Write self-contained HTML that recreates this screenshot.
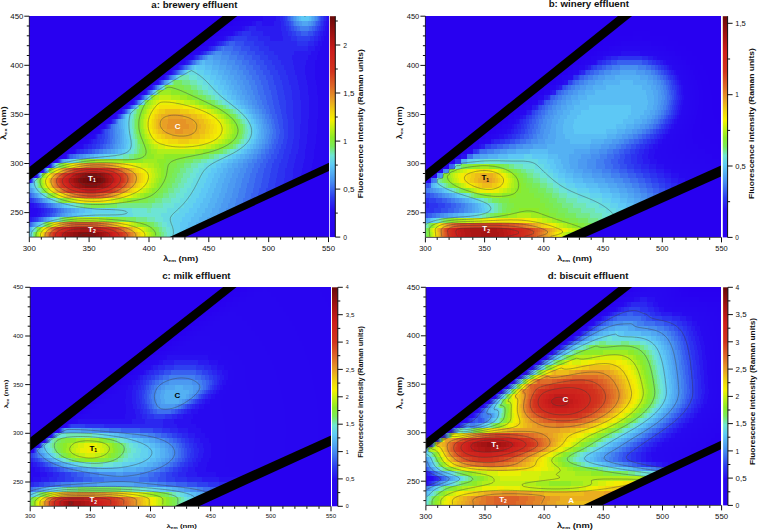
<!DOCTYPE html><html><head><meta charset="utf-8"><style>html,body{margin:0;padding:0;background:#fff;width:758px;height:531px;overflow:hidden}svg{display:block;font-family:"Liberation Sans",sans-serif}</style></head><body><svg width="758" height="531" viewBox="0 0 758 531" font-family="Liberation Sans, sans-serif">
<rect x="29" y="16" width="300" height="221" fill="#2800f0"/>
<path fill="#2801f0" d="M234 16h3v5h-3zM228 21h2v5h-2zM221 26h2v5h-2zM215 31h2v5h-2zM209 36h1v5h-1zM202 41h2v5h-2zM196 46h1v5h-1zM190 51h1v4h-1zM183 55h2v5h-2zM177 60h1v5h-1zM171 65h1v5h-1zM158 75h1v5h-1zM152 80h1v5h-1zM146 85h1v5h-1zM127 100h1v5h-1zM121 105h1v4h-1zM115 109h1v5h-1zM109 114h1v5h-1zM103 119h1v5h-1zM96 124h2v5h-2zM90 129h2v5h-2zM84 134h2v5h-2zM78 139h2v5h-2zM72 144h1v5h-1zM65 149h2v5h-2zM59 154h1v5h-1zM46 163h1v5h-1z"/>
<path fill="#2802f0" d="M237 16h3v5h-3zM230 21h3v5h-3zM223 26h3v5h-3zM217 31h2v5h-2zM210 36h2v5h-2zM204 41h1v5h-1zM197 46h2v5h-2zM191 51h1v4h-1zM185 55h1v5h-1zM178 60h1v5h-1zM172 65h1v5h-1zM165 70h1v5h-1zM159 75h1v5h-1zM153 80h1v5h-1zM140 90h1v5h-1zM134 95h1v5h-1zM128 100h1v5h-1zM122 105h1v4h-1zM116 109h1v5h-1zM110 114h1v5h-1zM104 119h1v5h-1zM98 124h1v5h-1zM92 129h1v5h-1zM86 134h1v5h-1zM80 139h1v5h-1zM73 144h2v5h-2zM67 149h1v5h-1zM60 154h1v5h-1zM53 159h1v4h-1zM40 168h1v5h-1z"/>
<path fill="#2804f0" d="M240 16h3v5h-3zM233 21h2v5h-2zM226 26h2v5h-2zM219 31h2v5h-2zM212 36h2v5h-2zM205 41h2v5h-2zM199 46h1v5h-1zM192 51h1v4h-1zM186 55h1v5h-1zM179 60h1v5h-1zM173 65h1v5h-1zM166 70h1v5h-1zM160 75h1v5h-1zM147 85h1v5h-1zM141 90h1v5h-1zM135 95h1v5h-1zM129 100h1v5h-1zM123 105h1v4h-1zM117 109h1v5h-1zM111 114h1v5h-1zM105 119h1v5h-1zM99 124h1v5h-1zM93 129h1v5h-1zM87 134h2v5h-2zM81 139h2v5h-2zM75 144h1v5h-1zM68 149h1v5h-1zM61 154h1v5h-1zM47 163h1v5h-1zM34 173h1v5h-1z"/>
<path fill="#2805f0" d="M243 16h3v5h-3zM235 21h3v5h-3zM228 26h2v5h-2zM221 31h2v5h-2zM214 36h2v5h-2zM207 41h2v5h-2zM200 46h2v5h-2zM193 51h2v4h-2zM187 55h1v5h-1zM180 60h1v5h-1zM167 70h1v5h-1zM154 80h1v5h-1zM148 85h1v5h-1zM142 90h1v5h-1zM118 109h1v5h-1zM112 114h1v5h-1zM106 119h1v5h-1zM100 124h1v5h-1zM94 129h2v5h-2zM89 134h1v5h-1zM83 139h1v5h-1zM76 144h2v5h-2zM69 149h1v5h-1zM62 154h1v5h-1zM54 159h1v4h-1z"/>
<path fill="#2806f0" d="M246 16h4v5h-4zM238 21h3v5h-3zM230 26h3v5h-3zM223 31h2v5h-2zM216 36h2v5h-2zM209 41h1v5h-1zM202 46h1v5h-1zM195 51h1v4h-1zM188 55h1v5h-1zM181 60h1v5h-1zM174 65h1v5h-1zM168 70h1v5h-1zM161 75h1v5h-1zM155 80h1v5h-1zM136 95h1v5h-1zM130 100h1v5h-1zM124 105h1v4h-1zM113 114h1v5h-1zM107 119h1v5h-1zM101 124h1v5h-1zM96 129h1v5h-1zM90 134h1v5h-1zM84 139h2v5h-2zM78 144h1v5h-1zM70 149h2v5h-2zM55 159h1v4h-1zM48 163h1v5h-1zM41 168h1v5h-1z"/>
<path fill="#2807f0" d="M250 16h4v5h-4zM241 21h4v5h-4zM233 26h3v5h-3zM225 31h2v5h-2zM218 36h2v5h-2zM210 41h2v5h-2zM203 46h1v5h-1zM196 51h1v4h-1zM189 55h1v5h-1zM182 60h1v5h-1zM175 65h1v5h-1zM169 70h1v5h-1zM162 75h1v5h-1zM149 85h1v5h-1zM143 90h1v5h-1zM137 95h1v5h-1zM131 100h1v5h-1zM125 105h1v4h-1zM119 109h1v5h-1zM108 119h1v5h-1zM102 124h1v5h-1zM97 129h1v5h-1zM91 134h2v5h-2zM86 139h1v5h-1zM79 144h1v5h-1zM72 149h1v5h-1zM63 154h1v5h-1zM35 173h1v5h-1zM29 178h1v5h-1zM29 208h3v5h-3zM29 213h2v4h-2z"/>
<path fill="#2808f0" d="M254 16h4v5h-4zM245 21h3v5h-3zM236 26h3v5h-3zM227 31h3v5h-3zM220 36h2v5h-2zM328 36h1v5h-1zM212 41h2v5h-2zM326 41h3v5h-3zM204 46h2v5h-2zM325 46h4v5h-4zM197 51h2v4h-2zM324 51h5v4h-5zM190 55h1v5h-1zM324 55h5v5h-5zM183 60h1v5h-1zM324 60h5v5h-5zM176 65h1v5h-1zM324 65h5v5h-5zM324 70h5v5h-5zM163 75h1v5h-1zM325 75h4v5h-4zM156 80h1v5h-1zM326 80h3v5h-3zM150 85h1v5h-1zM327 85h2v5h-2zM144 90h1v5h-1zM327 90h2v5h-2zM138 95h1v5h-1zM328 95h1v5h-1zM132 100h1v5h-1zM328 100h1v5h-1zM126 105h1v4h-1zM328 105h1v4h-1zM120 109h1v5h-1zM328 109h1v5h-1zM114 114h1v5h-1zM328 114h1v5h-1zM109 119h1v5h-1zM327 119h2v5h-2zM103 124h1v5h-1zM327 124h2v5h-2zM98 129h1v5h-1zM326 129h3v5h-3zM93 134h1v5h-1zM326 134h3v5h-3zM87 139h1v5h-1zM325 139h4v5h-4zM80 144h2v5h-2zM325 144h4v5h-4zM73 149h1v5h-1zM324 149h5v5h-5zM64 154h1v5h-1zM324 154h5v5h-5zM56 159h1v4h-1zM323 159h6v4h-6zM322 163h7v5h-7zM42 168h1v5h-1zM32 208h3v5h-3zM31 213h3v4h-3z"/>
<path fill="#2809f0" d="M258 16h5v5h-5zM248 21h4v5h-4zM328 21h1v5h-1zM239 26h3v5h-3zM327 26h2v5h-2zM230 31h3v5h-3zM326 31h3v5h-3zM222 36h2v5h-2zM324 36h4v5h-4zM214 41h1v5h-1zM322 41h4v5h-4zM206 46h2v5h-2zM320 46h5v5h-5zM199 51h1v4h-1zM318 51h6v4h-6zM191 55h2v5h-2zM317 55h7v5h-7zM184 60h1v5h-1zM315 60h9v5h-9zM177 65h1v5h-1zM315 65h9v5h-9zM170 70h1v5h-1zM315 70h9v5h-9zM315 75h10v5h-10zM157 80h1v5h-1zM316 80h10v5h-10zM317 85h10v5h-10zM317 90h10v5h-10zM318 95h10v5h-10zM318 100h10v5h-10zM318 105h10v4h-10zM121 109h1v5h-1zM318 109h10v5h-10zM115 114h1v5h-1zM318 114h10v5h-10zM110 119h1v5h-1zM317 119h10v5h-10zM104 124h1v5h-1zM317 124h10v5h-10zM99 129h1v5h-1zM317 129h9v5h-9zM94 134h1v5h-1zM316 134h10v5h-10zM88 139h1v5h-1zM316 139h9v5h-9zM82 144h1v5h-1zM315 144h10v5h-10zM74 149h1v5h-1zM314 149h10v5h-10zM65 154h1v5h-1zM314 154h10v5h-10zM313 159h10v4h-10zM49 163h1v5h-1zM312 163h10v5h-10zM311 168h10v5h-10zM29 203h2v5h-2zM35 208h3v5h-3zM34 213h3v4h-3z"/>
<path fill="#2910f0" d="M263 16h13v5h-13zM327 16h2v5h-2zM252 21h4v5h-4zM262 21h12v5h-12zM326 21h2v5h-2zM242 26h3v5h-3zM325 26h2v5h-2zM233 31h2v5h-2zM323 31h3v5h-3zM224 36h2v5h-2zM321 36h3v5h-3zM215 41h2v5h-2zM318 41h4v5h-4zM208 46h1v5h-1zM315 46h5v5h-5zM200 51h1v4h-1zM311 51h7v4h-7zM193 55h1v5h-1zM308 55h9v5h-9zM185 60h1v5h-1zM306 60h9v5h-9zM178 65h1v5h-1zM305 65h10v5h-10zM171 70h1v5h-1zM305 70h10v5h-10zM164 75h1v5h-1zM306 75h9v5h-9zM158 80h1v5h-1zM307 80h9v5h-9zM151 85h1v5h-1zM308 85h9v5h-9zM145 90h1v5h-1zM308 90h9v5h-9zM139 95h1v5h-1zM309 95h9v5h-9zM133 100h1v5h-1zM309 100h9v5h-9zM127 105h1v4h-1zM309 105h9v4h-9zM309 109h9v5h-9zM116 114h1v5h-1zM309 114h9v5h-9zM111 119h1v5h-1zM308 119h9v5h-9zM105 124h1v5h-1zM308 124h9v5h-9zM100 129h1v5h-1zM308 129h9v5h-9zM95 134h1v5h-1zM307 134h9v5h-9zM89 139h2v5h-2zM307 139h9v5h-9zM83 144h1v5h-1zM306 144h9v5h-9zM75 149h1v5h-1zM305 149h9v5h-9zM66 154h1v5h-1zM305 154h9v5h-9zM57 159h1v4h-1zM304 159h9v4h-9zM303 163h9v5h-9zM302 168h9v5h-9zM36 173h1v5h-1zM301 173h9v5h-9zM30 178h1v5h-1zM31 203h3v5h-3zM38 208h3v5h-3zM37 213h3v4h-3zM29 217h1v5h-1z"/>
<path fill="#2a1bf0" d="M276 16h4v5h-4zM326 16h1v5h-1zM256 21h6v5h-6zM274 21h7v5h-7zM324 21h2v5h-2zM245 26h4v5h-4zM256 26h25v5h-25zM323 26h2v5h-2zM235 31h3v5h-3zM263 31h19v5h-19zM320 31h3v5h-3zM226 36h2v5h-2zM270 36h13v5h-13zM318 36h3v5h-3zM217 41h2v5h-2zM314 41h4v5h-4zM209 46h2v5h-2zM308 46h7v5h-7zM201 51h2v4h-2zM294 51h17v4h-17zM194 55h1v5h-1zM292 55h16v5h-16zM186 60h2v5h-2zM293 60h13v5h-13zM179 65h1v5h-1zM294 65h11v5h-11zM172 70h1v5h-1zM295 70h10v5h-10zM165 75h1v5h-1zM297 75h9v5h-9zM298 80h9v5h-9zM152 85h1v5h-1zM299 85h9v5h-9zM146 90h1v5h-1zM300 90h8v5h-8zM140 95h1v5h-1zM300 95h9v5h-9zM134 100h1v5h-1zM301 100h8v5h-8zM128 105h1v4h-1zM301 105h8v4h-8zM122 109h1v5h-1zM301 109h8v5h-8zM117 114h1v5h-1zM301 114h8v5h-8zM301 119h7v5h-7zM106 124h1v5h-1zM300 124h8v5h-8zM101 129h1v5h-1zM300 129h8v5h-8zM96 134h1v5h-1zM300 134h7v5h-7zM91 139h2v5h-2zM299 139h8v5h-8zM84 144h4v5h-4zM299 144h7v5h-7zM76 149h1v5h-1zM298 149h7v5h-7zM296 154h9v5h-9zM295 159h9v4h-9zM50 163h1v5h-1zM294 163h9v5h-9zM43 168h1v5h-1zM293 168h9v5h-9zM293 173h8v5h-8zM292 178h8v5h-8zM34 203h3v5h-3zM41 208h3v5h-3zM40 213h2v4h-2zM30 217h2v5h-2z"/>
<path fill="#2b27f0" d="M280 16h3v5h-3zM324 16h2v5h-2zM281 21h3v5h-3zM323 21h1v5h-1zM249 26h7v5h-7zM281 26h5v5h-5zM321 26h2v5h-2zM238 31h4v5h-4zM251 31h12v5h-12zM282 31h6v5h-6zM318 31h2v5h-2zM228 36h3v5h-3zM258 36h12v5h-12zM283 36h8v5h-8zM314 36h4v5h-4zM219 41h3v5h-3zM264 41h33v5h-33zM308 41h6v5h-6zM211 46h2v5h-2zM269 46h39v5h-39zM203 51h1v4h-1zM274 51h20v4h-20zM195 55h1v5h-1zM278 55h14v5h-14zM188 60h1v5h-1zM281 60h12v5h-12zM180 65h1v5h-1zM284 65h10v5h-10zM173 70h1v5h-1zM286 70h9v5h-9zM166 75h1v5h-1zM288 75h9v5h-9zM159 80h1v5h-1zM289 80h9v5h-9zM291 85h8v5h-8zM292 90h8v5h-8zM292 95h8v5h-8zM293 100h8v5h-8zM129 105h1v4h-1zM293 105h8v4h-8zM123 109h1v5h-1zM293 109h8v5h-8zM293 114h8v5h-8zM112 119h1v5h-1zM294 119h7v5h-7zM107 124h1v5h-1zM294 124h6v5h-6zM102 129h1v5h-1zM294 129h6v5h-6zM97 134h1v5h-1zM294 134h6v5h-6zM93 139h4v5h-4zM293 139h6v5h-6zM88 144h4v5h-4zM292 144h7v5h-7zM77 149h3v5h-3zM291 149h7v5h-7zM67 154h1v5h-1zM289 154h7v5h-7zM58 159h1v4h-1zM288 159h7v4h-7zM287 163h7v5h-7zM285 168h8v5h-8zM285 173h8v5h-8zM284 178h8v5h-8zM283 183h6v5h-6zM29 198h1v5h-1zM37 203h2v5h-2zM44 208h3v5h-3zM42 213h3v4h-3zM32 217h2v5h-2z"/>
<path fill="#2c33f0" d="M283 16h2v5h-2zM323 16h1v5h-1zM284 21h2v5h-2zM321 21h2v5h-2zM286 26h3v5h-3zM319 26h2v5h-2zM242 31h9v5h-9zM288 31h4v5h-4zM315 31h3v5h-3zM231 36h3v5h-3zM247 36h11v5h-11zM291 36h6v5h-6zM310 36h4v5h-4zM222 41h2v5h-2zM254 41h10v5h-10zM297 41h11v5h-11zM213 46h2v5h-2zM259 46h10v5h-10zM204 51h2v4h-2zM264 51h10v4h-10zM196 55h2v5h-2zM268 55h10v5h-10zM189 60h1v5h-1zM272 60h9v5h-9zM181 65h1v5h-1zM275 65h9v5h-9zM174 70h1v5h-1zM278 70h8v5h-8zM167 75h1v5h-1zM280 75h8v5h-8zM160 80h1v5h-1zM282 80h7v5h-7zM153 85h1v5h-1zM283 85h8v5h-8zM147 90h1v5h-1zM284 90h8v5h-8zM141 95h1v5h-1zM285 95h7v5h-7zM135 100h1v5h-1zM286 100h7v5h-7zM286 105h7v4h-7zM124 109h1v5h-1zM286 109h7v5h-7zM118 114h1v5h-1zM287 114h6v5h-6zM113 119h1v5h-1zM288 119h6v5h-6zM108 124h1v5h-1zM288 124h6v5h-6zM103 129h1v5h-1zM288 129h6v5h-6zM98 134h4v5h-4zM288 134h6v5h-6zM97 139h3v5h-3zM287 139h6v5h-6zM92 144h4v5h-4zM286 144h6v5h-6zM80 149h4v5h-4zM284 149h7v5h-7zM68 154h1v5h-1zM283 154h6v5h-6zM281 159h7v4h-7zM279 163h8v5h-8zM278 168h7v5h-7zM37 173h1v5h-1zM277 173h8v5h-8zM31 178h1v5h-1zM276 178h8v5h-8zM275 183h8v5h-8zM274 188h4v5h-4zM30 198h2v5h-2zM39 203h2v5h-2zM47 208h3v5h-3zM45 213h2v4h-2zM34 217h2v5h-2z"/>
<path fill="#2e40f0" d="M285 16h2v5h-2zM321 16h2v5h-2zM286 21h3v5h-3zM320 21h1v5h-1zM289 26h2v5h-2zM317 26h2v5h-2zM292 31h4v5h-4zM313 31h2v5h-2zM234 36h13v5h-13zM297 36h13v5h-13zM224 41h2v5h-2zM244 41h10v5h-10zM215 46h1v5h-1zM250 46h9v5h-9zM206 51h1v4h-1zM255 51h9v4h-9zM198 55h1v5h-1zM260 55h8v5h-8zM190 60h1v5h-1zM264 60h8v5h-8zM182 65h1v5h-1zM267 65h8v5h-8zM175 70h1v5h-1zM270 70h8v5h-8zM168 75h1v5h-1zM273 75h7v5h-7zM274 80h8v5h-8zM154 85h1v5h-1zM276 85h7v5h-7zM277 90h7v5h-7zM278 95h7v5h-7zM136 100h1v5h-1zM279 100h7v5h-7zM130 105h1v4h-1zM280 105h6v4h-6zM281 109h5v5h-5zM119 114h1v5h-1zM282 114h5v5h-5zM114 119h1v5h-1zM283 119h5v5h-5zM109 124h1v5h-1zM283 124h5v5h-5zM104 129h1v5h-1zM284 129h4v5h-4zM102 134h3v5h-3zM284 134h4v5h-4zM100 139h4v5h-4zM283 139h4v5h-4zM96 144h4v5h-4zM281 144h5v5h-5zM84 149h4v5h-4zM279 149h5v5h-5zM277 154h6v5h-6zM59 159h1v4h-1zM274 159h7v4h-7zM51 163h1v5h-1zM272 163h7v5h-7zM271 168h7v5h-7zM270 173h7v5h-7zM269 178h7v5h-7zM268 183h7v5h-7zM266 188h8v5h-8zM265 193h2v5h-2zM32 198h2v5h-2zM41 203h3v5h-3zM50 208h3v5h-3zM47 213h3v4h-3zM36 217h2v5h-2z"/>
<path fill="#3350f0" d="M287 16h1v5h-1zM320 16h1v5h-1zM289 21h2v5h-2zM318 21h2v5h-2zM291 26h3v5h-3zM315 26h2v5h-2zM296 31h5v5h-5zM308 31h5v5h-5zM226 41h3v5h-3zM235 41h9v5h-9zM216 46h2v5h-2zM241 46h9v5h-9zM207 51h2v4h-2zM247 51h8v4h-8zM199 55h1v5h-1zM252 55h8v5h-8zM191 60h1v5h-1zM256 60h8v5h-8zM183 65h1v5h-1zM260 65h7v5h-7zM176 70h1v5h-1zM263 70h7v5h-7zM266 75h7v5h-7zM161 80h1v5h-1zM268 80h6v5h-6zM269 85h7v5h-7zM148 90h1v5h-1zM271 90h6v5h-6zM142 95h1v5h-1zM272 95h6v5h-6zM273 100h6v5h-6zM274 105h6v4h-6zM125 109h1v5h-1zM275 109h6v5h-6zM120 114h1v5h-1zM277 114h5v5h-5zM115 119h1v5h-1zM278 119h5v5h-5zM110 124h1v5h-1zM279 124h4v5h-4zM105 129h3v5h-3zM280 129h4v5h-4zM105 134h3v5h-3zM279 134h5v5h-5zM104 139h3v5h-3zM278 139h5v5h-5zM100 144h3v5h-3zM276 144h5v5h-5zM88 149h4v5h-4zM274 149h5v5h-5zM69 154h1v5h-1zM271 154h6v5h-6zM268 159h6v4h-6zM266 163h6v5h-6zM44 168h1v5h-1zM264 168h7v5h-7zM263 173h7v5h-7zM262 178h7v5h-7zM261 183h7v5h-7zM259 188h7v5h-7zM258 193h7v5h-7zM34 198h2v5h-2zM44 203h2v5h-2zM53 208h3v5h-3zM50 213h2v4h-2zM38 217h1v5h-1z"/>
<path fill="#3860f0" d="M288 16h2v5h-2zM319 16h1v5h-1zM291 21h2v5h-2zM316 21h2v5h-2zM294 26h3v5h-3zM312 26h3v5h-3zM301 31h7v5h-7zM229 41h6v5h-6zM218 46h3v5h-3zM233 46h8v5h-8zM209 51h2v4h-2zM239 51h8v4h-8zM200 55h2v5h-2zM244 55h8v5h-8zM192 60h1v5h-1zM249 60h7v5h-7zM184 65h1v5h-1zM253 65h7v5h-7zM177 70h1v5h-1zM256 70h7v5h-7zM169 75h1v5h-1zM259 75h7v5h-7zM162 80h1v5h-1zM261 80h7v5h-7zM155 85h1v5h-1zM263 85h6v5h-6zM149 90h1v5h-1zM264 90h7v5h-7zM143 95h1v5h-1zM266 95h6v5h-6zM137 100h1v5h-1zM267 100h6v5h-6zM131 105h1v4h-1zM269 105h5v4h-5zM126 109h1v5h-1zM270 109h5v5h-5zM272 114h5v5h-5zM274 119h4v5h-4zM275 124h4v5h-4zM108 129h2v5h-2zM276 129h4v5h-4zM108 134h2v5h-2zM276 134h3v5h-3zM107 139h3v5h-3zM274 139h4v5h-4zM103 144h3v5h-3zM272 144h4v5h-4zM92 149h3v5h-3zM269 149h5v5h-5zM70 154h3v5h-3zM266 154h5v5h-5zM60 159h1v4h-1zM263 159h5v4h-5zM260 163h6v5h-6zM258 168h6v5h-6zM38 173h1v5h-1zM256 173h7v5h-7zM32 178h1v5h-1zM255 178h7v5h-7zM254 183h7v5h-7zM253 188h6v5h-6zM29 193h2v5h-2zM251 193h7v5h-7zM36 198h2v5h-2zM250 198h6v5h-6zM46 203h2v5h-2zM56 208h2v5h-2zM52 213h3v4h-3zM39 217h2v5h-2zM29 222h2v5h-2z"/>
<path fill="#3d70f0" d="M290 16h1v5h-1zM318 16h1v5h-1zM293 21h1v5h-1zM315 21h1v5h-1zM297 26h3v5h-3zM309 26h3v5h-3zM221 46h2v5h-2zM224 46h9v5h-9zM211 51h2v4h-2zM231 51h8v4h-8zM202 55h1v5h-1zM237 55h7v5h-7zM193 60h2v5h-2zM242 60h7v5h-7zM185 65h2v5h-2zM246 65h7v5h-7zM178 70h1v5h-1zM249 70h7v5h-7zM170 75h1v5h-1zM252 75h7v5h-7zM163 80h1v5h-1zM255 80h6v5h-6zM156 85h1v5h-1zM257 85h6v5h-6zM258 90h6v5h-6zM260 95h6v5h-6zM262 100h5v5h-5zM132 105h1v4h-1zM264 105h5v4h-5zM266 109h4v5h-4zM121 114h1v5h-1zM269 114h3v5h-3zM116 119h1v5h-1zM271 119h3v5h-3zM111 124h2v5h-2zM272 124h3v5h-3zM110 129h3v5h-3zM273 129h3v5h-3zM110 134h3v5h-3zM272 134h4v5h-4zM110 139h2v5h-2zM271 139h3v5h-3zM106 144h4v5h-4zM269 144h3v5h-3zM95 149h4v5h-4zM265 149h4v5h-4zM73 154h3v5h-3zM261 154h5v5h-5zM257 159h6v4h-6zM52 163h1v5h-1zM254 163h6v5h-6zM252 168h6v5h-6zM250 173h6v5h-6zM249 178h6v5h-6zM247 183h7v5h-7zM246 188h7v5h-7zM31 193h1v5h-1zM245 193h6v5h-6zM38 198h2v5h-2zM243 198h7v5h-7zM48 203h3v5h-3zM241 203h5v5h-5zM58 208h3v5h-3zM55 213h2v4h-2zM41 217h2v5h-2zM31 222h1v5h-1z"/>
<path fill="#4280f0" d="M291 16h2v5h-2zM317 16h1v5h-1zM294 21h2v5h-2zM313 21h2v5h-2zM300 26h9v5h-9zM223 46h1v5h-1zM213 51h2v4h-2zM222 51h9v4h-9zM203 55h2v5h-2zM229 55h8v5h-8zM195 60h1v5h-1zM235 60h7v5h-7zM187 65h1v5h-1zM239 65h7v5h-7zM179 70h1v5h-1zM243 70h6v5h-6zM171 75h1v5h-1zM246 75h6v5h-6zM249 80h6v5h-6zM251 85h6v5h-6zM150 90h1v5h-1zM253 90h5v5h-5zM144 95h1v5h-1zM255 95h5v5h-5zM138 100h1v5h-1zM257 100h5v5h-5zM259 105h5v4h-5zM127 109h1v5h-1zM262 109h4v5h-4zM122 114h1v5h-1zM265 114h4v5h-4zM117 119h1v5h-1zM267 119h4v5h-4zM113 124h2v5h-2zM269 124h3v5h-3zM113 129h2v5h-2zM270 129h3v5h-3zM113 134h2v5h-2zM269 134h3v5h-3zM112 139h3v5h-3zM268 139h3v5h-3zM110 144h3v5h-3zM265 144h4v5h-4zM99 149h4v5h-4zM261 149h4v5h-4zM76 154h3v5h-3zM257 154h4v5h-4zM61 159h1v4h-1zM252 159h5v4h-5zM248 163h6v5h-6zM45 168h1v5h-1zM246 168h6v5h-6zM244 173h6v5h-6zM242 178h7v5h-7zM241 183h6v5h-6zM239 188h7v5h-7zM32 193h2v5h-2zM238 193h7v5h-7zM40 198h2v5h-2zM236 198h7v5h-7zM51 203h2v5h-2zM235 203h6v5h-6zM61 208h3v5h-3zM233 208h2v5h-2zM57 213h3v4h-3zM43 217h1v5h-1zM32 222h1v5h-1z"/>
<path fill="#478ff0" d="M293 16h1v5h-1zM315 16h2v5h-2zM296 21h3v5h-3zM311 21h2v5h-2zM215 51h7v4h-7zM205 55h2v5h-2zM221 55h8v5h-8zM196 60h1v5h-1zM227 60h8v5h-8zM188 65h1v5h-1zM232 65h7v5h-7zM180 70h1v5h-1zM237 70h6v5h-6zM172 75h1v5h-1zM240 75h6v5h-6zM164 80h1v5h-1zM243 80h6v5h-6zM157 85h1v5h-1zM245 85h6v5h-6zM151 90h1v5h-1zM247 90h6v5h-6zM250 95h5v5h-5zM139 100h1v5h-1zM252 100h5v5h-5zM133 105h1v4h-1zM255 105h4v4h-4zM259 109h3v5h-3zM262 114h3v5h-3zM264 119h3v5h-3zM115 124h2v5h-2zM266 124h3v5h-3zM115 129h2v5h-2zM267 129h3v5h-3zM115 134h3v5h-3zM266 134h3v5h-3zM115 139h2v5h-2zM265 139h3v5h-3zM113 144h2v5h-2zM262 144h3v5h-3zM103 149h4v5h-4zM258 149h3v5h-3zM79 154h4v5h-4zM253 154h4v5h-4zM247 159h5v4h-5zM53 163h1v5h-1zM243 163h5v5h-5zM240 168h6v5h-6zM238 173h6v5h-6zM236 178h6v5h-6zM235 183h6v5h-6zM29 188h1v5h-1zM233 188h6v5h-6zM34 193h1v5h-1zM232 193h6v5h-6zM42 198h1v5h-1zM230 198h6v5h-6zM53 203h2v5h-2zM228 203h7v5h-7zM64 208h3v5h-3zM226 208h7v5h-7zM60 213h2v4h-2zM224 213h1v4h-1zM44 217h2v5h-2zM33 222h1v5h-1z"/>
<path fill="#4c9af1" d="M294 16h2v5h-2zM314 16h1v5h-1zM299 21h3v5h-3zM308 21h3v5h-3zM207 55h1v5h-1zM213 55h8v5h-8zM197 60h2v5h-2zM220 60h7v5h-7zM189 65h1v5h-1zM226 65h6v5h-6zM181 70h1v5h-1zM230 70h7v5h-7zM173 75h1v5h-1zM234 75h6v5h-6zM165 80h1v5h-1zM237 80h6v5h-6zM158 85h1v5h-1zM240 85h5v5h-5zM242 90h5v5h-5zM145 95h1v5h-1zM245 95h5v5h-5zM248 100h4v5h-4zM134 105h1v4h-1zM252 105h3v4h-3zM128 109h1v5h-1zM255 109h4v5h-4zM123 114h1v5h-1zM259 114h3v5h-3zM118 119h1v5h-1zM262 119h2v5h-2zM117 124h2v5h-2zM263 124h3v5h-3zM117 129h3v5h-3zM264 129h3v5h-3zM118 134h2v5h-2zM264 134h2v5h-2zM117 139h3v5h-3zM262 139h3v5h-3zM115 144h3v5h-3zM259 144h3v5h-3zM107 149h4v5h-4zM254 149h4v5h-4zM83 154h3v5h-3zM249 154h4v5h-4zM62 159h1v4h-1zM243 159h4v4h-4zM238 163h5v5h-5zM234 168h6v5h-6zM39 173h1v5h-1zM232 173h6v5h-6zM33 178h1v5h-1zM230 178h6v5h-6zM228 183h7v5h-7zM30 188h2v5h-2zM227 188h6v5h-6zM35 193h2v5h-2zM225 193h7v5h-7zM43 198h2v5h-2zM223 198h7v5h-7zM55 203h2v5h-2zM221 203h7v5h-7zM67 208h4v5h-4zM219 208h7v5h-7zM62 213h3v4h-3zM217 213h7v4h-7zM46 217h1v5h-1zM34 222h1v5h-1z"/>
<path fill="#50a6f2" d="M296 16h1v5h-1zM312 16h2v5h-2zM302 21h6v5h-6zM208 55h5v5h-5zM199 60h1v5h-1zM213 60h7v5h-7zM190 65h1v5h-1zM219 65h7v5h-7zM182 70h1v5h-1zM224 70h6v5h-6zM174 75h1v5h-1zM228 75h6v5h-6zM166 80h1v5h-1zM231 80h6v5h-6zM234 85h6v5h-6zM152 90h1v5h-1zM237 90h5v5h-5zM146 95h1v5h-1zM240 95h5v5h-5zM140 100h1v5h-1zM244 100h4v5h-4zM248 105h4v4h-4zM129 109h1v5h-1zM252 109h3v5h-3zM124 114h1v5h-1zM256 114h3v5h-3zM119 119h2v5h-2zM259 119h3v5h-3zM119 124h2v5h-2zM261 124h2v5h-2zM120 129h2v5h-2zM261 129h3v5h-3zM120 134h2v5h-2zM261 134h3v5h-3zM120 139h2v5h-2zM259 139h3v5h-3zM118 144h3v5h-3zM256 144h3v5h-3zM111 149h4v5h-4zM251 149h3v5h-3zM86 154h4v5h-4zM245 154h4v5h-4zM63 159h1v4h-1zM238 159h5v4h-5zM232 163h6v5h-6zM46 168h1v5h-1zM228 168h6v5h-6zM226 173h6v5h-6zM224 178h6v5h-6zM29 183h1v5h-1zM222 183h6v5h-6zM32 188h1v5h-1zM221 188h6v5h-6zM37 193h1v5h-1zM219 193h6v5h-6zM45 198h2v5h-2zM217 198h6v5h-6zM57 203h3v5h-3zM215 203h6v5h-6zM71 208h4v5h-4zM212 208h7v5h-7zM65 213h3v4h-3zM210 213h7v4h-7zM47 217h2v5h-2zM207 217h8v5h-8zM35 222h1v5h-1zM204 222h1v5h-1zM29 227h1v5h-1z"/>
<path fill="#54b1f3" d="M297 16h2v5h-2zM311 16h1v5h-1zM200 60h2v5h-2zM205 60h8v5h-8zM191 65h1v5h-1zM212 65h7v5h-7zM183 70h1v5h-1zM218 70h6v5h-6zM175 75h1v5h-1zM222 75h6v5h-6zM167 80h1v5h-1zM226 80h5v5h-5zM159 85h1v5h-1zM229 85h5v5h-5zM232 90h5v5h-5zM236 95h4v5h-4zM240 100h4v5h-4zM135 105h1v4h-1zM245 105h3v4h-3zM249 109h3v5h-3zM253 114h3v5h-3zM121 119h2v5h-2zM256 119h3v5h-3zM121 124h2v5h-2zM258 124h3v5h-3zM122 129h2v5h-2zM259 129h2v5h-2zM122 134h2v5h-2zM258 134h3v5h-3zM122 139h2v5h-2zM256 139h3v5h-3zM121 144h3v5h-3zM253 144h3v5h-3zM115 149h3v5h-3zM247 149h4v5h-4zM90 154h4v5h-4zM240 154h5v5h-5zM64 159h2v4h-2zM233 159h5v4h-5zM54 163h1v5h-1zM227 163h5v5h-5zM223 168h5v5h-5zM220 173h6v5h-6zM218 178h6v5h-6zM30 183h1v5h-1zM216 183h6v5h-6zM33 188h1v5h-1zM214 188h7v5h-7zM38 193h1v5h-1zM212 193h7v5h-7zM47 198h1v5h-1zM210 198h7v5h-7zM60 203h2v5h-2zM208 203h7v5h-7zM75 208h4v5h-4zM205 208h7v5h-7zM68 213h4v4h-4zM202 213h8v4h-8zM49 217h1v5h-1zM199 217h8v5h-8zM36 222h1v5h-1zM196 222h8v5h-8zM30 227h1v5h-1z"/>
<path fill="#59bdf4" d="M299 16h2v5h-2zM309 16h2v5h-2zM202 60h3v5h-3zM192 65h2v5h-2zM205 65h7v5h-7zM184 70h1v5h-1zM211 70h7v5h-7zM216 75h6v5h-6zM168 80h1v5h-1zM220 80h6v5h-6zM160 85h1v5h-1zM224 85h5v5h-5zM153 90h1v5h-1zM227 90h5v5h-5zM147 95h1v5h-1zM231 95h5v5h-5zM141 100h1v5h-1zM236 100h4v5h-4zM241 105h4v4h-4zM130 109h1v5h-1zM246 109h3v5h-3zM125 114h1v5h-1zM251 114h2v5h-2zM123 119h2v5h-2zM254 119h2v5h-2zM123 124h2v5h-2zM256 124h2v5h-2zM124 129h1v5h-1zM257 129h2v5h-2zM124 134h2v5h-2zM256 134h2v5h-2zM124 139h3v5h-3zM254 139h2v5h-2zM124 144h2v5h-2zM250 144h3v5h-3zM118 149h4v5h-4zM244 149h3v5h-3zM94 154h4v5h-4zM236 154h4v5h-4zM66 159h2v4h-2zM228 159h5v4h-5zM221 163h6v5h-6zM217 168h6v5h-6zM214 173h6v5h-6zM34 178h1v5h-1zM212 178h6v5h-6zM31 183h1v5h-1zM210 183h6v5h-6zM34 188h1v5h-1zM208 188h6v5h-6zM39 193h2v5h-2zM206 193h6v5h-6zM48 198h2v5h-2zM203 198h7v5h-7zM62 203h2v5h-2zM200 203h8v5h-8zM79 208h6v5h-6zM197 208h8v5h-8zM72 213h5v4h-5zM194 213h8v4h-8zM50 217h2v5h-2zM191 217h8v5h-8zM37 222h1v5h-1zM188 222h8v5h-8zM31 227h1v5h-1zM186 227h8v5h-8z"/>
<path fill="#5dc8f5" d="M301 16h8v5h-8zM194 65h1v5h-1zM196 65h9v5h-9zM185 70h1v5h-1zM204 70h7v5h-7zM176 75h1v5h-1zM210 75h6v5h-6zM214 80h6v5h-6zM161 85h1v5h-1zM218 85h6v5h-6zM154 90h1v5h-1zM222 90h5v5h-5zM227 95h4v5h-4zM233 100h3v5h-3zM136 105h1v4h-1zM238 105h3v4h-3zM244 109h2v5h-2zM126 114h1v5h-1zM248 114h3v5h-3zM125 119h2v5h-2zM251 119h3v5h-3zM125 124h2v5h-2zM254 124h2v5h-2zM125 129h2v5h-2zM254 129h3v5h-3zM126 134h2v5h-2zM254 134h2v5h-2zM127 139h2v5h-2zM251 139h3v5h-3zM126 144h2v5h-2zM247 144h3v5h-3zM122 149h3v5h-3zM241 149h3v5h-3zM98 154h6v5h-6zM232 154h4v5h-4zM68 159h2v4h-2zM223 159h5v4h-5zM216 163h5v5h-5zM211 168h6v5h-6zM40 173h1v5h-1zM208 173h6v5h-6zM206 178h6v5h-6zM32 183h2v5h-2zM204 183h6v5h-6zM35 188h1v5h-1zM201 188h7v5h-7zM41 193h1v5h-1zM199 193h7v5h-7zM50 198h1v5h-1zM196 198h7v5h-7zM64 203h3v5h-3zM193 203h7v5h-7zM85 208h7v5h-7zM189 208h8v5h-8zM77 213h6v4h-6zM185 213h9v4h-9zM52 217h1v5h-1zM182 217h9v5h-9zM38 222h2v5h-2zM180 222h8v5h-8zM180 227h6v5h-6zM29 232h1v5h-1zM179 232h4v5h-4z"/>
<path fill="#62d2ee" d="M195 65h1v5h-1zM186 70h1v5h-1zM197 70h7v5h-7zM177 75h1v5h-1zM203 75h7v5h-7zM169 80h1v5h-1zM209 80h5v5h-5zM213 85h5v5h-5zM218 90h4v5h-4zM148 95h1v5h-1zM223 95h4v5h-4zM142 100h1v5h-1zM229 100h4v5h-4zM235 105h3v4h-3zM131 109h1v5h-1zM241 109h3v5h-3zM127 114h2v5h-2zM246 114h2v5h-2zM127 119h2v5h-2zM249 119h2v5h-2zM127 124h2v5h-2zM251 124h3v5h-3zM127 129h2v5h-2zM252 129h2v5h-2zM128 134h2v5h-2zM251 134h3v5h-3zM129 139h2v5h-2zM249 139h2v5h-2zM128 144h3v5h-3zM244 144h3v5h-3zM125 149h3v5h-3zM237 149h4v5h-4zM104 154h6v5h-6zM228 154h4v5h-4zM70 159h2v4h-2zM218 159h5v4h-5zM55 163h1v5h-1zM210 163h6v5h-6zM47 168h1v5h-1zM205 168h6v5h-6zM202 173h6v5h-6zM200 178h6v5h-6zM34 183h1v5h-1zM197 183h7v5h-7zM36 188h2v5h-2zM194 188h7v5h-7zM42 193h1v5h-1zM191 193h8v5h-8zM51 198h2v5h-2zM188 198h8v5h-8zM67 203h3v5h-3zM184 203h9v5h-9zM92 208h23v5h-23zM179 208h10v5h-10zM83 213h12v4h-12zM174 213h11v4h-11zM53 217h2v5h-2zM172 217h10v5h-10zM40 222h1v5h-1zM173 222h7v5h-7zM32 227h1v5h-1zM174 227h6v5h-6zM30 232h1v5h-1zM174 232h5v5h-5z"/>
<path fill="#67dbe2" d="M187 70h1v5h-1zM189 70h8v5h-8zM178 75h1v5h-1zM197 75h6v5h-6zM170 80h1v5h-1zM203 80h6v5h-6zM162 85h1v5h-1zM208 85h5v5h-5zM155 90h1v5h-1zM213 90h5v5h-5zM219 95h4v5h-4zM143 100h1v5h-1zM225 100h4v5h-4zM137 105h1v4h-1zM232 105h3v4h-3zM132 109h1v5h-1zM238 109h3v5h-3zM129 114h2v5h-2zM243 114h3v5h-3zM129 119h1v5h-1zM247 119h2v5h-2zM129 124h1v5h-1zM249 124h2v5h-2zM129 129h2v5h-2zM250 129h2v5h-2zM130 134h2v5h-2zM249 134h2v5h-2zM131 139h2v5h-2zM246 139h3v5h-3zM131 144h2v5h-2zM241 144h3v5h-3zM128 149h3v5h-3zM234 149h3v5h-3zM110 154h6v5h-6zM224 154h4v5h-4zM72 159h2v4h-2zM213 159h5v4h-5zM204 163h6v5h-6zM199 168h6v5h-6zM196 173h6v5h-6zM193 178h7v5h-7zM35 183h1v5h-1zM191 183h6v5h-6zM38 188h1v5h-1zM187 188h7v5h-7zM43 193h2v5h-2zM184 193h7v5h-7zM53 198h2v5h-2zM180 198h8v5h-8zM70 203h3v5h-3zM174 203h10v5h-10zM115 208h17v5h-17zM167 208h12v5h-12zM95 213h38v4h-38zM161 213h13v4h-13zM55 217h2v5h-2zM163 217h9v5h-9zM41 222h1v5h-1zM167 222h6v5h-6zM33 227h1v5h-1zM170 227h4v5h-4zM31 232h1v5h-1zM170 232h4v5h-4z"/>
<path fill="#6de4d5" d="M188 70h1v5h-1zM179 75h1v5h-1zM189 75h8v5h-8zM171 80h1v5h-1zM197 80h6v5h-6zM163 85h1v5h-1zM202 85h6v5h-6zM208 90h5v5h-5zM149 95h1v5h-1zM215 95h4v5h-4zM222 100h3v5h-3zM229 105h3v4h-3zM133 109h1v5h-1zM236 109h2v5h-2zM131 114h2v5h-2zM241 114h2v5h-2zM130 119h2v5h-2zM245 119h2v5h-2zM130 124h2v5h-2zM247 124h2v5h-2zM131 129h2v5h-2zM248 129h2v5h-2zM132 134h1v5h-1zM247 134h2v5h-2zM133 139h2v5h-2zM244 139h2v5h-2zM133 144h2v5h-2zM238 144h3v5h-3zM131 149h3v5h-3zM230 149h4v5h-4zM116 154h7v5h-7zM219 154h5v5h-5zM74 159h2v4h-2zM207 159h6v4h-6zM198 163h6v5h-6zM193 168h6v5h-6zM190 173h6v5h-6zM35 178h1v5h-1zM187 178h6v5h-6zM36 183h1v5h-1zM184 183h7v5h-7zM39 188h1v5h-1zM180 188h7v5h-7zM45 193h1v5h-1zM176 193h8v5h-8zM55 198h1v5h-1zM171 198h9v5h-9zM73 203h3v5h-3zM163 203h11v5h-11zM132 208h15v5h-15zM151 208h16v5h-16zM133 213h28v4h-28zM57 217h2v5h-2zM155 217h8v5h-8zM42 222h1v5h-1zM162 222h5v5h-5zM34 227h1v5h-1zM166 227h4v5h-4zM32 232h1v5h-1zM167 232h3v5h-3z"/>
<path fill="#71e7b3" d="M180 75h9v5h-9zM172 80h1v5h-1zM190 80h7v5h-7zM164 85h1v5h-1zM197 85h5v5h-5zM156 90h1v5h-1zM203 90h5v5h-5zM150 95h1v5h-1zM211 95h4v5h-4zM144 100h1v5h-1zM218 100h4v5h-4zM138 105h1v4h-1zM226 105h3v4h-3zM134 109h2v5h-2zM233 109h3v5h-3zM133 114h1v5h-1zM238 114h3v5h-3zM132 119h2v5h-2zM242 119h3v5h-3zM132 124h2v5h-2zM245 124h2v5h-2zM133 129h1v5h-1zM245 129h3v5h-3zM133 134h2v5h-2zM244 134h3v5h-3zM135 139h2v5h-2zM241 139h3v5h-3zM135 144h2v5h-2zM236 144h2v5h-2zM134 149h3v5h-3zM227 149h3v5h-3zM123 154h6v5h-6zM214 154h5v5h-5zM76 159h3v4h-3zM201 159h6v4h-6zM56 163h2v5h-2zM191 163h7v5h-7zM48 168h1v5h-1zM186 168h7v5h-7zM41 173h1v5h-1zM183 173h7v5h-7zM36 178h1v5h-1zM181 178h6v5h-6zM37 183h1v5h-1zM178 183h6v5h-6zM40 188h1v5h-1zM174 188h6v5h-6zM46 193h1v5h-1zM169 193h7v5h-7zM56 198h2v5h-2zM162 198h9v5h-9zM76 203h4v5h-4zM152 203h11v5h-11zM147 208h4v5h-4zM59 217h1v5h-1zM147 217h8v5h-8zM43 222h1v5h-1zM158 222h4v5h-4zM35 227h1v5h-1zM162 227h4v5h-4zM164 232h3v5h-3z"/>
<path fill="#74e989" d="M173 80h1v5h-1zM182 80h8v5h-8zM191 85h6v5h-6zM157 90h1v5h-1zM198 90h5v5h-5zM206 95h5v5h-5zM215 100h3v5h-3zM223 105h3v4h-3zM136 109h1v5h-1zM230 109h3v5h-3zM134 114h2v5h-2zM236 114h2v5h-2zM134 119h1v5h-1zM240 119h2v5h-2zM134 124h1v5h-1zM243 124h2v5h-2zM134 129h2v5h-2zM243 129h2v5h-2zM135 134h2v5h-2zM242 134h2v5h-2zM137 139h1v5h-1zM239 139h2v5h-2zM137 144h3v5h-3zM233 144h3v5h-3zM137 149h2v5h-2zM223 149h4v5h-4zM129 154h5v5h-5zM209 154h5v5h-5zM79 159h2v4h-2zM193 159h8v4h-8zM58 163h1v5h-1zM184 163h7v5h-7zM180 168h6v5h-6zM177 173h6v5h-6zM37 178h1v5h-1zM175 178h6v5h-6zM38 183h1v5h-1zM172 183h6v5h-6zM41 188h1v5h-1zM168 188h6v5h-6zM47 193h1v5h-1zM163 193h6v5h-6zM58 198h2v5h-2zM155 198h7v5h-7zM80 203h4v5h-4zM117 203h35v5h-35zM60 217h2v5h-2zM136 217h11v5h-11zM44 222h1v5h-1zM154 222h4v5h-4zM36 227h1v5h-1zM159 227h3v5h-3zM33 232h1v5h-1zM161 232h3v5h-3z"/>
<path fill="#78eb5f" d="M174 80h8v5h-8zM165 85h1v5h-1zM184 85h7v5h-7zM193 90h5v5h-5zM151 95h1v5h-1zM202 95h4v5h-4zM145 100h1v5h-1zM211 100h4v5h-4zM139 105h2v4h-2zM220 105h3v4h-3zM137 109h2v5h-2zM228 109h2v5h-2zM136 114h2v5h-2zM234 114h2v5h-2zM135 119h2v5h-2zM238 119h2v5h-2zM135 124h2v5h-2zM240 124h3v5h-3zM136 129h1v5h-1zM241 129h2v5h-2zM137 134h2v5h-2zM240 134h2v5h-2zM138 139h2v5h-2zM236 139h3v5h-3zM140 144h2v5h-2zM229 144h4v5h-4zM139 149h3v5h-3zM219 149h4v5h-4zM134 154h4v5h-4zM203 154h6v5h-6zM81 159h3v4h-3zM185 159h8v4h-8zM59 163h1v5h-1zM177 163h7v5h-7zM174 168h6v5h-6zM172 173h5v5h-5zM38 178h1v5h-1zM170 178h5v5h-5zM39 183h1v5h-1zM167 183h5v5h-5zM42 188h1v5h-1zM163 188h5v5h-5zM48 193h2v5h-2zM158 193h5v5h-5zM60 198h1v5h-1zM148 198h7v5h-7zM84 203h7v5h-7zM105 203h12v5h-12zM62 217h2v5h-2zM126 217h10v5h-10zM45 222h1v5h-1zM150 222h4v5h-4zM157 227h2v5h-2zM34 232h1v5h-1zM159 232h2v5h-2z"/>
<path fill="#7eeb4a" d="M166 85h1v5h-1zM175 85h9v5h-9zM158 90h1v5h-1zM187 90h6v5h-6zM197 95h5v5h-5zM207 100h4v5h-4zM141 105h2v4h-2zM217 105h3v4h-3zM139 109h2v5h-2zM225 109h3v5h-3zM138 114h1v5h-1zM231 114h3v5h-3zM137 119h1v5h-1zM236 119h2v5h-2zM137 124h1v5h-1zM238 124h2v5h-2zM137 129h2v5h-2zM239 129h2v5h-2zM139 134h1v5h-1zM237 134h3v5h-3zM140 139h2v5h-2zM233 139h3v5h-3zM142 144h2v5h-2zM226 144h3v5h-3zM142 149h3v5h-3zM214 149h5v5h-5zM138 154h5v5h-5zM195 154h8v5h-8zM84 159h3v4h-3zM176 159h9v4h-9zM60 163h2v5h-2zM170 163h7v5h-7zM169 168h5v5h-5zM168 173h4v5h-4zM39 178h1v5h-1zM166 178h4v5h-4zM40 183h1v5h-1zM163 183h4v5h-4zM43 188h1v5h-1zM159 188h4v5h-4zM50 193h1v5h-1zM153 193h5v5h-5zM61 198h2v5h-2zM139 198h9v5h-9zM91 203h14v5h-14zM64 217h3v5h-3zM118 217h8v5h-8zM46 222h1v5h-1zM147 222h3v5h-3zM37 227h1v5h-1zM154 227h3v5h-3zM35 232h1v5h-1zM156 232h3v5h-3z"/>
<path fill="#85eb39" d="M167 85h8v5h-8zM159 90h1v5h-1zM180 90h7v5h-7zM152 95h1v5h-1zM192 95h5v5h-5zM146 100h1v5h-1zM204 100h3v5h-3zM143 105h1v4h-1zM214 105h3v4h-3zM141 109h1v5h-1zM222 109h3v5h-3zM139 114h2v5h-2zM229 114h2v5h-2zM138 119h2v5h-2zM233 119h3v5h-3zM138 124h2v5h-2zM236 124h2v5h-2zM139 129h2v5h-2zM237 129h2v5h-2zM140 134h2v5h-2zM235 134h2v5h-2zM142 139h2v5h-2zM231 139h2v5h-2zM144 144h2v5h-2zM223 144h3v5h-3zM145 149h3v5h-3zM209 149h5v5h-5zM143 154h4v5h-4zM185 154h10v5h-10zM87 159h3v4h-3zM166 159h10v4h-10zM62 163h1v5h-1zM164 163h6v5h-6zM49 168h1v5h-1zM164 168h5v5h-5zM42 173h1v5h-1zM164 173h4v5h-4zM40 178h1v5h-1zM162 178h4v5h-4zM159 183h4v5h-4zM44 188h1v5h-1zM155 188h4v5h-4zM51 193h1v5h-1zM149 193h4v5h-4zM63 198h2v5h-2zM132 198h7v5h-7zM67 217h2v5h-2zM112 217h6v5h-6zM47 222h1v5h-1zM144 222h3v5h-3zM38 227h1v5h-1zM152 227h2v5h-2zM155 232h1v5h-1z"/>
<path fill="#8deb28" d="M171 90h9v5h-9zM187 95h5v5h-5zM147 100h2v5h-2zM199 100h5v5h-5zM144 105h2v4h-2zM211 105h3v4h-3zM142 109h2v5h-2zM220 109h2v5h-2zM141 114h1v5h-1zM226 114h3v5h-3zM140 119h1v5h-1zM231 119h2v5h-2zM140 124h1v5h-1zM234 124h2v5h-2zM141 129h1v5h-1zM234 129h3v5h-3zM142 134h2v5h-2zM232 134h3v5h-3zM144 139h2v5h-2zM228 139h3v5h-3zM146 144h3v5h-3zM219 144h4v5h-4zM148 149h3v5h-3zM203 149h6v5h-6zM147 154h7v5h-7zM164 154h21v5h-21zM90 159h5v4h-5zM123 159h20v4h-20zM157 159h9v4h-9zM63 163h1v5h-1zM159 163h5v5h-5zM50 168h1v5h-1zM161 168h3v5h-3zM43 173h1v5h-1zM161 173h3v5h-3zM41 178h1v5h-1zM159 178h3v5h-3zM41 183h1v5h-1zM157 183h2v5h-2zM45 188h1v5h-1zM152 188h3v5h-3zM52 193h1v5h-1zM144 193h5v5h-5zM65 198h2v5h-2zM127 198h5v5h-5zM69 217h4v5h-4zM106 217h6v5h-6zM48 222h1v5h-1zM140 222h4v5h-4zM39 227h1v5h-1zM150 227h2v5h-2zM36 232h1v5h-1zM153 232h2v5h-2z"/>
<path fill="#9eed21" d="M160 90h11v5h-11zM153 95h2v5h-2zM180 95h7v5h-7zM149 100h2v5h-2zM195 100h4v5h-4zM146 105h2v4h-2zM207 105h4v4h-4zM144 109h2v5h-2zM217 109h3v5h-3zM142 114h2v5h-2zM224 114h2v5h-2zM141 119h2v5h-2zM229 119h2v5h-2zM141 124h2v5h-2zM231 124h3v5h-3zM142 129h2v5h-2zM232 129h2v5h-2zM144 134h1v5h-1zM230 134h2v5h-2zM146 139h2v5h-2zM225 139h3v5h-3zM149 144h2v5h-2zM215 144h4v5h-4zM151 149h6v5h-6zM195 149h8v5h-8zM154 154h10v5h-10zM95 159h28v4h-28zM143 159h14v4h-14zM64 163h2v5h-2zM154 163h5v5h-5zM51 168h1v5h-1zM157 168h4v5h-4zM44 173h1v5h-1zM158 173h3v5h-3zM156 178h3v5h-3zM42 183h1v5h-1zM154 183h3v5h-3zM46 188h1v5h-1zM149 188h3v5h-3zM53 193h2v5h-2zM140 193h4v5h-4zM67 198h2v5h-2zM123 198h4v5h-4zM73 217h4v5h-4zM99 217h7v5h-7zM49 222h1v5h-1zM137 222h3v5h-3zM40 227h1v5h-1zM148 227h2v5h-2zM37 232h1v5h-1zM151 232h2v5h-2z"/>
<path fill="#b0ef1a" d="M155 95h4v5h-4zM171 95h9v5h-9zM151 100h2v5h-2zM190 100h5v5h-5zM148 105h2v4h-2zM203 105h4v4h-4zM146 109h1v5h-1zM214 109h3v5h-3zM144 114h1v5h-1zM221 114h3v5h-3zM143 119h1v5h-1zM226 119h3v5h-3zM143 124h1v5h-1zM229 124h2v5h-2zM144 129h1v5h-1zM229 129h3v5h-3zM145 134h2v5h-2zM227 134h3v5h-3zM148 139h2v5h-2zM222 139h3v5h-3zM151 144h3v5h-3zM211 144h4v5h-4zM157 149h38v5h-38zM66 163h1v5h-1zM148 163h6v5h-6zM52 168h1v5h-1zM154 168h3v5h-3zM45 173h1v5h-1zM155 173h3v5h-3zM42 178h1v5h-1zM154 178h2v5h-2zM43 183h1v5h-1zM151 183h3v5h-3zM47 188h1v5h-1zM146 188h3v5h-3zM55 193h1v5h-1zM137 193h3v5h-3zM69 198h2v5h-2zM119 198h4v5h-4zM77 217h22v5h-22zM50 222h1v5h-1zM134 222h3v5h-3zM146 227h2v5h-2zM38 232h1v5h-1zM149 232h2v5h-2z"/>
<path fill="#c2f013" d="M159 95h12v5h-12zM153 100h3v5h-3zM184 100h6v5h-6zM150 105h2v4h-2zM199 105h4v4h-4zM147 109h2v5h-2zM211 109h3v5h-3zM145 114h2v5h-2zM218 114h3v5h-3zM144 119h2v5h-2zM224 119h2v5h-2zM144 124h2v5h-2zM226 124h3v5h-3zM145 129h2v5h-2zM226 129h3v5h-3zM147 134h2v5h-2zM224 134h3v5h-3zM150 139h2v5h-2zM218 139h4v5h-4zM154 144h4v5h-4zM206 144h5v5h-5zM67 163h2v5h-2zM141 163h7v5h-7zM53 168h1v5h-1zM151 168h3v5h-3zM46 173h1v5h-1zM152 173h3v5h-3zM43 178h1v5h-1zM151 178h3v5h-3zM44 183h1v5h-1zM149 183h2v5h-2zM48 188h1v5h-1zM143 188h3v5h-3zM56 193h1v5h-1zM133 193h4v5h-4zM71 198h3v5h-3zM115 198h4v5h-4zM51 222h1v5h-1zM131 222h3v5h-3zM41 227h1v5h-1zM144 227h2v5h-2zM147 232h2v5h-2z"/>
<path fill="#d5f00b" d="M156 100h3v5h-3zM176 100h8v5h-8zM152 105h2v4h-2zM195 105h4v4h-4zM149 109h2v5h-2zM207 109h4v5h-4zM147 114h2v5h-2zM216 114h2v5h-2zM146 119h1v5h-1zM221 119h3v5h-3zM146 124h1v5h-1zM223 124h3v5h-3zM147 129h1v5h-1zM224 129h2v5h-2zM149 134h2v5h-2zM221 134h3v5h-3zM152 139h2v5h-2zM214 139h4v5h-4zM158 144h7v5h-7zM199 144h7v5h-7zM69 163h1v5h-1zM136 163h5v5h-5zM54 168h1v5h-1zM147 168h4v5h-4zM47 173h1v5h-1zM150 173h2v5h-2zM44 178h1v5h-1zM149 178h2v5h-2zM45 183h1v5h-1zM146 183h3v5h-3zM49 188h1v5h-1zM140 188h3v5h-3zM57 193h1v5h-1zM131 193h2v5h-2zM74 198h3v5h-3zM111 198h4v5h-4zM52 222h1v5h-1zM129 222h2v5h-2zM42 227h1v5h-1zM142 227h2v5h-2zM39 232h1v5h-1zM146 232h1v5h-1z"/>
<path fill="#e9f004" d="M159 100h17v5h-17zM154 105h2v4h-2zM190 105h5v4h-5zM151 109h2v5h-2zM204 109h3v5h-3zM149 114h1v5h-1zM212 114h4v5h-4zM147 119h2v5h-2zM218 119h3v5h-3zM147 124h2v5h-2zM220 124h3v5h-3zM148 129h2v5h-2zM220 129h4v5h-4zM151 134h1v5h-1zM218 134h3v5h-3zM154 139h3v5h-3zM210 139h4v5h-4zM165 144h15v5h-15zM185 144h14v5h-14zM70 163h2v5h-2zM132 163h4v5h-4zM55 168h2v5h-2zM144 168h3v5h-3zM48 173h1v5h-1zM147 173h3v5h-3zM45 178h1v5h-1zM147 178h2v5h-2zM46 183h1v5h-1zM144 183h2v5h-2zM50 188h1v5h-1zM138 188h2v5h-2zM58 193h2v5h-2zM128 193h3v5h-3zM77 198h3v5h-3zM108 198h3v5h-3zM53 222h1v5h-1zM126 222h3v5h-3zM43 227h1v5h-1zM140 227h2v5h-2zM40 232h1v5h-1zM144 232h2v5h-2z"/>
<path fill="#f4ec02" d="M156 105h3v4h-3zM183 105h7v4h-7zM153 109h1v5h-1zM200 109h4v5h-4zM150 114h2v5h-2zM209 114h3v5h-3zM149 119h2v5h-2zM215 119h3v5h-3zM149 124h1v5h-1zM217 124h3v5h-3zM150 129h2v5h-2zM217 129h3v5h-3zM152 134h3v5h-3zM214 134h4v5h-4zM157 139h5v5h-5zM205 139h5v5h-5zM180 144h5v5h-5zM72 163h2v5h-2zM128 163h4v5h-4zM57 168h1v5h-1zM141 168h3v5h-3zM49 173h1v5h-1zM145 173h2v5h-2zM46 178h1v5h-1zM145 178h2v5h-2zM47 183h1v5h-1zM142 183h2v5h-2zM51 188h1v5h-1zM136 188h2v5h-2zM60 193h1v5h-1zM126 193h2v5h-2zM80 198h4v5h-4zM103 198h5v5h-5zM54 222h1v5h-1zM124 222h2v5h-2zM44 227h1v5h-1zM138 227h2v5h-2zM41 232h1v5h-1zM143 232h1v5h-1z"/>
<path fill="#f3e207" d="M159 105h24v4h-24zM154 109h3v5h-3zM195 109h5v5h-5zM152 114h2v5h-2zM206 114h3v5h-3zM151 119h1v5h-1zM211 119h4v5h-4zM150 124h2v5h-2zM214 124h3v5h-3zM152 129h1v5h-1zM213 129h4v5h-4zM155 134h2v5h-2zM210 134h4v5h-4zM162 139h6v5h-6zM199 139h6v5h-6zM74 163h1v5h-1zM125 163h3v5h-3zM58 168h1v5h-1zM139 168h2v5h-2zM50 173h1v5h-1zM143 173h2v5h-2zM47 178h1v5h-1zM143 178h2v5h-2zM48 183h1v5h-1zM140 183h2v5h-2zM52 188h1v5h-1zM134 188h2v5h-2zM61 193h2v5h-2zM123 193h3v5h-3zM84 198h9v5h-9zM94 198h9v5h-9zM55 222h2v5h-2zM121 222h3v5h-3zM45 227h1v5h-1zM137 227h1v5h-1zM141 232h2v5h-2z"/>
<path fill="#f1d70d" d="M157 109h2v5h-2zM189 109h6v5h-6zM154 114h1v5h-1zM202 114h4v5h-4zM152 119h2v5h-2zM208 119h3v5h-3zM152 124h2v5h-2zM210 124h4v5h-4zM153 129h3v5h-3zM209 129h4v5h-4zM157 134h4v5h-4zM205 134h5v5h-5zM168 139h10v5h-10zM189 139h10v5h-10zM75 163h2v5h-2zM122 163h3v5h-3zM59 168h1v5h-1zM136 168h3v5h-3zM141 173h2v5h-2zM48 178h1v5h-1zM141 178h2v5h-2zM49 183h1v5h-1zM138 183h2v5h-2zM53 188h1v5h-1zM132 188h2v5h-2zM63 193h1v5h-1zM121 193h2v5h-2zM93 198h1v5h-1zM57 222h1v5h-1zM119 222h2v5h-2zM135 227h2v5h-2zM42 232h1v5h-1zM140 232h1v5h-1z"/>
<path fill="#efcb12" d="M159 109h6v5h-6zM180 109h9v5h-9zM155 114h3v5h-3zM197 114h5v5h-5zM154 119h2v5h-2zM204 119h4v5h-4zM154 124h2v5h-2zM206 124h4v5h-4zM156 129h2v5h-2zM205 129h4v5h-4zM161 134h4v5h-4zM200 134h5v5h-5zM178 139h11v5h-11zM77 163h2v5h-2zM119 163h3v5h-3zM60 168h1v5h-1zM134 168h2v5h-2zM51 173h1v5h-1zM139 173h2v5h-2zM139 178h2v5h-2zM50 183h1v5h-1zM136 183h2v5h-2zM54 188h1v5h-1zM130 188h2v5h-2zM64 193h2v5h-2zM119 193h2v5h-2zM58 222h1v5h-1zM117 222h2v5h-2zM46 227h1v5h-1zM133 227h2v5h-2zM43 232h1v5h-1zM138 232h2v5h-2z"/>
<path fill="#edbc19" d="M165 109h15v5h-15zM158 114h3v5h-3zM191 114h6v5h-6zM156 119h2v5h-2zM199 119h5v5h-5zM156 124h2v5h-2zM201 124h5v5h-5zM158 129h4v5h-4zM199 129h6v5h-6zM165 134h7v5h-7zM192 134h8v5h-8zM79 163h2v5h-2zM116 163h3v5h-3zM61 168h1v5h-1zM132 168h2v5h-2zM52 173h1v5h-1zM137 173h2v5h-2zM49 178h1v5h-1zM137 178h2v5h-2zM51 183h1v5h-1zM134 183h2v5h-2zM55 188h1v5h-1zM128 188h2v5h-2zM66 193h1v5h-1zM117 193h2v5h-2zM59 222h1v5h-1zM114 222h3v5h-3zM47 227h1v5h-1zM132 227h1v5h-1zM137 232h1v5h-1z"/>
<path fill="#eaae1f" d="M161 114h7v5h-7zM183 114h8v5h-8zM158 119h4v5h-4zM193 119h6v5h-6zM158 124h4v5h-4zM195 124h6v5h-6zM162 129h4v5h-4zM193 129h6v5h-6zM172 134h20v5h-20zM81 163h3v5h-3zM113 163h3v5h-3zM62 168h1v5h-1zM130 168h2v5h-2zM53 173h1v5h-1zM136 173h1v5h-1zM50 178h1v5h-1zM136 178h1v5h-1zM133 183h1v5h-1zM56 188h1v5h-1zM127 188h1v5h-1zM67 193h2v5h-2zM115 193h2v5h-2zM60 222h2v5h-2zM112 222h2v5h-2zM48 227h1v5h-1zM130 227h2v5h-2zM44 232h1v5h-1zM135 232h2v5h-2z"/>
<path fill="#e8a026" d="M168 114h15v5h-15zM162 119h6v5h-6zM186 119h7v5h-7zM162 124h5v5h-5zM189 124h6v5h-6zM166 129h9v5h-9zM183 129h10v5h-10zM84 163h2v5h-2zM110 163h3v5h-3zM63 168h1v5h-1zM129 168h1v5h-1zM54 173h1v5h-1zM134 173h2v5h-2zM51 178h1v5h-1zM134 178h2v5h-2zM52 183h1v5h-1zM131 183h2v5h-2zM57 188h2v5h-2zM125 188h2v5h-2zM69 193h1v5h-1zM113 193h2v5h-2zM62 222h1v5h-1zM109 222h3v5h-3zM49 227h1v5h-1zM128 227h2v5h-2zM45 232h1v5h-1zM134 232h1v5h-1z"/>
<path fill="#e69326" d="M168 119h18v5h-18zM167 124h22v5h-22zM175 129h8v5h-8zM86 163h4v5h-4zM105 163h5v5h-5zM64 168h1v5h-1zM127 168h2v5h-2zM55 173h1v5h-1zM133 173h1v5h-1zM52 178h1v5h-1zM133 178h1v5h-1zM53 183h1v5h-1zM130 183h1v5h-1zM59 188h1v5h-1zM124 188h1v5h-1zM70 193h2v5h-2zM111 193h2v5h-2zM63 222h2v5h-2zM107 222h2v5h-2zM50 227h1v5h-1zM127 227h1v5h-1zM46 232h1v5h-1zM133 232h1v5h-1z"/>
<path fill="#e38627" d="M90 163h15v5h-15zM65 168h1v5h-1zM125 168h2v5h-2zM56 173h1v5h-1zM131 173h2v5h-2zM53 178h1v5h-1zM131 178h2v5h-2zM54 183h1v5h-1zM129 183h1v5h-1zM60 188h1v5h-1zM122 188h2v5h-2zM72 193h2v5h-2zM109 193h2v5h-2zM65 222h2v5h-2zM104 222h3v5h-3zM125 227h2v5h-2zM47 232h1v5h-1zM131 232h2v5h-2z"/>
<path fill="#e17a27" d="M66 168h2v5h-2zM123 168h2v5h-2zM57 173h1v5h-1zM130 173h1v5h-1zM54 178h1v5h-1zM130 178h1v5h-1zM55 183h1v5h-1zM127 183h2v5h-2zM61 188h1v5h-1zM121 188h1v5h-1zM74 193h3v5h-3zM106 193h3v5h-3zM67 222h2v5h-2zM101 222h3v5h-3zM51 227h1v5h-1zM124 227h1v5h-1zM130 232h1v5h-1z"/>
<path fill="#df6d28" d="M68 168h1v5h-1zM122 168h1v5h-1zM58 173h1v5h-1zM128 173h2v5h-2zM55 178h1v5h-1zM129 178h1v5h-1zM56 183h1v5h-1zM126 183h1v5h-1zM62 188h1v5h-1zM119 188h2v5h-2zM77 193h2v5h-2zM104 193h2v5h-2zM69 222h2v5h-2zM98 222h3v5h-3zM52 227h1v5h-1zM122 227h2v5h-2zM48 232h1v5h-1zM129 232h1v5h-1z"/>
<path fill="#dc6127" d="M69 168h1v5h-1zM120 168h2v5h-2zM59 173h1v5h-1zM127 173h1v5h-1zM128 178h1v5h-1zM57 183h1v5h-1zM125 183h1v5h-1zM63 188h1v5h-1zM118 188h1v5h-1zM79 193h3v5h-3zM100 193h4v5h-4zM71 222h4v5h-4zM93 222h5v5h-5zM53 227h1v5h-1zM121 227h1v5h-1zM49 232h1v5h-1zM127 232h2v5h-2z"/>
<path fill="#da5725" d="M70 168h2v5h-2zM119 168h1v5h-1zM60 173h1v5h-1zM126 173h1v5h-1zM56 178h1v5h-1zM126 178h2v5h-2zM58 183h1v5h-1zM123 183h2v5h-2zM64 188h2v5h-2zM116 188h2v5h-2zM82 193h5v5h-5zM96 193h4v5h-4zM75 222h18v5h-18zM54 227h1v5h-1zM119 227h2v5h-2zM50 232h1v5h-1zM126 232h1v5h-1z"/>
<path fill="#d74c23" d="M72 168h1v5h-1zM117 168h2v5h-2zM61 173h1v5h-1zM124 173h2v5h-2zM57 178h1v5h-1zM125 178h1v5h-1zM59 183h1v5h-1zM122 183h1v5h-1zM66 188h1v5h-1zM115 188h1v5h-1zM87 193h9v5h-9zM55 227h1v5h-1zM117 227h2v5h-2zM51 232h1v5h-1zM125 232h1v5h-1z"/>
<path fill="#d54121" d="M73 168h1v5h-1zM115 168h2v5h-2zM62 173h1v5h-1zM123 173h1v5h-1zM58 178h1v5h-1zM124 178h1v5h-1zM60 183h1v5h-1zM121 183h1v5h-1zM67 188h1v5h-1zM113 188h2v5h-2zM56 227h1v5h-1zM116 227h1v5h-1zM52 232h1v5h-1zM123 232h2v5h-2z"/>
<path fill="#d3371f" d="M74 168h2v5h-2zM114 168h1v5h-1zM63 173h1v5h-1zM122 173h1v5h-1zM59 178h1v5h-1zM123 178h1v5h-1zM61 183h1v5h-1zM120 183h1v5h-1zM68 188h2v5h-2zM112 188h1v5h-1zM57 227h1v5h-1zM114 227h2v5h-2zM122 232h1v5h-1z"/>
<path fill="#d1311e" d="M76 168h2v5h-2zM112 168h2v5h-2zM64 173h1v5h-1zM121 173h1v5h-1zM60 178h1v5h-1zM122 178h1v5h-1zM62 183h1v5h-1zM118 183h2v5h-2zM70 188h1v5h-1zM110 188h2v5h-2zM58 227h2v5h-2zM113 227h1v5h-1zM53 232h1v5h-1zM120 232h2v5h-2z"/>
<path fill="#d12e1d" d="M78 168h1v5h-1zM110 168h2v5h-2zM65 173h1v5h-1zM119 173h2v5h-2zM61 178h1v5h-1zM120 178h2v5h-2zM63 183h1v5h-1zM117 183h1v5h-1zM71 188h2v5h-2zM108 188h2v5h-2zM60 227h1v5h-1zM111 227h2v5h-2zM54 232h1v5h-1zM119 232h1v5h-1z"/>
<path fill="#d02b1d" d="M79 168h2v5h-2zM108 168h2v5h-2zM66 173h1v5h-1zM118 173h1v5h-1zM62 178h1v5h-1zM119 178h1v5h-1zM64 183h2v5h-2zM116 183h1v5h-1zM73 188h2v5h-2zM107 188h1v5h-1zM61 227h1v5h-1zM109 227h2v5h-2zM55 232h1v5h-1zM118 232h1v5h-1z"/>
<path fill="#cf271d" d="M81 168h3v5h-3zM105 168h3v5h-3zM67 173h1v5h-1zM117 173h1v5h-1zM63 178h1v5h-1zM118 178h1v5h-1zM66 183h1v5h-1zM115 183h1v5h-1zM75 188h2v5h-2zM105 188h2v5h-2zM62 227h2v5h-2zM107 227h2v5h-2zM56 232h1v5h-1zM116 232h2v5h-2z"/>
<path fill="#ce241d" d="M84 168h2v5h-2zM102 168h3v5h-3zM68 173h1v5h-1zM116 173h1v5h-1zM64 178h1v5h-1zM117 178h1v5h-1zM67 183h1v5h-1zM113 183h2v5h-2zM77 188h2v5h-2zM103 188h2v5h-2zM64 227h1v5h-1zM105 227h2v5h-2zM57 232h2v5h-2zM115 232h1v5h-1z"/>
<path fill="#ce201c" d="M86 168h4v5h-4zM98 168h4v5h-4zM69 173h2v5h-2zM114 173h2v5h-2zM65 178h1v5h-1zM116 178h1v5h-1zM68 183h1v5h-1zM112 183h1v5h-1zM79 188h3v5h-3zM100 188h3v5h-3zM65 227h2v5h-2zM103 227h2v5h-2zM59 232h1v5h-1zM113 232h2v5h-2z"/>
<path fill="#ca1d1b" d="M90 168h8v5h-8zM71 173h1v5h-1zM113 173h1v5h-1zM66 178h2v5h-2zM115 178h1v5h-1zM69 183h2v5h-2zM111 183h1v5h-1zM82 188h3v5h-3zM96 188h4v5h-4zM67 227h2v5h-2zM101 227h2v5h-2zM60 232h1v5h-1zM112 232h1v5h-1z"/>
<path fill="#c21b1a" d="M72 173h1v5h-1zM112 173h1v5h-1zM68 178h1v5h-1zM113 178h2v5h-2zM71 183h1v5h-1zM109 183h2v5h-2zM85 188h11v5h-11zM69 227h2v5h-2zM98 227h3v5h-3zM61 232h1v5h-1zM110 232h2v5h-2z"/>
<path fill="#ba1918" d="M73 173h2v5h-2zM110 173h2v5h-2zM69 178h1v5h-1zM112 178h1v5h-1zM72 183h2v5h-2zM108 183h1v5h-1zM71 227h3v5h-3zM94 227h4v5h-4zM62 232h2v5h-2zM108 232h2v5h-2z"/>
<path fill="#b21716" d="M75 173h1v5h-1zM109 173h1v5h-1zM70 178h1v5h-1zM111 178h1v5h-1zM74 183h1v5h-1zM106 183h2v5h-2zM74 227h6v5h-6zM88 227h6v5h-6zM64 232h1v5h-1zM106 232h2v5h-2z"/>
<path fill="#aa1514" d="M76 173h2v5h-2zM107 173h2v5h-2zM71 178h2v5h-2zM109 178h2v5h-2zM75 183h2v5h-2zM105 183h1v5h-1zM80 227h8v5h-8zM65 232h2v5h-2zM104 232h2v5h-2z"/>
<path fill="#a31313" d="M78 173h2v5h-2zM105 173h2v5h-2zM73 178h1v5h-1zM108 178h1v5h-1zM77 183h2v5h-2zM103 183h2v5h-2zM67 232h3v5h-3zM102 232h2v5h-2z"/>
<path fill="#991111" d="M80 173h2v5h-2zM103 173h2v5h-2zM74 178h2v5h-2zM106 178h2v5h-2zM79 183h3v5h-3zM100 183h3v5h-3zM70 232h3v5h-3zM99 232h3v5h-3z"/>
<path fill="#901010" d="M82 173h3v5h-3zM101 173h2v5h-2zM76 178h2v5h-2zM105 178h1v5h-1zM82 183h3v5h-3zM97 183h3v5h-3zM73 232h5v5h-5zM96 232h3v5h-3z"/>
<path fill="#860e0e" d="M85 173h3v5h-3zM97 173h4v5h-4zM78 178h2v5h-2zM103 178h2v5h-2zM85 183h12v5h-12zM78 232h18v5h-18z"/>
<path fill="#7c0d0d" d="M88 173h9v5h-9zM80 178h3v5h-3zM101 178h2v5h-2z"/>
<path fill="#730b0b" d="M83 178h4v5h-4zM98 178h3v5h-3z"/>
<path fill="#690a0a" d="M87 178h11v5h-11z"/>
<path fill="none" stroke="#3a3a3a" stroke-opacity="0.7" stroke-width="0.6" d="M305.5 16.5 305.5 16.5 304.5 16.5 304.4 16.5M31.1 236.5 31.1 234.5 31.5 232.7 32.1 231.5 32.8 230.5 33.7 229.5 34.8 228.5 36.1 227.5 37.5 226.6 38.5 226.0 39.5 225.5 41.5 224.5 42.5 224.0 43.8 223.5 45.5 222.9 46.5 222.5 48.5 221.8 49.6 221.5 51.5 220.9 53.1 220.5 54.5 220.1 56.5 219.7 57.5 219.4 59.5 219.0 61.5 218.6 62.5 218.4 64.5 218.0 66.5 217.7 67.9 217.5 69.5 217.3 71.5 217.0 73.5 216.7 75.5 216.5 76.5 216.4 78.5 216.2 80.5 216.0 82.5 215.9 84.5 215.7 86.5 215.6 88.2 215.5 89.5 215.4 91.5 215.3 93.5 215.2 95.5 215.1 97.5 215.1 99.5 215.0 101.5 215.0 103.5 215.0 105.5 215.0 107.5 215.0 109.5 215.0 111.5 214.9 113.5 214.9 115.5 214.9 117.5 214.8 119.5 214.7 121.5 214.6 122.5 214.4 124.5 214.0 126.4 213.5 127.2 212.5 126.2 211.5 124.5 210.9 122.9 210.5 121.5 210.3 119.5 210.1 117.5 209.9 115.5 209.8 113.5 209.7 111.5 209.6 109.5 209.5 108.1 209.5 106.5 209.5 104.5 209.4 102.5 209.4 100.5 209.3 98.5 209.2 96.5 209.1 94.5 208.9 92.5 208.7 90.6 208.5 89.5 208.4 87.5 208.2 85.5 207.9 83.5 207.6 82.5 207.4 80.5 207.2 78.5 206.8 76.8 206.5 75.5 206.3 73.5 205.9 71.6 205.5 70.5 205.3 68.5 204.8 67.1 204.5 65.5 204.1 63.5 203.6 62.5 203.3 60.5 202.7 59.5 202.4 57.5 201.8 56.5 201.4 54.5 200.7 53.5 200.3 51.5 199.5 50.5 199.1 49.2 198.5 47.5 197.7 46.5 197.1 45.4 196.5 43.8 195.5 42.5 194.6 41.5 193.9 40.5 193.1 39.5 192.2 38.5 191.2 37.5 190.1 36.5 188.8 35.7 187.5 35.2 186.5 34.5 184.6 34.3 183.5 34.4 181.5 35.3 180.5 36.4 179.5 37.5 178.6 38.5 177.7 39.5 176.9 40.5 176.1 41.5 175.3 42.6 174.5 43.9 173.5 45.3 172.5 46.5 171.7 47.5 171.0 48.5 170.3 49.8 169.5 51.3 168.5 52.5 167.8 53.5 167.2 54.7 166.5 56.4 165.5 57.5 165.0 58.5 164.4 60.5 163.8 61.5 163.5 63.5 163.0 65.4 162.5 66.5 162.2 68.5 161.8 69.8 161.5 71.5 161.1 73.5 160.7 74.8 160.5 76.5 160.2 78.5 159.8 80.5 159.5 81.5 159.4 83.5 159.1 85.5 158.8 87.5 158.5 88.5 158.4 90.5 158.1 92.5 157.9 94.5 157.7 96.3 157.5 97.5 157.4 99.5 157.2 101.5 157.0 103.5 156.8 105.5 156.6 107.0 156.5 108.5 156.4 110.5 156.1 112.5 155.9 114.5 155.7 115.9 155.5 117.5 155.2 119.5 154.9 121.2 154.5 122.5 154.1 124.4 153.5 125.5 153.0 126.6 152.5 128.1 151.5 129.2 150.5 130.0 149.5 130.5 148.5 131.1 146.5 131.3 144.5 131.2 142.5 131.0 140.5 130.6 138.5 130.4 137.5 130.1 135.5 129.7 133.5 129.5 132.0 129.3 130.5 129.1 128.5 129.0 126.5 128.9 124.5 128.9 122.5 129.1 120.5 129.3 118.5 129.5 117.2 129.8 115.5 130.4 113.5 131.5 112.5 132.5 111.5 133.5 110.6 134.5 109.7 135.5 108.8 136.5 107.9 137.5 107.0 138.5 106.1 139.5 105.2 140.5 104.3 141.5 103.5 142.6 102.5 143.8 101.5 145.0 100.5 146.2 99.5 147.4 98.5 148.5 97.6 149.5 96.8 150.5 96.0 151.5 95.2 152.5 94.4 153.7 93.5 155.1 92.5 156.4 91.5 157.5 90.7 158.5 90.0 159.5 89.3 160.8 88.5 162.3 87.5 163.5 86.7 164.5 86.1 165.5 85.5 167.1 84.5 168.5 83.6 169.5 83.0 170.5 82.4 172.0 81.5 173.5 80.6 174.5 80.0 175.5 79.4 177.0 78.5 178.5 77.6 179.5 77.0 180.5 76.5 182.2 75.5 183.5 74.8 184.5 74.2 185.8 73.5 187.5 72.6 188.5 72.0 189.5 71.5 191.5 70.6 193.3 71.5 194.5 72.2 195.5 72.8 196.6 73.5 198.2 74.5 199.5 75.4 200.5 76.2 201.5 77.0 202.5 77.8 203.5 78.7 204.5 79.6 205.5 80.5 206.5 81.5 207.5 82.5 208.5 83.5 209.5 84.6 210.5 85.7 211.5 86.8 212.5 87.9 213.5 89.0 214.5 90.0 215.5 91.1 216.5 92.1 217.5 93.1 218.5 94.0 219.5 94.9 220.5 95.8 221.5 96.7 222.5 97.5 223.7 98.5 225.0 99.5 226.2 100.5 227.5 101.5 228.5 102.3 229.5 103.0 230.5 103.8 231.5 104.6 232.6 105.5 233.9 106.5 235.1 107.5 236.3 108.5 237.5 109.5 238.5 110.3 239.5 111.2 240.5 112.1 241.5 113.1 242.5 114.1 243.5 115.1 244.5 116.2 245.5 117.3 246.5 118.5 247.2 119.5 247.9 120.5 248.5 121.5 249.5 123.2 250.1 124.5 250.5 125.5 251.2 127.5 251.5 129.3 251.6 130.5 251.6 132.5 251.5 133.6 251.1 135.5 250.5 137.3 249.9 138.5 249.4 139.5 248.5 140.9 247.5 142.3 246.5 143.4 245.5 144.5 244.5 145.4 243.5 146.3 242.5 147.1 241.5 147.9 240.5 148.6 239.3 149.5 237.7 150.5 236.5 151.3 235.5 151.8 234.4 152.5 232.5 153.5 231.5 154.0 230.5 154.6 228.6 155.5 227.5 156.0 226.5 156.5 224.5 157.5 223.5 158.0 222.3 158.5 220.5 159.4 219.5 159.9 218.2 160.5 216.5 161.3 215.5 161.9 214.3 162.5 212.5 163.5 211.5 164.2 210.5 164.8 209.5 165.5 208.2 166.5 207.0 167.5 205.9 168.5 205.0 169.5 204.1 170.5 203.4 171.5 202.5 172.8 201.5 174.5 200.9 175.5 200.4 176.5 199.5 178.3 198.9 179.5 198.4 180.5 197.5 182.3 196.9 183.5 196.4 184.5 195.5 186.2 194.8 187.5 194.3 188.5 193.5 189.8 192.5 191.5 191.9 192.5 191.3 193.5 190.5 194.7 189.5 196.1 188.5 197.5 187.8 198.5 187.0 199.5 186.3 200.5 185.4 201.5 184.5 202.6 183.5 203.8 182.5 204.9 181.5 205.9 180.5 206.9 179.5 207.9 178.5 208.9 177.5 209.8 176.5 210.7 175.5 211.6 174.5 212.5 173.4 213.5 172.5 214.5 171.5 215.7 170.5 217.5 170.3 218.5 170.3 220.5 170.6 221.5 171.2 223.5 171.6 224.5 172.4 226.5 172.7 227.5 173.2 229.5 173.4 231.5 173.4 233.5 172.9 235.5M99.5 204.5 97.5 204.5 95.5 204.5 93.6 204.5 92.5 204.5 90.5 204.4 88.5 204.3 86.5 204.1 84.5 203.9 82.5 203.7 80.6 203.5 79.5 203.4 77.5 203.1 75.5 202.8 73.9 202.5 72.5 202.3 70.5 201.9 68.9 201.5 67.5 201.2 65.5 200.7 64.5 200.4 62.5 199.9 61.3 199.5 59.5 198.9 58.4 198.5 56.5 197.8 55.5 197.4 53.5 196.5 52.5 196.0 51.5 195.5 49.7 194.5 48.5 193.7 47.5 193.0 46.5 192.3 45.5 191.5 44.4 190.5 43.5 189.5 42.5 188.3 41.5 186.8 40.9 185.5 40.5 184.5 40.1 182.5 40.1 180.5 40.5 179.1 41.3 177.5 42.1 176.5 43.2 175.5 44.3 174.5 45.5 173.5 46.5 173.1 47.5 172.3 48.5 171.5 50.3 170.5 51.5 169.9 52.5 169.4 54.5 168.6 55.5 168.2 57.3 167.5 58.5 167.1 60.3 166.5 61.5 166.1 63.5 165.5 64.5 165.3 66.5 164.7 67.5 164.5 69.5 164.0 71.5 163.6 72.5 163.4 74.5 163.0 76.5 162.7 77.5 162.5 79.5 162.2 81.5 161.9 83.5 161.6 84.5 161.4 86.5 161.2 88.5 161.0 90.5 160.7 92.5 160.6 93.5 160.5 95.5 160.3 97.5 160.2 99.5 160.1 101.5 160.0 103.5 160.0 105.5 159.9 107.5 159.9 109.5 159.8 111.5 159.8 113.5 159.8 115.5 159.8 117.5 159.8 119.5 159.8 121.5 159.8 123.5 159.8 125.5 159.8 127.5 159.8 129.5 159.7 131.5 159.6 133.2 159.5 134.5 159.4 136.5 159.1 138.5 158.7 139.5 158.5 141.5 157.8 142.5 157.3 143.9 156.5 144.9 155.5 145.6 154.5 146.1 152.5 146.0 150.5 145.6 148.5 145.2 147.5 144.5 145.5 144.1 144.5 143.5 143.0 142.9 141.5 142.5 140.5 141.7 138.5 141.3 137.5 140.6 135.5 140.3 134.5 139.8 132.5 139.5 131.4 139.1 129.5 138.9 127.5 138.8 125.5 138.8 123.5 138.9 121.5 139.1 119.5 139.5 117.6 139.8 116.5 140.3 114.5 140.7 113.5 141.4 111.5 141.8 110.5 142.5 108.9 143.1 107.5 143.6 106.5 144.5 104.7 145.2 103.5 146.1 102.5 147.1 101.5 148.3 100.5 149.5 99.6 150.5 98.8 151.5 97.9 152.5 97.2 153.5 96.4 154.7 95.5 156.1 94.5 157.5 93.5 158.5 92.8 159.5 92.1 160.5 91.5 162.1 90.5 163.5 89.7 164.5 89.0 165.5 88.4 167.3 87.5 168.5 87.2 170.5 87.3 171.5 87.5 173.5 88.1 175.0 88.5 176.5 89.0 177.9 89.5 179.5 90.1 180.5 90.5 182.5 91.3 183.5 91.8 185.1 92.5 186.5 93.1 187.5 93.6 189.5 94.5 190.5 94.9 191.7 95.5 193.5 96.3 194.5 96.8 196.1 97.5 197.5 98.1 198.5 98.6 200.4 99.5 201.5 100.0 202.6 100.5 204.5 101.4 205.5 101.8 206.9 102.5 208.5 103.3 209.5 103.8 211.0 104.5 212.5 105.3 213.5 105.8 214.9 106.5 216.5 107.4 217.5 107.9 218.5 108.5 220.2 109.5 221.5 110.3 222.5 110.9 223.5 111.6 224.9 112.5 226.3 113.5 227.5 114.4 228.5 115.2 229.5 116.1 230.5 116.9 231.5 117.9 232.5 118.9 233.5 120.0 234.5 121.3 235.3 122.5 236.0 123.5 236.5 124.5 237.3 126.5 237.6 127.5 238.0 129.5 238.0 131.5 237.6 133.5 237.3 134.5 236.5 136.3 235.8 137.5 235.1 138.5 234.3 139.5 233.3 140.5 232.3 141.5 231.1 142.5 229.7 143.5 228.5 144.3 227.5 144.9 226.5 145.5 224.6 146.5 223.5 147.1 222.5 147.5 220.5 148.4 219.5 148.8 217.7 149.5 216.5 149.9 214.8 150.5 213.5 150.9 211.6 151.5 210.5 151.8 208.5 152.4 207.5 152.6 205.5 153.1 203.9 153.5 202.5 153.8 200.5 154.3 199.5 154.5 197.5 154.9 195.5 155.3 194.5 155.5 192.5 155.9 190.5 156.3 189.5 156.5 187.5 156.9 185.5 157.3 184.5 157.5 182.5 158.0 180.5 158.4 179.5 158.7 177.5 159.2 176.5 159.5 174.5 160.2 173.5 160.6 171.7 161.5 170.5 162.4 169.5 163.3 168.7 164.5 168.2 165.5 167.7 167.5 167.5 168.6 167.2 170.5 166.9 172.5 166.5 174.5 166.3 175.5 165.6 177.5 165.3 178.5 164.5 180.3 164.0 181.5 163.4 182.5 162.5 184.1 161.6 185.5 160.9 186.5 160.2 187.5 159.4 188.5 158.5 189.5 157.5 190.6 156.5 191.6 155.5 192.5 154.3 193.5 153.0 194.5 151.5 195.4 150.5 196.0 149.4 196.5 147.5 197.3 146.5 197.7 144.5 198.4 143.5 198.6 141.5 199.2 140.0 199.5 138.5 199.8 136.5 200.2 135.1 200.5 133.5 200.8 131.5 201.1 129.5 201.5 128.5 201.6 126.5 202.0 124.5 202.3 122.7 202.5 121.5 202.7 119.5 202.9 117.5 203.2 115.5 203.4 114.5 203.5 112.5 203.7 110.5 203.9 108.5 204.1 106.5 204.2 104.5 204.3 102.5 204.4 100.5 204.5 99.5 204.5M35.9 236.5 35.9 234.5 36.4 232.5 37.0 231.5 37.8 230.5 38.8 229.5 40.1 228.5 41.5 227.6 42.5 227.0 43.5 226.4 45.5 225.5 46.5 225.1 47.9 224.5 49.5 223.9 50.8 223.5 52.5 223.0 54.3 222.5 55.5 222.2 57.5 221.7 58.5 221.5 60.5 221.1 62.5 220.7 63.7 220.5 65.5 220.2 67.5 219.9 69.5 219.7 71.2 219.5 72.5 219.4 74.5 219.2 76.5 219.0 78.5 218.9 80.5 218.8 82.5 218.8 84.5 218.7 86.5 218.7 88.5 218.7 90.5 218.6 92.5 218.7 94.5 218.7 96.5 218.7 98.5 218.8 100.5 218.9 102.5 219.0 104.5 219.1 106.5 219.2 108.5 219.3 110.5 219.5 111.5 219.5 113.5 219.7 115.5 219.9 117.5 220.0 119.5 220.2 121.5 220.4 122.5 220.5 124.5 220.7 126.5 221.0 128.5 221.2 130.5 221.5 131.5 221.6 133.5 221.9 135.5 222.2 137.0 222.5 138.5 222.8 140.5 223.2 141.5 223.5 143.5 224.1 144.9 224.5 146.5 225.1 147.5 225.6 149.3 226.5 150.5 227.2 151.5 227.9 152.5 228.8 153.5 229.8 154.5 231.1 155.3 232.5 155.6 233.5 155.7 235.5M191.5 146.6 189.5 146.7 187.5 146.9 185.5 147.0 183.5 147.0 181.5 147.0 179.5 147.0 177.5 146.9 175.5 146.8 173.5 146.6 172.5 146.5 170.5 146.2 168.5 145.9 166.5 145.5 165.5 145.3 163.5 144.7 162.5 144.4 160.5 143.8 159.5 143.4 157.6 142.5 156.5 141.8 155.5 141.1 154.5 140.2 153.5 139.1 152.5 137.9 151.6 136.5 151.0 135.5 150.4 134.5 149.6 132.5 149.2 131.5 148.6 129.5 148.4 128.5 148.1 126.5 148.1 124.5 148.1 122.5 148.4 120.5 148.6 119.5 149.2 117.5 149.5 116.5 150.4 114.5 150.9 113.5 151.5 112.3 152.5 110.7 153.3 109.5 154.0 108.5 154.8 107.5 155.6 106.5 156.5 105.5 157.5 104.5 158.6 103.5 160.3 102.5 161.5 102.2 163.5 102.0 165.5 102.0 167.5 102.1 169.5 102.2 171.5 102.5 172.5 102.6 174.5 102.9 176.5 103.3 177.8 103.5 179.5 103.8 181.5 104.3 182.6 104.5 184.5 105.0 186.5 105.5 187.5 105.7 189.5 106.3 190.5 106.6 192.5 107.2 193.6 107.5 195.5 108.1 196.7 108.5 198.5 109.2 199.5 109.5 201.5 110.3 202.5 110.7 204.3 111.5 205.5 112.0 206.5 112.5 208.5 113.5 209.5 114.1 210.5 114.6 211.9 115.5 213.4 116.5 214.5 117.3 215.5 118.1 216.5 118.9 217.5 119.8 218.5 120.9 219.5 122.1 220.5 123.5 221.0 124.5 221.5 125.6 222.0 127.5 222.2 129.5 221.9 131.5 221.5 132.8 220.7 134.5 220.0 135.5 219.2 136.5 218.2 137.5 217.0 138.5 215.6 139.5 214.5 140.2 213.5 140.7 212.0 141.5 210.5 142.2 209.5 142.6 207.5 143.3 206.5 143.6 204.5 144.2 203.5 144.5 201.5 145.0 199.5 145.4 198.5 145.6 196.5 145.9 194.5 146.2 192.5 146.5 191.5 146.6M107.5 200.5 105.5 200.8 103.5 201.0 101.5 201.1 99.5 201.3 97.5 201.3 95.5 201.4 93.5 201.4 91.5 201.4 89.5 201.3 87.5 201.2 85.5 201.1 83.5 200.9 81.5 200.7 79.9 200.5 78.5 200.3 76.5 200.0 74.5 199.7 73.5 199.5 71.5 199.1 69.5 198.7 68.5 198.4 66.5 197.9 65.2 197.5 63.5 197.0 62.1 196.5 60.5 195.9 59.5 195.5 57.5 194.6 56.5 194.1 55.3 193.5 53.6 192.5 52.5 191.8 51.5 191.1 50.5 190.3 49.5 189.4 48.5 188.3 47.5 187.0 46.6 185.5 46.1 184.5 45.6 182.5 45.6 180.5 46.3 178.5 46.9 177.5 47.7 176.5 48.6 175.5 49.8 174.5 51.2 173.5 52.5 172.7 53.5 172.1 54.6 171.5 56.5 170.6 57.5 170.2 59.2 169.5 60.5 169.0 62.0 168.5 63.5 168.0 65.1 167.5 66.5 167.1 68.5 166.6 69.5 166.3 71.5 165.9 73.3 165.5 74.5 165.2 76.5 164.9 78.5 164.5 79.5 164.4 81.5 164.1 83.5 163.8 85.5 163.5 86.5 163.4 88.5 163.2 90.5 163.0 92.5 162.9 94.5 162.8 96.5 162.7 98.5 162.6 100.5 162.6 102.5 162.6 104.5 162.6 106.5 162.6 108.5 162.7 110.5 162.8 112.5 162.9 114.5 163.1 116.5 163.2 118.5 163.4 119.5 163.5 121.5 163.8 123.5 164.0 125.5 164.3 126.5 164.5 128.5 164.8 130.5 165.2 131.8 165.5 133.5 165.9 135.5 166.4 136.5 166.7 138.5 167.3 139.5 167.6 141.5 168.4 142.5 168.9 143.7 169.5 145.2 170.5 146.3 171.5 147.2 172.5 147.8 173.5 148.5 175.5 148.6 176.5 148.5 177.6 148.1 179.5 147.5 181.3 146.9 182.5 146.3 183.5 145.5 184.7 144.5 185.9 143.5 187.0 142.5 187.9 141.5 188.8 140.5 189.5 139.1 190.5 137.5 191.5 136.5 192.1 135.5 192.6 133.7 193.5 132.5 194.0 131.4 194.5 129.5 195.3 128.5 195.6 126.5 196.3 125.5 196.6 123.5 197.3 122.5 197.5 120.5 198.1 118.8 198.5 117.5 198.8 115.5 199.2 114.1 199.5 112.5 199.8 110.5 200.1 108.5 200.4 107.5 200.5M40.4 236.5 40.5 234.5 40.7 233.5 41.5 231.9 42.5 230.7 43.5 229.8 44.5 229.0 45.5 228.4 47.0 227.5 48.5 226.8 49.5 226.4 51.5 225.6 52.5 225.2 54.5 224.6 55.5 224.3 57.5 223.8 58.6 223.5 60.5 223.1 62.5 222.7 63.5 222.5 65.5 222.2 67.5 221.9 69.5 221.6 70.9 221.5 72.5 221.3 74.5 221.2 76.5 221.1 78.5 221.0 80.5 220.9 82.5 220.9 84.5 220.8 86.5 220.8 88.5 220.8 90.5 220.9 92.5 220.9 94.5 221.0 96.5 221.1 98.5 221.2 100.5 221.3 102.5 221.4 103.5 221.5 105.5 221.7 107.5 221.9 109.5 222.1 111.5 222.3 113.3 222.5 114.5 222.7 116.5 222.9 118.5 223.2 120.3 223.5 121.5 223.7 123.5 224.1 125.5 224.4 126.5 224.6 128.5 225.1 130.2 225.5 131.5 225.9 133.5 226.4 134.5 226.8 136.5 227.5 137.5 227.9 138.8 228.5 140.5 229.4 141.5 230.1 142.5 230.8 143.5 231.8 144.5 233.3 144.9 234.5 144.9 236.5M187.5 135.6 185.5 135.9 183.5 136.1 181.5 136.1 179.5 136.1 177.5 135.9 175.5 135.6 174.5 135.4 172.5 135.0 170.9 134.5 169.5 134.0 168.3 133.5 166.5 132.6 165.5 132.0 164.5 131.3 163.5 130.5 162.5 129.5 161.5 128.2 160.6 126.5 160.3 125.5 160.2 123.5 160.5 121.7 161.0 120.5 161.7 119.5 162.6 118.5 163.9 117.5 165.5 116.7 166.5 116.3 168.5 115.8 169.9 115.5 171.5 115.3 173.5 115.2 175.5 115.2 177.5 115.3 179.3 115.5 180.5 115.7 182.5 116.0 184.5 116.5 185.5 116.7 187.5 117.4 188.5 117.7 190.3 118.5 191.5 119.1 192.5 119.7 193.7 120.5 194.8 121.5 195.6 122.5 196.5 124.2 196.8 125.5 196.7 127.5 196.5 128.7 195.8 130.5 195.2 131.5 194.3 132.5 193.0 133.5 191.5 134.3 190.5 134.7 188.5 135.3 187.5 135.6M96.5 198.5 94.5 198.6 92.5 198.6 90.5 198.6 88.5 198.6 87.4 198.5 85.5 198.4 83.5 198.2 81.5 198.0 79.5 197.7 77.9 197.5 76.5 197.3 74.5 196.9 72.6 196.5 71.5 196.2 69.5 195.7 68.5 195.5 66.5 194.8 65.5 194.5 63.5 193.7 62.5 193.3 60.7 192.5 59.5 191.9 58.5 191.3 57.2 190.5 55.9 189.5 54.7 188.5 53.7 187.5 52.9 186.5 52.2 185.5 51.5 184.1 51.0 182.5 50.9 180.5 51.5 178.8 52.3 177.5 53.1 176.5 54.2 175.5 55.5 174.5 56.5 173.9 57.5 173.3 58.9 172.5 60.5 171.8 61.5 171.3 63.5 170.5 64.5 170.2 66.5 169.5 67.5 169.2 69.5 168.6 70.5 168.3 72.5 167.9 74.0 167.5 75.5 167.2 77.5 166.8 79.3 166.5 80.5 166.3 82.5 166.0 84.5 165.7 86.4 165.5 87.5 165.4 89.5 165.2 91.5 165.1 93.5 164.9 95.5 164.9 97.5 164.8 99.5 164.8 101.5 164.9 103.5 164.9 105.5 165.0 107.5 165.2 109.5 165.4 110.8 165.5 112.5 165.7 114.5 166.0 116.5 166.3 117.5 166.5 119.5 166.9 121.5 167.4 122.5 167.6 124.5 168.2 125.5 168.5 127.5 169.3 128.5 169.7 130.2 170.5 131.5 171.2 132.5 171.8 133.5 172.6 134.5 173.5 135.5 174.8 136.3 176.5 136.5 177.5 136.5 178.7 136.2 180.5 135.5 182.3 134.9 183.5 134.2 184.5 133.4 185.5 132.4 186.5 131.4 187.5 130.1 188.5 128.8 189.5 127.5 190.3 126.5 190.9 125.4 191.5 123.5 192.4 122.5 192.9 121.1 193.5 119.5 194.1 118.4 194.5 116.5 195.1 115.3 195.5 113.5 196.0 111.5 196.5 110.5 196.7 108.5 197.1 106.5 197.5 105.5 197.6 103.5 197.9 101.5 198.2 99.5 198.4 97.5 198.5 96.5 198.5M45.0 236.5 45.1 234.5 45.5 233.1 46.5 231.6 47.5 230.6 48.5 229.8 49.5 229.2 50.7 228.5 52.5 227.6 53.5 227.2 55.4 226.5 56.5 226.2 58.5 225.6 59.5 225.3 61.5 224.8 63.0 224.5 64.5 224.2 66.5 223.9 68.5 223.6 69.5 223.5 71.5 223.3 73.5 223.1 75.5 222.9 77.5 222.8 79.5 222.8 81.5 222.7 83.5 222.7 85.5 222.7 87.5 222.7 89.5 222.8 91.5 222.8 93.5 222.9 95.5 223.0 97.5 223.1 99.5 223.3 101.5 223.5 102.5 223.6 104.5 223.8 106.5 224.0 108.5 224.2 110.3 224.5 111.5 224.7 113.5 225.0 115.5 225.4 116.5 225.5 118.5 226.0 120.5 226.4 121.5 226.7 123.5 227.2 124.6 227.5 126.5 228.1 127.5 228.5 129.5 229.3 130.5 229.8 131.9 230.5 133.3 231.5 134.5 232.5 135.2 233.5 135.7 234.5 135.8 236.5M99.5 195.5 97.5 195.7 95.5 195.9 93.5 196.0 91.5 196.0 89.5 196.0 87.5 195.9 85.5 195.7 83.5 195.5 82.5 195.4 80.5 195.2 78.5 194.9 76.5 194.5 75.5 194.3 73.5 193.8 72.3 193.5 70.5 193.0 69.0 192.5 67.5 191.9 66.5 191.5 64.5 190.6 63.5 190.0 62.5 189.5 61.1 188.5 59.9 187.5 58.8 186.5 58.0 185.5 57.4 184.5 56.6 182.5 56.4 181.5 56.5 180.1 57.1 178.5 57.8 177.5 58.8 176.5 60.0 175.5 61.5 174.5 62.5 173.9 63.5 173.4 65.5 172.5 66.5 172.1 68.1 171.5 69.5 171.0 71.2 170.5 72.5 170.1 74.5 169.6 75.5 169.4 77.5 169.0 79.5 168.6 80.5 168.4 82.5 168.1 84.5 167.8 86.5 167.5 87.5 167.4 89.5 167.3 91.5 167.1 93.5 167.0 95.5 167.0 97.5 167.0 99.5 167.0 101.5 167.1 103.5 167.3 105.5 167.4 106.5 167.6 108.5 167.8 110.5 168.1 112.5 168.5 113.5 168.7 115.5 169.2 116.5 169.5 118.5 170.1 119.5 170.5 121.5 171.3 122.5 171.8 123.7 172.5 125.1 173.5 126.2 174.5 127.0 175.5 127.6 176.5 128.0 178.5 127.8 180.5 127.5 181.5 126.5 183.4 125.7 184.5 124.9 185.5 123.8 186.5 122.6 187.5 121.5 188.3 120.5 189.0 119.5 189.6 117.8 190.5 116.5 191.1 115.5 191.5 113.5 192.3 112.5 192.7 110.5 193.3 109.5 193.6 107.5 194.1 105.9 194.5 104.5 194.8 102.5 195.1 100.5 195.4 99.5 195.5M49.9 236.5 49.9 234.5 50.5 233.0 51.5 231.7 52.5 230.9 53.5 230.2 54.6 229.5 56.5 228.6 57.5 228.2 59.5 227.5 60.5 227.2 62.5 226.7 63.5 226.4 65.5 226.0 67.5 225.6 68.5 225.5 70.5 225.2 72.5 225.0 74.5 224.8 76.5 224.7 78.5 224.6 80.5 224.6 82.5 224.5 84.5 224.5 86.5 224.5 88.5 224.6 90.5 224.7 92.5 224.8 94.5 224.9 96.5 225.0 98.5 225.2 100.5 225.4 101.5 225.5 103.5 225.8 105.5 226.0 107.5 226.4 108.5 226.5 110.5 226.9 112.5 227.3 113.5 227.5 115.5 228.0 117.2 228.5 118.5 228.9 120.2 229.5 121.5 230.0 122.5 230.5 124.4 231.5 125.5 232.3 126.5 233.3 127.3 234.5 127.4 236.5M99.5 192.6 97.5 192.9 95.5 193.1 93.5 193.2 91.5 193.2 89.5 193.2 87.5 193.1 85.5 193.0 83.5 192.7 81.7 192.5 80.5 192.3 78.5 191.9 76.6 191.5 75.5 191.2 73.5 190.6 72.5 190.3 70.6 189.5 69.5 189.0 68.5 188.5 66.9 187.5 65.5 186.5 64.5 185.6 63.6 184.5 63.0 183.5 62.5 182.2 62.3 180.5 62.5 179.5 63.5 177.9 64.5 176.9 65.5 176.1 66.5 175.4 68.1 174.5 69.5 173.9 70.5 173.4 72.5 172.7 73.5 172.4 75.5 171.8 76.6 171.5 78.5 171.1 80.5 170.6 81.5 170.4 83.5 170.1 85.5 169.8 87.5 169.6 88.5 169.5 90.5 169.3 92.5 169.2 94.5 169.2 96.5 169.2 98.5 169.3 100.5 169.4 101.7 169.5 103.5 169.7 105.5 170.0 107.5 170.3 108.5 170.6 110.5 171.1 112.0 171.5 113.5 172.0 114.6 172.5 116.5 173.4 117.5 174.1 118.5 174.8 119.5 175.9 120.4 177.5 120.6 178.5 120.5 180.2 120.1 181.5 119.5 182.8 118.5 184.1 117.5 185.2 116.5 186.1 115.5 186.8 114.5 187.5 112.8 188.5 111.5 189.1 110.5 189.6 108.5 190.4 107.5 190.7 105.5 191.3 104.5 191.6 102.5 192.1 100.5 192.4 99.5 192.6M55.4 236.5 55.4 234.5 55.8 233.5 56.6 232.5 57.7 231.5 59.3 230.5 60.5 230.0 61.5 229.5 63.5 228.8 64.6 228.5 66.5 228.0 68.5 227.6 69.5 227.4 71.5 227.1 73.5 226.9 75.5 226.7 77.5 226.6 79.5 226.5 80.5 226.5 82.5 226.5 84.5 226.5 86.5 226.5 87.5 226.5 89.5 226.6 91.5 226.7 93.5 226.8 95.5 227.0 97.5 227.2 99.5 227.5 100.5 227.6 102.5 227.9 104.5 228.3 105.8 228.5 107.5 228.9 109.5 229.4 110.5 229.7 112.5 230.3 113.5 230.7 115.4 231.5 116.5 232.2 117.5 232.9 118.5 233.8 119.2 235.5M97.5 189.6 95.5 189.9 93.5 190.0 91.5 190.1 89.5 190.1 87.5 190.0 85.5 189.8 83.5 189.5 82.5 189.3 80.5 188.9 79.0 188.5 77.5 188.0 76.1 187.5 74.5 186.8 73.5 186.2 72.3 185.5 71.1 184.5 70.3 183.5 69.5 182.1 69.2 180.5 69.5 179.3 70.5 177.9 71.5 177.0 72.5 176.4 74.1 175.5 75.5 174.9 76.5 174.5 78.5 173.9 79.7 173.5 81.5 173.1 83.5 172.7 84.5 172.5 86.5 172.2 88.5 171.9 90.5 171.8 92.5 171.7 94.5 171.7 96.5 171.7 98.5 171.9 100.5 172.1 102.5 172.4 103.5 172.6 105.5 173.1 106.9 173.5 108.5 174.1 109.5 174.6 111.1 175.5 112.2 176.5 112.9 177.5 113.3 179.5 112.8 181.5 112.2 182.5 111.4 183.5 110.4 184.5 109.1 185.5 107.5 186.4 106.5 186.9 105.3 187.5 103.5 188.2 102.5 188.5 100.5 189.0 98.5 189.5 97.5 189.6M62.7 236.5 62.7 234.5 63.5 233.2 64.5 232.4 66.0 231.5 67.5 230.9 68.7 230.5 70.5 230.0 72.5 229.6 73.5 229.4 75.5 229.2 77.5 229.0 79.5 228.9 81.5 228.8 83.5 228.8 85.5 228.8 87.5 228.9 89.5 229.0 91.5 229.1 93.5 229.3 95.3 229.5 96.5 229.7 98.5 230.0 100.5 230.4 101.5 230.6 103.5 231.2 104.6 231.5 106.5 232.3 107.5 232.8 108.7 233.5 109.6 234.5 109.8 236.5M95.5 185.5 93.5 185.8 91.5 185.9 89.5 185.8 87.5 185.6 86.5 185.4 84.5 184.9 83.2 184.5 81.5 183.6 80.5 182.9 79.5 181.8 78.9 180.5 79.5 178.9 80.5 178.0 81.5 177.4 83.4 176.5 84.5 176.2 86.5 175.6 87.5 175.4 89.5 175.2 91.5 175.0 93.5 175.0 95.5 175.1 97.5 175.3 98.5 175.5 100.5 176.1 101.7 176.5 103.3 177.5 104.1 178.5 104.1 180.5 103.5 181.6 102.5 182.6 101.3 183.5 99.5 184.4 98.5 184.8 96.5 185.3 95.5 185.5M80.9 236.5 80.8 234.5 82.5 233.8 83.6 233.5 85.5 233.4 87.5 233.3 89.5 233.5 90.5 233.7 92.5 234.2 93.5 234.8 93.7 236.5"/>
<defs><clipPath id="ca"><rect x="29" y="16" width="300" height="221"/></clipPath></defs><g clip-path="url(#ca)">
<polygon fill="#2800f0" points="28.3,167.6 222.9,15.2 28.3,15.2"/>
<polygon fill="#2800f0" points="185.0,240.1 331.5,169.4 331.5,240.1"/>
<polygon fill="#000" points="25.3,170.2 226.4,13.1 241.1,13.0 25.3,183.3"/>
<polygon fill="#000" points="165.4,239.0 332.5,161.0 332.5,169.5 181.5,238.9"/>
</g>
<path stroke="#222" stroke-width="0.8" fill="none" d="M29.3 16.2V237.1H328.5"/>
<path stroke="#111" stroke-width="1" d="M26.8 232.2h2.5M26.8 222.4h2.5M24.3 212.6h5.0M26.8 202.7h2.5M26.8 192.9h2.5M26.8 183.1h2.5M26.8 173.3h2.5M24.3 163.5h5.0M26.8 153.6h2.5M26.8 143.8h2.5M26.8 134.0h2.5M26.8 124.2h2.5M24.3 114.4h5.0M26.8 104.6h2.5M26.8 94.7h2.5M26.8 84.9h2.5M26.8 75.1h2.5M24.3 65.3h5.0M26.8 55.5h2.5M26.8 45.7h2.5M26.8 35.8h2.5M26.8 26.0h2.5M24.3 16.2h5.0M29.3 237.1v5.0M41.3 237.1v2.5M53.2 237.1v2.5M65.2 237.1v2.5M77.2 237.1v2.5M89.1 237.1v5.0M101.1 237.1v2.5M113.1 237.1v2.5M125.0 237.1v2.5M137.0 237.1v2.5M149.0 237.1v5.0M160.9 237.1v2.5M172.9 237.1v2.5M184.9 237.1v2.5M196.9 237.1v2.5M208.8 237.1v5.0M220.8 237.1v2.5M232.8 237.1v2.5M244.7 237.1v2.5M256.7 237.1v2.5M268.7 237.1v5.0M280.6 237.1v2.5M292.6 237.1v2.5M304.6 237.1v2.5M316.5 237.1v2.5M328.5 237.1v5.0"/>
<defs><linearGradient id="ga" x1="0" y1="0" x2="0" y2="1"><stop offset="0.000" stop-color="#690a0a"/><stop offset="0.080" stop-color="#a01212"/><stop offset="0.160" stop-color="#cd1e1c"/><stop offset="0.250" stop-color="#d2341e"/><stop offset="0.320" stop-color="#de6928"/><stop offset="0.380" stop-color="#e8a026"/><stop offset="0.430" stop-color="#f0d20f"/><stop offset="0.470" stop-color="#f5f000"/><stop offset="0.510" stop-color="#bef014"/><stop offset="0.550" stop-color="#8ceb28"/><stop offset="0.590" stop-color="#78eb5a"/><stop offset="0.630" stop-color="#6ee6d2"/><stop offset="0.670" stop-color="#5fcdf5"/><stop offset="0.750" stop-color="#468cf0"/><stop offset="0.820" stop-color="#2d3cf0"/><stop offset="0.880" stop-color="#280af0"/><stop offset="1.000" stop-color="#2800f0"/></linearGradient></defs>
<rect x="329.8" y="16.2" width="5.5" height="220.9" fill="url(#ga)"/>
<path stroke="#111" stroke-width="1" fill="none" d="M335.3 16.2V237.1M335.3 237.1h5.0M335.3 213.1h2.5M335.3 189.1h5.0M335.3 165.1h2.5M335.3 141.1h5.0M335.3 117.0h2.5M335.3 93.0h5.0M335.3 69.0h2.5M335.3 45.0h5.0M335.3 21.0h2.5"/>
<g font-size="7.45" fill="#111"><text x="23.4" y="215.2" text-anchor="end" textLength="13.12" lengthAdjust="spacingAndGlyphs">250</text><text x="23.4" y="166.1" text-anchor="end" textLength="13.12" lengthAdjust="spacingAndGlyphs">300</text><text x="23.4" y="117.0" text-anchor="end" textLength="13.12" lengthAdjust="spacingAndGlyphs">350</text><text x="23.4" y="68.0" text-anchor="end" textLength="13.12" lengthAdjust="spacingAndGlyphs">400</text><text x="23.4" y="18.9" text-anchor="end" textLength="13.12" lengthAdjust="spacingAndGlyphs">450</text><text x="29.3" y="251.1" text-anchor="middle" textLength="13.12" lengthAdjust="spacingAndGlyphs">300</text><text x="89.1" y="251.1" text-anchor="middle" textLength="13.12" lengthAdjust="spacingAndGlyphs">350</text><text x="149.0" y="251.1" text-anchor="middle" textLength="13.12" lengthAdjust="spacingAndGlyphs">400</text><text x="208.8" y="251.1" text-anchor="middle" textLength="13.12" lengthAdjust="spacingAndGlyphs">450</text><text x="268.7" y="251.1" text-anchor="middle" textLength="13.12" lengthAdjust="spacingAndGlyphs">500</text><text x="328.5" y="251.1" text-anchor="middle" textLength="13.12" lengthAdjust="spacingAndGlyphs">550</text><text x="343.3" y="239.8" textLength="3.79" lengthAdjust="spacingAndGlyphs">0</text><text x="343.3" y="191.7" textLength="11.13" lengthAdjust="spacingAndGlyphs">0,5</text><text x="343.3" y="143.7" textLength="3.79" lengthAdjust="spacingAndGlyphs">1</text><text x="343.3" y="95.7" textLength="11.13" lengthAdjust="spacingAndGlyphs">1,5</text><text x="343.3" y="47.7" textLength="3.79" lengthAdjust="spacingAndGlyphs">2</text></g>
<text x="194.4" y="7.6" text-anchor="middle" font-weight="bold" font-size="9.7" fill="#111">a: brewery effluent</text>
<text x="180.70" y="260.77" text-anchor="middle" font-weight="bold" font-size="6.80" fill="#111" textLength="35.0" lengthAdjust="spacingAndGlyphs">&#955;<tspan font-size="4.08" dy="1.0">em</tspan><tspan dy="-1.0"> (nm)</tspan></text>
<text transform="translate(5.81 123.00) rotate(-90)" text-anchor="middle" font-weight="bold" font-size="6.40" fill="#111" textLength="33.5" lengthAdjust="spacingAndGlyphs">&#955;<tspan font-size="3.84" dy="1.0">ex</tspan><tspan dy="-1.0"> (nm)</tspan></text>
<text transform="translate(362.82 123.70) rotate(-90)" text-anchor="middle" font-weight="bold" font-size="7.00" fill="#111" textLength="149.0" lengthAdjust="spacingAndGlyphs">Fluorescence intensity (Raman units)</text>
<text x="91.9" y="180.7" font-weight="bold" font-size="8" fill="#fff" text-anchor="middle">T<tspan font-size="5" dy="1.5">1</tspan></text>
<text x="91.9" y="231.8" font-weight="bold" font-size="8" fill="#fff" text-anchor="middle">T<tspan font-size="5" dy="1.5">2</tspan></text>
<text x="177.6" y="129.4" font-weight="bold" font-size="8" fill="#fff" text-anchor="middle">C</text>
<rect x="425" y="16" width="296" height="221" fill="#2800f0"/>
<path fill="#2801f0" d="M633 31h17v5h-17zM615 36h18v5h-18zM642 36h26v5h-26zM603 41h12v5h-12zM663 41h15v5h-15zM597 46h6v5h-6zM674 46h12v5h-12zM590 51h4v5h-4zM681 51h11v5h-11zM579 56h6v4h-6zM687 56h10v4h-10zM573 60h6v5h-6zM691 60h9v5h-9zM568 65h5v5h-5zM695 65h8v5h-8zM562 70h5v5h-5zM698 70h8v5h-8zM556 75h1v5h-1zM700 75h8v5h-8zM701 80h8v5h-8zM702 85h8v5h-8zM703 90h8v5h-8zM703 95h9v5h-9zM703 100h9v5h-9zM703 105h9v5h-9zM702 110h11v5h-11zM702 115h12v4h-12zM701 119h16v5h-16zM700 124h21v5h-21zM701 129h20v5h-20zM704 134h17v5h-17zM473 139h6v5h-6zM710 139h11v5h-11zM467 144h6v5h-6zM718 144h3v5h-3z"/>
<path fill="#2802f0" d="M633 36h9v5h-9zM615 41h6v5h-6zM651 41h12v5h-12zM603 46h6v5h-6zM666 46h8v5h-8zM594 51h3v5h-3zM675 51h6v5h-6zM585 56h6v4h-6zM681 56h6v4h-6zM579 60h2v5h-2zM686 60h5v5h-5zM690 65h5v5h-5zM567 70h1v5h-1zM693 70h5v5h-5zM557 75h5v5h-5zM695 75h5v5h-5zM550 80h6v5h-6zM697 80h4v5h-4zM544 85h6v5h-6zM698 85h4v5h-4zM538 90h6v5h-6zM699 90h4v5h-4zM532 95h5v5h-5zM699 95h4v5h-4zM526 100h4v5h-4zM699 100h4v5h-4zM520 105h4v5h-4zM698 105h5v5h-5zM514 110h5v5h-5zM697 110h5v5h-5zM508 115h6v4h-6zM696 115h6v4h-6zM502 119h6v5h-6zM695 119h6v5h-6zM496 124h6v5h-6zM693 124h7v5h-7zM491 129h5v5h-5zM692 129h9v5h-9zM485 134h1v5h-1zM692 134h12v5h-12zM693 139h17v5h-17zM698 144h20v5h-20zM461 149h6v5h-6zM705 149h16v5h-16zM455 154h6v5h-6zM712 154h9v5h-9zM719 159h2v5h-2z"/>
<path fill="#2804f0" d="M621 41h30v5h-30zM609 46h3v5h-3zM658 46h8v5h-8zM597 51h6v5h-6zM669 51h6v5h-6zM677 56h4v4h-4zM581 60h4v5h-4zM682 60h4v5h-4zM573 65h6v5h-6zM686 65h4v5h-4zM689 70h4v5h-4zM691 75h4v5h-4zM693 80h4v5h-4zM694 85h4v5h-4zM695 90h4v5h-4zM537 95h1v5h-1zM695 95h4v5h-4zM530 100h2v5h-2zM695 100h4v5h-4zM524 105h2v5h-2zM695 105h3v5h-3zM519 110h1v5h-1zM694 110h3v5h-3zM692 115h4v4h-4zM691 119h4v5h-4zM689 124h4v5h-4zM687 129h5v5h-5zM486 134h5v5h-5zM685 134h7v5h-7zM685 139h8v5h-8zM686 144h12v5h-12zM690 149h15v5h-15zM697 154h15v5h-15zM449 159h6v5h-6zM705 159h14v5h-14zM711 164h10v5h-10zM717 169h4v4h-4z"/>
<path fill="#2805f0" d="M612 46h3v5h-3zM651 46h7v5h-7zM664 51h5v5h-5zM591 56h6v4h-6zM672 56h5v4h-5zM678 60h4v5h-4zM683 65h3v5h-3zM568 70h5v5h-5zM686 70h3v5h-3zM562 75h4v5h-4zM688 75h3v5h-3zM690 80h3v5h-3zM692 85h2v5h-2zM692 90h3v5h-3zM693 95h2v5h-2zM692 100h3v5h-3zM692 105h3v5h-3zM691 110h3v5h-3zM689 115h3v4h-3zM508 119h1v5h-1zM687 119h4v5h-4zM502 124h2v5h-2zM685 124h4v5h-4zM496 129h3v5h-3zM683 129h4v5h-4zM680 134h5v5h-5zM479 139h6v5h-6zM679 139h6v5h-6zM678 144h8v5h-8zM680 149h10v5h-10zM685 154h12v5h-12zM693 159h12v5h-12zM443 164h6v5h-6zM700 164h11v5h-11zM706 169h11v4h-11z"/>
<path fill="#2806f0" d="M615 46h7v5h-7zM640 46h11v5h-11zM603 51h6v5h-6zM659 51h5v5h-5zM669 56h3v4h-3zM585 60h6v5h-6zM675 60h3v5h-3zM680 65h3v5h-3zM683 70h3v5h-3zM566 75h2v5h-2zM686 75h2v5h-2zM556 80h6v5h-6zM688 80h2v5h-2zM550 85h4v5h-4zM689 85h3v5h-3zM544 90h2v5h-2zM690 90h2v5h-2zM538 95h1v5h-1zM690 95h3v5h-3zM532 100h1v5h-1zM690 100h2v5h-2zM526 105h1v5h-1zM689 105h3v5h-3zM520 110h2v5h-2zM688 110h3v5h-3zM514 115h4v4h-4zM686 115h3v4h-3zM509 119h5v5h-5zM684 119h3v5h-3zM504 124h4v5h-4zM682 124h3v5h-3zM499 129h3v5h-3zM679 129h4v5h-4zM491 134h3v5h-3zM676 134h4v5h-4zM674 139h5v5h-5zM473 144h6v5h-6zM672 144h6v5h-6zM672 149h8v5h-8zM676 154h9v5h-9zM682 159h11v5h-11zM690 164h10v5h-10zM437 169h6v4h-6zM697 169h9v4h-9zM431 173h3v5h-3zM702 173h9v5h-9zM425 178h5v5h-5z"/>
<path fill="#2807f0" d="M622 46h18v5h-18zM654 51h5v5h-5zM597 56h3v4h-3zM665 56h4v4h-4zM672 60h3v5h-3zM579 65h6v5h-6zM677 65h3v5h-3zM573 70h1v5h-1zM681 70h2v5h-2zM683 75h3v5h-3zM685 80h3v5h-3zM554 85h2v5h-2zM687 85h2v5h-2zM546 90h4v5h-4zM688 90h2v5h-2zM539 95h5v5h-5zM688 95h2v5h-2zM533 100h5v5h-5zM688 100h2v5h-2zM527 105h5v5h-5zM687 105h2v5h-2zM522 110h4v5h-4zM686 110h2v5h-2zM518 115h2v4h-2zM684 115h2v4h-2zM682 119h2v5h-2zM679 124h3v5h-3zM676 129h3v5h-3zM494 134h2v5h-2zM673 134h3v5h-3zM670 139h4v5h-4zM667 144h5v5h-5zM666 149h6v5h-6zM668 154h8v5h-8zM673 159h9v5h-9zM680 164h10v5h-10zM688 169h9v4h-9zM434 173h3v5h-3zM694 173h8v5h-8zM430 178h1v5h-1z"/>
<path fill="#2808f0" d="M609 51h4v5h-4zM648 51h6v5h-6zM600 56h3v4h-3zM661 56h4v4h-4zM591 60h1v5h-1zM669 60h3v5h-3zM674 65h3v5h-3zM574 70h5v5h-5zM678 70h3v5h-3zM568 75h1v5h-1zM681 75h2v5h-2zM683 80h2v5h-2zM685 85h2v5h-2zM685 90h3v5h-3zM686 95h2v5h-2zM685 100h3v5h-3zM685 105h2v5h-2zM683 110h3v5h-3zM681 115h3v4h-3zM679 119h3v5h-3zM676 124h3v5h-3zM502 129h1v5h-1zM673 129h3v5h-3zM669 134h4v5h-4zM485 139h6v5h-6zM666 139h4v5h-4zM662 144h5v5h-5zM467 149h6v5h-6zM660 149h6v5h-6zM661 154h7v5h-7zM665 159h8v5h-8zM672 164h8v5h-8zM679 169h9v4h-9zM686 173h8v5h-8zM692 178h8v5h-8z"/>
<path fill="#2809f0" d="M613 51h8v5h-8zM640 51h8v5h-8zM657 56h4v4h-4zM592 60h4v5h-4zM666 60h3v5h-3zM672 65h2v5h-2zM676 70h2v5h-2zM569 75h4v5h-4zM679 75h2v5h-2zM562 80h2v5h-2zM681 80h2v5h-2zM683 85h2v5h-2zM683 90h2v5h-2zM684 95h2v5h-2zM683 100h2v5h-2zM682 105h3v5h-3zM681 110h2v5h-2zM679 115h2v4h-2zM514 119h2v5h-2zM677 119h2v5h-2zM508 124h4v5h-4zM674 124h2v5h-2zM503 129h4v5h-4zM670 129h3v5h-3zM496 134h3v5h-3zM666 134h3v5h-3zM662 139h4v5h-4zM658 144h4v5h-4zM655 149h5v5h-5zM654 154h7v5h-7zM657 159h8v5h-8zM664 164h8v5h-8zM671 169h8v4h-8zM679 173h7v5h-7zM685 178h7v5h-7z"/>
<path fill="#2910f0" d="M621 51h19v5h-19zM603 56h3v4h-3zM653 56h4v4h-4zM596 60h1v5h-1zM663 60h3v5h-3zM585 65h3v5h-3zM669 65h3v5h-3zM674 70h2v5h-2zM677 75h2v5h-2zM564 80h4v5h-4zM679 80h2v5h-2zM556 85h3v5h-3zM681 85h2v5h-2zM550 90h2v5h-2zM681 90h2v5h-2zM682 95h2v5h-2zM681 100h2v5h-2zM680 105h2v5h-2zM526 110h1v5h-1zM679 110h2v5h-2zM520 115h3v4h-3zM677 115h2v4h-2zM516 119h3v5h-3zM674 119h3v5h-3zM512 124h2v5h-2zM671 124h3v5h-3zM507 129h4v5h-4zM668 129h2v5h-2zM499 134h5v5h-5zM663 134h3v5h-3zM658 139h4v5h-4zM479 144h2v5h-2zM653 144h5v5h-5zM649 149h6v5h-6zM461 154h6v5h-6zM648 154h6v5h-6zM650 159h7v5h-7zM656 164h8v5h-8zM664 169h7v4h-7zM671 173h8v5h-8zM678 178h7v5h-7zM684 183h5v5h-5z"/>
<path fill="#2a1bf0" d="M606 56h5v4h-5zM648 56h5v4h-5zM597 60h1v5h-1zM660 60h3v5h-3zM588 65h3v5h-3zM667 65h2v5h-2zM579 70h2v5h-2zM671 70h3v5h-3zM675 75h2v5h-2zM677 80h2v5h-2zM559 85h3v5h-3zM679 85h2v5h-2zM552 90h4v5h-4zM679 90h2v5h-2zM544 95h4v5h-4zM680 95h2v5h-2zM538 100h4v5h-4zM679 100h2v5h-2zM532 105h4v5h-4zM678 105h2v5h-2zM527 110h4v5h-4zM677 110h2v5h-2zM523 115h3v4h-3zM675 115h2v4h-2zM519 119h1v5h-1zM672 119h2v5h-2zM514 124h3v5h-3zM669 124h2v5h-2zM511 129h3v5h-3zM665 129h3v5h-3zM504 134h4v5h-4zM660 134h3v5h-3zM491 139h3v5h-3zM655 139h3v5h-3zM481 144h4v5h-4zM649 144h4v5h-4zM644 149h5v5h-5zM642 154h6v5h-6zM643 159h7v5h-7zM649 164h7v5h-7zM656 169h8v4h-8zM664 173h7v5h-7zM671 178h7v5h-7zM677 183h7v5h-7z"/>
<path fill="#2b27f0" d="M611 56h7v4h-7zM642 56h6v4h-6zM598 60h4v5h-4zM656 60h4v5h-4zM664 65h3v5h-3zM581 70h4v5h-4zM669 70h2v5h-2zM573 75h1v5h-1zM673 75h2v5h-2zM675 80h2v5h-2zM677 85h2v5h-2zM677 90h2v5h-2zM548 95h2v5h-2zM678 95h2v5h-2zM542 100h2v5h-2zM677 100h2v5h-2zM536 105h2v5h-2zM676 105h2v5h-2zM531 110h1v5h-1zM675 110h2v5h-2zM673 115h2v4h-2zM520 119h3v5h-3zM670 119h2v5h-2zM517 124h4v5h-4zM666 124h3v5h-3zM514 129h4v5h-4zM662 129h3v5h-3zM508 134h4v5h-4zM657 134h3v5h-3zM494 139h6v5h-6zM651 139h4v5h-4zM645 144h4v5h-4zM639 149h5v5h-5zM637 154h5v5h-5zM637 159h6v5h-6zM641 164h8v5h-8zM649 169h7v4h-7zM657 173h7v5h-7zM665 178h6v5h-6zM671 183h6v5h-6zM676 188h2v5h-2zM425 203h4v5h-4zM425 208h1v5h-1z"/>
<path fill="#2c33f0" d="M618 56h24v4h-24zM602 60h4v5h-4zM652 60h4v5h-4zM591 65h2v5h-2zM661 65h3v5h-3zM667 70h2v5h-2zM574 75h4v5h-4zM670 75h3v5h-3zM673 80h2v5h-2zM675 85h2v5h-2zM676 90h1v5h-1zM676 95h2v5h-2zM675 100h2v5h-2zM674 105h2v5h-2zM673 110h2v5h-2zM526 115h3v4h-3zM671 115h2v4h-2zM523 119h3v5h-3zM668 119h2v5h-2zM521 124h3v5h-3zM664 124h2v5h-2zM518 129h3v5h-3zM659 129h3v5h-3zM512 134h4v5h-4zM654 134h3v5h-3zM500 139h5v5h-5zM647 139h4v5h-4zM640 144h5v5h-5zM473 149h4v5h-4zM635 149h4v5h-4zM631 154h6v5h-6zM455 159h6v5h-6zM631 159h6v5h-6zM634 164h7v5h-7zM641 169h8v4h-8zM650 173h7v5h-7zM658 178h7v5h-7zM665 183h6v5h-6zM670 188h6v5h-6zM425 198h4v5h-4zM429 203h9v5h-9zM426 208h8v5h-8z"/>
<path fill="#2e40f0" d="M606 60h5v5h-5zM648 60h4v5h-4zM593 65h4v5h-4zM658 65h3v5h-3zM585 70h1v5h-1zM664 70h3v5h-3zM578 75h1v5h-1zM668 75h2v5h-2zM568 80h4v5h-4zM671 80h2v5h-2zM562 85h1v5h-1zM672 85h3v5h-3zM674 90h2v5h-2zM674 95h2v5h-2zM673 100h2v5h-2zM538 105h1v5h-1zM672 105h2v5h-2zM532 110h3v5h-3zM671 110h2v5h-2zM529 115h3v4h-3zM668 115h3v4h-3zM526 119h3v5h-3zM665 119h3v5h-3zM524 124h3v5h-3zM661 124h3v5h-3zM521 129h4v5h-4zM656 129h3v5h-3zM516 134h4v5h-4zM650 134h4v5h-4zM505 139h5v5h-5zM643 139h4v5h-4zM485 144h6v5h-6zM636 144h4v5h-4zM477 149h2v5h-2zM630 149h5v5h-5zM625 154h6v5h-6zM624 159h7v5h-7zM627 164h7v5h-7zM634 169h7v4h-7zM643 173h7v5h-7zM651 178h7v5h-7zM659 183h6v5h-6zM665 188h5v5h-5zM429 198h7v5h-7zM438 203h7v5h-7zM434 208h7v5h-7z"/>
<path fill="#3350f0" d="M611 60h6v5h-6zM642 60h6v5h-6zM597 65h5v5h-5zM655 65h3v5h-3zM586 70h4v5h-4zM661 70h3v5h-3zM579 75h1v5h-1zM666 75h2v5h-2zM572 80h1v5h-1zM669 80h2v5h-2zM563 85h3v5h-3zM670 85h2v5h-2zM556 90h2v5h-2zM671 90h3v5h-3zM550 95h1v5h-1zM672 95h2v5h-2zM544 100h2v5h-2zM671 100h2v5h-2zM539 105h3v5h-3zM670 105h2v5h-2zM535 110h3v5h-3zM669 110h2v5h-2zM532 115h3v4h-3zM666 115h2v4h-2zM529 119h3v5h-3zM663 119h2v5h-2zM527 124h3v5h-3zM659 124h2v5h-2zM525 129h3v5h-3zM653 129h3v5h-3zM520 134h4v5h-4zM646 134h4v5h-4zM510 139h5v5h-5zM639 139h4v5h-4zM491 144h6v5h-6zM631 144h5v5h-5zM624 149h6v5h-6zM620 154h5v5h-5zM618 159h6v5h-6zM620 164h7v5h-7zM627 169h7v4h-7zM636 173h7v5h-7zM645 178h6v5h-6zM425 183h4v5h-4zM652 183h7v5h-7zM659 188h6v5h-6zM425 193h5v5h-5zM664 193h2v5h-2zM436 198h6v5h-6zM445 203h6v5h-6zM441 208h7v5h-7zM425 213h3v5h-3z"/>
<path fill="#3860f0" d="M617 60h25v5h-25zM602 65h4v5h-4zM651 65h4v5h-4zM590 70h4v5h-4zM658 70h3v5h-3zM580 75h4v5h-4zM663 75h3v5h-3zM573 80h2v5h-2zM666 80h3v5h-3zM566 85h2v5h-2zM668 85h2v5h-2zM558 90h3v5h-3zM669 90h2v5h-2zM551 95h4v5h-4zM670 95h2v5h-2zM546 100h4v5h-4zM669 100h2v5h-2zM542 105h3v5h-3zM668 105h2v5h-2zM538 110h3v5h-3zM666 110h3v5h-3zM535 115h3v4h-3zM664 115h2v4h-2zM532 119h4v5h-4zM660 119h3v5h-3zM530 124h4v5h-4zM656 124h3v5h-3zM528 129h4v5h-4zM650 129h3v5h-3zM524 134h5v5h-5zM642 134h4v5h-4zM515 139h5v5h-5zM634 139h5v5h-5zM497 144h6v5h-6zM626 144h5v5h-5zM479 149h1v5h-1zM619 149h5v5h-5zM614 154h6v5h-6zM611 159h7v5h-7zM449 164h4v5h-4zM613 164h7v5h-7zM619 169h8v4h-8zM628 173h8v5h-8zM638 178h7v5h-7zM429 183h2v5h-2zM646 183h6v5h-6zM653 188h6v5h-6zM430 193h4v5h-4zM658 193h6v5h-6zM442 198h5v5h-5zM451 203h5v5h-5zM448 208h6v5h-6zM428 213h4v5h-4z"/>
<path fill="#3d70f0" d="M606 65h6v5h-6zM646 65h5v5h-5zM594 70h5v5h-5zM655 70h3v5h-3zM584 75h4v5h-4zM660 75h3v5h-3zM575 80h4v5h-4zM664 80h2v5h-2zM568 85h3v5h-3zM666 85h2v5h-2zM561 90h3v5h-3zM667 90h2v5h-2zM555 95h3v5h-3zM667 95h3v5h-3zM550 100h3v5h-3zM667 100h2v5h-2zM545 105h3v5h-3zM666 105h2v5h-2zM541 110h4v5h-4zM664 110h2v5h-2zM538 115h4v4h-4zM661 115h3v4h-3zM536 119h3v5h-3zM658 119h2v5h-2zM534 124h4v5h-4zM653 124h3v5h-3zM532 129h4v5h-4zM646 129h4v5h-4zM529 134h4v5h-4zM638 134h4v5h-4zM520 139h6v5h-6zM629 139h5v5h-5zM503 144h6v5h-6zM621 144h5v5h-5zM480 149h7v5h-7zM613 149h6v5h-6zM467 154h6v5h-6zM607 154h7v5h-7zM604 159h7v5h-7zM453 164h2v5h-2zM605 164h8v5h-8zM611 169h8v4h-8zM620 173h8v5h-8zM431 178h2v5h-2zM630 178h8v5h-8zM639 183h7v5h-7zM425 188h2v5h-2zM647 188h6v5h-6zM434 193h4v5h-4zM653 193h5v5h-5zM447 198h4v5h-4zM456 203h5v5h-5zM454 208h5v5h-5zM432 213h4v5h-4z"/>
<path fill="#4280f0" d="M612 65h8v5h-8zM638 65h8v5h-8zM599 70h5v5h-5zM651 70h4v5h-4zM588 75h5v5h-5zM657 75h3v5h-3zM579 80h5v5h-5zM661 80h3v5h-3zM571 85h4v5h-4zM663 85h3v5h-3zM564 90h4v5h-4zM664 90h3v5h-3zM558 95h4v5h-4zM665 95h2v5h-2zM553 100h4v5h-4zM664 100h3v5h-3zM548 105h4v5h-4zM663 105h3v5h-3zM545 110h3v5h-3zM661 110h3v5h-3zM542 115h3v4h-3zM658 115h3v4h-3zM539 119h4v5h-4zM654 119h4v5h-4zM538 124h3v5h-3zM649 124h4v5h-4zM536 129h4v5h-4zM642 129h4v5h-4zM533 134h4v5h-4zM633 134h5v5h-5zM526 139h5v5h-5zM624 139h5v5h-5zM509 144h7v5h-7zM616 144h5v5h-5zM487 149h7v5h-7zM607 149h6v5h-6zM600 154h7v5h-7zM596 159h8v5h-8zM596 164h9v5h-9zM443 169h2v4h-2zM602 169h9v4h-9zM611 173h9v5h-9zM433 178h3v5h-3zM623 178h7v5h-7zM632 183h7v5h-7zM427 188h3v5h-3zM640 188h7v5h-7zM438 193h4v5h-4zM647 193h6v5h-6zM451 198h4v5h-4zM652 198h3v5h-3zM461 203h4v5h-4zM459 208h5v5h-5zM436 213h4v5h-4z"/>
<path fill="#478ff0" d="M620 65h18v5h-18zM604 70h7v5h-7zM645 70h6v5h-6zM593 75h5v5h-5zM653 75h4v5h-4zM584 80h4v5h-4zM657 80h4v5h-4zM575 85h5v5h-5zM660 85h3v5h-3zM568 90h5v5h-5zM661 90h3v5h-3zM562 95h4v5h-4zM662 95h3v5h-3zM557 100h4v5h-4zM661 100h3v5h-3zM552 105h4v5h-4zM660 105h3v5h-3zM548 110h5v5h-5zM658 110h3v5h-3zM545 115h5v4h-5zM655 115h3v4h-3zM543 119h4v5h-4zM651 119h3v5h-3zM541 124h5v5h-5zM645 124h4v5h-4zM540 129h4v5h-4zM637 129h5v5h-5zM537 134h6v5h-6zM628 134h5v5h-5zM531 139h7v5h-7zM619 139h5v5h-5zM516 144h7v5h-7zM609 144h7v5h-7zM494 149h6v5h-6zM599 149h8v5h-8zM591 154h9v5h-9zM587 159h9v5h-9zM587 164h9v5h-9zM445 169h4v4h-4zM592 169h10v4h-10zM437 173h3v5h-3zM602 173h9v5h-9zM436 178h1v5h-1zM614 178h9v5h-9zM625 183h7v5h-7zM430 188h3v5h-3zM634 188h6v5h-6zM442 193h3v5h-3zM641 193h6v5h-6zM455 198h4v5h-4zM646 198h6v5h-6zM465 203h3v5h-3zM464 208h4v5h-4zM440 213h4v5h-4z"/>
<path fill="#4c9af1" d="M611 70h9v5h-9zM636 70h9v5h-9zM598 75h7v5h-7zM648 75h5v5h-5zM588 80h7v5h-7zM653 80h4v5h-4zM580 85h6v5h-6zM656 85h4v5h-4zM573 90h5v5h-5zM658 90h3v5h-3zM566 95h5v5h-5zM658 95h4v5h-4zM561 100h5v5h-5zM658 100h3v5h-3zM556 105h5v5h-5zM657 105h3v5h-3zM553 110h4v5h-4zM655 110h3v5h-3zM550 115h4v4h-4zM652 115h3v4h-3zM547 119h5v5h-5zM647 119h4v5h-4zM546 124h5v5h-5zM640 124h5v5h-5zM544 129h6v5h-6zM632 129h5v5h-5zM543 134h5v5h-5zM622 134h6v5h-6zM538 139h7v5h-7zM612 139h7v5h-7zM523 144h10v5h-10zM601 144h8v5h-8zM500 149h7v5h-7zM590 149h9v5h-9zM473 154h7v5h-7zM581 154h10v5h-10zM578 159h9v5h-9zM578 164h9v5h-9zM583 169h9v4h-9zM440 173h3v5h-3zM592 173h10v5h-10zM605 178h9v5h-9zM617 183h8v5h-8zM433 188h3v5h-3zM627 188h7v5h-7zM445 193h4v5h-4zM634 193h7v5h-7zM459 198h3v5h-3zM640 198h6v5h-6zM468 203h4v5h-4zM468 208h4v5h-4zM444 213h4v5h-4zM425 218h1v5h-1z"/>
<path fill="#50a6f2" d="M620 70h16v5h-16zM605 75h10v5h-10zM640 75h8v5h-8zM595 80h8v5h-8zM647 80h6v5h-6zM586 85h7v5h-7zM651 85h5v5h-5zM578 90h7v5h-7zM653 90h5v5h-5zM571 95h7v5h-7zM654 95h4v5h-4zM566 100h6v5h-6zM654 100h4v5h-4zM561 105h6v5h-6zM653 105h4v5h-4zM557 110h6v5h-6zM650 110h5v5h-5zM554 115h6v4h-6zM647 115h5v4h-5zM552 119h6v5h-6zM642 119h5v5h-5zM551 124h5v5h-5zM634 124h6v5h-6zM550 129h6v5h-6zM625 129h7v5h-7zM548 134h8v5h-8zM616 134h6v5h-6zM545 139h10v5h-10zM604 139h8v5h-8zM533 144h14v5h-14zM590 144h11v5h-11zM507 149h9v5h-9zM574 149h16v5h-16zM480 154h8v5h-8zM569 154h12v5h-12zM461 159h1v5h-1zM569 159h9v5h-9zM570 164h8v5h-8zM574 169h9v4h-9zM582 173h10v5h-10zM594 178h11v5h-11zM608 183h9v5h-9zM436 188h3v5h-3zM619 188h8v5h-8zM449 193h3v5h-3zM628 193h6v5h-6zM462 198h3v5h-3zM634 198h6v5h-6zM472 203h3v5h-3zM639 203h5v5h-5zM472 208h3v5h-3zM448 213h5v5h-5zM426 218h2v5h-2z"/>
<path fill="#54b1f3" d="M615 75h25v5h-25zM603 80h17v5h-17zM633 80h14v5h-14zM593 85h13v5h-13zM642 85h9v5h-9zM585 90h10v5h-10zM646 90h7v5h-7zM578 95h9v5h-9zM647 95h7v5h-7zM572 100h8v5h-8zM648 100h6v5h-6zM567 105h7v5h-7zM647 105h6v5h-6zM563 110h7v5h-7zM644 110h6v5h-6zM560 115h7v4h-7zM640 115h7v4h-7zM558 119h6v5h-6zM634 119h8v5h-8zM556 124h7v5h-7zM626 124h8v5h-8zM556 129h7v5h-7zM617 129h8v5h-8zM556 134h9v5h-9zM607 134h9v5h-9zM555 139h15v5h-15zM591 139h13v5h-13zM547 144h43v5h-43zM516 149h14v5h-14zM548 149h26v5h-26zM488 154h10v5h-10zM558 154h11v5h-11zM462 159h5v5h-5zM561 159h8v5h-8zM563 164h7v5h-7zM566 169h8v4h-8zM573 173h9v5h-9zM583 178h11v5h-11zM431 183h2v5h-2zM598 183h10v5h-10zM439 188h3v5h-3zM610 188h9v5h-9zM452 193h3v5h-3zM620 193h8v5h-8zM465 198h4v5h-4zM627 198h7v5h-7zM475 203h3v5h-3zM633 203h6v5h-6zM475 208h4v5h-4zM453 213h5v5h-5zM428 218h2v5h-2z"/>
<path fill="#59bdf4" d="M620 80h13v5h-13zM606 85h36v5h-36zM595 90h51v5h-51zM587 95h60v5h-60zM580 100h68v5h-68zM574 105h15v5h-15zM631 105h16v5h-16zM570 110h11v5h-11zM631 110h13v5h-13zM567 115h10v4h-10zM628 115h12v4h-12zM564 119h10v5h-10zM623 119h11v5h-11zM563 124h10v5h-10zM616 124h10v5h-10zM563 129h11v5h-11zM606 129h11v5h-11zM565 134h42v5h-42zM570 139h21v5h-21zM530 149h18v5h-18zM498 154h10v5h-10zM548 154h10v5h-10zM554 159h7v5h-7zM556 164h7v5h-7zM559 169h7v4h-7zM565 173h8v5h-8zM573 178h10v5h-10zM433 183h2v5h-2zM586 183h12v5h-12zM442 188h2v5h-2zM600 188h10v5h-10zM455 193h2v5h-2zM612 193h8v5h-8zM469 198h3v5h-3zM620 198h7v5h-7zM478 203h3v5h-3zM626 203h7v5h-7zM479 208h3v5h-3zM630 208h3v5h-3zM458 213h6v5h-6zM430 218h1v5h-1z"/>
<path fill="#5dc8f5" d="M589 105h42v5h-42zM581 110h50v5h-50zM577 115h51v4h-51zM574 119h49v5h-49zM573 124h43v5h-43zM574 129h32v5h-32zM508 154h16v5h-16zM532 154h16v5h-16zM467 159h1v5h-1zM547 159h7v5h-7zM550 164h6v5h-6zM553 169h6v4h-6zM558 173h7v5h-7zM565 178h8v5h-8zM435 183h2v5h-2zM575 183h11v5h-11zM444 188h3v5h-3zM589 188h11v5h-11zM457 193h3v5h-3zM602 193h10v5h-10zM472 198h3v5h-3zM611 198h9v5h-9zM481 203h3v5h-3zM618 203h8v5h-8zM482 208h3v5h-3zM624 208h6v5h-6zM464 213h6v5h-6zM431 218h2v5h-2z"/>
<path fill="#62d2ee" d="M524 154h8v5h-8zM468 159h7v5h-7zM538 159h9v5h-9zM544 164h6v5h-6zM548 169h5v4h-5zM553 173h5v5h-5zM558 178h7v5h-7zM437 183h2v5h-2zM566 183h9v5h-9zM447 188h2v5h-2zM577 188h12v5h-12zM460 193h3v5h-3zM590 193h12v5h-12zM475 198h3v5h-3zM602 198h9v5h-9zM484 203h3v5h-3zM610 203h8v5h-8zM485 208h3v5h-3zM616 208h8v5h-8zM470 213h4v5h-4zM620 213h2v5h-2zM433 218h2v5h-2z"/>
<path fill="#67dbe2" d="M475 159h9v5h-9zM500 159h38v5h-38zM535 164h9v5h-9zM541 169h7v4h-7zM547 173h6v5h-6zM553 178h5v5h-5zM439 183h3v5h-3zM559 183h7v5h-7zM449 188h3v5h-3zM567 188h10v5h-10zM463 193h3v5h-3zM578 193h12v5h-12zM478 198h3v5h-3zM590 198h12v5h-12zM487 203h3v5h-3zM599 203h11v5h-11zM488 208h3v5h-3zM606 208h10v5h-10zM474 213h5v5h-5zM612 213h8v5h-8zM435 218h2v5h-2z"/>
<path fill="#6de4d5" d="M484 159h16v5h-16zM455 164h2v5h-2zM523 164h12v5h-12zM534 169h7v4h-7zM540 173h7v5h-7zM437 178h1v5h-1zM547 178h6v5h-6zM442 183h2v5h-2zM553 183h6v5h-6zM452 188h2v5h-2zM559 188h8v5h-8zM466 193h3v5h-3zM567 193h11v5h-11zM481 198h3v5h-3zM577 198h13v5h-13zM490 203h4v5h-4zM586 203h13v5h-13zM491 208h3v5h-3zM595 208h11v5h-11zM479 213h3v5h-3zM602 213h10v5h-10zM437 218h2v5h-2zM608 218h3v5h-3zM425 223h1v5h-1z"/>
<path fill="#71e7b3" d="M457 164h4v5h-4zM514 164h9v5h-9zM526 169h8v4h-8zM533 173h7v5h-7zM438 178h2v5h-2zM540 178h7v5h-7zM444 183h2v5h-2zM547 183h6v5h-6zM454 188h2v5h-2zM553 188h6v5h-6zM469 193h2v5h-2zM559 193h8v5h-8zM484 198h4v5h-4zM566 198h11v5h-11zM494 203h4v5h-4zM573 203h13v5h-13zM494 208h4v5h-4zM581 208h14v5h-14zM482 213h4v5h-4zM590 213h12v5h-12zM439 218h2v5h-2zM598 218h10v5h-10zM426 223h2v5h-2z"/>
<path fill="#74e989" d="M509 164h5v5h-5zM521 169h5v4h-5zM527 173h6v5h-6zM440 178h2v5h-2zM533 178h7v5h-7zM446 183h2v5h-2zM540 183h7v5h-7zM456 188h3v5h-3zM546 188h7v5h-7zM471 193h3v5h-3zM552 193h7v5h-7zM488 198h4v5h-4zM557 198h9v5h-9zM498 203h4v5h-4zM562 203h11v5h-11zM498 208h4v5h-4zM568 208h13v5h-13zM486 213h4v5h-4zM576 213h14v5h-14zM441 218h2v5h-2zM588 218h10v5h-10zM428 223h1v5h-1zM598 223h1v5h-1zM425 228h1v4h-1zM425 232h1v5h-1z"/>
<path fill="#78eb5f" d="M461 164h2v5h-2zM504 164h5v5h-5zM517 169h4v4h-4zM523 173h4v5h-4zM442 178h2v5h-2zM527 178h6v5h-6zM448 183h2v5h-2zM532 183h8v5h-8zM459 188h2v5h-2zM538 188h8v5h-8zM474 193h3v5h-3zM544 193h8v5h-8zM492 198h7v5h-7zM549 198h8v5h-8zM502 203h5v5h-5zM553 203h9v5h-9zM502 208h4v5h-4zM558 208h10v5h-10zM490 213h4v5h-4zM565 213h11v5h-11zM443 218h3v5h-3zM578 218h10v5h-10zM429 223h1v5h-1zM591 223h7v5h-7zM426 228h1v4h-1zM426 232h1v5h-1zM577 232h2v5h-2z"/>
<path fill="#7eeb4a" d="M463 164h5v5h-5zM500 164h4v5h-4zM513 169h4v4h-4zM443 173h1v5h-1zM519 173h4v5h-4zM444 178h2v5h-2zM523 178h4v5h-4zM450 183h2v5h-2zM526 183h6v5h-6zM461 188h3v5h-3zM529 188h9v5h-9zM477 193h3v5h-3zM534 193h10v5h-10zM499 198h10v5h-10zM540 198h9v5h-9zM507 203h7v5h-7zM545 203h8v5h-8zM506 208h5v5h-5zM549 208h9v5h-9zM494 213h4v5h-4zM556 213h9v5h-9zM446 218h2v5h-2zM569 218h9v5h-9zM430 223h1v5h-1zM584 223h7v5h-7zM427 228h1v4h-1zM427 232h1v5h-1zM575 232h2v5h-2z"/>
<path fill="#85eb39" d="M468 164h5v5h-5zM495 164h5v5h-5zM449 169h3v4h-3zM510 169h3v4h-3zM444 173h2v5h-2zM517 173h2v5h-2zM446 178h2v5h-2zM520 178h3v5h-3zM452 183h2v5h-2zM521 183h5v5h-5zM464 188h2v5h-2zM521 188h8v5h-8zM480 193h4v5h-4zM516 193h18v5h-18zM509 198h31v5h-31zM514 203h31v5h-31zM511 208h8v5h-8zM539 208h10v5h-10zM498 213h4v5h-4zM549 213h7v5h-7zM448 218h3v5h-3zM562 218h7v5h-7zM431 223h1v5h-1zM578 223h6v5h-6zM428 228h1v4h-1zM587 228h2v4h-2zM428 232h1v5h-1zM572 232h3v5h-3z"/>
<path fill="#8deb28" d="M473 164h7v5h-7zM489 164h6v5h-6zM452 169h2v4h-2zM508 169h2v4h-2zM446 173h2v5h-2zM514 173h3v5h-3zM448 178h2v5h-2zM517 178h3v5h-3zM454 183h2v5h-2zM517 183h4v5h-4zM466 188h3v5h-3zM515 188h6v5h-6zM484 193h7v5h-7zM502 193h14v5h-14zM519 208h20v5h-20zM502 213h6v5h-6zM542 213h7v5h-7zM451 218h3v5h-3zM557 218h5v5h-5zM432 223h1v5h-1zM572 223h6v5h-6zM429 228h1v4h-1zM583 228h4v4h-4zM429 232h1v5h-1zM570 232h2v5h-2z"/>
<path fill="#9eed21" d="M480 164h9v5h-9zM454 169h3v4h-3zM506 169h2v4h-2zM448 173h3v5h-3zM512 173h2v5h-2zM450 178h2v5h-2zM514 178h3v5h-3zM456 183h3v5h-3zM514 183h3v5h-3zM469 188h2v5h-2zM511 188h4v5h-4zM491 193h11v5h-11zM508 213h9v5h-9zM531 213h11v5h-11zM454 218h4v5h-4zM552 218h5v5h-5zM433 223h1v5h-1zM567 223h5v5h-5zM579 228h4v4h-4zM430 232h1v5h-1zM568 232h2v5h-2z"/>
<path fill="#b0ef1a" d="M457 169h3v4h-3zM503 169h3v4h-3zM451 173h2v5h-2zM510 173h2v5h-2zM452 178h2v5h-2zM512 178h2v5h-2zM459 183h2v5h-2zM511 183h3v5h-3zM471 188h3v5h-3zM507 188h4v5h-4zM517 213h14v5h-14zM458 218h8v5h-8zM547 218h5v5h-5zM434 223h1v5h-1zM563 223h4v5h-4zM430 228h1v4h-1zM575 228h4v4h-4zM431 232h1v5h-1zM566 232h2v5h-2z"/>
<path fill="#c2f013" d="M460 169h3v4h-3zM501 169h2v4h-2zM453 173h2v5h-2zM508 173h2v5h-2zM454 178h3v5h-3zM510 178h2v5h-2zM461 183h3v5h-3zM509 183h2v5h-2zM474 188h3v5h-3zM503 188h4v5h-4zM466 218h8v5h-8zM542 218h5v5h-5zM435 223h2v5h-2zM559 223h4v5h-4zM431 228h1v4h-1zM572 228h3v4h-3zM432 232h1v5h-1zM563 232h3v5h-3z"/>
<path fill="#d5f00b" d="M463 169h4v4h-4zM498 169h3v4h-3zM455 173h3v5h-3zM506 173h2v5h-2zM457 178h2v5h-2zM508 178h2v5h-2zM464 183h2v5h-2zM507 183h2v5h-2zM477 188h3v5h-3zM499 188h4v5h-4zM474 218h8v5h-8zM537 218h5v5h-5zM437 223h1v5h-1zM556 223h3v5h-3zM432 228h1v4h-1zM568 228h4v4h-4zM433 232h1v5h-1zM561 232h2v5h-2z"/>
<path fill="#e9f004" d="M467 169h4v4h-4zM496 169h2v4h-2zM458 173h3v5h-3zM504 173h2v5h-2zM459 178h2v5h-2zM506 178h2v5h-2zM466 183h3v5h-3zM504 183h3v5h-3zM480 188h6v5h-6zM493 188h6v5h-6zM482 218h6v5h-6zM532 218h5v5h-5zM438 223h1v5h-1zM553 223h3v5h-3zM433 228h1v4h-1zM565 228h3v4h-3zM559 232h2v5h-2z"/>
<path fill="#f4ec02" d="M471 169h5v4h-5zM492 169h4v4h-4zM461 173h3v5h-3zM502 173h2v5h-2zM461 178h3v5h-3zM504 178h2v5h-2zM469 183h3v5h-3zM502 183h2v5h-2zM486 188h7v5h-7zM488 218h8v5h-8zM525 218h7v5h-7zM439 223h1v5h-1zM550 223h3v5h-3zM434 228h1v4h-1zM562 228h3v4h-3zM434 232h1v5h-1zM557 232h2v5h-2z"/>
<path fill="#f3e207" d="M476 169h7v4h-7zM485 169h7v4h-7zM464 173h3v5h-3zM500 173h2v5h-2zM464 178h3v5h-3zM502 178h2v5h-2zM472 183h3v5h-3zM499 183h3v5h-3zM496 218h29v5h-29zM440 223h1v5h-1zM547 223h3v5h-3zM435 228h1v4h-1zM560 228h2v4h-2zM435 232h1v5h-1zM555 232h2v5h-2z"/>
<path fill="#f1d70d" d="M483 169h2v4h-2zM467 173h4v5h-4zM498 173h2v5h-2zM467 178h3v5h-3zM500 178h2v5h-2zM475 183h3v5h-3zM497 183h2v5h-2zM441 223h1v5h-1zM544 223h3v5h-3zM436 228h1v4h-1zM557 228h3v4h-3zM436 232h1v5h-1zM554 232h1v5h-1z"/>
<path fill="#efcb12" d="M471 173h4v5h-4zM496 173h2v5h-2zM470 178h4v5h-4zM498 178h2v5h-2zM478 183h4v5h-4zM492 183h5v5h-5zM442 223h1v5h-1zM541 223h3v5h-3zM555 228h2v4h-2zM437 232h1v5h-1zM552 232h2v5h-2z"/>
<path fill="#edbc19" d="M475 173h5v5h-5zM493 173h3v5h-3zM474 178h4v5h-4zM495 178h3v5h-3zM482 183h10v5h-10zM443 223h2v5h-2zM538 223h3v5h-3zM437 228h1v4h-1zM552 228h3v4h-3zM438 232h1v5h-1zM550 232h2v5h-2z"/>
<path fill="#eaae1f" d="M480 173h13v5h-13zM478 178h5v5h-5zM492 178h3v5h-3zM445 223h1v5h-1zM535 223h3v5h-3zM438 228h1v4h-1zM550 228h2v4h-2zM439 232h1v5h-1zM548 232h2v5h-2z"/>
<path fill="#e8a026" d="M483 178h9v5h-9zM446 223h1v5h-1zM532 223h3v5h-3zM439 228h1v4h-1zM548 228h2v4h-2zM546 232h2v5h-2z"/>
<path fill="#e69326" d="M447 223h2v5h-2zM529 223h3v5h-3zM440 228h1v4h-1zM546 228h2v4h-2zM440 232h1v5h-1zM544 232h2v5h-2z"/>
<path fill="#e38627" d="M449 223h2v5h-2zM526 223h3v5h-3zM441 228h1v4h-1zM544 228h2v4h-2zM441 232h1v5h-1zM542 232h2v5h-2z"/>
<path fill="#e17a27" d="M451 223h1v5h-1zM523 223h3v5h-3zM442 228h1v4h-1zM542 228h2v4h-2zM442 232h1v5h-1zM540 232h2v5h-2z"/>
<path fill="#df6d28" d="M452 223h2v5h-2zM519 223h4v5h-4zM443 228h1v4h-1zM540 228h2v4h-2zM443 232h1v5h-1zM538 232h2v5h-2z"/>
<path fill="#dc6127" d="M454 223h3v5h-3zM515 223h4v5h-4zM538 228h2v4h-2zM444 232h1v5h-1zM536 232h2v5h-2z"/>
<path fill="#da5725" d="M457 223h3v5h-3zM509 223h6v5h-6zM444 228h1v4h-1zM535 228h3v4h-3zM445 232h1v5h-1zM534 232h2v5h-2z"/>
<path fill="#d74c23" d="M460 223h10v5h-10zM502 223h7v5h-7zM445 228h1v4h-1zM533 228h2v4h-2zM446 232h1v5h-1zM532 232h2v5h-2z"/>
<path fill="#d54121" d="M470 223h32v5h-32zM446 228h1v4h-1zM531 228h2v4h-2zM447 232h1v5h-1zM530 232h2v5h-2z"/>
<path fill="#d3371f" d="M447 228h1v4h-1zM529 228h2v4h-2zM448 232h1v5h-1zM528 232h2v5h-2z"/>
<path fill="#d1311e" d="M448 228h1v4h-1zM527 228h2v4h-2zM449 232h1v5h-1zM526 232h2v5h-2z"/>
<path fill="#d12e1d" d="M449 228h2v4h-2zM524 228h3v4h-3zM450 232h1v5h-1zM524 232h2v5h-2z"/>
<path fill="#d02b1d" d="M451 228h1v4h-1zM522 228h2v4h-2zM451 232h1v5h-1zM521 232h3v5h-3z"/>
<path fill="#cf271d" d="M452 228h1v4h-1zM520 228h2v4h-2zM452 232h2v5h-2zM519 232h2v5h-2z"/>
<path fill="#ce241d" d="M453 228h1v4h-1zM517 228h3v4h-3zM454 232h1v5h-1zM517 232h2v5h-2z"/>
<path fill="#ce201c" d="M454 228h2v4h-2zM514 228h3v4h-3zM455 232h2v5h-2zM514 232h3v5h-3z"/>
<path fill="#ca1d1b" d="M456 228h2v4h-2zM511 228h3v4h-3zM457 232h1v5h-1zM511 232h3v5h-3z"/>
<path fill="#c21b1a" d="M458 228h2v4h-2zM507 228h4v4h-4zM458 232h3v5h-3zM508 232h3v5h-3z"/>
<path fill="#ba1918" d="M460 228h4v4h-4zM503 228h4v4h-4zM461 232h4v5h-4zM504 232h4v5h-4z"/>
<path fill="#b21716" d="M464 228h6v4h-6zM497 228h6v4h-6zM465 232h6v5h-6zM499 232h5v5h-5z"/>
<path fill="#aa1514" d="M470 228h27v4h-27zM471 232h10v5h-10zM490 232h9v5h-9z"/>
<path fill="#a31313" d="M481 232h9v5h-9z"/>
<path fill="none" stroke="#3a3a3a" stroke-opacity="0.7" stroke-width="0.6" d="M425.5 224.6 426.5 224.0 427.5 223.4 429.4 222.5 430.5 222.1 432.1 221.5 433.5 221.0 435.5 220.5 436.5 220.2 438.5 219.8 439.8 219.5 441.5 219.2 443.5 218.8 445.5 218.5 446.5 218.4 448.5 218.1 450.5 217.9 452.5 217.7 454.3 217.5 455.5 217.4 457.5 217.2 459.5 217.0 461.5 216.9 463.5 216.8 465.5 216.6 467.1 216.5 468.5 216.4 470.5 216.2 472.5 215.9 474.5 215.7 475.9 215.5 477.5 215.2 479.5 214.9 481.2 214.5 482.5 214.2 484.5 213.6 485.5 213.2 487.2 212.5 488.5 211.8 489.5 211.0 490.5 209.8 490.9 208.5 490.5 207.0 489.5 205.6 488.5 204.7 487.5 204.0 486.5 203.4 484.7 202.5 483.5 202.0 482.3 201.5 480.5 200.8 479.5 200.4 477.5 199.7 476.5 199.4 474.5 198.7 473.5 198.3 471.5 197.7 470.5 197.4 468.5 196.7 467.5 196.4 465.5 195.8 464.5 195.5 462.5 194.8 461.5 194.5 459.5 193.9 458.4 193.5 456.5 192.8 455.5 192.5 453.5 191.7 452.5 191.4 450.5 190.6 449.5 190.2 448.0 189.5 446.5 188.8 445.5 188.3 443.9 187.5 442.5 186.7 441.5 186.1 440.5 185.5 439.1 184.5 437.8 183.5 437.4 182.5 437.4 180.5 437.5 179.1 439.5 178.7 440.5 178.5 442.5 178.2 443.0 176.5 443.3 174.5 444.5 173.6 445.5 173.5 447.5 173.2 448.7 172.5 449.2 170.5 449.5 169.4 451.5 169.2 453.5 169.1 454.7 168.5 455.3 166.5 456.5 165.7 458.5 165.6 460.3 165.5 461.2 164.5 461.5 163.3 463.5 163.0 465.5 162.8 467.5 162.5 468.5 162.4 470.5 162.2 472.5 162.0 474.5 161.8 476.5 161.6 477.5 161.5 479.5 161.3 481.5 161.1 483.5 161.0 485.5 160.9 487.5 160.9 489.5 160.8 491.5 160.8 493.5 160.8 495.5 160.8 497.5 160.8 499.5 160.8 501.5 160.9 503.5 160.9 505.5 161.0 507.5 161.0 509.5 161.0 511.5 161.1 513.5 161.1 515.5 161.1 517.5 161.1 519.5 161.1 521.5 161.1 523.5 161.1 525.5 161.3 527.5 161.5 528.5 161.6 530.5 162.0 532.3 162.5 533.5 163.0 534.6 163.5 536.2 164.5 537.4 165.5 538.5 166.5 539.5 167.4 540.5 168.4 541.5 169.4 542.5 170.3 543.5 171.3 544.5 172.2 545.5 173.2 546.5 174.1 547.5 175.0 548.5 175.9 549.5 176.8 550.5 177.7 551.5 178.6 552.6 179.5 553.8 180.5 555.1 181.5 556.4 182.5 557.5 183.3 558.5 184.0 559.5 184.7 560.7 185.5 562.3 186.5 563.5 187.2 564.5 187.8 565.8 188.5 567.5 189.4 568.5 189.9 569.7 190.5 571.5 191.4 572.5 191.8 574.0 192.5 575.5 193.2 576.5 193.6 578.5 194.4 579.5 194.8 581.2 195.5 582.5 196.0 583.8 196.5 585.5 197.2 586.5 197.6 588.5 198.4 589.5 198.8 591.1 199.5 592.5 200.1 593.5 200.6 595.5 201.5 596.5 202.0 597.5 202.5 599.4 203.5 600.5 204.1 601.5 204.7 602.8 205.5 604.4 206.5 605.5 207.3 606.5 208.0 607.5 208.8 608.5 209.6 609.6 210.5 610.7 211.5 611.8 212.5 612.8 213.5 613.7 214.5 614.6 215.5 615.5 216.6 615.5 217.5 614.5 218.5 612.5 219.5 611.5 219.5 610.5 220.5 608.5 220.5 607.5 221.6 605.6 222.5 604.5 222.6 603.5 223.6 601.6 224.5 600.5 224.6 598.6 225.5 597.5 225.6 596.5 226.6 594.7 227.5 593.5 227.7 592.5 228.7 590.5 228.7 589.5 229.7 587.7 230.5 586.5 230.7 585.5 231.7 583.7 232.5 582.5 232.7 581.5 233.7 579.5 233.7 578.5 234.7 576.6 235.5 575.5 235.6M507.5 195.7 505.5 196.0 503.5 196.2 501.5 196.3 499.5 196.4 497.5 196.4 495.5 196.4 493.5 196.3 491.5 196.1 489.5 195.9 487.5 195.7 486.3 195.5 484.5 195.2 482.5 194.8 480.9 194.5 479.5 194.2 477.5 193.7 476.5 193.4 474.5 192.8 473.4 192.5 471.5 191.9 470.0 191.5 468.5 191.0 466.9 190.5 465.5 190.0 464.0 189.5 462.5 188.9 461.4 188.5 459.5 187.7 458.5 187.3 456.9 186.5 455.5 185.8 454.5 185.2 453.3 184.5 451.8 183.5 450.6 182.5 449.6 181.5 448.7 180.5 448.1 179.5 447.5 177.7 447.4 176.5 447.7 175.5 449.3 174.5 449.5 173.2 450.5 172.5 452.2 171.5 453.5 171.3 455.3 170.5 456.5 169.8 457.5 169.4 459.5 168.9 461.0 168.5 462.5 168.2 464.5 167.8 466.0 167.5 467.5 167.3 469.5 167.0 471.5 166.7 473.2 166.5 474.5 166.4 476.5 166.2 478.5 166.0 480.5 165.8 482.5 165.7 484.5 165.7 486.5 165.7 488.5 165.8 490.5 166.0 492.5 166.2 494.5 166.4 495.5 166.6 497.5 167.0 499.5 167.4 500.5 167.7 502.5 168.3 503.5 168.6 505.5 169.4 506.5 169.8 508.0 170.5 509.5 171.3 510.5 171.9 511.5 172.6 512.7 173.5 513.9 174.5 514.8 175.5 515.7 176.5 516.5 177.7 517.5 179.5 517.9 180.5 518.4 182.5 518.6 183.5 518.7 185.5 518.5 187.2 518.2 188.5 517.5 190.1 516.6 191.5 515.6 192.5 514.5 193.3 513.5 193.9 512.0 194.5 510.5 195.0 508.5 195.5 507.5 195.7M429.8 236.5 429.6 234.5 429.5 233.4 429.3 231.5 429.1 229.5 429.5 228.2 430.5 226.8 431.5 225.9 432.5 225.2 433.9 224.5 435.5 223.8 436.5 223.4 438.5 222.8 439.5 222.5 441.5 222.0 443.5 221.5 444.5 221.3 446.5 221.0 448.5 220.7 450.0 220.5 451.5 220.3 453.5 220.1 455.5 219.9 457.5 219.8 459.5 219.7 461.5 219.6 463.0 219.5 464.5 219.4 466.5 219.4 468.5 219.3 470.5 219.2 472.5 219.1 474.5 218.9 476.5 218.8 478.5 218.7 480.5 218.5 481.5 218.5 483.5 218.3 485.5 218.1 487.5 217.9 489.5 217.6 490.7 217.5 492.5 217.3 494.5 217.0 496.5 216.7 498.1 216.5 499.5 216.3 501.5 215.9 503.5 215.6 504.5 215.4 506.5 215.0 508.5 214.7 509.5 214.5 511.5 214.0 513.5 213.6 514.5 213.3 516.5 212.9 518.1 212.5 519.5 212.1 521.5 211.7 522.7 211.5 524.5 211.2 526.5 210.9 528.5 210.9 530.5 211.0 532.5 211.3 533.5 211.5 535.5 212.0 537.0 212.5 538.5 212.9 540.0 213.5 541.5 214.0 542.8 214.5 544.5 215.1 545.6 215.5 547.5 216.2 548.5 216.6 550.5 217.3 551.5 217.6 553.5 218.3 554.5 218.7 556.5 219.4 557.5 219.7 559.5 220.3 560.5 220.7 562.5 221.3 563.5 221.6 565.5 222.2 566.5 222.5 568.5 223.2 569.6 223.5 571.5 224.1 572.7 224.5 574.5 225.1 575.6 225.5 577.5 226.2 578.5 226.5 580.5 227.3 581.5 227.8 583.2 228.5 584.5 229.3 584.8 230.5 583.5 231.4 582.5 231.8 580.9 232.5 579.5 232.9 577.5 233.5 576.5 233.7 574.5 234.2 573.1 234.5 571.5 234.8 569.5 235.2 568.2 235.5 566.5 235.8 564.5 236.2 562.9 236.5M495.5 188.5 493.5 189.0 491.5 189.3 489.5 189.4 487.5 189.4 485.5 189.3 483.5 189.0 481.5 188.7 480.5 188.5 478.5 187.9 477.3 187.5 475.5 186.8 474.5 186.5 472.5 185.6 471.5 185.1 470.3 184.5 468.6 183.5 467.5 182.7 466.5 181.9 465.5 180.8 464.7 179.5 464.4 178.5 464.5 177.1 465.5 175.5 466.5 174.7 467.5 174.1 468.7 173.5 470.5 172.8 471.5 172.5 473.5 172.0 475.5 171.5 476.5 171.3 478.5 171.0 480.5 170.7 482.5 170.6 484.5 170.5 486.5 170.6 488.5 170.8 490.5 171.1 492.5 171.5 493.5 171.8 495.5 172.4 496.5 172.8 498.1 173.5 499.5 174.3 500.5 175.1 501.5 176.0 502.5 177.2 503.2 178.5 503.5 179.6 503.5 181.5 503.2 182.5 502.5 184.0 501.5 185.2 500.5 186.1 499.5 186.8 498.2 187.5 496.5 188.2 495.5 188.5M435.8 236.5 435.6 234.5 435.5 233.4 435.3 231.5 435.2 229.5 435.6 228.5 436.5 227.4 437.6 226.5 439.5 225.5 440.5 225.1 442.1 224.5 443.5 224.1 445.5 223.6 446.5 223.4 448.5 223.0 450.5 222.7 451.6 222.5 453.5 222.3 455.5 222.1 457.5 221.9 459.5 221.8 461.5 221.7 463.5 221.6 465.5 221.6 467.5 221.5 468.5 221.5 470.5 221.4 472.5 221.4 474.5 221.3 476.5 221.2 478.5 221.2 480.5 221.1 482.5 221.0 484.5 220.9 486.5 220.8 488.5 220.7 490.5 220.6 492.5 220.5 493.5 220.5 495.5 220.4 497.5 220.3 499.5 220.2 501.5 220.1 503.5 220.1 505.5 220.0 507.5 220.0 509.5 219.9 511.5 219.9 513.5 220.0 515.5 220.0 517.5 220.0 519.5 220.1 521.5 220.2 523.5 220.4 524.6 220.5 526.5 220.7 528.5 220.9 530.5 221.2 532.5 221.5 533.5 221.7 535.5 222.0 537.5 222.4 538.5 222.6 540.5 223.0 542.4 223.5 543.5 223.8 545.5 224.3 546.5 224.6 548.5 225.2 549.6 225.5 551.5 226.1 552.7 226.5 554.5 227.2 555.5 227.5 557.5 228.3 558.5 228.7 560.2 229.5 561.5 230.2 562.5 231.0 562.5 232.5 561.5 233.1 560.5 233.6 558.5 234.3 557.5 234.7 555.5 235.2 554.3 235.5 552.5 235.9 550.5 236.4M441.8 236.5 441.5 234.5 441.4 233.5 441.2 231.5 441.2 229.5 441.8 228.5 443.0 227.5 444.5 226.7 445.5 226.3 447.5 225.6 448.5 225.3 450.5 224.9 452.5 224.5 453.5 224.4 455.5 224.1 457.5 223.9 459.5 223.8 461.5 223.7 463.5 223.6 465.5 223.6 467.5 223.5 468.5 223.5 470.5 223.5 472.5 223.4 474.5 223.4 476.5 223.3 478.5 223.3 480.5 223.2 482.5 223.2 484.5 223.2 486.5 223.1 488.5 223.1 490.5 223.0 492.5 223.0 494.5 223.0 496.5 223.0 498.5 223.0 500.5 223.0 502.5 223.0 504.5 223.0 506.5 223.1 508.5 223.1 510.5 223.2 512.5 223.3 514.5 223.5 515.5 223.5 517.5 223.7 519.5 223.9 521.5 224.1 523.5 224.4 524.5 224.5 526.5 224.8 528.5 225.2 530.3 225.5 531.5 225.7 533.5 226.2 534.8 226.5 536.5 226.9 538.5 227.5 539.5 227.8 541.5 228.5 542.5 228.9 544.1 229.5 545.5 230.2 546.5 230.7 547.5 231.5 547.5 232.9 546.5 233.7 544.7 234.5 543.5 234.9 541.5 235.4 540.5 235.7 538.5 236.2 537.1 236.5M448.3 236.5 448.0 234.5 447.7 232.5 447.5 230.7 447.5 230.4 448.5 228.8 449.5 228.2 450.9 227.5 452.5 227.0 454.5 226.5 455.5 226.4 457.5 226.1 459.5 225.9 461.5 225.7 463.5 225.6 465.5 225.6 467.5 225.5 468.6 225.5 470.5 225.5 472.5 225.4 474.5 225.4 476.5 225.4 478.5 225.3 480.5 225.3 482.5 225.3 484.5 225.3 486.5 225.3 488.5 225.3 490.5 225.3 492.5 225.3 494.5 225.3 496.5 225.3 498.5 225.4 500.5 225.5 501.5 225.5 503.5 225.6 505.5 225.7 507.5 225.8 509.5 226.0 511.5 226.2 513.5 226.4 514.5 226.5 516.5 226.8 518.5 227.1 520.5 227.4 521.5 227.6 523.5 228.0 525.5 228.4 526.5 228.7 528.5 229.3 529.5 229.6 531.5 230.3 532.5 230.8 533.8 231.5 533.5 233.5 532.5 233.9 531.2 234.5 529.5 235.0 527.7 235.5 526.5 235.8 524.5 236.3M457.5 236.5 456.5 234.6 456.2 233.5 455.7 231.5 456.5 229.7 457.5 229.2 459.5 228.6 460.5 228.4 462.5 228.2 464.5 228.1 466.5 228.0 468.5 227.9 470.5 227.8 472.5 227.8 474.5 227.7 476.5 227.7 478.5 227.7 480.5 227.6 482.5 227.6 484.5 227.6 486.5 227.6 488.5 227.7 490.5 227.7 492.5 227.8 494.5 227.8 496.5 227.9 498.5 228.0 500.5 228.2 502.5 228.3 504.3 228.5 505.5 228.6 507.5 228.9 509.5 229.2 511.3 229.5 512.5 229.8 514.5 230.2 515.6 230.5 517.5 231.2 518.5 231.7 518.5 233.4 517.5 233.8 515.5 234.5 514.5 234.7 512.5 235.2 511.4 235.5 509.5 235.9 507.5 236.3 506.3 236.5"/>
<defs><clipPath id="cb"><rect x="425" y="16" width="296" height="221"/></clipPath></defs><g clip-path="url(#cb)">
<polygon fill="#2800f0" points="424.4,171.0 618.2,15.2 424.4,15.2"/>
<polygon fill="#2800f0" points="584.2,240.4 724.5,174.4 724.5,240.4"/>
<polygon fill="#000" points="421.4,173.7 621.7,13.0 635.8,13.0 421.4,185.0"/>
<polygon fill="#000" points="557.0,239.2 725.5,163.5 725.5,174.5 580.7,239.2"/>
</g>
<path stroke="#222" stroke-width="0.8" fill="none" d="M425.4 16.2V237.4H721.5"/>
<path stroke="#111" stroke-width="1" d="M422.9 232.5h2.5M422.9 222.7h2.5M420.4 212.8h5.0M422.9 203.0h2.5M422.9 193.2h2.5M422.9 183.3h2.5M422.9 173.5h2.5M420.4 163.7h5.0M422.9 153.8h2.5M422.9 144.0h2.5M422.9 134.2h2.5M422.9 124.3h2.5M420.4 114.5h5.0M422.9 104.7h2.5M422.9 94.8h2.5M422.9 85.0h2.5M422.9 75.2h2.5M420.4 65.4h5.0M422.9 55.5h2.5M422.9 45.7h2.5M422.9 35.9h2.5M422.9 26.0h2.5M420.4 16.2h5.0M425.4 237.4v5.0M437.2 237.4v2.5M449.1 237.4v2.5M460.9 237.4v2.5M472.8 237.4v2.5M484.6 237.4v5.0M496.5 237.4v2.5M508.3 237.4v2.5M520.2 237.4v2.5M532.0 237.4v2.5M543.8 237.4v5.0M555.7 237.4v2.5M567.5 237.4v2.5M579.4 237.4v2.5M591.2 237.4v2.5M603.1 237.4v5.0M614.9 237.4v2.5M626.7 237.4v2.5M638.6 237.4v2.5M650.4 237.4v2.5M662.3 237.4v5.0M674.1 237.4v2.5M686.0 237.4v2.5M697.8 237.4v2.5M709.7 237.4v2.5M721.5 237.4v5.0"/>
<defs><linearGradient id="gb" x1="0" y1="0" x2="0" y2="1"><stop offset="0.000" stop-color="#690a0a"/><stop offset="0.080" stop-color="#a01212"/><stop offset="0.160" stop-color="#cd1e1c"/><stop offset="0.250" stop-color="#d2341e"/><stop offset="0.320" stop-color="#de6928"/><stop offset="0.380" stop-color="#e8a026"/><stop offset="0.430" stop-color="#f0d20f"/><stop offset="0.470" stop-color="#f5f000"/><stop offset="0.510" stop-color="#bef014"/><stop offset="0.550" stop-color="#8ceb28"/><stop offset="0.590" stop-color="#78eb5a"/><stop offset="0.630" stop-color="#6ee6d2"/><stop offset="0.670" stop-color="#5fcdf5"/><stop offset="0.750" stop-color="#468cf0"/><stop offset="0.820" stop-color="#2d3cf0"/><stop offset="0.880" stop-color="#280af0"/><stop offset="1.000" stop-color="#2800f0"/></linearGradient></defs>
<rect x="722.8" y="16.2" width="4.8" height="221.2" fill="url(#gb)"/>
<path stroke="#111" stroke-width="1" fill="none" d="M727.6 16.2V237.4M727.6 237.4h5.0M727.6 201.7h2.5M727.6 166.0h5.0M727.6 130.4h2.5M727.6 94.7h5.0M727.6 59.0h2.5M727.6 23.3h5.0"/>
<g font-size="7.07" fill="#111"><text x="419.3" y="215.4" text-anchor="end" textLength="12.46" lengthAdjust="spacingAndGlyphs">250</text><text x="419.3" y="166.2" text-anchor="end" textLength="12.46" lengthAdjust="spacingAndGlyphs">300</text><text x="419.3" y="117.0" text-anchor="end" textLength="12.46" lengthAdjust="spacingAndGlyphs">350</text><text x="419.3" y="67.9" text-anchor="end" textLength="12.46" lengthAdjust="spacingAndGlyphs">400</text><text x="419.3" y="18.7" text-anchor="end" textLength="12.46" lengthAdjust="spacingAndGlyphs">450</text><text x="425.4" y="250.9" text-anchor="middle" textLength="12.46" lengthAdjust="spacingAndGlyphs">300</text><text x="484.6" y="250.9" text-anchor="middle" textLength="12.46" lengthAdjust="spacingAndGlyphs">350</text><text x="543.8" y="250.9" text-anchor="middle" textLength="12.46" lengthAdjust="spacingAndGlyphs">400</text><text x="603.1" y="250.9" text-anchor="middle" textLength="12.46" lengthAdjust="spacingAndGlyphs">450</text><text x="662.3" y="250.9" text-anchor="middle" textLength="12.46" lengthAdjust="spacingAndGlyphs">500</text><text x="721.5" y="250.9" text-anchor="middle" textLength="12.46" lengthAdjust="spacingAndGlyphs">550</text><text x="735.2" y="239.9" textLength="3.60" lengthAdjust="spacingAndGlyphs">0</text><text x="735.2" y="168.6" textLength="10.57" lengthAdjust="spacingAndGlyphs">0,5</text><text x="735.2" y="97.2" textLength="3.60" lengthAdjust="spacingAndGlyphs">1</text><text x="735.2" y="25.9" textLength="10.57" lengthAdjust="spacingAndGlyphs">1,5</text></g>
<text x="588.8" y="7.1" text-anchor="middle" font-weight="bold" font-size="9.7" fill="#111">b: winery effluent</text>
<text x="574.70" y="261.07" text-anchor="middle" font-weight="bold" font-size="6.80" fill="#111" textLength="34.8" lengthAdjust="spacingAndGlyphs">&#955;<tspan font-size="4.08" dy="1.0">em</tspan><tspan dy="-1.0"> (nm)</tspan></text>
<text transform="translate(402.46 122.70) rotate(-90)" text-anchor="middle" font-weight="bold" font-size="6.40" fill="#111" textLength="32.6" lengthAdjust="spacingAndGlyphs">&#955;<tspan font-size="3.84" dy="1.0">ex</tspan><tspan dy="-1.0"> (nm)</tspan></text>
<text transform="translate(754.37 123.60) rotate(-90)" text-anchor="middle" font-weight="bold" font-size="7.40" fill="#111" textLength="150.8" lengthAdjust="spacingAndGlyphs">Fluorescence intensity (Raman units)</text>
<text x="485.3" y="180.0" font-weight="bold" font-size="8" fill="#000" text-anchor="middle">T<tspan font-size="5" dy="1.5">1</tspan></text>
<text x="486.2" y="231.0" font-weight="bold" font-size="8" fill="#fff" text-anchor="middle">T<tspan font-size="5" dy="1.5">2</tspan></text>
<rect x="30" y="287" width="301" height="219" fill="#2800f0"/>
<path fill="#2801f0" d="M235 287h6v5h-6zM229 292h5v5h-5zM222 297h5v5h-5zM216 302h5v5h-5zM210 307h4v5h-4zM203 312h5v4h-5zM197 316h4v5h-4zM191 321h4v5h-4zM185 326h3v5h-3zM178 331h4v5h-4zM172 336h4v5h-4zM166 341h3v5h-3zM160 346h3v5h-3zM154 351h2v4h-2zM147 355h3v5h-3zM141 360h3v5h-3zM135 365h2v5h-2zM129 370h2v5h-2zM123 375h2v5h-2zM116 380h3v5h-3zM110 385h2v5h-2zM104 390h2v4h-2zM98 394h2v5h-2zM92 399h2v5h-2zM86 404h1v5h-1zM79 409h2v5h-2zM73 414h2v5h-2zM67 419h1v5h-1zM54 428h1v5h-1z"/>
<path fill="#2802f0" d="M241 287h6v5h-6zM234 292h6v5h-6zM227 297h6v5h-6zM221 302h5v5h-5zM214 307h5v5h-5zM208 312h4v4h-4zM201 316h5v5h-5zM195 321h4v5h-4zM188 326h4v5h-4zM182 331h4v5h-4zM176 336h3v5h-3zM169 341h3v5h-3zM163 346h3v5h-3zM156 351h3v4h-3zM150 355h2v5h-2zM144 360h2v5h-2zM137 365h2v5h-2zM131 370h2v5h-2zM125 375h2v5h-2zM119 380h2v5h-2zM112 385h2v5h-2zM106 390h2v4h-2zM100 394h2v5h-2zM94 399h2v5h-2zM87 404h2v5h-2zM81 409h2v5h-2zM75 414h1v5h-1zM68 419h1v5h-1zM61 424h1v4h-1zM48 433h1v5h-1zM42 438h1v5h-1zM36 443h1v5h-1zM30 448h1v5h-1z"/>
<path fill="#2804f0" d="M247 287h7v5h-7zM320 287h11v5h-11zM240 292h7v5h-7zM322 292h9v5h-9zM233 297h6v5h-6zM325 297h6v5h-6zM226 302h6v5h-6zM328 302h3v5h-3zM219 307h6v5h-6zM330 307h1v5h-1zM212 312h5v4h-5zM206 316h4v5h-4zM199 321h4v5h-4zM192 326h4v5h-4zM186 331h3v5h-3zM179 336h4v5h-4zM172 341h4v5h-4zM166 346h3v5h-3zM159 351h3v4h-3zM152 355h3v5h-3zM146 360h2v5h-2zM139 365h3v5h-3zM133 370h2v5h-2zM127 375h2v5h-2zM121 380h2v5h-2zM114 385h3v5h-3zM108 390h2v4h-2zM102 394h2v5h-2zM96 399h1v5h-1zM89 404h2v5h-2zM83 409h2v5h-2zM76 414h2v5h-2zM69 419h2v5h-2zM62 424h1v4h-1zM55 428h1v5h-1z"/>
<path fill="#2805f0" d="M254 287h9v5h-9zM267 287h53v5h-53zM247 292h7v5h-7zM271 292h51v5h-51zM239 297h7v5h-7zM276 297h49v5h-49zM232 302h6v5h-6zM279 302h49v5h-49zM225 307h5v5h-5zM283 307h47v5h-47zM217 312h6v4h-6zM286 312h45v4h-45zM210 316h5v5h-5zM289 316h42v5h-42zM203 321h5v5h-5zM292 321h39v5h-39zM196 326h5v5h-5zM295 326h36v5h-36zM189 331h4v5h-4zM297 331h34v5h-34zM183 336h3v5h-3zM299 336h32v5h-32zM176 341h3v5h-3zM302 341h29v5h-29zM169 346h3v5h-3zM304 346h27v5h-27zM162 351h3v4h-3zM305 351h26v4h-26zM155 355h2v5h-2zM307 355h24v5h-24zM148 360h2v5h-2zM309 360h22v5h-22zM142 365h2v5h-2zM310 365h21v5h-21zM135 370h2v5h-2zM311 370h20v5h-20zM129 375h2v5h-2zM312 375h19v5h-19zM123 380h2v5h-2zM313 380h18v5h-18zM117 385h2v5h-2zM314 385h17v5h-17zM110 390h2v4h-2zM315 390h16v4h-16zM104 394h2v5h-2zM316 394h15v5h-15zM97 399h2v5h-2zM317 399h14v5h-14zM91 404h2v5h-2zM317 404h14v5h-14zM85 409h1v5h-1zM318 409h13v5h-13zM78 414h2v5h-2zM318 414h13v5h-13zM71 419h1v5h-1zM318 419h13v5h-13zM63 424h1v4h-1zM318 424h13v4h-13zM318 428h13v5h-13zM49 433h1v5h-1zM318 433h13v5h-13zM318 438h13v5h-13zM318 443h2v5h-2zM31 448h1v5h-1z"/>
<path fill="#2806f0" d="M263 287h4v5h-4zM254 292h17v5h-17zM246 297h30v5h-30zM238 302h41v5h-41zM230 307h53v5h-53zM223 312h5v4h-5zM236 312h50v4h-50zM215 316h5v5h-5zM242 316h47v5h-47zM208 321h5v5h-5zM247 321h45v5h-45zM201 326h4v5h-4zM251 326h44v5h-44zM193 331h4v5h-4zM255 331h42v5h-42zM186 336h4v5h-4zM259 336h40v5h-40zM179 341h4v5h-4zM262 341h40v5h-40zM172 346h3v5h-3zM265 346h39v5h-39zM165 351h2v4h-2zM267 351h38v4h-38zM157 355h3v5h-3zM270 355h37v5h-37zM150 360h3v5h-3zM272 360h37v5h-37zM144 365h2v5h-2zM274 365h36v5h-36zM137 370h2v5h-2zM276 370h35v5h-35zM131 375h2v5h-2zM277 375h35v5h-35zM125 380h2v5h-2zM279 380h34v5h-34zM119 385h2v5h-2zM280 385h34v5h-34zM112 390h3v4h-3zM281 390h34v4h-34zM106 394h2v5h-2zM282 394h34v5h-34zM99 399h2v5h-2zM283 399h34v5h-34zM93 404h2v5h-2zM284 404h33v5h-33zM86 409h2v5h-2zM285 409h33v5h-33zM80 414h1v5h-1zM285 414h33v5h-33zM72 419h1v5h-1zM285 419h33v5h-33zM64 424h1v4h-1zM286 424h32v4h-32zM56 428h1v5h-1zM286 428h32v5h-32zM286 433h32v5h-32zM43 438h1v5h-1zM285 438h33v5h-33zM37 443h1v5h-1zM285 443h33v5h-33zM285 448h24v5h-24zM284 453h14v5h-14zM284 458h4v4h-4z"/>
<path fill="#2807f0" d="M228 312h8v4h-8zM220 316h22v5h-22zM213 321h34v5h-34zM205 326h46v5h-46zM197 331h58v5h-58zM190 336h4v5h-4zM210 336h49v5h-49zM183 341h3v5h-3zM220 341h42v5h-42zM175 346h3v5h-3zM228 346h37v5h-37zM167 351h3v4h-3zM234 351h33v4h-33zM160 355h2v5h-2zM239 355h31v5h-31zM153 360h2v5h-2zM242 360h30v5h-30zM146 365h2v5h-2zM245 365h29v5h-29zM139 370h2v5h-2zM245 370h31v5h-31zM133 375h2v5h-2zM245 375h32v5h-32zM127 380h2v5h-2zM246 380h33v5h-33zM121 385h2v5h-2zM247 385h33v5h-33zM115 390h2v4h-2zM249 390h32v4h-32zM108 394h2v5h-2zM250 394h32v5h-32zM101 399h3v5h-3zM252 399h31v5h-31zM95 404h2v5h-2zM253 404h31v5h-31zM88 409h2v5h-2zM254 409h31v5h-31zM81 414h2v5h-2zM254 414h31v5h-31zM73 419h2v5h-2zM255 419h30v5h-30zM65 424h1v4h-1zM255 424h31v4h-31zM57 428h1v5h-1zM255 428h31v5h-31zM50 433h1v5h-1zM255 433h31v5h-31zM255 438h30v5h-30zM255 443h30v5h-30zM32 448h1v5h-1zM254 448h31v5h-31zM254 453h30v5h-30zM253 458h31v4h-31zM254 462h24v5h-24zM257 467h10v5h-10z"/>
<path fill="#2808f0" d="M194 336h16v5h-16zM186 341h34v5h-34zM178 346h50v5h-50zM170 351h3v4h-3zM211 351h23v4h-23zM162 355h3v5h-3zM221 355h18v5h-18zM155 360h2v5h-2zM228 360h14v5h-14zM148 365h2v5h-2zM232 365h13v5h-13zM141 370h2v5h-2zM234 370h11v5h-11zM135 375h2v5h-2zM234 375h11v5h-11zM129 380h2v5h-2zM232 380h14v5h-14zM123 385h2v5h-2zM229 385h18v5h-18zM117 390h2v4h-2zM226 390h23v4h-23zM110 394h2v5h-2zM223 394h27v5h-27zM104 399h2v5h-2zM221 399h31v5h-31zM97 404h2v5h-2zM221 404h32v5h-32zM90 409h2v5h-2zM222 409h32v5h-32zM83 414h2v5h-2zM223 414h31v5h-31zM75 419h1v5h-1zM224 419h31v5h-31zM225 424h30v4h-30zM225 428h30v5h-30zM226 433h29v5h-29zM44 438h1v5h-1zM226 438h29v5h-29zM38 443h1v5h-1zM226 443h29v5h-29zM226 448h28v5h-28zM226 453h28v5h-28zM225 458h28v4h-28zM225 462h29v5h-29zM229 467h28v5h-28zM30 472h1v5h-1zM240 472h16v5h-16z"/>
<path fill="#2809f0" d="M173 351h38v4h-38zM165 355h2v5h-2zM208 355h13v5h-13zM157 360h2v5h-2zM218 360h10v5h-10zM150 365h1v5h-1zM224 365h8v5h-8zM143 370h1v5h-1zM228 370h6v5h-6zM137 375h1v5h-1zM228 375h6v5h-6zM131 380h1v5h-1zM226 380h6v5h-6zM125 385h3v5h-3zM223 385h6v5h-6zM119 390h7v4h-7zM219 390h7v4h-7zM112 394h14v5h-14zM215 394h8v5h-8zM106 399h19v5h-19zM210 399h11v5h-11zM99 404h27v5h-27zM204 404h17v5h-17zM92 409h34v5h-34zM198 409h24v5h-24zM85 414h40v5h-40zM193 414h30v5h-30zM76 419h2v5h-2zM191 419h33v5h-33zM66 424h1v4h-1zM196 424h29v4h-29zM58 428h1v5h-1zM201 428h24v5h-24zM205 433h21v5h-21zM209 438h17v5h-17zM211 443h15v5h-15zM33 448h1v5h-1zM211 448h15v5h-15zM211 453h15v5h-15zM209 458h16v4h-16zM207 462h18v5h-18zM30 467h5v5h-5zM206 467h23v5h-23zM31 472h9v5h-9zM216 472h24v5h-24zM30 477h3v5h-3zM237 477h9v5h-9z"/>
<path fill="#2910f0" d="M167 355h41v5h-41zM159 360h4v5h-4zM209 360h9v5h-9zM151 365h2v5h-2zM217 365h7v5h-7zM144 370h2v5h-2zM222 370h6v5h-6zM138 375h2v5h-2zM224 375h4v5h-4zM132 380h4v5h-4zM222 380h4v5h-4zM128 385h5v5h-5zM220 385h3v5h-3zM126 390h6v4h-6zM216 390h3v4h-3zM126 394h6v5h-6zM211 394h4v5h-4zM125 399h7v5h-7zM205 399h5v5h-5zM126 404h7v5h-7zM199 404h5v5h-5zM126 409h9v5h-9zM191 409h7v5h-7zM125 414h11v5h-11zM183 414h10v5h-10zM78 419h54v5h-54zM174 419h17v5h-17zM67 424h1v4h-1zM177 424h19v4h-19zM188 428h13v5h-13zM51 433h1v5h-1zM195 433h10v5h-10zM200 438h9v5h-9zM203 443h8v5h-8zM204 448h7v5h-7zM203 453h8v5h-8zM201 458h8v4h-8zM30 462h3v5h-3zM198 462h9v5h-9zM35 467h5v5h-5zM195 467h11v5h-11zM40 472h7v5h-7zM197 472h19v5h-19zM33 477h8v5h-8zM219 477h18v5h-18z"/>
<path fill="#2a1bf0" d="M163 360h11v5h-11zM198 360h11v5h-11zM153 365h5v5h-5zM211 365h6v5h-6zM146 370h3v5h-3zM217 370h5v5h-5zM140 375h3v5h-3zM220 375h4v5h-4zM136 380h4v5h-4zM219 380h3v5h-3zM133 385h5v5h-5zM217 385h3v5h-3zM132 390h4v4h-4zM213 390h3v4h-3zM132 394h4v5h-4zM208 394h3v5h-3zM132 399h4v5h-4zM202 399h3v5h-3zM133 404h4v5h-4zM195 404h4v5h-4zM135 409h5v5h-5zM187 409h4v5h-4zM136 414h6v5h-6zM177 414h6v5h-6zM132 419h13v5h-13zM163 419h11v5h-11zM68 424h1v4h-1zM163 424h14v4h-14zM59 428h1v5h-1zM178 428h10v5h-10zM188 433h7v5h-7zM45 438h1v5h-1zM194 438h6v5h-6zM39 443h1v5h-1zM197 443h6v5h-6zM199 448h5v5h-5zM198 453h5v5h-5zM196 458h5v4h-5zM33 462h4v5h-4zM193 462h5v5h-5zM40 467h5v5h-5zM188 467h7v5h-7zM47 472h6v5h-6zM186 472h11v5h-11zM41 477h8v5h-8zM202 477h17v5h-17zM230 482h5v5h-5z"/>
<path fill="#2b27f0" d="M174 360h24v5h-24zM158 365h7v5h-7zM204 365h7v5h-7zM149 370h5v5h-5zM212 370h5v5h-5zM143 375h4v5h-4zM217 375h3v5h-3zM140 380h3v5h-3zM217 380h2v5h-2zM138 385h3v5h-3zM214 385h3v5h-3zM136 390h3v4h-3zM210 390h3v4h-3zM136 394h3v5h-3zM205 394h3v5h-3zM136 399h4v5h-4zM199 399h3v5h-3zM137 404h4v5h-4zM192 404h3v5h-3zM140 409h3v5h-3zM184 409h3v5h-3zM142 414h5v5h-5zM172 414h5v5h-5zM145 419h18v5h-18zM69 424h1v4h-1zM104 424h59v4h-59zM170 428h8v5h-8zM52 433h1v5h-1zM182 433h6v5h-6zM189 438h5v5h-5zM193 443h4v5h-4zM34 448h1v5h-1zM194 448h5v5h-5zM194 453h4v5h-4zM30 458h3v4h-3zM192 458h4v4h-4zM37 462h3v5h-3zM188 462h5v5h-5zM45 467h4v5h-4zM182 467h6v5h-6zM53 472h6v5h-6zM178 472h8v5h-8zM49 477h8v5h-8zM187 477h15v5h-15zM30 482h4v5h-4zM219 482h11v5h-11z"/>
<path fill="#2c33f0" d="M165 365h9v5h-9zM196 365h8v5h-8zM154 370h5v5h-5zM208 370h4v5h-4zM147 375h4v5h-4zM213 375h4v5h-4zM143 380h3v5h-3zM214 380h3v5h-3zM141 385h3v5h-3zM212 385h2v5h-2zM139 390h3v4h-3zM208 390h2v4h-2zM139 394h3v5h-3zM203 394h2v5h-2zM140 399h2v5h-2zM197 399h2v5h-2zM141 404h3v5h-3zM190 404h2v5h-2zM143 409h4v5h-4zM181 409h3v5h-3zM147 414h7v5h-7zM165 414h7v5h-7zM70 424h1v4h-1zM85 424h19v4h-19zM60 428h1v5h-1zM162 428h8v5h-8zM177 433h5v5h-5zM185 438h4v5h-4zM40 443h1v5h-1zM189 443h4v5h-4zM191 448h3v5h-3zM30 453h1v5h-1zM190 453h4v5h-4zM33 458h2v4h-2zM188 458h4v4h-4zM40 462h3v5h-3zM184 462h4v5h-4zM49 467h4v5h-4zM178 467h4v5h-4zM59 472h6v5h-6zM172 472h6v5h-6zM57 477h8v5h-8zM175 477h12v5h-12zM34 482h5v5h-5zM208 482h11v5h-11z"/>
<path fill="#2e40f0" d="M174 365h22v5h-22zM159 370h5v5h-5zM202 370h6v5h-6zM151 375h4v5h-4zM209 375h4v5h-4zM146 380h3v5h-3zM212 380h2v5h-2zM144 385h2v5h-2zM210 385h2v5h-2zM142 390h3v4h-3zM206 390h2v4h-2zM142 394h2v5h-2zM201 394h2v5h-2zM142 399h3v5h-3zM195 399h2v5h-2zM144 404h3v5h-3zM187 404h3v5h-3zM147 409h3v5h-3zM178 409h3v5h-3zM154 414h11v5h-11zM71 424h14v4h-14zM153 428h9v5h-9zM172 433h5v5h-5zM46 438h1v5h-1zM181 438h4v5h-4zM185 443h4v5h-4zM35 448h1v5h-1zM187 448h4v5h-4zM31 453h2v5h-2zM187 453h3v5h-3zM35 458h3v4h-3zM185 458h3v4h-3zM43 462h2v5h-2zM180 462h4v5h-4zM53 467h4v5h-4zM173 467h5v5h-5zM65 472h6v5h-6zM166 472h6v5h-6zM65 477h9v5h-9zM166 477h9v5h-9zM39 482h5v5h-5zM197 482h11v5h-11zM223 487h1v5h-1z"/>
<path fill="#3350f0" d="M164 370h7v5h-7zM196 370h6v5h-6zM155 375h4v5h-4zM205 375h4v5h-4zM149 380h3v5h-3zM209 380h3v5h-3zM146 385h3v5h-3zM208 385h2v5h-2zM145 390h2v4h-2zM204 390h2v4h-2zM144 394h3v5h-3zM199 394h2v5h-2zM145 399h2v5h-2zM193 399h2v5h-2zM147 404h2v5h-2zM185 404h2v5h-2zM150 409h3v5h-3zM175 409h3v5h-3zM61 428h1v5h-1zM140 428h13v5h-13zM53 433h1v5h-1zM167 433h5v5h-5zM177 438h4v5h-4zM182 443h3v5h-3zM184 448h3v5h-3zM33 453h2v5h-2zM184 453h3v5h-3zM38 458h2v4h-2zM182 458h3v4h-3zM45 462h3v5h-3zM177 462h3v5h-3zM57 467h3v5h-3zM169 467h4v5h-4zM71 472h6v5h-6zM160 472h6v5h-6zM74 477h9v5h-9zM158 477h8v5h-8zM44 482h6v5h-6zM187 482h10v5h-10zM216 487h7v5h-7z"/>
<path fill="#3860f0" d="M171 370h25v5h-25zM159 375h4v5h-4zM201 375h4v5h-4zM152 380h3v5h-3zM206 380h3v5h-3zM149 385h2v5h-2zM206 385h2v5h-2zM147 390h3v4h-3zM202 390h2v4h-2zM147 394h2v5h-2zM198 394h1v5h-1zM147 399h3v5h-3zM191 399h2v5h-2zM149 404h3v5h-3zM183 404h2v5h-2zM153 409h4v5h-4zM171 409h4v5h-4zM121 428h19v5h-19zM161 433h6v5h-6zM47 438h1v5h-1zM173 438h4v5h-4zM41 443h1v5h-1zM179 443h3v5h-3zM36 448h1v5h-1zM181 448h3v5h-3zM35 453h2v5h-2zM181 453h3v5h-3zM40 458h2v4h-2zM178 458h4v4h-4zM48 462h3v5h-3zM173 462h4v5h-4zM60 467h4v5h-4zM165 467h4v5h-4zM77 472h7v5h-7zM154 472h6v5h-6zM83 477h9v5h-9zM149 477h9v5h-9zM50 482h5v5h-5zM176 482h11v5h-11zM30 487h1v5h-1zM210 487h6v5h-6z"/>
<path fill="#3d70f0" d="M163 375h6v5h-6zM195 375h6v5h-6zM155 380h4v5h-4zM202 380h4v5h-4zM151 385h3v5h-3zM203 385h3v5h-3zM150 390h2v4h-2zM200 390h2v4h-2zM149 394h2v5h-2zM196 394h2v5h-2zM150 399h2v5h-2zM189 399h2v5h-2zM152 404h2v5h-2zM181 404h2v5h-2zM157 409h14v5h-14zM62 428h1v5h-1zM109 428h12v5h-12zM54 433h1v5h-1zM155 433h6v5h-6zM169 438h4v5h-4zM176 443h3v5h-3zM178 448h3v5h-3zM37 453h1v5h-1zM178 453h3v5h-3zM42 458h2v4h-2zM175 458h3v4h-3zM51 462h2v5h-2zM170 462h3v5h-3zM64 467h4v5h-4zM160 467h5v5h-5zM84 472h6v5h-6zM148 472h6v5h-6zM92 477h12v5h-12zM139 477h10v5h-10zM55 482h6v5h-6zM166 482h10v5h-10zM31 487h2v5h-2zM203 487h7v5h-7z"/>
<path fill="#4280f0" d="M169 375h26v5h-26zM159 380h4v5h-4zM198 380h4v5h-4zM154 385h3v5h-3zM201 385h2v5h-2zM152 390h3v4h-3zM198 390h2v4h-2zM151 394h3v5h-3zM194 394h2v5h-2zM152 399h3v5h-3zM187 399h2v5h-2zM154 404h3v5h-3zM178 404h3v5h-3zM63 428h1v5h-1zM100 428h9v5h-9zM148 433h7v5h-7zM165 438h4v5h-4zM172 443h4v5h-4zM175 448h3v5h-3zM38 453h2v5h-2zM175 453h3v5h-3zM44 458h2v4h-2zM172 458h3v4h-3zM53 462h3v5h-3zM166 462h4v5h-4zM68 467h5v5h-5zM156 467h4v5h-4zM90 472h9v5h-9zM140 472h8v5h-8zM104 477h35v5h-35zM61 482h10v5h-10zM157 482h9v5h-9zM33 487h3v5h-3zM197 487h6v5h-6z"/>
<path fill="#478ff0" d="M163 380h6v5h-6zM192 380h6v5h-6zM157 385h4v5h-4zM198 385h3v5h-3zM155 390h2v4h-2zM196 390h2v4h-2zM154 394h2v5h-2zM192 394h2v5h-2zM155 399h2v5h-2zM185 399h2v5h-2zM157 404h3v5h-3zM175 404h3v5h-3zM92 428h8v5h-8zM140 433h8v5h-8zM48 438h1v5h-1zM160 438h5v5h-5zM42 443h1v5h-1zM169 443h3v5h-3zM37 448h1v5h-1zM172 448h3v5h-3zM40 453h2v5h-2zM172 453h3v5h-3zM46 458h2v4h-2zM169 458h3v4h-3zM56 462h3v5h-3zM162 462h4v5h-4zM73 467h4v5h-4zM151 467h5v5h-5zM99 472h17v5h-17zM123 472h17v5h-17zM71 482h12v5h-12zM147 482h10v5h-10zM36 487h3v5h-3zM190 487h7v5h-7zM209 492h4v5h-4z"/>
<path fill="#4c9af1" d="M169 380h23v5h-23zM161 385h4v5h-4zM193 385h5v5h-5zM157 390h4v4h-4zM193 390h3v4h-3zM156 394h4v5h-4zM189 394h3v5h-3zM157 399h4v5h-4zM182 399h3v5h-3zM160 404h15v5h-15zM64 428h1v5h-1zM81 428h11v5h-11zM55 433h1v5h-1zM132 433h8v5h-8zM155 438h5v5h-5zM165 443h4v5h-4zM38 448h2v5h-2zM168 448h4v5h-4zM42 453h2v5h-2zM169 453h3v5h-3zM48 458h2v4h-2zM165 458h4v4h-4zM59 462h2v5h-2zM158 462h4v5h-4zM77 467h5v5h-5zM144 467h7v5h-7zM116 472h7v5h-7zM83 482h14v5h-14zM134 482h13v5h-13zM39 487h2v5h-2zM184 487h6v5h-6zM204 492h5v5h-5z"/>
<path fill="#50a6f2" d="M165 385h10v5h-10zM183 385h10v5h-10zM161 390h4v4h-4zM189 390h4v4h-4zM160 394h4v5h-4zM186 394h3v5h-3zM161 399h4v5h-4zM179 399h3v5h-3zM65 428h16v5h-16zM125 433h7v5h-7zM149 438h6v5h-6zM160 443h5v5h-5zM40 448h1v5h-1zM165 448h3v5h-3zM44 453h1v5h-1zM165 453h4v5h-4zM50 458h2v4h-2zM161 458h4v4h-4zM61 462h3v5h-3zM153 462h5v5h-5zM82 467h6v5h-6zM136 467h8v5h-8zM97 482h37v5h-37zM41 487h3v5h-3zM178 487h6v5h-6zM200 492h4v5h-4z"/>
<path fill="#54b1f3" d="M175 385h8v5h-8zM165 390h24v4h-24zM164 394h22v5h-22zM165 399h14v5h-14zM56 433h1v5h-1zM119 433h6v5h-6zM49 438h1v5h-1zM143 438h6v5h-6zM43 443h1v5h-1zM155 443h5v5h-5zM41 448h2v5h-2zM160 448h5v5h-5zM45 453h2v5h-2zM160 453h5v5h-5zM52 458h2v4h-2zM156 458h5v4h-5zM64 462h3v5h-3zM147 462h6v5h-6zM88 467h9v5h-9zM123 467h13v5h-13zM44 487h2v5h-2zM172 487h6v5h-6zM196 492h4v5h-4zM201 497h2v4h-2z"/>
<path fill="#59bdf4" d="M114 433h5v5h-5zM137 438h6v5h-6zM150 443h5v5h-5zM43 448h2v5h-2zM155 448h5v5h-5zM47 453h2v5h-2zM155 453h5v5h-5zM54 458h2v4h-2zM150 458h6v4h-6zM67 462h4v5h-4zM139 462h8v5h-8zM97 467h26v5h-26zM46 487h3v5h-3zM166 487h6v5h-6zM30 492h1v5h-1zM191 492h5v5h-5zM197 497h4v4h-4z"/>
<path fill="#5dc8f5" d="M109 433h5v5h-5zM132 438h5v5h-5zM44 443h1v5h-1zM144 443h6v5h-6zM45 448h1v5h-1zM148 448h7v5h-7zM49 453h2v5h-2zM148 453h7v5h-7zM56 458h3v4h-3zM143 458h7v4h-7zM71 462h3v5h-3zM130 462h9v5h-9zM49 487h3v5h-3zM160 487h6v5h-6zM31 492h2v5h-2zM187 492h4v5h-4zM194 497h3v4h-3z"/>
<path fill="#62d2ee" d="M57 433h1v5h-1zM104 433h5v5h-5zM50 438h1v5h-1zM128 438h4v5h-4zM45 443h1v5h-1zM138 443h6v5h-6zM46 448h2v5h-2zM141 448h7v5h-7zM51 453h2v5h-2zM140 453h8v5h-8zM59 458h2v4h-2zM135 458h8v4h-8zM74 462h4v5h-4zM122 462h8v5h-8zM52 487h3v5h-3zM153 487h7v5h-7zM33 492h1v5h-1zM184 492h3v5h-3zM190 497h4v4h-4zM190 501h3v5h-3z"/>
<path fill="#67dbe2" d="M58 433h2v5h-2zM99 433h5v5h-5zM124 438h4v5h-4zM46 443h2v5h-2zM133 443h5v5h-5zM48 448h2v5h-2zM136 448h5v5h-5zM53 453h2v5h-2zM133 453h7v5h-7zM61 458h2v4h-2zM128 458h7v4h-7zM78 462h5v5h-5zM113 462h9v5h-9zM55 487h3v5h-3zM147 487h6v5h-6zM34 492h2v5h-2zM180 492h4v5h-4zM187 497h3v4h-3zM187 501h3v5h-3z"/>
<path fill="#6de4d5" d="M60 433h6v5h-6zM92 433h7v5h-7zM51 438h1v5h-1zM120 438h4v5h-4zM48 443h2v5h-2zM129 443h4v5h-4zM50 448h2v5h-2zM131 448h5v5h-5zM55 453h1v5h-1zM128 453h5v5h-5zM63 458h3v4h-3zM123 458h5v4h-5zM83 462h8v5h-8zM103 462h10v5h-10zM58 487h4v5h-4zM140 487h7v5h-7zM36 492h1v5h-1zM176 492h4v5h-4zM184 497h3v4h-3zM184 501h3v5h-3z"/>
<path fill="#71e7b3" d="M66 433h26v5h-26zM52 438h2v5h-2zM117 438h3v5h-3zM50 443h2v5h-2zM126 443h3v5h-3zM52 448h2v5h-2zM127 448h4v5h-4zM56 453h3v5h-3zM124 453h4v5h-4zM66 458h3v4h-3zM118 458h5v4h-5zM91 462h12v5h-12zM62 487h5v5h-5zM132 487h8v5h-8zM37 492h2v5h-2zM172 492h4v5h-4zM181 497h3v4h-3zM180 501h4v5h-4z"/>
<path fill="#74e989" d="M54 438h3v5h-3zM114 438h3v5h-3zM52 443h3v5h-3zM123 443h3v5h-3zM54 448h2v5h-2zM124 448h3v5h-3zM59 453h2v5h-2zM121 453h3v5h-3zM69 458h3v4h-3zM114 458h4v4h-4zM67 487h11v5h-11zM121 487h11v5h-11zM39 492h1v5h-1zM169 492h3v5h-3zM30 497h1v4h-1zM178 497h3v4h-3zM177 501h3v5h-3z"/>
<path fill="#78eb5f" d="M57 438h4v5h-4zM110 438h4v5h-4zM55 443h2v5h-2zM120 443h3v5h-3zM56 448h2v5h-2zM121 448h3v5h-3zM61 453h2v5h-2zM118 453h3v5h-3zM72 458h3v4h-3zM109 458h5v4h-5zM78 487h43v5h-43zM40 492h2v5h-2zM165 492h4v5h-4zM31 497h1v4h-1zM175 497h3v4h-3zM30 501h1v5h-1zM175 501h2v5h-2z"/>
<path fill="#7eeb4a" d="M61 438h4v5h-4zM107 438h3v5h-3zM57 443h3v5h-3zM117 443h3v5h-3zM58 448h3v5h-3zM118 448h3v5h-3zM63 453h3v5h-3zM115 453h3v5h-3zM75 458h4v4h-4zM104 458h5v4h-5zM42 492h1v5h-1zM161 492h4v5h-4zM32 497h1v4h-1zM172 497h3v4h-3zM31 501h1v5h-1zM172 501h3v5h-3z"/>
<path fill="#85eb39" d="M65 438h5v5h-5zM103 438h4v5h-4zM60 443h3v5h-3zM114 443h3v5h-3zM61 448h2v5h-2zM115 448h3v5h-3zM66 453h2v5h-2zM111 453h4v5h-4zM79 458h6v4h-6zM98 458h6v4h-6zM43 492h2v5h-2zM158 492h3v5h-3zM33 497h2v4h-2zM169 497h3v4h-3zM32 501h1v5h-1zM169 501h3v5h-3z"/>
<path fill="#8deb28" d="M70 438h6v5h-6zM99 438h4v5h-4zM63 443h4v5h-4zM112 443h2v5h-2zM63 448h3v5h-3zM113 448h2v5h-2zM68 453h3v5h-3zM108 453h3v5h-3zM85 458h13v4h-13zM45 492h1v5h-1zM154 492h4v5h-4zM35 497h1v4h-1zM166 497h3v4h-3zM33 501h1v5h-1zM166 501h3v5h-3z"/>
<path fill="#9eed21" d="M76 438h9v5h-9zM90 438h9v5h-9zM67 443h4v5h-4zM109 443h3v5h-3zM66 448h3v5h-3zM110 448h3v5h-3zM71 453h4v5h-4zM105 453h3v5h-3zM46 492h1v5h-1zM150 492h4v5h-4zM36 497h1v4h-1zM163 497h3v4h-3zM34 501h1v5h-1zM163 501h3v5h-3z"/>
<path fill="#b0ef1a" d="M85 438h5v5h-5zM71 443h3v5h-3zM106 443h3v5h-3zM69 448h3v5h-3zM107 448h3v5h-3zM75 453h4v5h-4zM101 453h4v5h-4zM47 492h2v5h-2zM147 492h3v5h-3zM37 497h1v4h-1zM161 497h2v4h-2zM35 501h1v5h-1zM161 501h2v5h-2z"/>
<path fill="#c2f013" d="M74 443h4v5h-4zM102 443h4v5h-4zM72 448h4v5h-4zM104 448h3v5h-3zM79 453h6v5h-6zM95 453h6v5h-6zM49 492h1v5h-1zM143 492h4v5h-4zM38 497h1v4h-1zM158 497h3v4h-3zM36 501h1v5h-1zM158 501h3v5h-3z"/>
<path fill="#d5f00b" d="M78 443h6v5h-6zM97 443h5v5h-5zM76 448h4v5h-4zM100 448h4v5h-4zM85 453h10v5h-10zM50 492h2v5h-2zM139 492h4v5h-4zM39 497h1v4h-1zM156 497h2v4h-2zM37 501h1v5h-1zM156 501h2v5h-2z"/>
<path fill="#e9f004" d="M84 443h13v5h-13zM80 448h7v5h-7zM93 448h7v5h-7zM52 492h2v5h-2zM135 492h4v5h-4zM40 497h1v4h-1zM153 497h3v4h-3zM38 501h1v5h-1zM153 501h3v5h-3z"/>
<path fill="#f4ec02" d="M87 448h6v5h-6zM54 492h1v5h-1zM131 492h4v5h-4zM41 497h1v4h-1zM150 497h3v4h-3zM151 501h2v5h-2z"/>
<path fill="#f3e207" d="M55 492h2v5h-2zM127 492h4v5h-4zM42 497h1v4h-1zM148 497h2v4h-2zM39 501h1v5h-1zM148 501h3v5h-3z"/>
<path fill="#f1d70d" d="M57 492h2v5h-2zM123 492h4v5h-4zM43 497h1v4h-1zM145 497h3v4h-3zM40 501h1v5h-1zM146 501h2v5h-2z"/>
<path fill="#efcb12" d="M59 492h2v5h-2zM118 492h5v5h-5zM44 497h1v4h-1zM143 497h2v4h-2zM41 501h1v5h-1zM143 501h3v5h-3z"/>
<path fill="#edbc19" d="M61 492h3v5h-3zM112 492h6v5h-6zM45 497h1v4h-1zM140 497h3v4h-3zM42 501h1v5h-1zM141 501h2v5h-2z"/>
<path fill="#eaae1f" d="M64 492h3v5h-3zM106 492h6v5h-6zM138 497h2v4h-2zM43 501h1v5h-1zM138 501h3v5h-3z"/>
<path fill="#e8a026" d="M67 492h10v5h-10zM95 492h11v5h-11zM46 497h1v4h-1zM135 497h3v4h-3zM44 501h1v5h-1zM136 501h2v5h-2z"/>
<path fill="#e69326" d="M77 492h18v5h-18zM47 497h1v4h-1zM133 497h2v4h-2zM45 501h1v5h-1zM134 501h2v5h-2z"/>
<path fill="#e38627" d="M48 497h1v4h-1zM130 497h3v4h-3zM46 501h1v5h-1zM131 501h3v5h-3z"/>
<path fill="#e17a27" d="M49 497h1v4h-1zM128 497h2v4h-2zM47 501h1v5h-1zM129 501h2v5h-2z"/>
<path fill="#df6d28" d="M50 497h1v4h-1zM125 497h3v4h-3zM127 501h2v5h-2z"/>
<path fill="#dc6127" d="M51 497h1v4h-1zM123 497h2v4h-2zM48 501h1v5h-1zM124 501h3v5h-3z"/>
<path fill="#da5725" d="M52 497h1v4h-1zM120 497h3v4h-3zM49 501h1v5h-1zM122 501h2v5h-2z"/>
<path fill="#d74c23" d="M53 497h1v4h-1zM118 497h2v4h-2zM50 501h1v5h-1zM119 501h3v5h-3z"/>
<path fill="#d54121" d="M54 497h1v4h-1zM115 497h3v4h-3zM51 501h1v5h-1zM117 501h2v5h-2z"/>
<path fill="#d3371f" d="M55 497h2v4h-2zM112 497h3v4h-3zM52 501h1v5h-1zM115 501h2v5h-2z"/>
<path fill="#d1311e" d="M57 497h1v4h-1zM109 497h3v4h-3zM53 501h1v5h-1zM112 501h3v5h-3z"/>
<path fill="#d12e1d" d="M58 497h1v4h-1zM106 497h3v4h-3zM54 501h1v5h-1zM110 501h2v5h-2z"/>
<path fill="#d02b1d" d="M59 497h1v4h-1zM103 497h3v4h-3zM55 501h1v5h-1zM107 501h3v5h-3z"/>
<path fill="#cf271d" d="M60 497h2v4h-2zM99 497h4v4h-4zM56 501h1v5h-1zM104 501h3v5h-3z"/>
<path fill="#ce241d" d="M62 497h1v4h-1zM95 497h4v4h-4zM57 501h1v5h-1zM102 501h2v5h-2z"/>
<path fill="#ce201c" d="M63 497h2v4h-2zM91 497h4v4h-4zM58 501h1v5h-1zM99 501h3v5h-3z"/>
<path fill="#ca1d1b" d="M65 497h3v4h-3zM84 497h7v4h-7zM59 501h1v5h-1zM96 501h3v5h-3z"/>
<path fill="#c21b1a" d="M68 497h16v4h-16zM60 501h1v5h-1zM93 501h3v5h-3z"/>
<path fill="#ba1918" d="M61 501h2v5h-2zM89 501h4v5h-4z"/>
<path fill="#b21716" d="M63 501h1v5h-1zM85 501h4v5h-4z"/>
<path fill="#aa1514" d="M64 501h2v5h-2zM81 501h4v5h-4z"/>
<path fill="#a31313" d="M66 501h2v5h-2zM74 501h7v5h-7z"/>
<path fill="#991111" d="M68 501h6v5h-6z"/>
<path fill="none" stroke="#3a3a3a" stroke-opacity="0.7" stroke-width="0.6" d="M171.5 408.5 169.5 408.9 167.5 409.1 165.5 409.2 163.5 409.1 161.5 408.8 160.5 408.4 158.8 407.5 157.8 406.5 157.1 405.5 156.5 404.4 155.6 402.5 155.2 401.5 154.7 399.5 154.5 398.0 154.4 396.5 154.5 395.3 154.8 393.5 155.4 391.5 155.8 390.5 156.5 389.1 157.5 387.6 158.4 386.5 159.4 385.5 160.5 384.5 161.5 383.8 162.5 383.1 163.6 382.5 165.5 381.6 166.5 381.1 168.1 380.5 169.5 380.0 171.2 379.5 172.5 379.1 174.5 378.7 175.5 378.5 177.5 378.2 179.5 378.0 181.5 377.9 183.5 378.0 185.5 378.2 187.5 378.4 188.5 378.6 190.5 379.2 191.5 379.5 193.5 380.3 194.5 380.9 195.6 381.5 197.0 382.5 198.2 383.5 199.1 384.5 199.7 385.5 199.9 387.5 199.5 389.0 198.8 390.5 198.1 391.5 197.4 392.5 196.5 393.6 195.5 394.6 194.5 395.6 193.5 396.5 192.3 397.5 191.1 398.5 189.8 399.5 188.5 400.4 187.5 401.1 186.5 401.7 185.3 402.5 183.7 403.5 182.5 404.2 181.5 404.7 180.0 405.5 178.5 406.2 177.5 406.6 175.5 407.4 174.5 407.7 172.5 408.3 171.5 408.5M131.5 475.6 129.5 475.8 127.5 476.1 125.5 476.2 123.5 476.3 121.5 476.4 119.5 476.3 117.5 476.3 115.5 476.2 113.5 476.1 111.5 475.9 109.5 475.7 108.0 475.5 106.5 475.3 104.5 475.1 102.5 474.8 100.5 474.5 99.5 474.4 97.5 474.1 95.5 473.8 93.6 473.5 92.5 473.3 90.5 473.0 88.5 472.7 87.5 472.5 85.5 472.1 83.5 471.8 82.0 471.5 80.5 471.2 78.5 470.8 77.0 470.5 75.5 470.2 73.5 469.8 72.3 469.5 70.5 469.1 68.5 468.6 67.5 468.4 65.5 467.8 64.3 467.5 62.5 467.0 60.9 466.5 59.5 466.0 58.0 465.5 56.5 464.9 55.4 464.5 53.5 463.7 52.5 463.2 51.0 462.5 49.5 461.7 48.5 461.2 47.4 460.5 45.8 459.5 44.5 458.6 43.5 457.8 42.5 456.9 41.5 456.0 40.5 455.0 39.5 453.9 38.5 452.6 37.7 451.5 37.4 450.5 38.2 449.5 39.2 448.5 40.3 447.5 41.3 446.5 42.4 445.5 43.5 444.6 44.5 443.7 45.5 442.9 46.5 442.0 47.5 441.2 48.5 440.5 49.8 439.5 51.1 438.5 52.5 437.5 53.5 436.8 54.5 436.2 55.5 435.5 57.1 434.5 58.5 433.7 59.5 433.1 60.6 432.5 62.5 431.5 63.5 431.0 64.6 430.5 66.5 429.7 67.5 429.5 69.5 429.4 71.5 429.5 73.5 429.5 74.5 429.5 76.5 429.6 78.5 429.6 80.5 429.7 82.5 429.8 84.5 429.9 86.5 430.0 88.5 430.2 90.5 430.3 92.5 430.4 93.5 430.5 95.5 430.7 97.5 430.8 99.5 431.0 101.5 431.1 103.5 431.3 105.5 431.5 106.5 431.6 108.5 431.7 110.5 431.9 112.5 432.1 114.5 432.3 116.5 432.4 117.5 432.5 119.5 432.7 121.5 432.9 123.5 433.1 125.5 433.3 127.5 433.5 128.5 433.6 130.5 433.8 132.5 434.0 134.5 434.2 136.5 434.4 137.5 434.5 139.5 434.8 141.5 435.0 143.5 435.3 144.6 435.5 146.5 435.8 148.5 436.2 150.2 436.5 151.5 436.8 153.5 437.2 154.5 437.5 156.5 438.0 158.1 438.5 159.5 439.0 161.0 439.5 162.5 440.1 163.5 440.5 165.5 441.4 166.5 442.0 167.5 442.6 168.9 443.5 170.2 444.5 171.3 445.5 172.3 446.5 173.0 447.5 173.6 448.5 174.4 450.5 174.6 451.5 174.7 453.5 174.5 454.5 173.8 456.5 173.3 457.5 172.5 458.6 171.5 459.8 170.5 460.9 169.5 461.8 168.5 462.6 167.3 463.5 165.7 464.5 164.5 465.2 163.5 465.8 162.2 466.5 160.5 467.3 159.5 467.8 157.9 468.5 156.5 469.1 155.4 469.5 153.5 470.2 152.5 470.5 150.5 471.2 149.5 471.5 147.5 472.1 146.2 472.5 144.5 473.0 142.5 473.5 141.5 473.7 139.5 474.2 137.8 474.5 136.5 474.8 134.5 475.1 132.5 475.4 131.5 475.6M30.5 491.1 32.3 490.5 33.5 490.1 35.5 489.6 36.5 489.3 38.5 488.8 39.8 488.5 41.5 488.1 43.5 487.7 44.7 487.5 46.5 487.2 48.5 486.8 50.5 486.5 51.5 486.4 53.5 486.1 55.5 485.8 57.5 485.6 58.5 485.5 60.5 485.3 62.5 485.1 64.5 484.9 66.5 484.8 68.5 484.7 70.5 484.6 71.7 484.5 73.5 484.4 75.5 484.3 77.5 484.1 79.5 484.0 81.5 483.9 83.5 483.8 85.5 483.7 87.5 483.5 88.5 483.5 90.5 483.3 92.5 483.2 94.5 483.0 96.5 482.9 98.5 482.8 100.5 482.6 102.3 482.5 103.5 482.4 105.5 482.2 107.5 482.1 109.5 481.9 111.5 481.8 113.5 481.7 115.5 481.6 117.5 481.6 119.5 481.6 121.5 481.6 123.5 481.6 125.5 481.7 127.5 481.8 129.5 481.9 131.5 482.0 133.5 482.2 135.5 482.4 136.5 482.5 138.5 482.7 140.5 482.9 142.5 483.1 144.5 483.4 145.6 483.5 147.5 483.7 149.5 483.9 151.5 484.1 153.5 484.3 155.2 484.5 156.5 484.6 158.5 484.8 160.5 485.0 162.5 485.2 164.5 485.4 165.5 485.5 167.5 485.7 169.5 485.9 171.5 486.1 173.5 486.3 175.0 486.5 176.5 486.7 178.5 486.9 180.5 487.1 182.5 487.4 183.5 487.5 185.5 487.8 187.5 488.0 189.5 488.3 190.6 488.5 192.5 488.8 194.5 489.2 196.4 489.5 197.5 489.7 199.5 490.1 201.2 490.5 202.5 490.8 204.5 491.3 205.5 491.6 207.5 492.2 208.5 492.6 210.5 493.3 211.5 493.8 212.5 494.5 211.5 494.5 209.6 495.5 208.5 495.6 207.5 496.6 205.6 497.5 204.5 497.6 203.5 498.6 201.7 499.5 200.5 499.7 199.5 500.7 197.5 500.7 196.5 501.7 194.7 502.5 193.5 502.7 192.5 503.8 190.8 504.5 189.5 504.8M120.5 467.6 118.5 467.8 116.5 468.0 114.5 468.1 112.5 468.3 110.5 468.4 108.5 468.4 106.5 468.5 104.5 468.5 102.5 468.5 100.5 468.4 98.5 468.4 96.5 468.3 94.5 468.1 92.5 468.0 90.5 467.8 88.5 467.6 87.5 467.5 85.5 467.2 83.5 467.0 81.5 466.7 80.5 466.5 78.5 466.2 76.5 465.8 75.2 465.5 73.5 465.1 71.5 464.7 70.5 464.4 68.5 463.9 66.9 463.5 65.5 463.1 63.7 462.5 62.5 462.1 61.0 461.5 59.5 460.9 58.5 460.5 56.5 459.5 55.5 458.9 54.5 458.4 53.1 457.5 51.6 456.5 50.5 455.6 49.5 454.8 48.5 453.8 47.5 452.8 46.5 451.5 45.8 450.5 45.3 449.5 44.5 447.7 44.2 446.5 44.5 445.4 45.5 444.4 46.6 443.5 47.7 442.5 49.0 441.5 50.3 440.5 51.5 439.6 52.5 438.9 53.5 438.2 54.5 437.5 56.1 436.5 57.5 435.7 58.5 435.1 59.5 434.5 61.5 433.6 62.5 433.4 64.5 433.2 66.5 433.1 68.5 433.0 70.5 432.9 72.5 432.9 74.5 432.9 76.5 432.9 78.5 433.0 80.5 433.0 82.5 433.1 84.5 433.2 86.5 433.3 88.5 433.4 89.8 433.5 91.5 433.6 93.5 433.8 95.5 433.9 97.5 434.1 99.5 434.3 101.3 434.5 102.5 434.6 104.5 434.9 106.5 435.1 108.5 435.4 109.6 435.5 111.5 435.8 113.5 436.1 115.5 436.4 116.5 436.6 118.5 436.9 120.5 437.3 121.6 437.5 123.5 437.9 125.5 438.3 126.5 438.5 128.5 439.0 130.4 439.5 131.5 439.8 133.5 440.4 134.5 440.7 136.5 441.3 137.5 441.6 139.5 442.4 140.5 442.7 142.3 443.5 143.5 444.1 144.5 444.5 146.2 445.5 147.5 446.3 148.5 447.1 149.5 448.0 150.5 449.1 151.4 450.5 151.8 451.5 151.9 453.5 151.5 454.8 150.5 456.5 149.7 457.5 148.6 458.5 147.5 459.3 146.5 459.9 145.5 460.6 143.7 461.5 142.5 462.0 141.5 462.5 139.5 463.3 138.5 463.6 136.5 464.3 135.5 464.6 133.5 465.1 132.0 465.5 130.5 465.8 128.5 466.3 127.4 466.5 125.5 466.8 123.5 467.1 121.5 467.4 120.5 467.6M30.5 495.0 31.5 494.5 33.5 493.6 34.5 493.3 36.5 492.6 37.5 492.2 39.5 491.7 40.5 491.4 42.5 490.9 44.1 490.5 45.5 490.2 47.5 489.8 49.1 489.5 50.5 489.3 52.5 488.9 54.5 488.7 55.8 488.5 57.5 488.3 59.5 488.1 61.5 487.9 63.5 487.7 65.5 487.6 67.3 487.5 68.5 487.4 70.5 487.4 72.5 487.3 74.5 487.2 76.5 487.1 78.5 487.1 80.5 487.0 82.5 486.9 84.5 486.9 86.5 486.8 88.5 486.8 90.5 486.7 92.5 486.7 94.5 486.6 96.5 486.6 98.5 486.5 100.5 486.5 101.5 486.5 103.5 486.5 105.5 486.4 107.5 486.4 109.5 486.4 111.5 486.4 113.5 486.4 115.5 486.4 117.5 486.5 119.1 486.5 120.5 486.5 122.5 486.6 124.5 486.6 126.5 486.7 128.5 486.8 130.5 486.8 132.5 486.9 134.5 487.0 136.5 487.1 138.5 487.3 140.5 487.4 141.9 487.5 143.5 487.6 145.5 487.7 147.5 487.9 149.5 488.1 151.5 488.2 153.5 488.4 154.5 488.5 156.5 488.7 158.5 488.9 160.5 489.1 162.5 489.3 164.4 489.5 165.5 489.6 167.5 489.9 169.5 490.1 171.5 490.4 172.5 490.5 174.5 490.8 176.5 491.2 178.5 491.5 179.5 491.7 181.5 492.1 183.4 492.5 184.5 492.8 186.5 493.3 187.5 493.6 189.5 494.3 190.5 494.6 192.3 495.5 193.5 496.3 194.5 497.2 195.0 498.5 194.9 500.5 194.5 502.5 193.5 502.5 192.5 503.5 190.6 504.5 189.5 504.6M104.5 462.7 102.5 462.9 100.5 463.1 98.5 463.3 96.5 463.3 94.5 463.4 92.5 463.3 90.5 463.3 88.5 463.1 86.5 463.0 84.5 462.7 82.7 462.5 81.5 462.3 79.5 462.0 77.5 461.6 76.5 461.4 74.5 460.9 73.0 460.5 71.5 460.1 69.7 459.5 68.5 459.1 66.9 458.5 65.5 457.9 64.5 457.5 62.7 456.5 61.5 455.8 60.5 455.1 59.5 454.4 58.4 453.5 57.4 452.5 56.5 451.5 55.5 450.0 54.8 448.5 54.5 447.5 54.3 445.5 54.5 444.0 55.1 442.5 56.0 441.5 57.2 440.5 58.5 439.8 59.5 439.3 61.5 438.5 62.5 438.2 64.5 437.8 65.8 437.5 67.5 437.2 69.5 437.0 71.5 436.8 73.5 436.7 75.5 436.6 77.5 436.5 78.5 436.5 80.5 436.5 82.5 436.5 83.5 436.5 85.5 436.6 87.5 436.6 89.5 436.7 91.5 436.9 93.5 437.0 95.5 437.2 97.5 437.4 98.5 437.5 100.5 437.8 102.5 438.1 104.5 438.4 105.5 438.6 107.5 439.0 109.5 439.4 110.5 439.6 112.5 440.2 113.7 440.5 115.5 441.1 116.6 441.5 118.5 442.3 119.5 442.8 120.7 443.5 122.1 444.5 123.1 445.5 123.8 446.5 124.3 448.5 124.1 450.5 123.5 451.9 122.6 453.5 121.8 454.5 120.9 455.5 119.9 456.5 118.6 457.5 117.5 458.3 116.5 458.9 115.4 459.5 113.5 460.3 112.5 460.7 110.5 461.4 109.5 461.6 107.5 462.1 105.5 462.5 104.5 462.7M30.5 499.7 31.5 498.7 32.5 497.9 33.5 497.2 34.7 496.5 36.5 495.6 37.5 495.2 39.2 494.5 40.5 494.0 42.2 493.5 43.5 493.1 45.5 492.6 46.5 492.3 48.5 491.9 50.4 491.5 51.5 491.3 53.5 491.0 55.5 490.7 56.7 490.5 58.5 490.3 60.5 490.1 62.5 489.9 64.5 489.7 66.5 489.6 68.5 489.5 69.5 489.5 71.5 489.4 73.5 489.3 75.5 489.3 77.5 489.2 79.5 489.2 81.5 489.1 83.5 489.1 85.5 489.0 87.5 489.0 89.5 489.0 91.5 488.9 93.5 488.9 95.5 488.9 97.5 488.9 99.5 488.9 101.5 488.9 103.5 488.9 105.5 488.9 107.5 488.9 109.5 488.9 111.5 489.0 113.5 489.0 115.5 489.0 117.5 489.1 119.5 489.2 121.5 489.2 123.5 489.3 125.5 489.4 127.5 489.5 128.5 489.5 130.5 489.6 132.5 489.7 134.5 489.9 136.5 490.0 138.5 490.1 140.5 490.3 142.5 490.5 143.5 490.5 145.5 490.7 147.5 490.9 149.5 491.1 151.5 491.3 152.9 491.5 154.5 491.7 156.5 491.9 158.5 492.2 160.4 492.5 161.5 492.7 163.5 493.0 165.5 493.4 166.5 493.6 168.5 494.1 170.3 494.5 171.5 494.8 173.5 495.5 174.5 495.9 175.8 496.5 177.2 497.5 177.8 498.5 177.9 500.5 177.8 502.5 177.7 504.5M96.5 457.6 94.5 457.8 92.5 458.0 90.5 458.0 88.5 458.0 86.5 457.8 84.5 457.6 83.5 457.4 81.5 457.0 79.5 456.6 78.5 456.3 76.5 455.6 75.5 455.1 74.2 454.5 72.5 453.5 71.5 452.6 70.5 451.6 69.9 450.5 69.7 448.5 70.5 446.6 71.4 445.5 72.4 444.5 73.5 443.7 74.5 443.1 75.9 442.5 77.5 442.0 79.5 441.5 80.5 441.3 82.5 441.1 84.5 440.9 86.5 440.8 88.5 440.8 90.5 440.9 92.5 441.0 94.5 441.2 96.5 441.4 97.5 441.6 99.5 441.9 101.5 442.4 102.5 442.7 104.5 443.4 105.5 443.9 106.7 444.5 108.0 445.5 108.8 446.5 109.5 448.5 109.1 450.5 108.5 451.6 107.5 452.8 106.5 453.7 105.3 454.5 103.5 455.5 102.5 455.9 101.0 456.5 99.5 456.9 97.5 457.4 96.5 457.6M35.0 505.5 34.9 503.5 35.0 501.5 35.5 500.5 36.5 499.4 37.5 498.5 39.0 497.5 40.5 496.7 41.5 496.3 43.4 495.5 44.5 495.1 46.5 494.5 47.5 494.2 49.5 493.7 50.5 493.5 52.5 493.1 54.5 492.7 55.6 492.5 57.5 492.2 59.5 492.0 61.5 491.7 63.5 491.6 64.5 491.5 66.5 491.4 68.5 491.3 70.5 491.2 72.5 491.1 74.5 491.1 76.5 491.0 78.5 491.0 80.5 490.9 82.5 490.9 84.5 490.9 86.5 490.9 88.5 490.8 90.5 490.8 92.5 490.8 94.5 490.8 96.5 490.8 98.5 490.8 100.5 490.8 102.5 490.9 104.5 490.9 106.5 490.9 108.5 491.0 110.5 491.0 112.5 491.1 114.5 491.1 116.5 491.2 118.5 491.3 120.5 491.4 122.5 491.5 123.5 491.5 125.5 491.6 127.5 491.8 129.5 491.9 131.5 492.1 133.5 492.2 135.5 492.4 136.7 492.5 138.5 492.7 140.5 492.9 142.5 493.1 144.5 493.4 145.5 493.5 147.5 493.8 149.5 494.1 151.5 494.5 152.5 494.7 154.5 495.1 156.1 495.5 157.5 495.9 159.3 496.5 160.5 497.0 161.5 497.6 162.6 498.5 162.9 500.5 162.8 502.5 162.7 504.5M40.0 505.5 39.9 503.5 40.1 501.5 40.6 500.5 41.6 499.5 42.9 498.5 44.5 497.6 45.5 497.2 47.1 496.5 48.5 496.0 50.1 495.5 51.5 495.1 53.5 494.7 54.5 494.4 56.5 494.1 58.5 493.7 60.3 493.5 61.5 493.4 63.5 493.2 65.5 493.0 67.5 492.9 69.5 492.8 71.5 492.7 73.5 492.7 75.5 492.6 77.5 492.6 79.5 492.6 81.5 492.5 83.5 492.5 84.5 492.5 86.5 492.5 88.5 492.5 90.5 492.5 92.5 492.5 94.5 492.5 95.7 492.5 97.5 492.5 99.5 492.5 101.5 492.6 103.5 492.6 105.5 492.7 107.5 492.7 109.5 492.8 111.5 492.9 113.5 493.0 115.5 493.1 117.5 493.2 119.5 493.3 121.5 493.5 122.5 493.5 124.5 493.7 126.5 493.9 128.5 494.1 130.5 494.3 132.4 494.5 133.5 494.6 135.5 494.9 137.5 495.2 139.1 495.5 140.5 495.8 142.5 496.2 143.7 496.5 145.5 497.1 146.7 497.5 148.5 498.5 149.2 499.5 149.2 501.5 149.2 503.5 149.1 505.5M44.9 505.5 44.8 503.5 44.9 501.5 45.5 500.5 46.6 499.5 48.2 498.5 49.5 497.9 50.5 497.5 52.5 496.8 53.5 496.5 55.5 496.0 57.5 495.5 58.5 495.4 60.5 495.0 62.5 494.8 64.5 494.6 65.5 494.5 67.5 494.4 69.5 494.3 71.5 494.2 73.5 494.2 75.5 494.1 77.5 494.1 79.5 494.1 81.5 494.0 83.5 494.0 85.5 494.0 87.5 494.0 89.5 494.0 91.5 494.0 93.5 494.1 95.5 494.1 97.5 494.1 99.5 494.2 101.5 494.3 103.5 494.3 105.5 494.4 107.3 494.5 108.5 494.6 110.5 494.7 112.5 494.8 114.5 495.0 116.5 495.1 118.5 495.3 120.4 495.5 121.5 495.6 123.5 495.9 125.5 496.2 127.5 496.5 128.5 496.7 130.5 497.1 132.2 497.5 133.5 498.0 134.9 498.5 136.2 499.5 136.4 501.5 136.3 503.5 136.3 505.5M49.6 505.5 49.5 503.5 49.5 502.5 49.6 501.5 50.5 500.4 51.6 499.5 53.5 498.6 54.5 498.2 56.5 497.5 57.5 497.3 59.5 496.8 61.2 496.5 62.5 496.3 64.5 496.1 66.5 495.9 68.5 495.8 70.5 495.7 72.5 495.6 74.5 495.6 76.5 495.6 78.5 495.5 80.5 495.5 82.5 495.5 84.5 495.5 86.5 495.5 88.5 495.5 90.5 495.6 92.5 495.6 94.5 495.7 96.5 495.8 98.5 495.8 100.5 495.9 102.5 496.0 104.5 496.2 106.5 496.3 108.5 496.5 109.5 496.6 111.5 496.8 113.5 497.1 115.5 497.3 116.6 497.5 118.5 497.9 120.5 498.4 121.5 498.7 123.2 499.5 123.8 500.5 123.8 502.5 123.7 504.5M54.6 505.5 54.5 504.2 54.4 502.5 54.6 501.5 55.5 500.4 57.1 499.5 58.5 499.0 60.0 498.5 61.5 498.1 63.5 497.8 65.4 497.5 66.5 497.4 68.5 497.3 70.5 497.2 72.5 497.1 74.5 497.1 76.5 497.1 78.5 497.1 80.5 497.1 82.5 497.1 84.5 497.1 86.5 497.1 88.5 497.2 90.5 497.3 92.5 497.3 94.5 497.4 95.5 497.5 97.5 497.7 99.5 497.8 101.5 498.1 103.5 498.3 105.0 498.5 106.5 498.8 108.5 499.3 109.5 499.7 110.7 500.5 110.8 502.5 110.7 504.5M60.1 505.5 60.0 503.5 60.1 501.5 61.3 500.5 62.5 500.1 64.3 499.5 65.5 499.3 67.5 499.0 69.5 498.9 71.5 498.8 73.5 498.8 75.5 498.8 77.5 498.8 79.5 498.8 81.5 498.9 83.5 498.9 85.5 499.0 87.5 499.2 89.5 499.3 91.1 499.5 92.5 499.8 94.5 500.2 95.6 500.5 96.2 502.5 96.1 504.5M70.5 505.2 69.4 504.5 69.0 502.5 70.5 501.8 72.3 502.5 71.5 504.5 70.5 505.2"/>
<defs><clipPath id="cc"><rect x="30" y="287" width="301" height="219"/></clipPath></defs><g clip-path="url(#cc)">
<polygon fill="#2800f0" points="29.2,438.2 223.3,286.3 29.2,286.3"/>
<polygon fill="#2800f0" points="198.5,509.3 334.0,443.7 334.0,509.3"/>
<polygon fill="#000" points="26.2,440.8 226.8,284.2 240.3,284.1 26.2,453.9"/>
<polygon fill="#000" points="170.4,508.1 335.0,433.6 335.0,443.8 195.0,508.1"/>
</g>
<path stroke="#222" stroke-width="0.8" fill="none" d="M30.2 287.3V506.3H331.0"/>
<path stroke="#111" stroke-width="1" d="M27.7 501.4h2.5M27.7 491.7h2.5M25.2 482.0h5.0M27.7 472.2h2.5M27.7 462.5h2.5M27.7 452.8h2.5M27.7 443.0h2.5M25.2 433.3h5.0M27.7 423.6h2.5M27.7 413.8h2.5M27.7 404.1h2.5M27.7 394.4h2.5M25.2 384.6h5.0M27.7 374.9h2.5M27.7 365.2h2.5M27.7 355.4h2.5M27.7 345.7h2.5M25.2 336.0h5.0M27.7 326.2h2.5M27.7 316.5h2.5M27.7 306.8h2.5M27.7 297.0h2.5M25.2 287.3h5.0M30.2 506.3v5.0M42.2 506.3v2.5M54.3 506.3v2.5M66.3 506.3v2.5M78.3 506.3v2.5M90.4 506.3v5.0M102.4 506.3v2.5M114.4 506.3v2.5M126.5 506.3v2.5M138.5 506.3v2.5M150.5 506.3v5.0M162.6 506.3v2.5M174.6 506.3v2.5M186.6 506.3v2.5M198.6 506.3v2.5M210.7 506.3v5.0M222.7 506.3v2.5M234.7 506.3v2.5M246.8 506.3v2.5M258.8 506.3v2.5M270.8 506.3v5.0M282.9 506.3v2.5M294.9 506.3v2.5M306.9 506.3v2.5M319.0 506.3v2.5M331.0 506.3v5.0"/>
<defs><linearGradient id="gc" x1="0" y1="0" x2="0" y2="1"><stop offset="0.000" stop-color="#690a0a"/><stop offset="0.080" stop-color="#a01212"/><stop offset="0.160" stop-color="#cd1e1c"/><stop offset="0.250" stop-color="#d2341e"/><stop offset="0.320" stop-color="#de6928"/><stop offset="0.380" stop-color="#e8a026"/><stop offset="0.430" stop-color="#f0d20f"/><stop offset="0.470" stop-color="#f5f000"/><stop offset="0.510" stop-color="#bef014"/><stop offset="0.550" stop-color="#8ceb28"/><stop offset="0.590" stop-color="#78eb5a"/><stop offset="0.630" stop-color="#6ee6d2"/><stop offset="0.670" stop-color="#5fcdf5"/><stop offset="0.750" stop-color="#468cf0"/><stop offset="0.820" stop-color="#2d3cf0"/><stop offset="0.880" stop-color="#280af0"/><stop offset="1.000" stop-color="#2800f0"/></linearGradient></defs>
<rect x="332.0" y="287.3" width="5.8" height="219.0" fill="url(#gc)"/>
<path stroke="#111" stroke-width="1" fill="none" d="M337.8 287.3V506.3M337.8 506.3h5.0M337.8 492.6h2.5M337.8 478.9h5.0M337.8 465.2h2.5M337.8 451.6h5.0M337.8 437.9h2.5M337.8 424.2h5.0M337.8 410.5h2.5M337.8 396.8h5.0M337.8 383.1h2.5M337.8 369.4h5.0M337.8 355.7h2.5M337.8 342.1h5.0M337.8 328.4h2.5M337.8 314.7h5.0M337.8 301.0h2.5M337.8 287.3h5.0"/>
<g font-size="5.80" fill="#111"><text x="23.2" y="484.0" text-anchor="end" textLength="10.21" lengthAdjust="spacingAndGlyphs">250</text><text x="23.2" y="435.4" text-anchor="end" textLength="10.21" lengthAdjust="spacingAndGlyphs">300</text><text x="23.2" y="386.7" text-anchor="end" textLength="10.21" lengthAdjust="spacingAndGlyphs">350</text><text x="23.2" y="338.0" text-anchor="end" textLength="10.21" lengthAdjust="spacingAndGlyphs">400</text><text x="23.2" y="289.4" text-anchor="end" textLength="10.21" lengthAdjust="spacingAndGlyphs">450</text><text x="30.2" y="518.4" text-anchor="middle" textLength="10.21" lengthAdjust="spacingAndGlyphs">300</text><text x="90.4" y="518.4" text-anchor="middle" textLength="10.21" lengthAdjust="spacingAndGlyphs">350</text><text x="150.5" y="518.4" text-anchor="middle" textLength="10.21" lengthAdjust="spacingAndGlyphs">400</text><text x="210.7" y="518.4" text-anchor="middle" textLength="10.21" lengthAdjust="spacingAndGlyphs">450</text><text x="270.8" y="518.4" text-anchor="middle" textLength="10.21" lengthAdjust="spacingAndGlyphs">500</text><text x="331.0" y="518.4" text-anchor="middle" textLength="10.21" lengthAdjust="spacingAndGlyphs">550</text><text x="345.8" y="508.4" textLength="2.95" lengthAdjust="spacingAndGlyphs">0</text><text x="345.8" y="481.0" textLength="8.66" lengthAdjust="spacingAndGlyphs">0,5</text><text x="345.8" y="453.6" textLength="2.95" lengthAdjust="spacingAndGlyphs">1</text><text x="345.8" y="426.2" textLength="8.66" lengthAdjust="spacingAndGlyphs">1,5</text><text x="345.8" y="398.9" textLength="2.95" lengthAdjust="spacingAndGlyphs">2</text><text x="345.8" y="371.5" textLength="8.66" lengthAdjust="spacingAndGlyphs">2,5</text><text x="345.8" y="344.1" textLength="2.95" lengthAdjust="spacingAndGlyphs">3</text><text x="345.8" y="316.7" textLength="8.66" lengthAdjust="spacingAndGlyphs">3,5</text><text x="345.8" y="289.4" textLength="2.95" lengthAdjust="spacingAndGlyphs">4</text></g>
<text x="196.4" y="278.9" text-anchor="middle" font-weight="bold" font-size="9.7" fill="#111">c: milk effluent</text>
<text x="181.70" y="527.71" text-anchor="middle" font-weight="bold" font-size="6.20" fill="#111" textLength="30.5" lengthAdjust="spacingAndGlyphs">&#955;<tspan font-size="3.72" dy="1.0">em</tspan><tspan dy="-1.0"> (nm)</tspan></text>
<text transform="translate(7.91 394.00) rotate(-90)" text-anchor="middle" font-weight="bold" font-size="5.80" fill="#111" textLength="28.7" lengthAdjust="spacingAndGlyphs">&#955;<tspan font-size="3.48" dy="1.0">ex</tspan><tspan dy="-1.0"> (nm)</tspan></text>
<text transform="translate(362.72 391.90) rotate(-90)" text-anchor="middle" font-weight="bold" font-size="6.60" fill="#111" textLength="131.8" lengthAdjust="spacingAndGlyphs">Fluorescence intensity (Raman units)</text>
<text x="93.3" y="450.7" font-weight="bold" font-size="8" fill="#000" text-anchor="middle">T<tspan font-size="5" dy="1.5">1</tspan></text>
<text x="93.3" y="502.3" font-weight="bold" font-size="8" fill="#fff" text-anchor="middle">T<tspan font-size="5" dy="1.5">2</tspan></text>
<text x="177.4" y="397.9" font-weight="bold" font-size="8" fill="#000" text-anchor="middle">C</text>
<rect x="426" y="287" width="295" height="218" fill="#2800f0"/>
<path fill="#2801f0" d="M628 287h2v5h-2zM683 287h6v5h-6zM622 292h2v5h-2zM688 292h33v5h-33zM616 297h1v5h-1zM610 302h1v5h-1zM603 307h2v5h-2zM597 312h1v4h-1zM591 316h1v5h-1zM585 321h1v5h-1zM572 331h1v5h-1zM566 336h1v5h-1zM560 341h1v4h-1zM541 355h1v5h-1zM535 360h1v5h-1zM510 379h1v5h-1zM504 384h1v5h-1zM473 408h1v5h-1zM467 413h1v5h-1zM461 418h1v5h-1zM442 433h1v5h-1z"/>
<path fill="#2802f0" d="M630 287h3v5h-3zM679 287h4v5h-4zM624 292h2v5h-2zM681 292h7v5h-7zM617 297h2v5h-2zM699 297h22v5h-22zM611 302h2v5h-2zM605 307h1v5h-1zM598 312h2v4h-2zM592 316h1v5h-1zM586 321h1v5h-1zM579 326h1v5h-1zM573 331h1v5h-1zM567 336h1v5h-1zM554 345h1v5h-1zM548 350h1v5h-1zM529 365h1v5h-1zM523 370h1v5h-1zM498 389h1v5h-1zM492 394h1v5h-1zM486 399h1v5h-1zM480 404h1v4h-1zM474 408h1v5h-1zM468 413h1v5h-1zM455 423h1v5h-1zM720 428h1v5h-1zM715 433h6v5h-6zM436 438h1v4h-1zM711 438h10v4h-10zM706 442h15v5h-15zM703 447h8v5h-8zM700 452h1v5h-1z"/>
<path fill="#2804f0" d="M633 287h2v5h-2zM675 287h4v5h-4zM626 292h2v5h-2zM675 292h6v5h-6zM619 297h2v5h-2zM680 297h19v5h-19zM613 302h1v5h-1zM707 302h14v5h-14zM606 307h1v5h-1zM717 307h4v5h-4zM600 312h1v4h-1zM593 316h1v5h-1zM587 321h1v5h-1zM580 326h1v5h-1zM574 331h1v5h-1zM568 336h1v5h-1zM561 341h1v4h-1zM555 345h1v5h-1zM542 355h1v5h-1zM536 360h1v5h-1zM517 375h1v4h-1zM511 379h1v5h-1zM462 418h1v5h-1zM720 418h1v5h-1zM716 423h5v5h-5zM449 428h1v5h-1zM711 428h9v5h-9zM706 433h9v5h-9zM700 438h11v4h-11zM696 442h10v5h-10zM691 447h12v5h-12zM688 452h12v5h-12z"/>
<path fill="#2805f0" d="M635 287h3v5h-3zM671 287h4v5h-4zM628 292h2v5h-2zM671 292h4v5h-4zM621 297h2v5h-2zM674 297h6v5h-6zM614 302h2v5h-2zM689 302h18v5h-18zM607 307h2v5h-2zM707 307h10v5h-10zM601 312h1v4h-1zM714 312h7v4h-7zM594 316h1v5h-1zM717 316h4v5h-4zM588 321h1v5h-1zM719 321h2v5h-2zM581 326h1v5h-1zM720 326h1v5h-1zM575 331h1v5h-1zM562 341h1v4h-1zM549 350h1v5h-1zM543 355h1v5h-1zM530 365h1v5h-1zM505 384h1v5h-1zM499 389h1v5h-1zM493 394h1v5h-1zM487 399h1v5h-1zM481 404h1v4h-1zM475 408h1v5h-1zM469 413h1v5h-1zM717 413h4v5h-4zM463 418h1v5h-1zM713 418h7v5h-7zM456 423h1v5h-1zM708 423h8v5h-8zM703 428h8v5h-8zM698 433h8v5h-8zM692 438h8v4h-8zM430 442h1v5h-1zM687 442h9v5h-9zM682 447h9v5h-9zM679 452h9v5h-9zM680 457h10v5h-10zM426 476h1v5h-1z"/>
<path fill="#2806f0" d="M638 287h4v5h-4zM666 287h5v5h-5zM630 292h3v5h-3zM667 292h4v5h-4zM623 297h2v5h-2zM669 297h5v5h-5zM616 302h2v5h-2zM675 302h14v5h-14zM609 307h1v5h-1zM697 307h10v5h-10zM602 312h2v4h-2zM706 312h8v4h-8zM595 316h2v5h-2zM710 316h7v5h-7zM589 321h1v5h-1zM713 321h6v5h-6zM582 326h1v5h-1zM714 326h6v5h-6zM576 331h1v5h-1zM716 331h5v5h-5zM569 336h1v5h-1zM717 336h4v5h-4zM563 341h1v4h-1zM718 341h3v4h-3zM556 345h1v5h-1zM718 345h3v5h-3zM550 350h1v5h-1zM719 350h2v5h-2zM719 355h2v5h-2zM537 360h1v5h-1zM720 360h1v5h-1zM720 365h1v5h-1zM524 370h1v5h-1zM518 375h1v4h-1zM720 399h1v5h-1zM718 404h3v4h-3zM715 408h6v5h-6zM470 413h1v5h-1zM711 413h6v5h-6zM707 418h6v5h-6zM702 423h6v5h-6zM697 428h6v5h-6zM691 433h7v5h-7zM685 438h7v4h-7zM680 442h7v5h-7zM675 447h7v5h-7zM671 452h8v5h-8zM672 457h8v5h-8zM427 476h1v5h-1z"/>
<path fill="#2807f0" d="M642 287h5v5h-5zM660 287h6v5h-6zM633 292h3v5h-3zM662 292h5v5h-5zM625 297h2v5h-2zM664 297h5v5h-5zM618 302h1v5h-1zM668 302h7v5h-7zM610 307h2v5h-2zM685 307h12v5h-12zM604 312h1v4h-1zM699 312h7v4h-7zM597 316h1v5h-1zM704 316h6v5h-6zM590 321h1v5h-1zM707 321h6v5h-6zM583 326h1v5h-1zM709 326h5v5h-5zM577 331h1v5h-1zM710 331h6v5h-6zM570 336h1v5h-1zM712 336h5v5h-5zM564 341h1v4h-1zM713 341h5v4h-5zM557 345h1v5h-1zM713 345h5v5h-5zM714 350h5v5h-5zM544 355h1v5h-1zM715 355h4v5h-4zM715 360h5v5h-5zM531 365h1v5h-1zM715 365h5v5h-5zM716 370h5v5h-5zM716 375h5v4h-5zM512 379h1v5h-1zM716 379h5v5h-5zM506 384h1v5h-1zM717 384h4v5h-4zM500 389h1v5h-1zM717 389h4v5h-4zM494 394h1v5h-1zM716 394h5v5h-5zM488 399h1v5h-1zM715 399h5v5h-5zM482 404h1v4h-1zM713 404h5v4h-5zM476 408h1v5h-1zM710 408h5v5h-5zM706 413h5v5h-5zM464 418h1v5h-1zM702 418h5v5h-5zM457 423h1v5h-1zM697 423h5v5h-5zM450 428h1v5h-1zM691 428h6v5h-6zM443 433h1v5h-1zM685 433h6v5h-6zM679 438h6v4h-6zM673 442h7v5h-7zM668 447h7v5h-7zM664 452h7v5h-7zM665 457h7v5h-7zM428 476h2v5h-2z"/>
<path fill="#2808f0" d="M647 287h13v5h-13zM636 292h4v5h-4zM657 292h5v5h-5zM627 297h3v5h-3zM660 297h4v5h-4zM619 302h3v5h-3zM664 302h4v5h-4zM612 307h2v5h-2zM672 307h13v5h-13zM605 312h1v4h-1zM691 312h8v4h-8zM598 316h1v5h-1zM698 316h6v5h-6zM591 321h1v5h-1zM702 321h5v5h-5zM584 326h2v5h-2zM704 326h5v5h-5zM578 331h1v5h-1zM706 331h4v5h-4zM571 336h1v5h-1zM707 336h5v5h-5zM708 341h5v4h-5zM558 345h1v5h-1zM709 345h4v5h-4zM551 350h1v5h-1zM709 350h5v5h-5zM710 355h5v5h-5zM538 360h1v5h-1zM711 360h4v5h-4zM711 365h4v5h-4zM525 370h1v5h-1zM711 370h5v5h-5zM712 375h4v4h-4zM712 379h4v5h-4zM712 384h5v5h-5zM713 389h4v5h-4zM712 394h4v5h-4zM711 399h4v5h-4zM709 404h4v4h-4zM477 408h1v5h-1zM705 408h5v5h-5zM471 413h1v5h-1zM702 413h4v5h-4zM465 418h1v5h-1zM697 418h5v5h-5zM458 423h1v5h-1zM692 423h5v5h-5zM686 428h5v5h-5zM680 433h5v5h-5zM674 438h5v4h-5zM668 442h5v5h-5zM662 447h6v5h-6zM657 452h7v5h-7zM658 457h7v5h-7zM674 462h5v5h-5zM430 476h1v5h-1z"/>
<path fill="#2809f0" d="M640 292h17v5h-17zM630 297h4v5h-4zM655 297h5v5h-5zM622 302h2v5h-2zM658 302h6v5h-6zM614 307h2v5h-2zM664 307h8v5h-8zM606 312h2v4h-2zM682 312h9v4h-9zM599 316h2v5h-2zM692 316h6v5h-6zM592 321h2v5h-2zM697 321h5v5h-5zM586 326h1v5h-1zM700 326h4v5h-4zM579 331h1v5h-1zM701 331h5v5h-5zM572 336h1v5h-1zM703 336h4v5h-4zM565 341h1v4h-1zM704 341h4v4h-4zM559 345h1v5h-1zM705 345h4v5h-4zM552 350h1v5h-1zM705 350h4v5h-4zM545 355h1v5h-1zM706 355h4v5h-4zM707 360h4v5h-4zM532 365h1v5h-1zM707 365h4v5h-4zM707 370h4v5h-4zM519 375h1v4h-1zM708 375h4v4h-4zM513 379h1v5h-1zM708 379h4v5h-4zM507 384h1v5h-1zM708 384h4v5h-4zM501 389h1v5h-1zM709 389h4v5h-4zM495 394h1v5h-1zM708 394h4v5h-4zM489 399h1v5h-1zM707 399h4v5h-4zM483 404h1v4h-1zM704 404h5v4h-5zM701 408h4v5h-4zM472 413h1v5h-1zM697 413h5v5h-5zM466 418h1v5h-1zM693 418h4v5h-4zM687 423h5v5h-5zM681 428h5v5h-5zM675 433h5v5h-5zM437 438h1v4h-1zM669 438h5v4h-5zM662 442h6v5h-6zM656 447h6v5h-6zM651 452h6v5h-6zM652 457h6v5h-6zM668 462h6v5h-6zM431 476h2v5h-2zM426 481h1v5h-1z"/>
<path fill="#2910f0" d="M634 297h6v5h-6zM647 297h8v5h-8zM624 302h3v5h-3zM653 302h5v5h-5zM616 307h2v5h-2zM659 307h5v5h-5zM608 312h2v4h-2zM672 312h10v4h-10zM601 316h1v5h-1zM686 316h6v5h-6zM594 321h1v5h-1zM692 321h5v5h-5zM587 326h1v5h-1zM695 326h5v5h-5zM580 331h1v5h-1zM697 331h4v5h-4zM573 336h1v5h-1zM699 336h4v5h-4zM566 341h1v4h-1zM700 341h4v4h-4zM701 345h4v5h-4zM702 350h3v5h-3zM546 355h1v5h-1zM702 355h4v5h-4zM539 360h1v5h-1zM703 360h4v5h-4zM703 365h4v5h-4zM526 370h1v5h-1zM704 370h3v5h-3zM704 375h4v4h-4zM704 379h4v5h-4zM705 384h3v5h-3zM705 389h4v5h-4zM704 394h4v5h-4zM703 399h4v5h-4zM701 404h3v4h-3zM478 408h1v5h-1zM698 408h3v5h-3zM473 413h1v5h-1zM694 413h3v5h-3zM467 418h1v5h-1zM689 418h4v5h-4zM459 423h1v5h-1zM683 423h4v5h-4zM451 428h1v5h-1zM677 428h4v5h-4zM671 433h4v5h-4zM664 438h5v4h-5zM657 442h5v5h-5zM651 447h5v5h-5zM646 452h5v5h-5zM646 457h6v5h-6zM662 462h6v5h-6zM426 471h1v5h-1zM433 476h1v5h-1zM427 481h1v5h-1z"/>
<path fill="#2a1bf0" d="M640 297h7v5h-7zM627 302h4v5h-4zM647 302h6v5h-6zM618 307h3v5h-3zM654 307h5v5h-5zM610 312h2v4h-2zM661 312h11v4h-11zM602 316h2v5h-2zM680 316h6v5h-6zM595 321h1v5h-1zM687 321h5v5h-5zM588 326h1v5h-1zM691 326h4v5h-4zM581 331h1v5h-1zM693 331h4v5h-4zM574 336h1v5h-1zM695 336h4v5h-4zM567 341h1v4h-1zM696 341h4v4h-4zM560 345h1v5h-1zM697 345h4v5h-4zM553 350h1v5h-1zM698 350h4v5h-4zM699 355h3v5h-3zM540 360h1v5h-1zM699 360h4v5h-4zM533 365h1v5h-1zM700 365h3v5h-3zM700 370h4v5h-4zM520 375h1v4h-1zM701 375h3v4h-3zM514 379h1v5h-1zM701 379h3v5h-3zM701 384h4v5h-4zM702 389h3v5h-3zM701 394h3v5h-3zM490 399h1v5h-1zM700 399h3v5h-3zM484 404h1v4h-1zM697 404h4v4h-4zM479 408h1v5h-1zM694 408h4v5h-4zM474 413h1v5h-1zM690 413h4v5h-4zM468 418h1v5h-1zM685 418h4v5h-4zM679 423h4v5h-4zM673 428h4v5h-4zM444 433h1v5h-1zM666 433h5v5h-5zM660 438h4v4h-4zM431 442h1v5h-1zM653 442h4v5h-4zM646 447h5v5h-5zM641 452h5v5h-5zM641 457h5v5h-5zM656 462h6v5h-6zM427 471h1v5h-1zM434 476h2v5h-2zM428 481h1v5h-1z"/>
<path fill="#2b27f0" d="M631 302h16v5h-16zM621 307h3v5h-3zM648 307h6v5h-6zM612 312h2v4h-2zM655 312h6v4h-6zM604 316h2v5h-2zM672 316h8v5h-8zM596 321h2v5h-2zM682 321h5v5h-5zM589 326h2v5h-2zM687 326h4v5h-4zM582 331h1v5h-1zM689 331h4v5h-4zM575 336h1v5h-1zM691 336h4v5h-4zM568 341h1v4h-1zM693 341h3v4h-3zM561 345h1v5h-1zM694 345h3v5h-3zM554 350h1v5h-1zM695 350h3v5h-3zM547 355h1v5h-1zM695 355h4v5h-4zM696 360h3v5h-3zM697 365h3v5h-3zM527 370h1v5h-1zM697 370h3v5h-3zM697 375h4v4h-4zM698 379h3v5h-3zM508 384h1v5h-1zM698 384h3v5h-3zM502 389h1v5h-1zM698 389h4v5h-4zM496 394h1v5h-1zM698 394h3v5h-3zM696 399h4v5h-4zM485 404h1v4h-1zM694 404h3v4h-3zM480 408h1v5h-1zM691 408h3v5h-3zM475 413h1v5h-1zM686 413h4v5h-4zM469 418h1v5h-1zM681 418h4v5h-4zM460 423h1v5h-1zM676 423h3v5h-3zM669 428h4v5h-4zM662 433h4v5h-4zM655 438h5v4h-5zM649 442h4v5h-4zM642 447h4v5h-4zM636 452h5v5h-5zM636 457h5v5h-5zM651 462h5v5h-5zM428 471h2v5h-2zM436 476h2v5h-2zM429 481h2v5h-2z"/>
<path fill="#2c33f0" d="M624 307h5v5h-5zM640 307h8v5h-8zM614 312h3v4h-3zM650 312h5v4h-5zM606 316h2v5h-2zM662 316h10v5h-10zM598 321h2v5h-2zM677 321h5v5h-5zM591 326h1v5h-1zM683 326h4v5h-4zM583 331h1v5h-1zM686 331h3v5h-3zM576 336h1v5h-1zM688 336h3v5h-3zM569 341h1v4h-1zM689 341h4v4h-4zM562 345h1v5h-1zM690 345h4v5h-4zM555 350h1v5h-1zM691 350h4v5h-4zM548 355h1v5h-1zM692 355h3v5h-3zM541 360h1v5h-1zM693 360h3v5h-3zM534 365h1v5h-1zM693 365h4v5h-4zM694 370h3v5h-3zM521 375h1v4h-1zM694 375h3v4h-3zM695 379h3v5h-3zM695 384h3v5h-3zM695 389h3v5h-3zM695 394h3v5h-3zM491 399h1v5h-1zM693 399h3v5h-3zM691 404h3v4h-3zM687 408h4v5h-4zM476 413h1v5h-1zM683 413h3v5h-3zM470 418h2v5h-2zM678 418h3v5h-3zM461 423h1v5h-1zM672 423h4v5h-4zM452 428h1v5h-1zM666 428h3v5h-3zM659 433h3v5h-3zM651 438h4v4h-4zM644 442h5v5h-5zM638 447h4v5h-4zM631 452h5v5h-5zM631 457h5v5h-5zM646 462h5v5h-5zM430 471h1v5h-1zM438 476h1v5h-1zM431 481h1v5h-1z"/>
<path fill="#2e40f0" d="M629 307h11v5h-11zM617 312h3v4h-3zM644 312h6v4h-6zM608 316h2v5h-2zM652 316h10v5h-10zM600 321h1v5h-1zM671 321h6v5h-6zM592 326h1v5h-1zM678 326h5v5h-5zM584 331h2v5h-2zM682 331h4v5h-4zM577 336h1v5h-1zM684 336h4v5h-4zM570 341h1v4h-1zM686 341h3v4h-3zM563 345h1v5h-1zM687 345h3v5h-3zM556 350h1v5h-1zM688 350h3v5h-3zM689 355h3v5h-3zM690 360h3v5h-3zM690 365h3v5h-3zM528 370h1v5h-1zM691 370h3v5h-3zM691 375h3v4h-3zM515 379h1v5h-1zM692 379h3v5h-3zM509 384h1v5h-1zM692 384h3v5h-3zM503 389h1v5h-1zM692 389h3v5h-3zM497 394h1v5h-1zM692 394h3v5h-3zM690 399h3v5h-3zM486 404h1v4h-1zM688 404h3v4h-3zM481 408h1v5h-1zM684 408h3v5h-3zM477 413h1v5h-1zM680 413h3v5h-3zM472 418h1v5h-1zM675 418h3v5h-3zM462 423h1v5h-1zM669 423h3v5h-3zM662 428h4v5h-4zM655 433h4v5h-4zM648 438h3v4h-3zM641 442h3v5h-3zM634 447h4v5h-4zM627 452h4v5h-4zM627 457h4v5h-4zM641 462h5v5h-5zM431 471h1v5h-1zM439 476h2v5h-2zM432 481h2v5h-2z"/>
<path fill="#3350f0" d="M620 312h7v4h-7zM633 312h11v4h-11zM610 316h3v5h-3zM646 316h6v5h-6zM601 321h2v5h-2zM664 321h7v5h-7zM593 326h2v5h-2zM674 326h4v5h-4zM586 331h1v5h-1zM678 331h4v5h-4zM578 336h2v5h-2zM681 336h3v5h-3zM571 341h1v4h-1zM683 341h3v4h-3zM564 345h1v5h-1zM684 345h3v5h-3zM685 350h3v5h-3zM549 355h1v5h-1zM686 355h3v5h-3zM542 360h1v5h-1zM687 360h3v5h-3zM535 365h1v5h-1zM688 365h2v5h-2zM688 370h3v5h-3zM522 375h1v4h-1zM689 375h2v4h-2zM689 379h3v5h-3zM689 384h3v5h-3zM690 389h2v5h-2zM689 394h3v5h-3zM492 399h1v5h-1zM687 399h3v5h-3zM487 404h1v4h-1zM685 404h3v4h-3zM482 408h1v5h-1zM681 408h3v5h-3zM478 413h2v5h-2zM677 413h3v5h-3zM473 418h2v5h-2zM478 418h4v5h-4zM672 418h3v5h-3zM463 423h1v5h-1zM666 423h3v5h-3zM453 428h1v5h-1zM659 428h3v5h-3zM445 433h1v5h-1zM652 433h3v5h-3zM438 438h1v4h-1zM644 438h4v4h-4zM637 442h4v5h-4zM630 447h4v5h-4zM623 452h4v5h-4zM622 457h5v5h-5zM637 462h4v5h-4zM426 467h1v4h-1zM666 467h4v4h-4zM432 471h2v5h-2zM441 476h1v5h-1zM434 481h1v5h-1z"/>
<path fill="#3860f0" d="M627 312h6v4h-6zM613 316h4v5h-4zM641 316h5v5h-5zM603 321h3v5h-3zM655 321h9v5h-9zM595 326h2v5h-2zM669 326h5v5h-5zM587 331h2v5h-2zM675 331h3v5h-3zM580 336h1v5h-1zM678 336h3v5h-3zM572 341h1v4h-1zM680 341h3v4h-3zM565 345h1v5h-1zM681 345h3v5h-3zM557 350h1v5h-1zM682 350h3v5h-3zM550 355h1v5h-1zM683 355h3v5h-3zM543 360h1v5h-1zM684 360h3v5h-3zM536 365h1v5h-1zM685 365h3v5h-3zM529 370h1v5h-1zM685 370h3v5h-3zM686 375h3v4h-3zM516 379h1v5h-1zM686 379h3v5h-3zM510 384h1v5h-1zM687 384h2v5h-2zM504 389h1v5h-1zM687 389h3v5h-3zM498 394h1v5h-1zM686 394h3v5h-3zM685 399h2v5h-2zM682 404h3v4h-3zM483 408h1v5h-1zM679 408h2v5h-2zM480 413h1v5h-1zM674 413h3v5h-3zM475 418h3v5h-3zM482 418h2v5h-2zM669 418h3v5h-3zM464 423h1v5h-1zM663 423h3v5h-3zM656 428h3v5h-3zM648 433h4v5h-4zM641 438h3v4h-3zM633 442h4v5h-4zM626 447h4v5h-4zM619 452h4v5h-4zM618 457h4v5h-4zM632 462h5v5h-5zM427 467h1v4h-1zM661 467h5v4h-5zM434 471h1v5h-1zM442 476h2v5h-2zM435 481h1v5h-1z"/>
<path fill="#3d70f0" d="M617 316h24v5h-24zM606 321h3v5h-3zM644 321h11v5h-11zM597 326h2v5h-2zM664 326h5v5h-5zM589 331h1v5h-1zM671 331h4v5h-4zM581 336h1v5h-1zM674 336h4v5h-4zM573 341h1v4h-1zM677 341h3v4h-3zM566 345h1v5h-1zM678 345h3v5h-3zM558 350h1v5h-1zM680 350h2v5h-2zM551 355h1v5h-1zM681 355h2v5h-2zM681 360h3v5h-3zM682 365h3v5h-3zM683 370h2v5h-2zM523 375h1v4h-1zM683 375h3v4h-3zM684 379h2v5h-2zM684 384h3v5h-3zM684 389h3v5h-3zM499 394h1v5h-1zM684 394h2v5h-2zM493 399h1v5h-1zM682 399h3v5h-3zM488 404h1v4h-1zM680 404h2v4h-2zM484 408h1v5h-1zM676 408h3v5h-3zM481 413h2v5h-2zM671 413h3v5h-3zM484 418h1v5h-1zM666 418h3v5h-3zM465 423h1v5h-1zM660 423h3v5h-3zM652 428h4v5h-4zM645 433h3v5h-3zM637 438h4v4h-4zM432 442h1v5h-1zM630 442h3v5h-3zM622 447h4v5h-4zM615 452h4v5h-4zM613 457h5v5h-5zM628 462h4v5h-4zM428 467h1v4h-1zM656 467h5v4h-5zM435 471h2v5h-2zM444 476h2v5h-2zM436 481h2v5h-2z"/>
<path fill="#4280f0" d="M609 321h4v5h-4zM637 321h7v5h-7zM599 326h2v5h-2zM657 326h7v5h-7zM590 331h2v5h-2zM667 331h4v5h-4zM582 336h2v5h-2zM671 336h3v5h-3zM574 341h2v4h-2zM674 341h3v4h-3zM567 345h1v5h-1zM675 345h3v5h-3zM559 350h1v5h-1zM677 350h3v5h-3zM552 355h1v5h-1zM678 355h3v5h-3zM544 360h1v5h-1zM679 360h2v5h-2zM537 365h1v5h-1zM679 365h3v5h-3zM530 370h1v5h-1zM680 370h3v5h-3zM681 375h2v4h-2zM517 379h1v5h-1zM681 379h3v5h-3zM511 384h1v5h-1zM681 384h3v5h-3zM505 389h1v5h-1zM682 389h2v5h-2zM681 394h3v5h-3zM494 399h1v5h-1zM680 399h2v5h-2zM489 404h1v4h-1zM677 404h3v4h-3zM485 408h1v5h-1zM673 408h3v5h-3zM483 413h6v5h-6zM669 413h2v5h-2zM485 418h2v5h-2zM663 418h3v5h-3zM466 423h1v5h-1zM470 423h5v5h-5zM657 423h3v5h-3zM454 428h1v5h-1zM649 428h3v5h-3zM642 433h3v5h-3zM634 438h3v4h-3zM626 442h4v5h-4zM426 447h1v5h-1zM619 447h3v5h-3zM611 452h4v5h-4zM609 457h4v5h-4zM426 462h1v5h-1zM623 462h5v5h-5zM429 467h1v4h-1zM651 467h5v4h-5zM437 471h1v5h-1zM446 476h1v5h-1zM438 481h2v5h-2zM426 486h1v5h-1z"/>
<path fill="#478ff0" d="M613 321h10v5h-10zM633 321h4v5h-4zM601 326h3v5h-3zM648 326h9v5h-9zM592 331h2v5h-2zM662 331h5v5h-5zM584 336h1v5h-1zM668 336h3v5h-3zM576 341h1v4h-1zM671 341h3v4h-3zM568 345h1v5h-1zM673 345h2v5h-2zM560 350h1v5h-1zM674 350h3v5h-3zM553 355h1v5h-1zM675 355h3v5h-3zM545 360h1v5h-1zM676 360h3v5h-3zM538 365h1v5h-1zM677 365h2v5h-2zM677 370h3v5h-3zM524 375h1v4h-1zM678 375h3v4h-3zM678 379h3v5h-3zM679 384h2v5h-2zM679 389h3v5h-3zM500 394h1v5h-1zM679 394h2v5h-2zM677 399h3v5h-3zM490 404h1v4h-1zM674 404h3v4h-3zM486 408h1v5h-1zM671 408h2v5h-2zM489 413h2v5h-2zM666 413h3v5h-3zM487 418h1v5h-1zM660 418h3v5h-3zM467 423h3v5h-3zM475 423h2v5h-2zM654 423h3v5h-3zM646 428h3v5h-3zM446 433h1v5h-1zM639 433h3v5h-3zM631 438h3v4h-3zM623 442h3v5h-3zM615 447h4v5h-4zM607 452h4v5h-4zM605 457h4v5h-4zM427 462h1v5h-1zM619 462h4v5h-4zM430 467h1v4h-1zM646 467h5v4h-5zM438 471h2v5h-2zM447 476h2v5h-2zM440 481h1v5h-1zM427 486h2v5h-2z"/>
<path fill="#4c9af1" d="M623 321h10v5h-10zM604 326h4v5h-4zM635 326h13v5h-13zM594 331h3v5h-3zM657 331h5v5h-5zM585 336h2v5h-2zM664 336h4v5h-4zM577 341h2v4h-2zM667 341h4v4h-4zM569 345h1v5h-1zM670 345h3v5h-3zM561 350h1v5h-1zM671 350h3v5h-3zM672 355h3v5h-3zM546 360h1v5h-1zM673 360h3v5h-3zM674 365h3v5h-3zM531 370h1v5h-1zM675 370h2v5h-2zM675 375h3v4h-3zM518 379h1v5h-1zM676 379h2v5h-2zM512 384h1v5h-1zM676 384h3v5h-3zM506 389h1v5h-1zM677 389h2v5h-2zM676 394h3v5h-3zM495 399h1v5h-1zM675 399h2v5h-2zM672 404h2v4h-2zM487 408h1v5h-1zM668 408h3v5h-3zM491 413h2v5h-2zM663 413h3v5h-3zM488 418h1v5h-1zM658 418h2v5h-2zM477 423h2v5h-2zM651 423h3v5h-3zM455 428h1v5h-1zM644 428h2v5h-2zM636 433h3v5h-3zM439 438h1v4h-1zM627 438h4v4h-4zM620 442h3v5h-3zM612 447h3v5h-3zM604 452h3v5h-3zM426 457h1v5h-1zM601 457h4v5h-4zM428 462h1v5h-1zM615 462h4v5h-4zM431 467h2v4h-2zM642 467h4v4h-4zM440 471h2v5h-2zM449 476h2v5h-2zM441 481h2v5h-2zM429 486h1v5h-1z"/>
<path fill="#50a6f2" d="M608 326h7v5h-7zM628 326h7v5h-7zM597 331h2v5h-2zM651 331h6v5h-6zM587 336h2v5h-2zM660 336h4v5h-4zM579 341h1v4h-1zM664 341h3v4h-3zM570 345h2v5h-2zM667 345h3v5h-3zM562 350h1v5h-1zM669 350h2v5h-2zM554 355h1v5h-1zM670 355h2v5h-2zM547 360h1v5h-1zM671 360h2v5h-2zM539 365h1v5h-1zM672 365h2v5h-2zM532 370h1v5h-1zM672 370h3v5h-3zM525 375h1v4h-1zM673 375h2v4h-2zM674 379h2v5h-2zM674 384h2v5h-2zM674 389h3v5h-3zM501 394h1v5h-1zM674 394h2v5h-2zM496 399h1v5h-1zM672 399h3v5h-3zM491 404h1v4h-1zM670 404h2v4h-2zM488 408h1v5h-1zM666 408h2v5h-2zM493 413h1v5h-1zM661 413h2v5h-2zM489 418h2v5h-2zM655 418h3v5h-3zM479 423h2v5h-2zM648 423h3v5h-3zM641 428h3v5h-3zM633 433h3v5h-3zM624 438h3v4h-3zM617 442h3v5h-3zM608 447h4v5h-4zM600 452h4v5h-4zM427 457h1v5h-1zM597 457h4v5h-4zM429 462h1v5h-1zM610 462h5v5h-5zM433 467h1v4h-1zM637 467h5v4h-5zM442 471h1v5h-1zM451 476h2v5h-2zM443 481h1v5h-1zM430 486h1v5h-1z"/>
<path fill="#54b1f3" d="M615 326h13v5h-13zM599 331h4v5h-4zM641 331h10v5h-10zM589 336h3v5h-3zM656 336h4v5h-4zM580 341h2v4h-2zM661 341h3v4h-3zM572 345h1v5h-1zM664 345h3v5h-3zM563 350h2v5h-2zM666 350h3v5h-3zM555 355h1v5h-1zM667 355h3v5h-3zM668 360h3v5h-3zM540 365h1v5h-1zM669 365h3v5h-3zM670 370h2v5h-2zM671 375h2v4h-2zM519 379h1v5h-1zM671 379h3v5h-3zM513 384h1v5h-1zM672 384h2v5h-2zM507 389h1v5h-1zM672 389h2v5h-2zM671 394h3v5h-3zM670 399h2v5h-2zM492 404h1v4h-1zM667 404h3v4h-3zM489 408h2v5h-2zM663 408h3v5h-3zM494 413h1v5h-1zM658 413h3v5h-3zM491 418h1v5h-1zM653 418h2v5h-2zM481 423h1v5h-1zM646 423h2v5h-2zM456 428h1v5h-1zM638 428h3v5h-3zM630 433h3v5h-3zM621 438h3v4h-3zM613 442h4v5h-4zM605 447h3v5h-3zM596 452h4v5h-4zM428 457h1v5h-1zM594 457h3v5h-3zM430 462h1v5h-1zM606 462h4v5h-4zM434 467h1v4h-1zM633 467h4v4h-4zM443 471h2v5h-2zM453 476h2v5h-2zM444 481h2v5h-2zM431 486h2v5h-2zM426 491h1v5h-1z"/>
<path fill="#59bdf4" d="M603 331h6v5h-6zM624 331h17v5h-17zM592 336h2v5h-2zM651 336h5v5h-5zM582 341h2v4h-2zM658 341h3v4h-3zM573 345h2v5h-2zM661 345h3v5h-3zM565 350h1v5h-1zM663 350h3v5h-3zM556 355h1v5h-1zM665 355h2v5h-2zM548 360h1v5h-1zM666 360h2v5h-2zM667 365h2v5h-2zM533 370h1v5h-1zM668 370h2v5h-2zM526 375h1v4h-1zM668 375h3v4h-3zM669 379h2v5h-2zM669 384h3v5h-3zM670 389h2v5h-2zM502 394h1v5h-1zM669 394h2v5h-2zM497 399h1v5h-1zM668 399h2v5h-2zM493 404h1v4h-1zM665 404h2v4h-2zM491 408h4v5h-4zM661 408h2v5h-2zM495 413h2v5h-2zM656 413h2v5h-2zM492 418h1v5h-1zM650 418h3v5h-3zM482 423h2v5h-2zM643 423h3v5h-3zM457 428h1v5h-1zM635 428h3v5h-3zM447 433h1v5h-1zM627 433h3v5h-3zM618 438h3v4h-3zM433 442h1v5h-1zM610 442h3v5h-3zM602 447h3v5h-3zM593 452h3v5h-3zM429 457h1v5h-1zM590 457h4v5h-4zM431 462h1v5h-1zM602 462h4v5h-4zM435 467h1v4h-1zM628 467h5v4h-5zM445 471h2v5h-2zM455 476h2v5h-2zM446 481h2v5h-2zM433 486h1v5h-1zM427 491h1v5h-1z"/>
<path fill="#5dc8f5" d="M609 331h6v5h-6zM618 331h6v5h-6zM594 336h4v5h-4zM646 336h5v5h-5zM584 341h2v4h-2zM654 341h4v4h-4zM575 345h1v5h-1zM658 345h3v5h-3zM566 350h1v5h-1zM660 350h3v5h-3zM557 355h2v5h-2zM662 355h3v5h-3zM549 360h1v5h-1zM663 360h3v5h-3zM541 365h1v5h-1zM664 365h3v5h-3zM665 370h3v5h-3zM666 375h2v4h-2zM520 379h1v5h-1zM667 379h2v5h-2zM514 384h1v5h-1zM667 384h2v5h-2zM508 389h1v5h-1zM667 389h3v5h-3zM503 394h1v5h-1zM667 394h2v5h-2zM498 399h1v5h-1zM665 399h3v5h-3zM494 404h1v4h-1zM663 404h2v4h-2zM495 408h3v5h-3zM659 408h2v5h-2zM497 413h1v5h-1zM654 413h2v5h-2zM493 418h2v5h-2zM648 418h2v5h-2zM484 423h1v5h-1zM640 423h3v5h-3zM632 428h3v5h-3zM624 433h3v5h-3zM615 438h3v4h-3zM607 442h3v5h-3zM427 447h1v5h-1zM599 447h3v5h-3zM590 452h3v5h-3zM430 457h1v5h-1zM586 457h4v5h-4zM432 462h1v5h-1zM598 462h4v5h-4zM436 467h2v4h-2zM623 467h5v4h-5zM447 471h2v5h-2zM659 471h1v5h-1zM457 476h2v5h-2zM448 481h2v5h-2zM434 486h2v5h-2zM428 491h2v5h-2z"/>
<path fill="#62d2ee" d="M615 331h3v5h-3zM598 336h4v5h-4zM635 336h11v5h-11zM586 341h3v4h-3zM650 341h4v4h-4zM576 345h2v5h-2zM655 345h3v5h-3zM567 350h2v5h-2zM658 350h2v5h-2zM559 355h1v5h-1zM659 355h3v5h-3zM550 360h1v5h-1zM661 360h2v5h-2zM542 365h1v5h-1zM662 365h2v5h-2zM534 370h1v5h-1zM663 370h2v5h-2zM527 375h1v4h-1zM664 375h2v4h-2zM664 379h3v5h-3zM665 384h2v5h-2zM509 389h1v5h-1zM665 389h2v5h-2zM665 394h2v5h-2zM663 399h2v5h-2zM495 404h1v4h-1zM660 404h3v4h-3zM498 408h1v5h-1zM656 408h3v5h-3zM498 413h1v5h-1zM651 413h3v5h-3zM495 418h1v5h-1zM645 418h3v5h-3zM485 423h2v5h-2zM638 423h2v5h-2zM458 428h1v5h-1zM630 428h2v5h-2zM621 433h3v5h-3zM440 438h1v4h-1zM612 438h3v4h-3zM604 442h3v5h-3zM596 447h3v5h-3zM426 452h2v5h-2zM586 452h4v5h-4zM431 457h1v5h-1zM583 457h3v5h-3zM433 462h1v5h-1zM593 462h5v5h-5zM438 467h1v4h-1zM618 467h5v4h-5zM449 471h2v5h-2zM653 471h6v5h-6zM459 476h2v5h-2zM450 481h2v5h-2zM436 486h2v5h-2zM430 491h1v5h-1zM426 496h1v5h-1z"/>
<path fill="#67dbe2" d="M602 336h5v5h-5zM612 336h23v5h-23zM589 341h3v4h-3zM646 341h4v4h-4zM578 345h2v5h-2zM652 345h3v5h-3zM569 350h1v5h-1zM655 350h3v5h-3zM560 355h1v5h-1zM657 355h2v5h-2zM551 360h1v5h-1zM658 360h3v5h-3zM543 365h1v5h-1zM660 365h2v5h-2zM535 370h1v5h-1zM660 370h3v5h-3zM661 375h3v4h-3zM521 379h1v5h-1zM662 379h2v5h-2zM515 384h1v5h-1zM663 384h2v5h-2zM663 389h2v5h-2zM504 394h1v5h-1zM663 394h2v5h-2zM499 399h1v5h-1zM661 399h2v5h-2zM496 404h1v4h-1zM658 404h2v4h-2zM499 408h2v5h-2zM654 408h2v5h-2zM499 413h1v5h-1zM649 413h2v5h-2zM496 418h1v5h-1zM643 418h2v5h-2zM487 423h1v5h-1zM635 423h3v5h-3zM627 428h3v5h-3zM448 433h1v5h-1zM618 433h3v5h-3zM609 438h3v4h-3zM601 442h3v5h-3zM593 447h3v5h-3zM428 452h1v5h-1zM583 452h3v5h-3zM432 457h1v5h-1zM579 457h4v5h-4zM434 462h1v5h-1zM589 462h4v5h-4zM439 467h1v4h-1zM613 467h5v4h-5zM451 471h2v5h-2zM647 471h6v5h-6zM461 476h2v5h-2zM452 481h2v5h-2zM438 486h1v5h-1zM431 491h2v5h-2zM427 496h1v5h-1z"/>
<path fill="#6de4d5" d="M607 336h5v5h-5zM592 341h3v4h-3zM640 341h6v4h-6zM580 345h3v5h-3zM648 345h4v5h-4zM570 350h2v5h-2zM652 350h3v5h-3zM561 355h1v5h-1zM654 355h3v5h-3zM552 360h1v5h-1zM656 360h2v5h-2zM544 365h1v5h-1zM657 365h3v5h-3zM658 370h2v5h-2zM528 375h1v4h-1zM659 375h2v4h-2zM660 379h2v5h-2zM660 384h3v5h-3zM510 389h1v5h-1zM661 389h2v5h-2zM660 394h3v5h-3zM500 399h1v5h-1zM659 399h2v5h-2zM497 404h1v4h-1zM656 404h2v4h-2zM501 408h1v5h-1zM652 408h2v5h-2zM500 413h1v5h-1zM647 413h2v5h-2zM497 418h2v5h-2zM640 418h3v5h-3zM488 423h2v5h-2zM633 423h2v5h-2zM459 428h1v5h-1zM463 428h5v5h-5zM624 428h3v5h-3zM615 433h3v5h-3zM606 438h3v4h-3zM598 442h3v5h-3zM590 447h3v5h-3zM429 452h2v5h-2zM580 452h3v5h-3zM433 457h1v5h-1zM576 457h3v5h-3zM435 462h1v5h-1zM585 462h4v5h-4zM440 467h2v4h-2zM608 467h5v4h-5zM453 471h2v5h-2zM641 471h6v5h-6zM463 476h2v5h-2zM454 481h2v5h-2zM439 486h2v5h-2zM433 491h1v5h-1zM428 496h1v5h-1zM426 501h2v4h-2z"/>
<path fill="#71e7b3" d="M595 341h4v4h-4zM606 341h15v4h-15zM629 341h11v4h-11zM583 345h3v5h-3zM644 345h4v5h-4zM572 350h2v5h-2zM649 350h3v5h-3zM562 355h2v5h-2zM652 355h2v5h-2zM553 360h1v5h-1zM653 360h3v5h-3zM655 365h2v5h-2zM536 370h1v5h-1zM656 370h2v5h-2zM529 375h1v4h-1zM657 375h2v4h-2zM522 379h1v5h-1zM657 379h3v5h-3zM516 384h1v5h-1zM658 384h2v5h-2zM659 389h2v5h-2zM505 394h1v5h-1zM658 394h2v5h-2zM501 399h1v5h-1zM656 399h3v5h-3zM498 404h1v4h-1zM654 404h2v4h-2zM502 408h1v5h-1zM650 408h2v5h-2zM501 413h1v5h-1zM644 413h3v5h-3zM499 418h1v5h-1zM638 418h2v5h-2zM490 423h1v5h-1zM630 423h3v5h-3zM460 428h3v5h-3zM468 428h3v5h-3zM622 428h2v5h-2zM612 433h3v5h-3zM603 438h3v4h-3zM596 442h2v5h-2zM587 447h3v5h-3zM431 452h1v5h-1zM577 452h3v5h-3zM434 457h1v5h-1zM573 457h3v5h-3zM436 462h2v5h-2zM581 462h4v5h-4zM442 467h1v4h-1zM603 467h5v4h-5zM455 471h2v5h-2zM635 471h6v5h-6zM465 476h3v5h-3zM456 481h3v5h-3zM441 486h2v5h-2zM434 491h2v5h-2zM429 496h2v5h-2zM428 501h1v4h-1z"/>
<path fill="#74e989" d="M599 341h7v4h-7zM621 341h8v4h-8zM586 345h3v5h-3zM640 345h4v5h-4zM574 350h2v5h-2zM646 350h3v5h-3zM564 355h2v5h-2zM649 355h3v5h-3zM554 360h2v5h-2zM651 360h2v5h-2zM545 365h1v5h-1zM652 365h3v5h-3zM537 370h1v5h-1zM653 370h3v5h-3zM654 375h3v4h-3zM655 379h2v5h-2zM656 384h2v5h-2zM511 389h1v5h-1zM656 389h3v5h-3zM506 394h1v5h-1zM656 394h2v5h-2zM654 399h2v5h-2zM499 404h1v4h-1zM651 404h3v4h-3zM503 408h1v5h-1zM647 408h3v5h-3zM502 413h2v5h-2zM642 413h2v5h-2zM500 418h1v5h-1zM636 418h2v5h-2zM491 423h2v5h-2zM628 423h2v5h-2zM471 428h2v5h-2zM619 428h3v5h-3zM449 433h1v5h-1zM609 433h3v5h-3zM601 438h2v4h-2zM434 442h1v5h-1zM593 442h3v5h-3zM428 447h1v5h-1zM584 447h3v5h-3zM432 452h1v5h-1zM574 452h3v5h-3zM435 457h1v5h-1zM570 457h3v5h-3zM438 462h1v5h-1zM577 462h4v5h-4zM443 467h2v4h-2zM598 467h5v4h-5zM457 471h3v5h-3zM628 471h7v5h-7zM468 476h3v5h-3zM459 481h2v5h-2zM443 486h2v5h-2zM436 491h2v5h-2zM431 496h1v5h-1zM429 501h2v4h-2z"/>
<path fill="#78eb5f" d="M589 345h2v5h-2zM634 345h6v5h-6zM576 350h3v5h-3zM642 350h4v5h-4zM566 355h1v5h-1zM646 355h3v5h-3zM556 360h1v5h-1zM648 360h3v5h-3zM546 365h1v5h-1zM650 365h2v5h-2zM538 370h1v5h-1zM651 370h2v5h-2zM530 375h1v4h-1zM652 375h2v4h-2zM523 379h1v5h-1zM653 379h2v5h-2zM517 384h1v5h-1zM654 384h2v5h-2zM654 389h2v5h-2zM654 394h2v5h-2zM502 399h1v5h-1zM652 399h2v5h-2zM500 404h4v4h-4zM649 404h2v4h-2zM504 408h1v5h-1zM645 408h2v5h-2zM504 413h1v5h-1zM640 413h2v5h-2zM501 418h2v5h-2zM633 418h3v5h-3zM493 423h2v5h-2zM625 423h3v5h-3zM473 428h1v5h-1zM616 428h3v5h-3zM606 433h3v5h-3zM441 438h1v4h-1zM598 438h3v4h-3zM590 442h3v5h-3zM581 447h3v5h-3zM433 452h1v5h-1zM571 452h3v5h-3zM436 457h1v5h-1zM566 457h4v5h-4zM439 462h1v5h-1zM573 462h4v5h-4zM445 467h2v4h-2zM592 467h6v4h-6zM460 471h2v5h-2zM621 471h7v5h-7zM471 476h2v5h-2zM461 481h3v5h-3zM445 486h3v5h-3zM438 491h1v5h-1zM432 496h2v5h-2zM431 501h1v4h-1z"/>
<path fill="#7eeb4a" d="M591 345h43v5h-43zM579 350h2v5h-2zM638 350h4v5h-4zM567 355h2v5h-2zM643 355h3v5h-3zM557 360h1v5h-1zM646 360h2v5h-2zM547 365h2v5h-2zM647 365h3v5h-3zM539 370h1v5h-1zM649 370h2v5h-2zM531 375h1v4h-1zM650 375h2v4h-2zM524 379h1v5h-1zM651 379h2v5h-2zM518 384h1v5h-1zM652 384h2v5h-2zM512 389h1v5h-1zM652 389h2v5h-2zM507 394h1v5h-1zM652 394h2v5h-2zM503 399h1v5h-1zM650 399h2v5h-2zM504 404h2v4h-2zM647 404h2v4h-2zM505 408h2v5h-2zM643 408h2v5h-2zM505 413h1v5h-1zM637 413h3v5h-3zM503 418h1v5h-1zM631 418h2v5h-2zM495 423h1v5h-1zM623 423h2v5h-2zM474 428h2v5h-2zM613 428h3v5h-3zM604 433h2v5h-2zM595 438h3v4h-3zM587 442h3v5h-3zM578 447h3v5h-3zM434 452h1v5h-1zM569 452h2v5h-2zM437 457h1v5h-1zM563 457h3v5h-3zM440 462h1v5h-1zM569 462h4v5h-4zM447 467h1v4h-1zM586 467h6v4h-6zM462 471h3v5h-3zM612 471h9v5h-9zM473 476h4v5h-4zM464 481h4v5h-4zM448 486h2v5h-2zM439 491h2v5h-2zM434 496h1v5h-1zM432 501h2v4h-2z"/>
<path fill="#85eb39" d="M581 350h3v5h-3zM634 350h4v5h-4zM569 355h2v5h-2zM640 355h3v5h-3zM558 360h2v5h-2zM643 360h3v5h-3zM549 365h1v5h-1zM645 365h2v5h-2zM646 370h3v5h-3zM648 375h2v4h-2zM648 379h3v5h-3zM649 384h3v5h-3zM513 389h1v5h-1zM650 389h2v5h-2zM508 394h1v5h-1zM650 394h2v5h-2zM504 399h1v5h-1zM648 399h2v5h-2zM506 404h1v4h-1zM645 404h2v4h-2zM507 408h1v5h-1zM641 408h2v5h-2zM506 413h1v5h-1zM635 413h2v5h-2zM504 418h2v5h-2zM628 418h3v5h-3zM496 423h2v5h-2zM620 423h3v5h-3zM476 428h2v5h-2zM611 428h2v5h-2zM450 433h1v5h-1zM601 433h3v5h-3zM592 438h3v4h-3zM584 442h3v5h-3zM576 447h2v5h-2zM435 452h1v5h-1zM566 452h3v5h-3zM438 457h1v5h-1zM561 457h2v5h-2zM441 462h1v5h-1zM565 462h4v5h-4zM448 467h2v4h-2zM580 467h6v4h-6zM465 471h3v5h-3zM603 471h9v5h-9zM477 476h3v5h-3zM468 481h4v5h-4zM450 486h3v5h-3zM441 491h2v5h-2zM435 496h2v5h-2zM434 501h1v4h-1z"/>
<path fill="#8deb28" d="M584 350h19v5h-19zM628 350h6v5h-6zM571 355h3v5h-3zM636 355h4v5h-4zM560 360h2v5h-2zM640 360h3v5h-3zM550 365h1v5h-1zM642 365h3v5h-3zM540 370h1v5h-1zM644 370h2v5h-2zM532 375h1v4h-1zM645 375h3v4h-3zM525 379h1v5h-1zM646 379h2v5h-2zM519 384h1v5h-1zM647 384h2v5h-2zM648 389h2v5h-2zM647 394h3v5h-3zM505 399h1v5h-1zM646 399h2v5h-2zM507 404h2v4h-2zM643 404h2v4h-2zM508 408h1v5h-1zM639 408h2v5h-2zM507 413h1v5h-1zM633 413h2v5h-2zM506 418h1v5h-1zM626 418h2v5h-2zM498 423h2v5h-2zM618 423h2v5h-2zM478 428h2v5h-2zM608 428h3v5h-3zM597 433h4v5h-4zM589 438h3v4h-3zM581 442h3v5h-3zM573 447h3v5h-3zM436 452h1v5h-1zM563 452h3v5h-3zM439 457h1v5h-1zM558 457h3v5h-3zM442 462h1v5h-1zM562 462h3v5h-3zM450 467h2v4h-2zM573 467h7v4h-7zM468 471h4v5h-4zM591 471h12v5h-12zM480 476h4v5h-4zM472 481h5v5h-5zM549 481h22v5h-22zM453 486h4v5h-4zM443 491h2v5h-2zM437 496h2v5h-2zM435 501h2v4h-2z"/>
<path fill="#9eed21" d="M603 350h25v5h-25zM574 355h2v5h-2zM633 355h3v5h-3zM562 360h2v5h-2zM637 360h3v5h-3zM551 365h1v5h-1zM640 365h2v5h-2zM541 370h1v5h-1zM641 370h3v5h-3zM533 375h1v4h-1zM643 375h2v4h-2zM644 379h2v5h-2zM645 384h2v5h-2zM514 389h1v5h-1zM646 389h2v5h-2zM509 394h1v5h-1zM645 394h2v5h-2zM644 399h2v5h-2zM509 404h1v4h-1zM641 404h2v4h-2zM509 408h1v5h-1zM636 408h3v5h-3zM508 413h2v5h-2zM631 413h2v5h-2zM507 418h2v5h-2zM624 418h2v5h-2zM500 423h2v5h-2zM615 423h3v5h-3zM480 428h2v5h-2zM605 428h3v5h-3zM594 433h3v5h-3zM442 438h1v4h-1zM586 438h3v4h-3zM435 442h1v5h-1zM579 442h2v5h-2zM429 447h2v5h-2zM570 447h3v5h-3zM437 452h1v5h-1zM561 452h2v5h-2zM440 457h1v5h-1zM555 457h3v5h-3zM443 462h2v5h-2zM558 462h4v5h-4zM452 467h2v4h-2zM567 467h6v4h-6zM472 471h4v5h-4zM575 471h16v5h-16zM484 476h4v5h-4zM641 476h9v5h-9zM477 481h5v5h-5zM536 481h13v5h-13zM571 481h12v5h-12zM457 486h5v5h-5zM445 491h2v5h-2zM439 496h1v5h-1zM437 501h2v4h-2z"/>
<path fill="#b0ef1a" d="M576 355h16v5h-16zM628 355h5v5h-5zM564 360h1v5h-1zM634 360h3v5h-3zM552 365h2v5h-2zM637 365h3v5h-3zM542 370h1v5h-1zM639 370h2v5h-2zM640 375h3v4h-3zM526 379h1v5h-1zM642 379h2v5h-2zM520 384h1v5h-1zM643 384h2v5h-2zM515 389h1v5h-1zM643 389h3v5h-3zM510 394h1v5h-1zM643 394h2v5h-2zM506 399h1v5h-1zM641 399h3v5h-3zM510 404h1v4h-1zM638 404h3v4h-3zM510 408h1v5h-1zM634 408h2v5h-2zM510 413h1v5h-1zM629 413h2v5h-2zM509 418h1v5h-1zM621 418h3v5h-3zM502 423h2v5h-2zM613 423h2v5h-2zM482 428h1v5h-1zM602 428h3v5h-3zM451 433h1v5h-1zM591 433h3v5h-3zM583 438h3v4h-3zM576 442h3v5h-3zM431 447h3v5h-3zM568 447h2v5h-2zM438 452h1v5h-1zM558 452h3v5h-3zM441 457h1v5h-1zM552 457h3v5h-3zM445 462h1v5h-1zM554 462h4v5h-4zM454 467h2v4h-2zM561 467h6v4h-6zM476 471h5v5h-5zM558 471h17v5h-17zM488 476h5v5h-5zM560 476h81v5h-81zM482 481h8v5h-8zM525 481h11v5h-11zM583 481h8v5h-8zM462 486h6v5h-6zM541 486h29v5h-29zM447 491h3v5h-3zM440 496h2v5h-2zM439 501h2v4h-2z"/>
<path fill="#c2f013" d="M592 355h8v5h-8zM622 355h6v5h-6zM565 360h2v5h-2zM630 360h4v5h-4zM554 365h1v5h-1zM634 365h3v5h-3zM543 370h2v5h-2zM636 370h3v5h-3zM534 375h1v4h-1zM638 375h2v4h-2zM527 379h1v5h-1zM639 379h3v5h-3zM521 384h1v5h-1zM640 384h3v5h-3zM641 389h2v5h-2zM511 394h1v5h-1zM641 394h2v5h-2zM507 399h4v5h-4zM639 399h2v5h-2zM511 404h1v4h-1zM636 404h2v4h-2zM511 408h1v5h-1zM632 408h2v5h-2zM511 413h1v5h-1zM626 413h3v5h-3zM510 418h2v5h-2zM619 418h2v5h-2zM504 423h2v5h-2zM610 423h3v5h-3zM483 428h2v5h-2zM599 428h3v5h-3zM588 433h3v5h-3zM579 438h4v4h-4zM573 442h3v5h-3zM434 447h2v5h-2zM565 447h3v5h-3zM439 452h1v5h-1zM556 452h2v5h-2zM442 457h1v5h-1zM549 457h3v5h-3zM446 462h1v5h-1zM551 462h3v5h-3zM456 467h3v4h-3zM554 467h7v4h-7zM481 471h6v5h-6zM541 471h17v5h-17zM493 476h7v5h-7zM539 476h21v5h-21zM490 481h35v5h-35zM591 481h7v5h-7zM468 486h7v5h-7zM530 486h11v5h-11zM570 486h9v5h-9zM450 491h3v5h-3zM442 496h2v5h-2zM441 501h1v4h-1z"/>
<path fill="#d5f00b" d="M600 355h22v5h-22zM567 360h2v5h-2zM572 360h9v5h-9zM627 360h3v5h-3zM555 365h2v5h-2zM631 365h3v5h-3zM545 370h1v5h-1zM634 370h2v5h-2zM535 375h1v4h-1zM636 375h2v4h-2zM637 379h2v5h-2zM638 384h2v5h-2zM516 389h1v5h-1zM639 389h2v5h-2zM639 394h2v5h-2zM511 399h2v5h-2zM637 399h2v5h-2zM512 404h1v4h-1zM634 404h2v4h-2zM512 408h1v5h-1zM630 408h2v5h-2zM512 413h2v5h-2zM624 413h2v5h-2zM512 418h1v5h-1zM617 418h2v5h-2zM506 423h2v5h-2zM607 423h3v5h-3zM485 428h3v5h-3zM596 428h3v5h-3zM584 433h4v5h-4zM576 438h3v4h-3zM571 442h2v5h-2zM436 447h2v5h-2zM563 447h2v5h-2zM440 452h1v5h-1zM553 452h3v5h-3zM443 457h1v5h-1zM547 457h2v5h-2zM447 462h2v5h-2zM547 462h4v5h-4zM459 467h2v4h-2zM548 467h6v4h-6zM487 471h11v5h-11zM521 471h20v5h-20zM500 476h39v5h-39zM598 481h8v5h-8zM475 486h7v5h-7zM520 486h10v5h-10zM579 486h7v5h-7zM453 491h3v5h-3zM444 496h2v5h-2zM442 501h2v4h-2z"/>
<path fill="#e9f004" d="M569 360h3v5h-3zM581 360h7v5h-7zM622 360h5v5h-5zM557 365h1v5h-1zM628 365h3v5h-3zM546 370h1v5h-1zM631 370h3v5h-3zM536 375h1v4h-1zM633 375h3v4h-3zM528 379h1v5h-1zM635 379h2v5h-2zM522 384h1v5h-1zM636 384h2v5h-2zM517 389h1v5h-1zM637 389h2v5h-2zM512 394h1v5h-1zM637 394h2v5h-2zM513 399h2v5h-2zM635 399h2v5h-2zM513 404h2v4h-2zM632 404h2v4h-2zM513 408h1v5h-1zM628 408h2v5h-2zM514 413h1v5h-1zM622 413h2v5h-2zM513 418h2v5h-2zM614 418h3v5h-3zM508 423h3v5h-3zM605 423h2v5h-2zM488 428h2v5h-2zM593 428h3v5h-3zM452 433h1v5h-1zM455 433h5v5h-5zM581 433h3v5h-3zM443 438h1v4h-1zM573 438h3v4h-3zM568 442h3v5h-3zM438 447h1v5h-1zM560 447h3v5h-3zM441 452h1v5h-1zM551 452h2v5h-2zM444 457h1v5h-1zM544 457h3v5h-3zM449 462h1v5h-1zM544 462h3v5h-3zM461 467h4v4h-4zM541 467h7v4h-7zM498 471h23v5h-23zM606 481h8v5h-8zM482 486h15v5h-15zM504 486h16v5h-16zM586 486h6v5h-6zM456 491h3v5h-3zM446 496h2v5h-2zM444 501h3v4h-3z"/>
<path fill="#f4ec02" d="M588 360h7v5h-7zM616 360h6v5h-6zM558 365h2v5h-2zM624 365h4v5h-4zM547 370h1v5h-1zM628 370h3v5h-3zM537 375h1v4h-1zM630 375h3v4h-3zM529 379h1v5h-1zM632 379h3v5h-3zM523 384h1v5h-1zM634 384h2v5h-2zM635 389h2v5h-2zM513 394h1v5h-1zM634 394h3v5h-3zM515 399h1v5h-1zM633 399h2v5h-2zM515 404h1v4h-1zM630 404h2v4h-2zM514 408h2v5h-2zM625 408h3v5h-3zM515 413h1v5h-1zM619 413h3v5h-3zM515 418h2v5h-2zM612 418h2v5h-2zM511 423h3v5h-3zM602 423h3v5h-3zM490 428h2v5h-2zM589 428h4v5h-4zM453 433h2v5h-2zM460 433h2v5h-2zM577 433h4v5h-4zM570 438h3v4h-3zM436 442h1v5h-1zM565 442h3v5h-3zM439 447h1v5h-1zM558 447h2v5h-2zM442 452h1v5h-1zM548 452h3v5h-3zM445 457h1v5h-1zM542 457h2v5h-2zM450 462h2v5h-2zM540 462h4v5h-4zM465 467h3v4h-3zM534 467h7v4h-7zM614 481h9v5h-9zM497 486h7v5h-7zM592 486h6v5h-6zM459 491h5v5h-5zM448 496h2v5h-2zM447 501h2v4h-2z"/>
<path fill="#f3e207" d="M595 360h21v5h-21zM560 365h2v5h-2zM563 365h13v5h-13zM621 365h3v5h-3zM548 370h2v5h-2zM625 370h3v5h-3zM538 375h1v4h-1zM628 375h2v4h-2zM630 379h2v5h-2zM631 384h3v5h-3zM518 389h1v5h-1zM632 389h3v5h-3zM514 394h1v5h-1zM632 394h2v5h-2zM516 399h1v5h-1zM631 399h2v5h-2zM516 404h1v4h-1zM628 404h2v4h-2zM516 408h1v5h-1zM623 408h2v5h-2zM516 413h2v5h-2zM617 413h2v5h-2zM517 418h2v5h-2zM609 418h3v5h-3zM514 423h2v5h-2zM599 423h3v5h-3zM492 428h3v5h-3zM585 428h4v5h-4zM462 433h2v5h-2zM572 433h5v5h-5zM567 438h3v4h-3zM563 442h2v5h-2zM440 447h1v5h-1zM556 447h2v5h-2zM443 452h1v5h-1zM546 452h2v5h-2zM446 457h1v5h-1zM539 457h3v5h-3zM452 462h1v5h-1zM537 462h3v5h-3zM468 467h4v4h-4zM527 467h7v4h-7zM623 481h11v5h-11zM598 486h7v5h-7zM464 491h4v5h-4zM450 496h3v5h-3zM449 501h2v4h-2z"/>
<path fill="#f1d70d" d="M562 365h1v5h-1zM576 365h6v5h-6zM616 365h5v5h-5zM550 370h1v5h-1zM622 370h3v5h-3zM539 375h1v4h-1zM625 375h3v4h-3zM530 379h1v5h-1zM627 379h3v5h-3zM524 384h1v5h-1zM629 384h2v5h-2zM519 389h1v5h-1zM630 389h2v5h-2zM630 394h2v5h-2zM517 399h1v5h-1zM629 399h2v5h-2zM517 404h1v4h-1zM625 404h3v4h-3zM517 408h1v5h-1zM621 408h2v5h-2zM518 413h1v5h-1zM615 413h2v5h-2zM519 418h2v5h-2zM607 418h2v5h-2zM516 423h4v5h-4zM596 423h3v5h-3zM495 428h3v5h-3zM581 428h4v5h-4zM464 433h2v5h-2zM568 433h4v5h-4zM564 438h3v4h-3zM560 442h3v5h-3zM441 447h1v5h-1zM554 447h2v5h-2zM444 452h1v5h-1zM544 452h2v5h-2zM447 457h2v5h-2zM536 457h3v5h-3zM453 462h2v5h-2zM533 462h4v5h-4zM472 467h6v4h-6zM518 467h9v4h-9zM634 481h5v5h-5zM605 486h7v5h-7zM468 491h5v5h-5zM453 496h3v5h-3zM451 501h3v4h-3z"/>
<path fill="#efcb12" d="M582 365h7v5h-7zM610 365h6v5h-6zM551 370h1v5h-1zM618 370h4v5h-4zM540 375h1v4h-1zM622 375h3v4h-3zM531 379h1v5h-1zM625 379h2v5h-2zM525 384h1v5h-1zM626 384h3v5h-3zM628 389h2v5h-2zM515 394h4v5h-4zM628 394h2v5h-2zM518 399h2v5h-2zM626 399h3v5h-3zM518 404h1v4h-1zM623 404h2v4h-2zM518 408h1v5h-1zM619 408h2v5h-2zM519 413h2v5h-2zM613 413h2v5h-2zM521 418h2v5h-2zM604 418h3v5h-3zM520 423h3v5h-3zM593 423h3v5h-3zM498 428h4v5h-4zM576 428h5v5h-5zM466 433h2v5h-2zM563 433h5v5h-5zM444 438h1v4h-1zM561 438h3v4h-3zM558 442h2v5h-2zM442 447h2v5h-2zM551 447h3v5h-3zM445 452h1v5h-1zM541 452h3v5h-3zM449 457h1v5h-1zM534 457h2v5h-2zM455 462h2v5h-2zM530 462h3v5h-3zM478 467h9v4h-9zM507 467h11v4h-11zM612 486h7v5h-7zM473 491h5v5h-5zM456 496h3v5h-3zM454 501h3v4h-3z"/>
<path fill="#edbc19" d="M589 365h21v5h-21zM552 370h2v5h-2zM556 370h13v5h-13zM614 370h4v5h-4zM541 375h1v4h-1zM619 375h3v4h-3zM532 379h1v5h-1zM622 379h3v5h-3zM624 384h2v5h-2zM520 389h1v5h-1zM625 389h3v5h-3zM519 394h2v5h-2zM626 394h2v5h-2zM520 399h1v5h-1zM624 399h2v5h-2zM519 404h1v4h-1zM621 404h2v4h-2zM519 408h2v5h-2zM616 408h3v5h-3zM521 413h1v5h-1zM610 413h3v5h-3zM523 418h2v5h-2zM601 418h3v5h-3zM523 423h4v5h-4zM589 423h4v5h-4zM502 428h5v5h-5zM570 428h6v5h-6zM468 433h2v5h-2zM558 433h5v5h-5zM558 438h3v4h-3zM437 442h5v5h-5zM556 442h2v5h-2zM444 447h1v5h-1zM549 447h2v5h-2zM446 452h1v5h-1zM539 452h2v5h-2zM450 457h1v5h-1zM531 457h3v5h-3zM457 462h2v5h-2zM526 462h4v5h-4zM487 467h20v4h-20zM619 486h9v5h-9zM478 491h6v5h-6zM544 491h40v5h-40zM459 496h4v5h-4zM457 501h4v4h-4zM569 501h28v4h-28z"/>
<path fill="#eaae1f" d="M554 370h2v5h-2zM569 370h6v5h-6zM610 370h4v5h-4zM542 375h2v4h-2zM616 375h3v4h-3zM533 379h1v5h-1zM619 379h3v5h-3zM526 384h1v5h-1zM621 384h3v5h-3zM521 389h1v5h-1zM623 389h2v5h-2zM521 394h2v5h-2zM623 394h3v5h-3zM521 399h1v5h-1zM622 399h2v5h-2zM520 404h1v4h-1zM619 404h2v4h-2zM521 408h1v5h-1zM614 408h2v5h-2zM522 413h2v5h-2zM608 413h2v5h-2zM525 418h3v5h-3zM599 418h2v5h-2zM527 423h5v5h-5zM585 423h4v5h-4zM507 428h6v5h-6zM560 428h10v5h-10zM470 433h2v5h-2zM553 433h5v5h-5zM555 438h3v4h-3zM442 442h3v5h-3zM553 442h3v5h-3zM445 447h1v5h-1zM547 447h2v5h-2zM447 452h1v5h-1zM537 452h2v5h-2zM451 457h2v5h-2zM529 457h2v5h-2zM459 462h2v5h-2zM522 462h4v5h-4zM484 491h7v5h-7zM532 491h12v5h-12zM584 491h20v5h-20zM463 496h4v5h-4zM560 496h47v5h-47zM461 501h4v4h-4zM556 501h13v4h-13z"/>
<path fill="#e8a026" d="M575 370h6v5h-6zM604 370h6v5h-6zM544 375h1v4h-1zM612 375h4v4h-4zM534 379h1v5h-1zM616 379h3v5h-3zM527 384h1v5h-1zM619 384h2v5h-2zM621 389h2v5h-2zM523 394h1v5h-1zM621 394h2v5h-2zM522 399h1v5h-1zM620 399h2v5h-2zM521 404h2v4h-2zM617 404h2v4h-2zM522 408h1v5h-1zM612 408h2v5h-2zM524 413h2v5h-2zM605 413h3v5h-3zM528 418h2v5h-2zM596 418h3v5h-3zM532 423h5v5h-5zM581 423h4v5h-4zM513 428h47v5h-47zM472 433h1v5h-1zM548 433h5v5h-5zM445 438h7v4h-7zM552 438h3v4h-3zM445 442h1v5h-1zM551 442h2v5h-2zM446 447h1v5h-1zM545 447h2v5h-2zM448 452h1v5h-1zM535 452h2v5h-2zM453 457h1v5h-1zM526 457h3v5h-3zM461 462h3v5h-3zM518 462h4v5h-4zM491 491h11v5h-11zM517 491h15v5h-15zM604 491h14v5h-14zM467 496h4v5h-4zM550 496h10v5h-10zM465 501h4v4h-4zM547 501h9v4h-9z"/>
<path fill="#e69326" d="M581 370h23v5h-23zM545 375h1v4h-1zM548 375h13v4h-13zM609 375h3v4h-3zM535 379h1v5h-1zM613 379h3v5h-3zM616 384h3v5h-3zM522 389h1v5h-1zM618 389h3v5h-3zM524 394h1v5h-1zM619 394h2v5h-2zM523 399h1v5h-1zM617 399h3v5h-3zM523 404h1v4h-1zM614 404h3v4h-3zM523 408h2v5h-2zM610 408h2v5h-2zM526 413h1v5h-1zM603 413h2v5h-2zM530 418h3v5h-3zM593 418h3v5h-3zM537 423h7v5h-7zM575 423h6v5h-6zM473 433h2v5h-2zM543 433h5v5h-5zM452 438h2v4h-2zM549 438h3v4h-3zM446 442h2v5h-2zM549 442h2v5h-2zM447 447h1v5h-1zM543 447h2v5h-2zM449 452h2v5h-2zM532 452h3v5h-3zM454 457h2v5h-2zM523 457h3v5h-3zM464 462h3v5h-3zM514 462h4v5h-4zM502 491h15v5h-15zM471 496h5v5h-5zM542 496h8v5h-8zM469 501h5v4h-5zM540 501h7v4h-7z"/>
<path fill="#e38627" d="M546 375h2v4h-2zM561 375h5v4h-5zM604 375h5v4h-5zM536 379h1v5h-1zM610 379h3v5h-3zM528 384h1v5h-1zM613 384h3v5h-3zM523 389h4v5h-4zM616 389h2v5h-2zM525 394h2v5h-2zM616 394h3v5h-3zM524 399h2v5h-2zM615 399h2v5h-2zM524 404h1v4h-1zM612 404h2v4h-2zM525 408h1v5h-1zM607 408h3v5h-3zM527 413h2v5h-2zM600 413h3v5h-3zM533 418h3v5h-3zM590 418h3v5h-3zM544 423h12v5h-12zM564 423h11v5h-11zM475 433h3v5h-3zM538 433h5v5h-5zM454 438h2v4h-2zM546 438h3v4h-3zM448 442h1v5h-1zM547 442h2v5h-2zM448 447h1v5h-1zM541 447h2v5h-2zM451 452h1v5h-1zM530 452h2v5h-2zM456 457h1v5h-1zM520 457h3v5h-3zM467 462h3v5h-3zM509 462h5v5h-5zM476 496h5v5h-5zM535 496h7v5h-7zM474 501h5v4h-5zM533 501h7v4h-7z"/>
<path fill="#e17a27" d="M566 375h6v4h-6zM598 375h6v4h-6zM607 379h3v5h-3zM529 384h1v5h-1zM610 384h3v5h-3zM527 389h2v5h-2zM613 389h3v5h-3zM527 394h1v5h-1zM614 394h2v5h-2zM526 399h1v5h-1zM612 399h3v5h-3zM525 404h1v4h-1zM610 404h2v4h-2zM526 408h1v5h-1zM605 408h2v5h-2zM529 413h2v5h-2zM598 413h2v5h-2zM536 418h3v5h-3zM586 418h4v5h-4zM556 423h8v5h-8zM478 433h2v5h-2zM534 433h4v5h-4zM456 438h1v4h-1zM543 438h3v4h-3zM449 442h1v5h-1zM544 442h3v5h-3zM449 447h1v5h-1zM538 447h3v5h-3zM452 452h1v5h-1zM528 452h2v5h-2zM457 457h2v5h-2zM517 457h3v5h-3zM470 462h5v5h-5zM504 462h5v5h-5zM481 496h5v5h-5zM528 496h7v5h-7zM479 501h7v4h-7zM526 501h7v4h-7z"/>
<path fill="#df6d28" d="M572 375h26v4h-26zM537 379h1v5h-1zM540 379h12v5h-12zM603 379h4v5h-4zM607 384h3v5h-3zM529 389h2v5h-2zM610 389h3v5h-3zM528 394h1v5h-1zM611 394h3v5h-3zM527 399h1v5h-1zM610 399h2v5h-2zM526 404h2v4h-2zM607 404h3v4h-3zM527 408h2v5h-2zM602 408h3v5h-3zM531 413h2v5h-2zM595 413h3v5h-3zM539 418h4v5h-4zM582 418h4v5h-4zM480 433h2v5h-2zM529 433h5v5h-5zM457 438h2v4h-2zM541 438h2v4h-2zM450 442h2v5h-2zM542 442h2v5h-2zM450 447h1v5h-1zM536 447h2v5h-2zM453 452h1v5h-1zM525 452h3v5h-3zM459 457h2v5h-2zM514 457h3v5h-3zM475 462h8v5h-8zM495 462h9v5h-9zM486 496h8v5h-8zM519 496h9v5h-9zM486 501h8v4h-8zM516 501h10v4h-10z"/>
<path fill="#dc6127" d="M538 379h2v5h-2zM552 379h5v5h-5zM598 379h5v5h-5zM530 384h4v5h-4zM604 384h3v5h-3zM531 389h2v5h-2zM607 389h3v5h-3zM529 394h2v5h-2zM609 394h2v5h-2zM528 399h1v5h-1zM608 399h2v5h-2zM528 404h1v4h-1zM605 404h2v4h-2zM529 408h2v5h-2zM600 408h2v5h-2zM533 413h3v5h-3zM592 413h3v5h-3zM543 418h5v5h-5zM578 418h4v5h-4zM482 433h3v5h-3zM523 433h6v5h-6zM459 438h1v4h-1zM538 438h3v4h-3zM452 442h1v5h-1zM540 442h2v5h-2zM451 447h2v5h-2zM534 447h2v5h-2zM454 452h2v5h-2zM523 452h2v5h-2zM461 457h2v5h-2zM511 457h3v5h-3zM483 462h12v5h-12zM494 496h25v5h-25zM494 501h22v4h-22z"/>
<path fill="#da5725" d="M557 379h6v5h-6zM593 379h5v5h-5zM534 384h7v5h-7zM601 384h3v5h-3zM533 389h2v5h-2zM605 389h2v5h-2zM531 394h1v5h-1zM606 394h3v5h-3zM529 399h1v5h-1zM605 399h3v5h-3zM529 404h1v4h-1zM602 404h3v4h-3zM531 408h1v5h-1zM597 408h3v5h-3zM536 413h2v5h-2zM589 413h3v5h-3zM548 418h8v5h-8zM570 418h8v5h-8zM485 433h4v5h-4zM518 433h5v5h-5zM460 438h2v4h-2zM535 438h3v4h-3zM453 442h1v5h-1zM538 442h2v5h-2zM453 447h1v5h-1zM532 447h2v5h-2zM456 452h1v5h-1zM521 452h2v5h-2zM463 457h3v5h-3zM508 457h3v5h-3z"/>
<path fill="#d74c23" d="M563 379h7v5h-7zM585 379h8v5h-8zM541 384h4v5h-4zM597 384h4v5h-4zM535 389h1v5h-1zM602 389h3v5h-3zM532 394h1v5h-1zM603 394h3v5h-3zM530 399h2v5h-2zM602 399h3v5h-3zM530 404h2v4h-2zM600 404h2v4h-2zM532 408h2v5h-2zM594 408h3v5h-3zM538 413h3v5h-3zM586 413h3v5h-3zM556 418h14v5h-14zM489 433h6v5h-6zM510 433h8v5h-8zM462 438h2v4h-2zM533 438h2v4h-2zM454 442h2v5h-2zM536 442h2v5h-2zM454 447h1v5h-1zM530 447h2v5h-2zM457 452h2v5h-2zM518 452h3v5h-3zM466 457h3v5h-3zM504 457h4v5h-4z"/>
<path fill="#d54121" d="M570 379h15v5h-15zM545 384h4v5h-4zM593 384h4v5h-4zM536 389h2v5h-2zM598 389h4v5h-4zM533 394h2v5h-2zM600 394h3v5h-3zM532 399h1v5h-1zM600 399h2v5h-2zM532 404h1v4h-1zM597 404h3v4h-3zM534 408h2v5h-2zM592 408h2v5h-2zM541 413h3v5h-3zM582 413h4v5h-4zM495 433h15v5h-15zM464 438h1v4h-1zM530 438h3v4h-3zM456 442h1v5h-1zM534 442h2v5h-2zM455 447h1v5h-1zM528 447h2v5h-2zM459 452h2v5h-2zM515 452h3v5h-3zM469 457h3v5h-3zM499 457h5v5h-5z"/>
<path fill="#d3371f" d="M549 384h5v5h-5zM588 384h5v5h-5zM538 389h2v5h-2zM595 389h3v5h-3zM535 394h1v5h-1zM597 394h3v5h-3zM533 399h1v5h-1zM597 399h3v5h-3zM533 404h2v4h-2zM594 404h3v4h-3zM536 408h2v5h-2zM589 408h3v5h-3zM544 413h4v5h-4zM578 413h4v5h-4zM465 438h2v4h-2zM527 438h3v4h-3zM457 442h1v5h-1zM531 442h3v5h-3zM456 447h2v5h-2zM525 447h3v5h-3zM461 452h2v5h-2zM513 452h2v5h-2zM472 457h6v5h-6zM493 457h6v5h-6z"/>
<path fill="#d1311e" d="M554 384h5v5h-5zM582 384h6v5h-6zM540 389h2v5h-2zM591 389h4v5h-4zM536 394h2v5h-2zM594 394h3v5h-3zM534 399h2v5h-2zM594 399h3v5h-3zM535 404h1v4h-1zM592 404h2v4h-2zM538 408h2v5h-2zM586 408h3v5h-3zM548 413h5v5h-5zM572 413h6v5h-6zM467 438h2v4h-2zM524 438h3v4h-3zM458 442h2v5h-2zM529 442h2v5h-2zM458 447h1v5h-1zM523 447h2v5h-2zM463 452h2v5h-2zM510 452h3v5h-3zM478 457h15v5h-15z"/>
<path fill="#d12e1d" d="M559 384h23v5h-23zM542 389h3v5h-3zM587 389h4v5h-4zM538 394h1v5h-1zM591 394h3v5h-3zM536 399h1v5h-1zM591 399h3v5h-3zM536 404h2v4h-2zM589 404h3v4h-3zM540 408h3v5h-3zM582 408h4v5h-4zM553 413h19v5h-19zM469 438h1v4h-1zM522 438h2v4h-2zM460 442h1v5h-1zM527 442h2v5h-2zM459 447h2v5h-2zM521 447h2v5h-2zM465 452h2v5h-2zM506 452h4v5h-4z"/>
<path fill="#d02b1d" d="M545 389h3v5h-3zM583 389h4v5h-4zM539 394h2v5h-2zM588 394h3v5h-3zM537 399h2v5h-2zM588 399h3v5h-3zM538 404h2v4h-2zM586 404h3v4h-3zM543 408h3v5h-3zM579 408h3v5h-3zM470 438h2v4h-2zM519 438h3v4h-3zM461 442h2v5h-2zM525 442h2v5h-2zM461 447h1v5h-1zM518 447h3v5h-3zM467 452h3v5h-3zM503 452h3v5h-3z"/>
<path fill="#cf271d" d="M548 389h5v5h-5zM577 389h6v5h-6zM541 394h2v5h-2zM584 394h4v5h-4zM539 399h2v5h-2zM585 399h3v5h-3zM540 404h2v4h-2zM582 404h4v4h-4zM546 408h3v5h-3zM574 408h5v5h-5zM472 438h3v4h-3zM516 438h3v4h-3zM463 442h1v5h-1zM522 442h3v5h-3zM462 447h2v5h-2zM516 447h2v5h-2zM470 452h4v5h-4zM498 452h5v5h-5z"/>
<path fill="#ce241d" d="M553 389h24v5h-24zM543 394h3v5h-3zM580 394h4v5h-4zM541 399h2v5h-2zM581 399h4v5h-4zM542 404h3v4h-3zM579 404h3v4h-3zM549 408h6v5h-6zM567 408h7v5h-7zM475 438h2v4h-2zM512 438h4v4h-4zM464 442h2v5h-2zM520 442h2v5h-2zM464 447h2v5h-2zM513 447h3v5h-3zM474 452h5v5h-5zM492 452h6v5h-6z"/>
<path fill="#ce201c" d="M546 394h3v5h-3zM575 394h5v5h-5zM543 399h2v5h-2zM578 399h3v5h-3zM545 404h3v4h-3zM574 404h5v4h-5zM555 408h12v5h-12zM477 438h3v4h-3zM508 438h4v4h-4zM466 442h2v5h-2zM518 442h2v5h-2zM466 447h2v5h-2zM510 447h3v5h-3zM479 452h13v5h-13z"/>
<path fill="#ca1d1b" d="M549 394h5v5h-5zM568 394h7v5h-7zM545 399h3v5h-3zM573 399h5v5h-5zM548 404h4v4h-4zM569 404h5v4h-5zM480 438h4v4h-4zM504 438h4v4h-4zM468 442h2v5h-2zM515 442h3v5h-3zM468 447h3v5h-3zM507 447h3v5h-3z"/>
<path fill="#c21b1a" d="M554 394h14v5h-14zM548 399h5v5h-5zM567 399h6v5h-6zM552 404h17v4h-17zM484 438h20v4h-20zM470 442h2v5h-2zM512 442h3v5h-3zM471 447h3v5h-3zM504 447h3v5h-3z"/>
<path fill="#ba1918" d="M553 399h14v5h-14zM472 442h2v5h-2zM509 442h3v5h-3zM474 447h4v5h-4zM499 447h5v5h-5z"/>
<path fill="#b21716" d="M474 442h3v5h-3zM506 442h3v5h-3zM478 447h7v5h-7zM491 447h8v5h-8z"/>
<path fill="#aa1514" d="M477 442h4v5h-4zM501 442h5v5h-5zM485 447h6v5h-6z"/>
<path fill="#a31313" d="M481 442h6v5h-6zM494 442h7v5h-7z"/>
<path fill="#991111" d="M487 442h7v5h-7z"/>
<path fill="none" stroke="#3a3a3a" stroke-opacity="0.7" stroke-width="0.6" d="M426.5 449.2 427.5 448.4 428.6 447.5 429.8 446.5 431.1 445.5 432.4 444.5 433.5 443.7 434.5 442.9 435.5 442.1 436.5 441.4 437.7 440.5 439.1 439.5 440.4 438.5 441.5 437.7 442.5 437.0 443.5 436.3 444.8 435.5 446.2 434.5 447.5 433.7 448.5 433.0 449.5 432.4 451.0 431.5 452.5 430.6 453.5 430.0 454.5 429.5 456.4 428.5 457.5 427.9 458.5 427.4 460.4 426.5 461.5 426.0 462.6 425.5 464.5 424.6 465.5 424.2 467.1 423.5 468.5 422.8 469.5 422.4 471.3 421.5 472.5 420.8 473.5 420.2 474.5 419.5 475.6 418.5 476.6 417.5 477.5 416.4 478.5 415.1 479.5 413.8 480.5 412.6 481.5 411.5 482.4 410.5 483.3 409.5 484.3 408.5 485.3 407.5 486.3 406.5 487.4 405.5 488.5 404.5 489.5 403.6 490.5 402.7 491.5 401.8 492.5 400.9 493.5 400.1 494.5 399.2 495.5 398.4 496.5 397.5 497.7 396.5 498.9 395.5 500.1 394.5 501.3 393.5 502.5 392.5 503.5 391.7 504.5 390.9 505.5 390.1 506.5 389.3 507.5 388.5 508.7 387.5 509.9 386.5 511.2 385.5 512.4 384.5 513.5 383.7 514.5 382.9 515.5 382.1 516.5 381.3 517.5 380.5 518.8 379.5 520.1 378.5 521.4 377.5 522.5 376.6 523.5 375.9 524.5 375.1 525.5 374.4 526.7 373.5 528.1 372.5 529.5 371.5 530.5 370.8 531.5 370.0 532.5 369.3 533.7 368.5 535.1 367.5 536.5 366.5 537.5 365.8 538.5 365.1 539.5 364.4 540.8 363.5 542.2 362.5 543.5 361.6 544.5 360.9 545.5 360.2 546.5 359.5 548.0 358.5 549.5 357.5 550.5 356.8 551.5 356.1 552.5 355.4 553.9 354.5 555.3 353.5 556.5 352.7 557.5 352.0 558.5 351.4 559.8 350.5 561.3 349.5 562.5 348.7 563.5 348.0 564.5 347.3 565.7 346.5 567.2 345.5 568.5 344.6 569.5 344.0 570.5 343.3 571.7 342.5 573.2 341.5 574.5 340.6 575.5 339.9 576.5 339.3 577.7 338.5 579.2 337.5 580.5 336.6 581.5 336.0 582.5 335.3 583.8 334.5 585.3 333.5 586.5 332.7 587.5 332.1 588.5 331.4 590.0 330.5 591.5 329.5 592.5 328.9 593.5 328.3 594.7 327.5 596.4 326.5 597.5 325.8 598.5 325.2 599.6 324.5 601.3 323.5 602.5 322.8 603.5 322.2 604.8 321.5 606.5 320.5 607.5 320.0 608.5 319.4 610.2 318.5 611.5 317.8 612.5 317.3 614.1 316.5 615.5 315.8 616.5 315.3 618.3 314.5 619.5 314.0 620.7 313.5 622.5 312.8 623.5 312.4 625.5 311.8 626.5 311.5 628.5 311.0 630.5 310.7 632.3 310.5 633.5 310.5 634.5 310.5 636.5 310.8 638.5 311.4 639.5 311.8 641.2 312.5 642.5 313.0 643.9 313.5 645.5 314.0 647.1 314.5 647.9 315.5 648.8 316.5 650.4 317.5 651.5 318.0 653.0 318.5 654.5 318.9 656.5 319.4 657.5 319.6 659.5 320.0 661.5 320.4 662.5 320.6 664.5 321.1 666.1 321.5 667.5 321.9 669.3 322.5 670.5 322.9 671.8 323.5 673.5 324.3 674.5 324.9 675.5 325.5 676.8 326.5 678.0 327.5 679.1 328.5 680.0 329.5 680.8 330.5 681.6 331.5 682.5 333.0 683.4 334.5 683.9 335.5 684.5 336.9 685.2 338.5 685.5 339.5 686.2 341.5 686.5 342.5 687.1 344.5 687.5 346.2 687.8 347.5 688.3 349.5 688.5 350.7 688.8 352.5 689.2 354.5 689.5 356.4 689.7 357.5 690.0 359.5 690.3 361.5 690.5 363.4 690.6 364.5 690.9 366.5 691.1 368.5 691.3 370.5 691.5 372.3 691.6 373.5 691.8 375.5 692.0 377.5 692.1 379.5 692.3 381.5 692.4 383.5 692.5 384.7 692.6 386.5 692.7 388.5 692.8 390.5 692.8 392.5 692.6 394.5 692.5 395.5 692.1 397.5 691.5 399.4 691.1 400.5 690.5 401.9 689.8 403.5 689.3 404.5 688.5 405.8 687.5 407.4 686.8 408.5 686.0 409.5 685.3 410.5 684.5 411.5 683.5 412.7 682.5 413.8 681.5 414.9 680.5 415.9 679.5 416.9 678.5 417.9 677.5 418.8 676.5 419.7 675.5 420.6 674.4 421.5 673.2 422.5 672.0 423.5 670.7 424.5 669.5 425.4 668.5 426.2 667.5 426.9 666.5 427.7 665.3 428.5 663.9 429.5 662.5 430.5 661.5 431.2 660.5 431.9 659.5 432.5 658.1 433.5 656.6 434.5 655.5 435.2 654.5 435.9 653.5 436.6 652.1 437.5 650.6 438.5 649.5 439.2 648.5 439.9 647.5 440.6 646.1 441.5 644.6 442.5 643.5 443.3 642.5 444.0 641.5 444.7 640.3 445.5 638.9 446.5 637.5 447.5 636.5 448.2 635.5 448.9 634.5 449.6 633.2 450.5 631.7 451.5 630.5 452.4 629.5 453.2 628.5 454.0 627.5 455.0 626.5 456.4 626.3 457.5 626.6 458.5 627.7 459.5 629.4 460.5 630.5 461.0 631.8 461.5 633.5 462.0 635.1 462.5 636.5 462.9 638.5 463.4 639.5 463.6 641.5 464.0 643.5 464.5 644.5 464.7 646.5 465.1 648.5 465.4 649.5 465.6 651.5 466.0 653.5 466.3 654.5 466.5 656.5 466.8 658.5 467.1 660.5 467.4 661.5 467.6 663.5 467.9 665.5 468.2 667.5 468.5 668.5 468.6 668.5 469.6 666.7 470.5 665.5 470.7 664.5 471.8 662.5 471.8 661.5 472.9 659.9 473.5 658.5 473.9 657.5 475.0 656.0 475.5 654.5 476.0 653.5 477.0 652.1 477.5 650.5 478.1 649.5 479.1 647.5 479.1 646.5 480.1 645.1 480.5 643.5 481.1 642.5 482.1 641.2 482.5 639.5 483.2 638.5 484.2 637.2 484.5 635.5 485.2 634.5 486.2 632.5 486.2 631.5 487.2 630.2 487.5 628.5 488.2 627.5 489.2 626.2 489.5 624.5 490.2 623.5 491.2 622.2 491.5 620.5 492.2 619.5 493.2 618.2 493.5 616.5 494.2 615.2 494.5 613.5 495.2 612.5 496.2 611.2 496.5 609.5 497.2 608.5 498.2 607.2 498.5 605.5 499.2 604.5 500.2 603.2 500.5 601.5 501.2 600.2 501.5 598.5 502.2 597.5 503.2 596.2 503.5 594.5 504.2M426.5 486.2 428.2 485.5 429.5 485.0 430.8 484.5 432.5 483.9 433.5 483.5 435.5 482.7 436.5 482.3 438.2 481.5 439.5 480.6 440.5 479.5 439.5 477.6 438.5 476.9 437.5 476.4 435.7 475.5 434.5 475.0 433.4 474.5 431.5 473.6 430.5 473.1 429.4 472.5 427.8 471.5 426.6 470.5M426.5 449.9 427.5 449.1 428.5 448.3 429.5 447.5 430.7 446.5 432.0 445.5 433.3 444.5 434.5 443.6 435.5 442.8 436.5 442.1 437.5 441.3 438.7 440.5 440.1 439.5 441.5 438.5 442.5 437.8 443.5 437.2 444.5 436.5 446.1 435.5 447.5 434.6 448.5 434.0 449.5 433.4 451.2 432.5 452.5 431.8 453.5 431.3 455.0 430.5 456.5 429.8 457.5 429.4 459.5 428.5 460.5 428.1 462.3 427.5 463.5 427.1 465.4 426.5 466.5 426.2 468.5 426.0 469.8 426.5 471.5 426.6 472.8 426.5 474.5 426.2 476.5 425.7 477.5 425.4 479.5 424.8 480.5 424.5 482.5 423.8 483.5 423.3 485.3 422.5 486.5 421.8 487.5 421.2 488.5 420.4 489.5 419.5 490.5 418.2 491.3 416.5 491.0 414.5 489.5 414.1 487.5 414.1 486.7 412.5 487.5 410.5 488.0 409.5 488.7 408.5 489.5 407.5 490.5 406.3 491.5 405.1 492.5 404.1 493.5 403.1 494.5 402.1 495.5 401.1 496.5 400.2 497.5 399.2 498.5 398.3 499.5 397.4 500.5 396.5 501.7 395.5 502.8 394.5 504.0 393.5 505.2 392.5 506.4 391.5 507.5 390.6 508.5 389.7 509.5 388.9 510.5 388.1 511.5 387.3 512.5 386.5 513.7 385.5 514.9 384.5 516.2 383.5 517.4 382.5 518.5 381.6 519.5 380.9 520.5 380.1 521.5 379.3 522.6 378.5 523.9 377.5 525.3 376.5 526.5 375.6 527.5 374.9 528.5 374.2 529.5 373.5 530.9 372.5 532.4 371.5 533.5 370.7 534.5 370.0 535.5 369.4 536.8 368.5 538.3 367.5 539.5 366.7 540.5 366.0 541.5 365.4 542.8 364.5 544.4 363.5 545.5 362.8 546.5 362.1 547.5 361.5 549.0 360.5 550.5 359.6 551.5 358.9 552.5 358.3 553.8 357.5 555.4 356.5 556.5 355.8 557.5 355.2 558.6 354.5 560.2 353.5 561.5 352.7 562.5 352.1 563.5 351.4 565.0 350.5 566.5 349.6 567.5 349.0 568.5 348.4 569.9 347.5 571.5 346.5 572.5 345.9 573.5 345.3 574.9 344.5 576.5 343.5 577.5 342.9 578.5 342.3 579.9 341.5 581.5 340.6 582.5 340.0 583.5 339.4 585.1 338.5 586.5 337.7 587.5 337.1 588.6 336.5 590.5 335.5 591.5 334.9 592.5 334.4 594.2 333.5 595.5 332.8 596.5 332.3 598.1 331.5 599.5 330.8 600.5 330.3 602.3 329.5 603.5 329.0 604.6 328.5 606.5 327.7 607.5 327.3 609.5 326.6 610.5 326.3 612.5 325.7 613.5 325.4 615.5 324.9 617.5 324.5 618.5 324.4 620.5 324.1 622.5 324.0 624.5 323.9 626.5 323.8 628.5 323.8 630.5 323.7 632.5 324.1 633.5 325.3 634.5 326.0 635.6 326.5 637.5 327.1 639.4 327.5 640.5 327.7 642.5 328.0 644.5 328.3 646.0 328.5 647.5 328.7 649.5 329.1 651.5 329.5 652.5 329.7 654.5 330.2 655.5 330.5 657.5 331.2 658.5 331.6 660.3 332.5 661.5 333.2 662.5 333.9 663.5 334.6 664.6 335.5 665.6 336.5 666.5 337.5 667.5 338.7 668.5 340.1 669.3 341.5 669.9 342.5 670.5 343.8 671.3 345.5 671.7 346.5 672.4 348.5 672.7 349.5 673.3 351.5 673.6 352.5 674.1 354.5 674.5 356.5 674.7 357.5 675.1 359.5 675.5 361.5 675.7 362.5 676.0 364.5 676.3 366.5 676.5 367.9 676.7 369.5 677.0 371.5 677.2 373.5 677.5 375.5 677.6 376.5 677.8 378.5 678.0 380.5 678.2 382.5 678.3 384.5 678.5 386.4 678.6 387.5 678.7 389.5 678.8 391.5 678.7 393.5 678.5 395.2 678.2 396.5 677.7 398.5 677.4 399.5 676.6 401.5 676.1 402.5 675.5 403.6 674.5 405.3 673.7 406.5 673.1 407.5 672.3 408.5 671.5 409.5 670.5 410.7 669.5 411.9 668.5 413.0 667.5 414.0 666.5 415.0 665.5 415.9 664.5 416.8 663.5 417.7 662.5 418.6 661.4 419.5 660.1 420.5 658.9 421.5 657.5 422.5 656.5 423.3 655.5 424.0 654.5 424.7 653.4 425.5 651.9 426.5 650.5 427.4 649.5 428.1 648.5 428.7 647.3 429.5 645.7 430.5 644.5 431.3 643.5 431.9 642.5 432.5 640.8 433.5 639.5 434.3 638.5 434.9 637.5 435.5 635.9 436.5 634.5 437.3 633.5 437.9 632.5 438.5 630.9 439.5 629.5 440.4 628.5 441.0 627.5 441.6 626.1 442.5 624.6 443.5 623.5 444.2 622.5 444.8 621.4 445.5 619.9 446.5 618.5 447.3 617.5 448.0 616.5 448.6 615.0 449.5 613.5 450.4 612.5 450.9 611.5 451.5 609.8 452.5 608.5 453.3 607.5 454.0 606.5 454.7 605.5 455.5 604.5 456.6 604.1 458.5 604.9 459.5 606.3 460.5 607.5 461.0 608.5 461.5 610.5 462.2 611.5 462.5 613.5 463.0 615.2 463.5 616.5 463.8 618.5 464.2 619.6 464.5 621.5 464.9 623.5 465.3 624.6 465.5 626.5 465.8 628.5 466.2 630.1 466.5 631.5 466.7 633.5 467.1 635.5 467.4 636.5 467.6 638.5 467.9 640.5 468.2 642.2 468.5 643.5 468.7 645.5 469.0 647.5 469.3 648.9 469.5 650.5 469.7 652.5 470.0 654.5 470.3 656.0 470.5 657.5 470.7 659.5 471.0 661.5 471.2 663.5 471.5 663.5 471.5 661.6 472.5 660.5 472.6 659.5 473.7 657.7 474.5 656.5 474.8 655.5 475.8 653.8 476.5 652.5 476.9 651.5 477.9 649.9 478.5 648.5 478.9 647.0 479.5 645.5 480.0 644.5 481.0 643.0 481.5 641.5 482.0 640.5 483.0 639.0 483.5 637.5 484.0 636.5 485.0 635.0 485.5 633.5 486.0 632.1 486.5 630.5 487.1 629.5 488.1 628.1 488.5 626.5 489.1 625.5 490.1 624.1 490.5 622.5 491.1 621.5 492.1 620.1 492.5 618.5 493.1 617.5 494.1 615.5 494.1 614.5 495.1 613.1 495.5 611.5 496.1 610.5 497.1 609.1 497.5 607.5 498.1 606.5 499.1 605.1 499.5 603.5 500.1 602.5 501.1 600.5 501.1 599.5 502.1 598.1 502.5 596.5 503.1 595.5 504.1 594.1 504.5M426.5 490.0 427.5 489.2 428.7 488.5 430.5 487.6 431.5 487.1 433.0 486.5 434.5 486.0 435.7 485.5 437.5 484.9 438.6 484.5 440.5 483.9 441.6 483.5 443.5 482.8 444.5 482.4 446.5 481.6 447.5 481.0 448.5 480.4 449.3 478.5 448.4 477.5 446.7 476.5 445.5 476.0 444.4 475.5 442.5 474.8 441.5 474.4 439.5 473.7 438.5 473.3 436.7 472.5 435.5 471.9 434.5 471.4 433.1 470.5 431.9 469.5 431.0 468.5 430.2 467.5 429.5 466.5 428.5 464.7 428.0 463.5 427.5 462.3 426.7 460.5M426.5 450.7 427.5 449.9 428.5 449.0 429.5 448.2 430.5 447.4 431.6 446.5 432.9 445.5 434.2 444.5 435.5 443.5 436.5 442.8 437.5 442.1 438.5 441.3 439.7 440.5 441.2 439.5 442.5 438.6 443.5 438.0 444.5 437.3 445.8 436.5 447.5 435.5 448.5 434.9 449.5 434.4 451.2 433.5 452.5 432.8 453.5 432.3 455.4 431.5 456.5 431.0 457.9 430.5 459.5 429.9 460.7 429.5 462.5 429.1 464.5 429.1 466.5 429.4 468.5 429.3 470.5 429.1 472.5 428.7 473.8 428.5 475.5 428.1 477.5 427.7 478.5 427.5 480.5 427.0 482.4 426.5 483.5 426.2 485.5 425.6 486.5 425.2 488.5 424.5 489.5 424.1 490.8 423.5 492.5 422.6 493.5 422.0 494.5 421.2 495.5 420.3 496.5 419.2 497.5 417.7 498.0 416.5 498.5 414.9 498.7 413.5 498.6 411.5 498.0 410.5 496.5 409.8 494.5 409.7 494.1 408.5 494.5 407.5 495.5 405.6 496.3 404.5 497.0 403.5 497.8 402.5 498.7 401.5 499.6 400.5 500.6 399.5 501.6 398.5 502.6 397.5 503.7 396.5 504.7 395.5 505.8 394.5 507.0 393.5 508.1 392.5 509.2 391.5 510.4 390.5 511.5 389.6 512.5 388.7 513.5 387.9 514.5 387.0 515.5 386.2 516.5 385.4 517.6 384.5 518.8 383.5 520.1 382.5 521.3 381.5 522.5 380.6 523.5 379.8 524.5 379.1 525.5 378.4 526.7 377.5 528.1 376.5 529.5 375.6 530.5 374.9 531.5 374.2 532.6 373.5 534.1 372.5 535.5 371.6 536.5 371.0 537.5 370.3 538.8 369.5 540.4 368.5 541.5 367.8 542.5 367.2 543.7 366.5 545.4 365.5 546.5 364.8 547.5 364.2 548.7 363.5 550.5 362.5 551.5 361.9 552.5 361.3 553.9 360.5 555.5 359.6 556.5 359.0 557.5 358.5 559.2 357.5 560.5 356.8 561.5 356.3 562.9 355.5 564.5 354.6 565.5 354.1 566.5 353.5 568.4 352.5 569.5 351.9 570.5 351.4 572.2 350.5 573.5 349.8 574.5 349.3 576.1 348.5 577.5 347.8 578.5 347.3 580.1 346.5 581.5 345.8 582.5 345.3 584.2 344.5 585.5 343.9 586.5 343.5 588.5 342.6 589.5 342.1 591.0 341.5 592.5 340.9 593.5 340.5 595.5 339.7 596.5 339.3 598.5 338.6 599.5 338.3 601.5 337.6 602.5 337.3 604.5 336.7 605.5 336.4 607.5 335.9 609.0 335.5 610.5 335.1 612.5 334.6 613.5 334.4 615.5 334.1 616.5 334.7 617.6 335.5 619.5 336.2 621.4 336.5 622.5 336.6 624.5 336.7 626.5 336.8 628.5 336.9 630.5 336.9 632.5 337.0 634.5 337.2 636.5 337.3 638.0 337.5 639.5 337.7 641.5 338.1 643.2 338.5 644.5 338.9 646.3 339.5 647.5 340.0 648.5 340.5 650.2 341.5 651.5 342.4 652.5 343.2 653.5 344.1 654.5 345.2 655.5 346.4 656.3 347.5 657.0 348.5 657.5 349.5 658.5 351.3 659.0 352.5 659.5 353.6 660.2 355.5 660.5 356.5 661.2 358.5 661.5 359.7 662.0 361.5 662.5 363.5 662.7 364.5 663.1 366.5 663.5 368.5 663.7 369.5 664.0 371.5 664.3 373.5 664.5 374.6 664.8 376.5 665.1 378.5 665.3 380.5 665.5 382.0 665.7 383.5 665.9 385.5 666.1 387.5 666.3 389.5 666.4 391.5 666.4 393.5 666.1 395.5 665.6 397.5 665.3 398.5 664.6 400.5 664.1 401.5 663.5 402.7 662.5 404.4 661.8 405.5 661.1 406.5 660.4 407.5 659.5 408.6 658.5 409.8 657.5 410.9 656.5 412.0 655.5 413.0 654.5 413.9 653.5 414.9 652.5 415.8 651.5 416.6 650.4 417.5 649.2 418.5 647.9 419.5 646.5 420.5 645.5 421.2 644.5 421.9 643.5 422.6 642.2 423.5 640.7 424.5 639.5 425.3 638.5 425.9 637.5 426.5 635.9 427.5 634.5 428.3 633.5 428.9 632.5 429.5 630.7 430.5 629.5 431.2 628.5 431.7 627.1 432.5 625.5 433.4 624.5 434.0 623.5 434.5 621.7 435.5 620.5 436.2 619.5 436.7 618.2 437.5 616.5 438.5 615.5 439.0 614.5 439.6 613.0 440.5 611.5 441.4 610.5 442.0 609.5 442.6 608.1 443.5 606.5 444.5 605.5 445.1 604.5 445.7 603.1 446.5 601.5 447.4 600.5 448.0 599.5 448.6 597.8 449.5 596.5 450.2 595.5 450.7 593.9 451.5 592.5 452.2 591.5 452.7 590.0 453.5 588.5 454.4 587.5 455.0 586.5 455.7 585.5 456.5 584.5 458.2 584.5 458.8 585.5 460.3 586.5 461.0 587.5 461.5 589.5 462.4 590.5 462.7 592.5 463.3 593.5 463.6 595.5 464.2 596.9 464.5 598.5 464.9 600.5 465.3 601.5 465.5 603.5 465.9 605.5 466.3 606.5 466.5 608.5 466.9 610.5 467.3 611.8 467.5 613.5 467.8 615.5 468.1 617.5 468.5 618.5 468.6 620.5 469.0 622.5 469.3 623.8 469.5 625.5 469.8 627.5 470.1 629.5 470.4 630.5 470.6 632.5 470.9 634.5 471.1 636.5 471.4 637.5 471.6 639.5 471.9 641.5 472.1 643.5 472.4 644.5 472.5 646.5 472.8 648.5 473.0 650.5 473.3 652.5 473.5 653.5 473.6 655.5 473.8 657.5 474.0 657.5 474.5 655.6 475.5 654.5 475.6 653.5 476.7 651.7 477.5 650.5 477.7 649.5 478.8 647.5 478.8 646.5 479.8 644.8 480.5 643.5 480.8 642.5 481.9 640.9 482.5 639.5 482.9 638.5 483.9 636.9 484.5 635.5 484.9 634.5 485.9 632.5 485.9 631.5 486.9 629.9 487.5 628.5 487.9 627.5 488.9 625.9 489.5 624.5 489.9 623.5 490.9 622.0 491.5 620.5 492.0 619.5 493.0 618.0 493.5 616.5 494.0 614.9 494.5 613.5 494.9 612.5 495.9 610.9 496.5 609.5 496.9 608.5 497.9 606.9 498.5 605.5 498.9 604.5 499.9 602.9 500.5 601.5 500.9 599.9 501.5 598.5 501.9 597.5 502.9 595.9 503.5 594.5 503.9M426.5 497.3 427.5 496.2 428.5 495.2 429.5 494.2 430.5 493.3 431.5 492.4 432.5 491.5 433.6 490.5 434.9 489.5 436.5 488.6 437.5 488.1 438.8 487.5 440.5 486.9 441.5 486.5 443.5 485.8 444.5 485.5 446.5 484.9 447.7 484.5 449.5 484.0 451.0 483.5 452.5 483.0 454.1 482.5 455.5 481.9 456.6 481.5 458.5 480.5 459.5 479.5 459.6 478.5 458.7 477.5 457.5 476.8 456.5 476.3 454.5 475.5 453.5 475.2 451.5 474.5 450.5 474.2 448.5 473.6 447.5 473.2 445.5 472.6 444.5 472.2 442.7 471.5 441.5 471.0 440.5 470.5 438.9 469.5 437.5 468.5 436.5 467.6 435.5 466.6 434.6 465.5 433.9 464.5 433.3 463.5 432.5 461.7 432.0 460.5 431.5 459.4 430.6 457.5 429.8 456.5 428.8 455.5 427.5 454.7 426.5 454.3M432.0 504.5 432.0 502.5 432.2 500.5 432.6 499.5 433.5 498.1 434.5 496.9 435.5 496.0 436.5 495.1 437.5 494.3 438.7 493.5 440.1 492.5 441.5 491.6 442.5 491.0 443.5 490.3 444.9 489.5 446.5 488.7 447.5 488.3 449.5 487.6 450.5 487.2 452.5 486.6 453.5 486.3 455.5 485.8 456.5 485.5 458.5 485.0 460.4 484.5 461.5 484.2 463.5 483.7 464.5 483.4 466.5 482.8 467.6 482.5 469.5 481.8 470.5 481.3 471.9 480.5 472.8 479.5 472.5 478.2 471.5 477.3 470.1 476.5 468.5 475.9 467.5 475.5 465.5 474.9 464.0 474.5 462.5 474.1 460.5 473.6 459.5 473.3 457.5 472.8 456.2 472.5 454.5 472.0 452.6 471.5 451.5 471.1 449.6 470.5 448.5 470.1 447.2 469.5 445.5 468.7 444.5 468.2 443.4 467.5 441.9 466.5 440.8 465.5 439.8 464.5 439.0 463.5 438.3 462.5 437.5 461.2 436.7 459.5 436.2 458.5 435.5 457.0 434.6 455.5 433.9 454.5 432.9 453.5 431.5 452.5 430.5 452.1 428.5 451.6 427.9 450.5 429.0 449.5 430.2 448.5 431.4 447.5 432.5 446.6 433.5 445.8 434.5 445.1 435.5 444.3 436.6 443.5 437.9 442.5 439.3 441.5 440.5 440.7 441.5 440.0 442.5 439.4 443.9 438.5 445.5 437.5 446.5 436.9 447.5 436.4 449.1 435.5 450.5 434.8 451.5 434.3 453.2 433.5 454.5 432.9 455.6 432.5 457.5 431.8 458.5 431.4 460.5 431.4 461.5 431.6 463.5 431.7 465.5 431.6 466.5 431.5 468.5 431.2 470.5 430.9 472.5 430.5 473.5 430.4 475.5 430.0 477.5 429.6 478.5 429.4 480.5 429.0 482.5 428.6 483.5 428.4 485.5 427.9 487.3 427.5 488.5 427.2 490.5 426.6 491.5 426.4 493.5 425.7 494.5 425.4 496.5 424.6 497.5 424.1 498.7 423.5 500.3 422.5 501.5 421.5 502.4 420.5 503.2 419.5 503.7 418.5 504.4 416.5 504.6 415.5 504.9 413.5 505.1 411.5 505.1 409.5 504.8 407.5 504.1 406.5 502.5 405.7 500.5 405.5 500.5 405.5 501.5 403.5 502.1 402.5 502.8 401.5 503.6 400.5 504.5 399.4 505.5 398.3 506.5 397.2 507.5 396.1 508.5 395.1 509.5 394.1 510.5 393.2 511.5 392.3 512.5 391.3 513.5 390.4 514.6 389.5 515.7 388.5 516.9 387.5 518.1 386.5 519.2 385.5 520.5 384.5 521.5 383.7 522.5 382.9 523.5 382.1 524.5 381.3 525.5 380.5 526.9 379.5 528.4 378.5 529.5 377.7 530.5 377.1 531.5 376.4 533.0 375.5 534.5 374.6 535.5 374.0 536.5 373.4 537.9 372.5 539.5 371.6 540.5 371.0 541.5 370.4 543.2 369.5 544.5 368.8 545.5 368.2 546.8 367.5 548.5 366.6 549.5 366.1 550.6 365.5 552.5 364.5 553.5 364.0 554.5 363.5 556.5 362.5 557.5 362.0 558.6 361.5 560.5 360.6 561.5 360.1 562.8 359.5 564.5 358.7 565.5 358.3 567.2 357.5 568.5 356.9 569.5 356.5 571.5 355.6 572.5 355.1 574.0 354.5 575.5 353.9 576.5 353.5 578.5 352.6 579.5 352.2 581.3 351.5 582.5 351.0 583.9 350.5 585.5 349.9 586.5 349.5 588.5 348.7 589.5 348.3 591.5 347.6 592.5 347.2 594.5 346.5 595.5 346.1 597.5 346.2 598.5 346.8 600.5 347.3 602.5 347.4 604.5 347.3 606.5 347.2 608.5 347.0 610.5 346.8 612.5 346.6 613.5 346.5 615.5 346.3 617.5 346.1 619.5 346.0 621.5 345.9 623.5 345.9 625.5 346.0 627.5 346.1 629.5 346.3 630.5 346.5 632.5 346.9 634.5 347.5 635.5 347.8 637.1 348.5 638.5 349.2 639.5 349.8 640.5 350.5 641.7 351.5 642.8 352.5 643.7 353.5 644.5 354.5 645.5 355.9 646.5 357.5 647.0 358.5 647.5 359.5 648.4 361.5 648.8 362.5 649.5 364.5 649.8 365.5 650.4 367.5 650.7 368.5 651.2 370.5 651.5 371.7 651.9 373.5 652.3 375.5 652.5 376.5 652.9 378.5 653.2 380.5 653.5 382.1 653.7 383.5 654.0 385.5 654.3 387.5 654.5 388.9 654.7 390.5 654.8 392.5 654.6 394.5 654.5 395.5 654.0 397.5 653.5 399.1 652.9 400.5 652.5 401.5 651.5 403.3 650.8 404.5 650.1 405.5 649.4 406.5 648.5 407.6 647.5 408.8 646.5 409.9 645.5 411.0 644.5 411.9 643.5 412.9 642.5 413.8 641.5 414.7 640.5 415.5 639.3 416.5 638.0 417.5 636.6 418.5 635.5 419.3 634.5 420.0 633.5 420.7 632.3 421.5 630.7 422.5 629.5 423.2 628.5 423.8 627.4 424.5 625.7 425.5 624.5 426.2 623.5 426.7 622.0 427.5 620.5 428.3 619.5 428.8 618.2 429.5 616.5 430.4 615.5 430.9 614.3 431.5 612.5 432.4 611.5 432.9 610.3 433.5 608.5 434.4 607.5 434.9 606.3 435.5 604.5 436.5 603.5 437.0 602.5 437.5 600.8 438.5 599.5 439.2 598.5 439.8 597.3 440.5 595.7 441.5 594.5 442.2 593.5 442.9 592.5 443.5 590.9 444.5 589.5 445.4 588.5 446.0 587.5 446.6 585.9 447.5 584.5 448.3 583.5 448.8 582.2 449.5 580.5 450.3 579.5 450.8 578.0 451.5 576.5 452.2 575.5 452.7 573.9 453.5 572.5 454.2 571.5 454.8 570.3 455.5 568.9 456.5 567.9 457.5 567.3 458.5 567.5 460.3 568.5 461.5 569.5 462.1 570.5 462.7 572.2 463.5 573.5 464.0 574.8 464.5 576.5 465.0 578.0 465.5 579.5 465.9 581.5 466.5 582.5 466.7 584.5 467.2 585.8 467.5 587.5 467.9 589.5 468.3 590.5 468.5 592.5 468.9 594.5 469.3 595.5 469.5 597.5 469.9 599.5 470.3 600.6 470.5 602.5 470.9 604.5 471.2 606.3 471.5 607.5 471.7 609.5 472.0 611.5 472.4 612.5 472.5 614.5 472.8 616.5 473.1 618.5 473.4 619.5 473.5 621.5 473.8 623.5 474.1 625.5 474.3 627.1 474.5 628.5 474.7 630.5 474.9 632.5 475.1 634.5 475.3 636.5 475.5 637.5 475.6 639.5 475.8 641.5 476.0 643.5 476.1 645.5 476.3 647.5 476.4 648.5 476.5 650.5 476.7 651.5 477.5 650.5 477.5 649.5 478.6 647.5 478.6 646.5 479.6 644.7 480.5 643.5 480.7 642.5 481.7 640.7 482.5 639.5 482.7 638.5 483.8 636.8 484.5 635.5 484.8 634.5 485.8 632.5 485.8 631.5 486.8 629.8 487.5 628.5 487.8 627.5 488.8 625.8 489.5 624.5 489.8 623.5 490.8 621.8 491.5 620.5 491.8 619.5 492.8 617.8 493.5 616.5 493.8 614.8 494.5 613.5 494.8 612.5 495.8 610.8 496.5 609.5 496.8 608.5 497.8 606.8 498.5 605.5 498.8 604.5 499.8 602.8 500.5 601.5 500.8 599.8 501.5 598.5 501.8 597.5 502.8 595.8 503.5 594.5 503.8M440.8 504.5 440.7 502.5 440.8 500.5 441.5 499.1 442.5 497.9 443.5 497.0 444.5 496.3 445.7 495.5 447.5 494.5 448.5 494.0 449.7 493.5 451.5 492.8 452.5 492.4 454.5 491.7 455.5 491.4 457.5 490.9 459.0 490.5 460.5 490.1 462.5 489.7 463.5 489.5 465.5 489.0 467.5 488.6 468.5 488.4 470.5 488.0 472.5 487.6 473.5 487.4 475.5 487.0 477.5 486.6 478.5 486.4 480.5 486.0 482.5 485.6 483.5 485.4 485.5 484.9 487.5 484.5 488.5 484.2 490.5 483.6 491.5 483.3 493.0 482.5 494.0 481.5 494.1 479.5 493.5 478.4 492.5 477.4 491.1 476.5 489.5 475.9 488.5 475.5 486.5 475.0 484.6 474.5 483.5 474.3 481.5 473.9 479.5 473.5 478.5 473.4 476.5 473.0 474.5 472.7 473.4 472.5 471.5 472.2 469.5 471.9 467.5 471.5 466.5 471.3 464.5 470.9 462.5 470.5 461.5 470.3 459.5 469.8 458.2 469.5 456.5 469.0 454.8 468.5 453.5 468.1 452.0 467.5 450.5 466.8 449.5 466.4 447.9 465.5 446.5 464.5 445.5 463.7 444.5 462.8 443.5 461.6 442.7 460.5 442.0 459.5 441.5 458.5 440.5 456.8 439.8 455.5 439.3 454.5 438.5 453.3 437.5 451.9 436.5 450.9 435.5 450.2 433.8 449.5 432.5 449.2 431.3 448.5 432.4 447.5 433.5 446.7 434.5 445.9 435.5 445.1 436.5 444.3 437.6 443.5 439.0 442.5 440.5 441.5 441.5 440.8 442.5 440.2 443.6 439.5 445.2 438.5 446.5 437.8 447.5 437.2 448.8 436.5 450.5 435.7 451.5 435.2 453.1 434.5 454.5 434.0 456.5 433.7 458.5 433.9 460.5 433.9 462.5 433.7 464.4 433.5 465.5 433.3 467.5 433.0 469.5 432.7 470.7 432.5 472.5 432.2 474.5 431.9 476.5 431.5 477.5 431.4 479.5 431.0 481.5 430.7 482.5 430.5 484.5 430.1 486.5 429.8 488.0 429.5 489.5 429.2 491.5 428.8 493.1 428.5 494.5 428.2 496.5 427.7 497.5 427.5 499.5 427.0 501.2 426.5 502.5 426.1 504.1 425.5 505.5 424.9 506.5 424.4 507.9 423.5 509.0 422.5 509.8 421.5 510.5 420.1 510.9 418.5 511.1 416.5 511.1 414.5 511.1 412.5 511.2 410.5 511.2 408.5 511.3 406.5 511.2 404.5 510.5 402.6 509.5 401.9 508.0 401.5 508.5 399.5 509.2 398.5 510.0 397.5 510.9 396.5 511.8 395.5 512.7 394.5 513.7 393.5 514.7 392.5 515.7 391.5 516.7 390.5 517.8 389.5 518.9 388.5 520.1 387.5 521.2 386.5 522.4 385.5 523.5 384.6 524.5 383.8 525.5 383.0 526.5 382.2 527.5 381.5 528.9 380.5 530.4 379.5 531.5 378.8 532.5 378.2 533.7 377.5 535.4 376.5 536.5 375.9 537.5 375.3 539.0 374.5 540.5 373.7 541.5 373.2 542.8 372.5 544.5 371.6 545.5 371.1 546.8 370.5 548.5 369.7 549.5 369.2 551.1 368.5 552.5 367.9 553.5 367.4 555.5 366.6 556.5 366.1 558.0 365.5 559.5 364.9 560.5 364.5 562.5 363.7 563.5 363.3 565.4 362.5 566.5 362.1 567.9 361.5 569.5 360.9 570.5 360.5 572.5 359.7 573.5 359.3 575.5 358.5 576.5 358.2 578.3 358.5 579.5 358.9 581.5 359.1 583.5 359.1 585.5 358.8 587.5 358.6 588.5 358.4 590.5 358.0 592.5 357.7 593.5 357.5 595.5 357.1 597.5 356.7 598.8 356.5 600.5 356.2 602.5 355.9 604.5 355.6 605.5 355.4 607.5 355.2 609.5 355.0 611.5 354.9 613.5 354.8 615.5 354.8 617.5 354.9 619.5 355.1 621.5 355.4 622.5 355.6 624.5 356.2 625.5 356.6 627.5 357.5 628.5 358.1 629.5 358.7 630.5 359.5 631.7 360.5 632.6 361.5 633.5 362.5 634.5 363.9 635.5 365.4 636.1 366.5 636.6 367.5 637.5 369.3 638.0 370.5 638.5 371.8 639.1 373.5 639.5 374.8 640.0 376.5 640.5 378.2 640.8 379.5 641.3 381.5 641.6 382.5 642.0 384.5 642.4 386.5 642.6 387.5 643.0 389.5 643.2 391.5 643.3 393.5 643.1 395.5 642.6 397.5 642.3 398.5 641.6 400.5 641.1 401.5 640.5 402.6 639.5 404.2 638.6 405.5 637.9 406.5 637.1 407.5 636.2 408.5 635.3 409.5 634.3 410.5 633.3 411.5 632.2 412.5 631.0 413.5 629.8 414.5 628.6 415.5 627.5 416.3 626.5 417.0 625.5 417.7 624.4 418.5 622.8 419.5 621.5 420.3 620.5 420.9 619.5 421.5 617.8 422.5 616.5 423.2 615.5 423.8 614.1 424.5 612.5 425.3 611.5 425.8 610.1 426.5 608.5 427.2 607.5 427.7 605.8 428.5 604.5 429.1 603.5 429.5 601.5 430.4 600.5 430.8 598.9 431.5 597.5 432.1 596.5 432.5 594.5 433.4 593.5 433.9 592.1 434.5 590.5 435.2 589.5 435.7 588.0 436.5 586.5 437.3 585.5 437.9 584.4 438.5 582.9 439.5 581.5 440.4 580.5 441.2 579.5 441.9 578.5 442.7 577.5 443.5 576.1 444.5 574.7 445.5 573.5 446.3 572.5 446.9 571.5 447.6 569.8 448.5 568.5 449.2 567.5 449.7 565.9 450.5 564.5 451.2 563.5 451.6 561.7 452.5 560.5 453.1 559.5 453.6 557.8 454.5 556.5 455.2 555.5 455.8 554.5 456.5 553.2 457.5 552.3 458.5 551.6 460.5 552.4 462.5 553.3 463.5 554.4 464.5 555.5 465.3 556.5 466.1 557.5 466.9 558.5 467.7 559.5 468.6 560.3 470.5 559.5 471.8 558.5 472.5 556.9 473.5 556.2 474.5 557.4 475.5 558.5 476.1 559.5 476.8 559.5 477.8 558.0 478.5 556.5 478.7 554.5 479.1 552.5 479.4 551.5 479.5 549.5 479.8 547.5 480.0 545.5 480.3 543.7 480.5 542.5 480.6 540.5 480.9 538.5 481.1 536.5 481.4 535.5 481.5 533.5 481.8 531.5 482.1 529.5 482.4 528.5 482.6 526.5 483.0 524.5 483.4 523.5 483.8 522.0 484.5 522.5 485.7 523.9 486.5 525.5 486.8 527.5 487.2 529.0 487.5 530.5 487.6 532.5 487.8 534.5 488.0 536.5 488.2 538.5 488.4 540.5 488.5 541.5 488.5 543.5 488.6 545.5 488.7 547.5 488.8 549.5 488.8 551.5 488.9 553.5 488.9 555.5 488.9 557.5 488.9 559.5 488.9 561.5 488.8 563.5 488.8 565.5 488.7 567.5 488.6 569.5 488.5 570.5 488.4 572.5 488.3 574.5 488.1 576.5 487.9 578.5 487.7 580.2 487.5 581.5 487.3 583.5 486.9 585.5 486.6 586.5 486.3 588.5 485.7 589.5 485.3 591.1 484.5 591.7 483.5 591.5 482.2 591.4 480.5 592.5 480.1 594.5 479.6 595.5 479.5 597.5 479.3 599.5 479.2 601.5 479.1 603.5 479.0 605.5 479.0 607.5 479.0 609.5 479.0 611.5 478.9 613.5 479.0 615.5 479.0 617.5 479.0 619.5 479.0 621.5 479.0 623.5 479.1 625.5 479.1 627.5 479.1 629.5 479.2 631.5 479.2 633.5 479.3 635.5 479.3 637.5 479.4 639.5 479.4 641.5 479.5 642.5 479.5 644.5 479.6 644.5 480.5 642.6 481.5 641.5 481.6 640.5 482.6 638.6 483.5 637.5 483.6 636.5 484.6 634.7 485.5 633.5 485.7 631.7 486.5 630.5 486.7 629.5 487.7 627.7 488.5 626.5 488.7 625.5 489.7 623.7 490.5 622.5 490.7 621.5 491.7 619.7 492.5 618.5 492.7 617.5 493.7 615.5 493.7 614.5 494.7 612.7 495.5 611.5 495.7 610.5 496.7 608.7 497.5 607.5 497.7 606.5 498.7 604.7 499.5 603.5 499.7 602.5 500.7 600.5 500.7 599.5 501.7 597.7 502.5 596.5 502.7 595.5 503.7 593.7 504.5M518.5 469.6 516.5 469.7 514.5 469.9 512.5 470.0 510.5 470.1 508.5 470.2 506.5 470.3 504.5 470.3 502.5 470.4 500.5 470.4 498.5 470.4 496.5 470.4 494.5 470.3 492.5 470.3 490.5 470.2 488.5 470.2 486.5 470.1 484.5 469.9 482.5 469.8 480.5 469.6 478.8 469.5 477.5 469.4 475.5 469.2 473.5 468.9 471.5 468.7 470.2 468.5 468.5 468.2 466.5 467.9 464.5 467.5 463.5 467.3 461.5 466.8 460.3 466.5 458.5 465.9 457.2 465.5 455.5 464.8 454.5 464.4 452.8 463.5 451.5 462.6 450.5 461.9 449.5 461.0 448.5 460.0 447.5 458.9 446.5 457.5 445.8 456.5 445.2 455.5 444.5 454.4 443.5 452.7 442.9 451.5 442.3 450.5 441.5 449.0 440.5 447.7 439.5 447.0 438.4 446.5 436.5 446.1 436.5 445.3 437.5 444.4 438.8 443.5 440.2 442.5 441.5 441.7 442.5 441.0 443.5 440.3 444.9 439.5 446.5 438.6 447.5 438.0 448.5 437.5 450.5 436.6 451.5 436.4 452.8 436.5 454.5 436.6 456.5 436.5 457.5 436.4 459.5 436.1 461.5 435.8 462.9 435.5 464.5 435.2 466.5 434.9 468.5 434.5 469.5 434.4 471.5 434.0 473.5 433.7 474.6 433.5 476.5 433.2 478.5 432.9 480.5 432.6 481.5 432.4 483.5 432.1 485.5 431.8 487.5 431.5 488.5 431.4 490.5 431.1 492.5 430.8 494.5 430.5 495.5 430.4 497.5 430.1 499.5 429.8 501.5 429.5 502.5 429.4 504.5 429.1 506.5 428.7 507.8 428.5 509.5 428.2 511.5 427.7 512.5 427.5 514.5 426.9 515.7 426.5 517.5 425.6 518.5 424.9 519.5 423.7 519.9 422.5 519.8 420.5 519.5 419.4 518.9 417.5 518.5 416.2 518.0 414.5 517.6 412.5 517.4 411.5 517.3 409.5 517.3 407.5 517.4 405.5 517.5 404.5 517.7 402.5 517.8 400.5 517.5 398.9 516.5 397.7 515.5 397.2 515.5 395.6 516.4 394.5 517.3 393.5 518.3 392.5 519.3 391.5 520.3 390.5 521.3 389.5 522.4 388.5 523.5 387.5 524.5 386.6 525.5 385.8 526.5 385.0 527.5 384.1 528.5 383.4 529.7 382.5 531.3 381.5 532.5 380.7 533.5 380.2 534.7 379.5 536.5 378.5 537.5 378.0 538.5 377.5 540.5 376.5 541.5 376.0 542.5 375.5 544.5 374.6 545.5 374.1 547.0 373.5 548.5 372.8 549.5 372.4 551.5 371.6 552.5 371.2 554.2 370.5 555.5 370.0 556.7 369.5 558.5 368.8 559.5 368.4 561.5 368.0 562.5 368.5 564.5 369.1 566.5 369.2 568.5 369.0 570.5 368.8 572.4 368.5 573.5 368.3 575.5 367.9 577.5 367.6 578.5 367.3 580.5 366.9 582.5 366.5 583.5 366.3 585.5 365.9 587.5 365.5 588.5 365.4 590.5 365.0 592.5 364.7 593.5 364.5 595.5 364.2 597.5 364.0 599.5 363.8 601.5 363.7 603.5 363.6 605.5 363.6 607.5 363.7 609.5 363.9 611.5 364.3 612.5 364.5 614.5 365.2 615.5 365.6 617.4 366.5 618.5 367.2 619.5 367.9 620.5 368.7 621.5 369.6 622.5 370.7 623.5 371.9 624.5 373.3 625.2 374.5 625.8 375.5 626.5 376.8 627.3 378.5 627.7 379.5 628.5 381.5 628.9 382.5 629.5 384.4 629.9 385.5 630.4 387.5 630.7 388.5 631.2 390.5 631.5 392.3 631.6 393.5 631.5 394.9 631.3 396.5 630.8 398.5 630.5 399.5 629.6 401.5 629.1 402.5 628.5 403.5 627.5 405.0 626.5 406.3 625.5 407.5 624.6 408.5 623.7 409.5 622.7 410.5 621.6 411.5 620.5 412.4 619.5 413.2 618.5 414.0 617.5 414.8 616.5 415.5 615.0 416.5 613.5 417.5 612.5 418.1 611.5 418.7 610.1 419.5 608.5 420.4 607.5 420.9 606.4 421.5 604.5 422.4 603.5 422.9 602.1 423.5 600.5 424.2 599.5 424.6 597.5 425.4 596.5 425.8 594.8 426.5 593.5 427.0 592.0 427.5 590.5 428.0 589.1 428.5 587.5 429.0 586.0 429.5 584.5 430.0 582.9 430.5 581.5 430.9 579.7 431.5 578.5 431.9 576.7 432.5 575.5 432.9 574.0 433.5 572.5 434.1 571.5 434.6 569.8 435.5 568.5 436.4 567.5 437.3 566.5 438.4 565.7 439.5 565.1 440.5 564.4 441.5 563.5 442.8 562.5 444.1 561.5 445.1 560.5 446.0 559.5 446.8 558.5 447.5 556.9 448.5 555.5 449.3 554.5 449.8 553.2 450.5 551.5 451.3 550.5 451.8 549.1 452.5 547.5 453.3 546.5 453.8 545.1 454.5 543.5 455.3 542.5 455.9 541.4 456.5 539.9 457.5 538.7 458.5 537.7 459.5 537.0 460.5 536.5 461.5 535.7 463.5 535.3 464.5 534.5 465.5 533.1 466.5 531.5 467.2 530.5 467.6 528.5 468.1 526.5 468.5 525.5 468.7 523.5 469.0 521.5 469.2 519.5 469.5 518.5 469.6M452.6 504.5 452.5 503.5 452.4 501.5 452.5 500.1 453.5 498.7 454.5 498.0 455.5 497.4 457.4 496.5 458.5 496.1 460.3 495.5 461.5 495.2 463.5 494.7 464.5 494.4 466.5 494.0 468.5 493.6 469.5 493.4 471.5 493.1 473.5 492.7 475.1 492.5 476.5 492.3 478.5 492.0 480.5 491.7 482.5 491.5 483.5 491.4 485.5 491.2 487.5 491.0 489.5 490.8 491.5 490.7 493.5 490.6 495.5 490.5 496.5 490.5 498.5 490.4 500.5 490.3 502.5 490.3 504.5 490.3 506.5 490.3 508.5 490.3 510.5 490.4 512.5 490.4 514.5 490.5 515.5 490.5 517.5 490.6 519.5 490.7 521.5 490.8 523.5 490.8 525.5 490.9 527.5 491.0 529.5 491.1 531.5 491.2 533.5 491.3 535.5 491.4 537.5 491.5 538.5 491.5 540.5 491.6 542.5 491.7 544.5 491.8 546.5 491.8 548.5 491.9 550.5 491.9 552.5 492.0 554.5 492.0 556.5 492.0 558.5 492.0 560.5 492.0 562.5 492.0 564.5 492.0 566.5 492.0 568.5 491.9 570.5 491.8 572.5 491.8 574.5 491.7 576.5 491.6 577.5 491.5 579.5 491.4 581.5 491.2 583.5 491.1 585.5 491.0 587.5 490.8 589.5 490.6 590.5 490.5 592.5 490.3 594.5 490.1 596.5 489.9 598.5 489.7 599.9 489.5 601.5 489.3 603.5 489.0 605.5 488.8 607.5 488.5 608.5 488.3 610.5 488.0 612.5 487.7 613.6 487.5 615.5 487.1 617.5 486.7 618.8 486.5 620.5 486.1 622.5 485.8 623.9 485.5 625.5 485.2 627.5 484.9 629.5 484.6 630.5 484.5 632.5 484.2 634.5 484.1 636.5 483.9 636.5 484.5 634.5 485.5 633.5 485.5 631.5 486.5 630.5 486.5 629.5 487.5 627.6 488.5 626.5 488.6 625.5 489.6 623.6 490.5 622.5 490.6 621.5 491.6 619.6 492.5 618.5 492.6 617.5 493.6 615.5 493.6 614.5 494.6 612.6 495.5 611.5 495.6 610.5 496.6 608.6 497.5 607.5 497.6 606.5 498.6 604.6 499.5 603.5 499.6 602.5 500.6 600.5 500.6 599.5 501.6 597.6 502.5 596.5 502.6 595.5 503.6 593.5 504.5M569.5 426.6 567.5 426.8 565.5 426.9 563.5 427.1 561.5 427.2 559.5 427.3 557.5 427.3 555.5 427.3 553.5 427.3 551.5 427.2 549.5 427.0 547.5 426.7 546.2 426.5 544.5 426.2 542.5 425.6 541.5 425.3 539.5 424.5 538.5 424.1 537.3 423.5 535.5 422.6 534.5 422.0 533.5 421.4 532.2 420.5 530.9 419.5 529.7 418.5 528.6 417.5 527.6 416.5 526.8 415.5 526.0 414.5 525.4 413.5 524.5 411.6 524.1 410.5 523.7 408.5 523.5 406.5 523.6 404.5 523.9 402.5 524.2 400.5 524.5 399.4 524.9 397.5 525.2 395.5 525.0 393.5 524.1 392.5 523.1 391.5 523.9 390.5 524.9 389.5 526.0 388.5 527.2 387.5 528.3 386.5 529.5 385.5 530.5 384.7 531.5 384.0 532.5 383.4 534.1 382.5 535.5 381.7 536.5 381.2 537.9 380.5 539.5 379.7 540.5 379.2 542.1 378.5 543.5 377.9 544.5 377.4 546.5 376.6 547.5 376.3 548.9 376.5 550.5 377.4 551.5 377.5 553.5 377.6 554.6 377.5 556.5 377.3 558.5 377.0 560.5 376.7 561.9 376.5 563.5 376.2 565.5 375.8 567.3 375.5 568.5 375.3 570.5 374.9 572.5 374.5 573.5 374.3 575.5 374.0 577.5 373.6 578.5 373.5 580.5 373.1 582.5 372.9 584.5 372.6 585.5 372.5 587.5 372.3 589.5 372.2 591.5 372.1 593.5 372.1 595.5 372.2 597.5 372.3 598.8 372.5 600.5 372.8 602.5 373.3 603.5 373.6 605.5 374.5 606.5 375.0 607.5 375.5 608.9 376.5 610.1 377.5 611.2 378.5 612.1 379.5 613.0 380.5 613.7 381.5 614.5 382.6 615.5 384.3 616.2 385.5 616.7 386.5 617.5 388.2 618.0 389.5 618.5 390.8 618.9 392.5 619.2 394.5 619.1 396.5 618.7 398.5 618.4 399.5 617.6 401.5 617.1 402.5 616.5 403.6 615.5 405.1 614.5 406.4 613.6 407.5 612.6 408.5 611.6 409.5 610.6 410.5 609.5 411.4 608.5 412.2 607.5 413.0 606.5 413.7 605.3 414.5 603.7 415.5 602.5 416.2 601.5 416.8 600.2 417.5 598.5 418.4 597.5 418.9 596.1 419.5 594.5 420.2 593.5 420.6 591.5 421.4 590.5 421.8 588.5 422.5 587.5 422.8 585.5 423.4 584.5 423.7 582.5 424.2 581.3 424.5 579.5 424.9 577.5 425.3 576.5 425.5 574.5 425.9 572.5 426.2 570.5 426.5 569.5 426.6M500.5 466.5 498.5 466.6 496.5 466.7 494.5 466.7 492.5 466.8 490.5 466.8 488.5 466.7 486.5 466.7 484.5 466.6 483.1 466.5 481.5 466.4 479.5 466.2 477.5 466.1 475.5 465.8 473.5 465.6 472.5 465.4 470.5 465.1 468.5 464.7 467.4 464.5 465.5 464.0 463.6 463.5 462.5 463.1 460.8 462.5 459.5 461.9 458.5 461.5 456.8 460.5 455.5 459.6 454.5 458.8 453.5 458.0 452.5 457.0 451.5 455.9 450.5 454.7 449.7 453.5 449.0 452.5 448.5 451.5 447.7 449.5 447.4 448.5 447.2 446.5 447.5 444.5 447.9 443.5 448.7 442.5 450.1 441.5 451.5 440.8 452.5 440.4 454.5 439.7 455.5 439.4 457.5 438.8 458.5 438.5 460.5 438.0 462.5 437.5 463.5 437.3 465.5 436.9 467.3 436.5 468.5 436.3 470.5 435.9 472.5 435.5 473.5 435.4 475.5 435.0 477.5 434.7 479.0 434.5 480.5 434.3 482.5 434.0 484.5 433.8 486.5 433.5 487.5 433.4 489.5 433.2 491.5 433.0 493.5 432.8 495.5 432.6 496.5 432.5 498.5 432.3 500.5 432.2 502.5 432.0 504.5 431.9 506.5 431.8 508.5 431.7 510.5 431.6 512.5 431.5 513.5 431.5 515.5 431.4 517.5 431.4 519.5 431.4 521.5 431.4 523.5 431.4 525.5 431.4 527.5 431.5 528.5 431.5 530.5 431.6 532.5 431.8 534.5 432.0 536.5 432.4 537.5 432.6 539.5 433.1 540.8 433.5 542.5 434.2 543.5 434.6 545.0 435.5 546.5 436.5 547.5 437.4 548.5 438.4 549.3 439.5 549.7 440.5 550.1 442.5 549.5 444.5 548.9 445.5 547.9 446.5 546.7 447.5 545.5 448.3 544.5 448.9 543.4 449.5 541.5 450.5 540.5 451.0 539.5 451.5 537.5 452.4 536.5 452.9 535.2 453.5 533.5 454.3 532.5 454.7 530.8 455.5 529.5 456.1 528.5 456.6 526.9 457.5 525.5 458.3 524.5 458.9 523.5 459.5 522.1 460.5 520.6 461.5 519.5 462.2 518.5 462.8 517.0 463.5 515.5 464.1 514.2 464.5 512.5 464.9 510.5 465.4 509.5 465.6 507.5 465.9 505.5 466.1 503.5 466.3 501.5 466.5 500.5 466.5M473.3 504.5 473.0 502.5 472.8 500.5 473.5 498.9 474.5 498.2 476.1 497.5 477.5 497.1 479.5 496.5 480.5 496.3 482.5 495.9 484.3 495.5 485.5 495.3 487.5 495.0 489.5 494.8 491.5 494.5 492.5 494.4 494.5 494.2 496.5 494.1 498.5 494.0 500.5 493.9 502.5 493.8 504.5 493.7 506.5 493.7 508.5 493.7 510.5 493.7 512.5 493.7 514.5 493.7 516.5 493.8 518.5 493.8 520.5 493.9 522.5 494.0 524.5 494.1 526.5 494.2 528.5 494.3 530.5 494.5 531.5 494.5 533.5 494.7 535.5 494.9 537.5 495.1 539.5 495.3 541.0 495.5 542.5 495.9 544.5 496.4 544.5 497.5 544.0 498.5 543.4 499.5 542.5 501.4 542.0 502.5 541.5 503.6M569.5 420.6 567.5 420.7 565.5 420.8 563.5 420.8 561.5 420.8 559.5 420.7 557.5 420.6 556.0 420.5 554.5 420.3 552.5 420.1 550.5 419.7 549.3 419.5 547.5 419.1 545.5 418.6 544.5 418.3 542.5 417.6 541.5 417.2 539.9 416.5 538.5 415.8 537.5 415.3 536.3 414.5 535.0 413.5 533.8 412.5 532.9 411.5 532.1 410.5 531.5 409.4 530.7 407.5 530.4 406.5 530.2 404.5 530.3 402.5 530.5 401.4 531.0 399.5 531.5 397.9 532.0 396.5 532.5 395.5 533.5 393.5 534.1 392.5 534.7 391.5 535.5 390.3 536.5 389.1 537.5 388.4 539.2 387.5 540.5 387.0 542.0 386.5 543.5 386.0 545.5 385.5 546.5 385.2 548.5 384.8 549.6 384.5 551.5 384.1 553.5 383.6 554.5 383.4 556.5 383.0 558.5 382.6 559.5 382.5 561.5 382.1 563.5 381.8 565.1 381.5 566.5 381.3 568.5 381.0 570.5 380.7 572.5 380.5 573.5 380.4 575.5 380.2 577.5 380.1 579.5 380.0 581.5 380.0 583.5 380.1 585.5 380.3 587.4 380.5 588.5 380.7 590.5 381.1 591.8 381.5 593.5 382.1 594.5 382.5 596.3 383.5 597.5 384.2 598.5 384.9 599.5 385.7 600.5 386.7 601.5 387.7 602.5 388.8 603.5 390.2 604.3 391.5 604.8 392.5 605.4 394.5 605.6 395.5 605.6 397.5 605.5 398.6 605.1 400.5 604.5 402.0 603.7 403.5 603.1 404.5 602.4 405.5 601.5 406.6 600.5 407.7 599.5 408.7 598.5 409.6 597.4 410.5 596.1 411.5 594.6 412.5 593.5 413.2 592.5 413.8 591.2 414.5 589.5 415.3 588.5 415.8 586.8 416.5 585.5 417.0 584.1 417.5 582.5 418.0 580.9 418.5 579.5 418.9 577.5 419.3 576.5 419.6 574.5 419.9 572.5 420.2 570.5 420.5 569.5 420.6M490.5 462.5 488.5 462.6 486.5 462.6 484.5 462.5 483.3 462.5 481.5 462.4 479.5 462.2 477.5 462.0 475.5 461.7 474.0 461.5 472.5 461.2 470.5 460.8 469.5 460.5 467.5 459.9 466.3 459.5 464.5 458.8 463.5 458.3 461.8 457.5 460.5 456.7 459.5 456.1 458.5 455.4 457.5 454.5 456.4 453.5 455.5 452.5 454.5 451.0 453.8 449.5 453.6 447.5 454.1 445.5 454.6 444.5 455.5 443.5 456.7 442.5 458.4 441.5 459.5 441.0 460.7 440.5 462.5 439.9 463.6 439.5 465.5 439.0 467.3 438.5 468.5 438.2 470.5 437.8 471.9 437.5 473.5 437.2 475.5 436.9 477.5 436.5 478.5 436.4 480.5 436.1 482.5 435.9 484.5 435.6 485.6 435.5 487.5 435.3 489.5 435.1 491.5 435.0 493.5 434.9 495.5 434.7 497.5 434.7 499.5 434.6 501.5 434.5 503.5 434.5 505.5 434.5 507.5 434.6 509.5 434.6 511.5 434.7 513.5 434.8 515.5 435.0 517.5 435.2 519.5 435.4 520.5 435.6 522.5 435.9 524.5 436.2 525.7 436.5 527.5 436.9 529.5 437.5 530.5 437.8 532.2 438.5 533.5 439.1 534.5 439.6 535.8 440.5 536.9 441.5 537.5 442.5 537.8 444.5 537.4 445.5 536.5 446.6 535.5 447.5 533.9 448.5 532.5 449.3 531.5 449.8 530.1 450.5 528.5 451.2 527.5 451.7 525.5 452.5 524.5 452.9 523.0 453.5 521.5 454.1 520.4 454.5 518.5 455.2 517.5 455.6 515.5 456.4 514.5 456.7 512.5 457.5 511.5 457.9 509.8 458.5 508.5 459.0 507.1 459.5 505.5 460.0 503.9 460.5 502.5 460.9 500.5 461.3 499.5 461.5 497.5 461.9 495.5 462.1 493.5 462.3 491.5 462.5 490.5 462.5M567.5 414.6 565.5 414.7 563.5 414.8 561.5 414.8 559.5 414.8 557.5 414.6 556.3 414.5 554.5 414.3 552.5 413.9 550.7 413.5 549.5 413.2 547.5 412.5 546.5 412.1 545.1 411.5 543.5 410.6 542.5 410.0 541.5 409.2 540.5 408.3 539.5 407.0 538.7 405.5 538.4 404.5 538.1 402.5 538.3 400.5 538.5 399.5 539.3 397.5 539.9 396.5 540.6 395.5 541.5 394.5 542.7 393.5 544.2 392.5 545.5 391.9 546.5 391.4 548.5 390.7 549.5 390.4 551.5 389.8 552.9 389.5 554.5 389.1 556.5 388.8 558.2 388.5 559.5 388.3 561.5 388.1 563.5 387.9 565.5 387.7 567.5 387.7 569.5 387.6 571.5 387.7 573.5 387.8 575.5 388.1 577.5 388.4 578.5 388.6 580.5 389.2 581.5 389.5 583.5 390.4 584.5 390.9 585.5 391.5 586.9 392.5 587.9 393.5 588.7 394.5 589.5 395.8 590.1 397.5 590.3 399.5 590.0 401.5 589.5 402.8 588.6 404.5 587.8 405.5 586.9 406.5 585.9 407.5 584.7 408.5 583.5 409.3 582.5 409.9 581.5 410.5 579.5 411.5 578.5 411.9 577.0 412.5 575.5 413.0 573.7 413.5 572.5 413.8 570.5 414.2 568.5 414.5 567.5 414.6M494.5 456.6 492.5 456.9 490.5 457.1 488.5 457.2 486.5 457.3 484.5 457.3 482.5 457.3 480.5 457.2 478.5 457.0 476.5 456.7 475.3 456.5 473.5 456.1 471.5 455.6 470.5 455.3 468.5 454.6 467.5 454.2 466.0 453.5 464.5 452.6 463.5 451.9 462.5 451.0 461.5 449.7 461.0 448.5 461.1 446.5 461.5 445.5 462.5 444.1 463.5 443.2 464.5 442.5 466.5 441.5 467.5 441.2 469.4 440.5 470.5 440.2 472.5 439.7 473.5 439.4 475.5 439.0 477.5 438.6 478.5 438.5 480.5 438.2 482.5 437.9 484.5 437.7 486.4 437.5 487.5 437.4 489.5 437.3 491.5 437.2 493.5 437.1 495.5 437.0 497.5 437.0 499.5 437.0 501.5 437.1 503.5 437.2 505.5 437.3 507.5 437.5 508.5 437.6 510.5 437.8 512.5 438.1 514.5 438.4 515.5 438.6 517.5 439.1 519.0 439.5 520.5 440.0 521.8 440.5 523.5 441.3 524.5 442.0 525.5 443.0 526.1 444.5 525.5 446.0 524.5 447.0 523.5 447.8 522.2 448.5 520.5 449.4 519.5 449.8 517.9 450.5 516.5 451.0 515.2 451.5 513.5 452.1 512.2 452.5 510.5 453.0 508.8 453.5 507.5 453.9 505.5 454.4 504.5 454.6 502.5 455.1 500.8 455.5 499.5 455.8 497.5 456.2 495.5 456.5 494.5 456.6M562.5 405.6 560.5 405.8 558.5 405.7 556.8 405.5 555.5 405.1 553.9 404.5 552.5 403.5 551.8 402.5 551.8 400.5 552.5 399.5 553.8 398.5 555.5 397.8 556.8 397.5 558.5 397.3 560.5 397.2 562.5 397.3 563.6 397.5 565.5 398.1 566.5 398.5 567.8 399.5 568.5 400.6 568.5 401.9 567.5 403.5 566.5 404.2 565.5 404.7 563.5 405.4 562.5 405.6M495.5 451.6 493.5 451.8 491.5 452.0 489.5 452.2 487.5 452.2 485.5 452.2 483.5 452.2 481.5 452.0 479.5 451.7 478.3 451.5 476.5 451.1 474.8 450.5 473.5 449.9 472.5 449.3 471.5 448.3 470.8 446.5 471.5 444.7 472.5 443.8 473.5 443.1 474.8 442.5 476.5 442.0 478.0 441.5 479.5 441.2 481.5 440.8 483.3 440.5 484.5 440.4 486.5 440.2 488.5 440.0 490.5 439.9 492.5 439.9 494.5 439.9 496.5 439.9 498.5 440.0 500.5 440.2 502.5 440.4 503.5 440.5 505.5 440.9 507.5 441.4 508.5 441.6 510.5 442.4 511.5 443.0 512.5 443.8 512.8 445.5 512.0 446.5 510.5 447.4 509.5 447.9 508.1 448.5 506.5 449.1 505.2 449.5 503.5 450.0 501.5 450.5 500.5 450.7 498.5 451.1 496.5 451.4 495.5 451.6"/>
<defs><clipPath id="cd"><rect x="426" y="287" width="295" height="218"/></clipPath></defs><g clip-path="url(#cd)">
<polygon fill="#2800f0" points="424.9,439.3 618.7,286.3 424.9,286.3"/>
<polygon fill="#2800f0" points="601.2,508.4 724.6,447.1 724.6,508.4"/>
<polygon fill="#000" points="421.9,442.0 622.2,284.1 635.8,284.2 421.9,452.1"/>
<polygon fill="#000" points="578.5,507.3 725.6,438.6 725.6,447.1 597.7,507.3"/>
</g>
<path stroke="#222" stroke-width="0.8" fill="none" d="M425.9 287.3V505.4H721.6"/>
<path stroke="#111" stroke-width="1" d="M423.4 500.6h2.5M423.4 490.9h2.5M420.9 481.2h5.0M423.4 471.5h2.5M423.4 461.8h2.5M423.4 452.1h2.5M423.4 442.4h2.5M420.9 432.7h5.0M423.4 423.0h2.5M423.4 413.3h2.5M423.4 403.6h2.5M423.4 393.9h2.5M420.9 384.2h5.0M423.4 374.5h2.5M423.4 364.8h2.5M423.4 355.2h2.5M423.4 345.5h2.5M420.9 335.8h5.0M423.4 326.1h2.5M423.4 316.4h2.5M423.4 306.7h2.5M423.4 297.0h2.5M420.9 287.3h5.0M425.9 505.4v5.0M437.7 505.4v2.5M449.6 505.4v2.5M461.4 505.4v2.5M473.2 505.4v2.5M485.0 505.4v5.0M496.9 505.4v2.5M508.7 505.4v2.5M520.5 505.4v2.5M532.4 505.4v2.5M544.2 505.4v5.0M556.0 505.4v2.5M567.8 505.4v2.5M579.7 505.4v2.5M591.5 505.4v2.5M603.3 505.4v5.0M615.1 505.4v2.5M627.0 505.4v2.5M638.8 505.4v2.5M650.6 505.4v2.5M662.5 505.4v5.0M674.3 505.4v2.5M686.1 505.4v2.5M697.9 505.4v2.5M709.8 505.4v2.5M721.6 505.4v5.0"/>
<defs><linearGradient id="gd" x1="0" y1="0" x2="0" y2="1"><stop offset="0.000" stop-color="#690a0a"/><stop offset="0.080" stop-color="#a01212"/><stop offset="0.160" stop-color="#cd1e1c"/><stop offset="0.250" stop-color="#d2341e"/><stop offset="0.320" stop-color="#de6928"/><stop offset="0.380" stop-color="#e8a026"/><stop offset="0.430" stop-color="#f0d20f"/><stop offset="0.470" stop-color="#f5f000"/><stop offset="0.510" stop-color="#bef014"/><stop offset="0.550" stop-color="#8ceb28"/><stop offset="0.590" stop-color="#78eb5a"/><stop offset="0.630" stop-color="#6ee6d2"/><stop offset="0.670" stop-color="#5fcdf5"/><stop offset="0.750" stop-color="#468cf0"/><stop offset="0.820" stop-color="#2d3cf0"/><stop offset="0.880" stop-color="#280af0"/><stop offset="1.000" stop-color="#2800f0"/></linearGradient></defs>
<rect x="723.1" y="287.3" width="4.8" height="218.1" fill="url(#gd)"/>
<path stroke="#111" stroke-width="1" fill="none" d="M727.9 287.3V505.4M727.9 505.4h5.0M727.9 491.8h2.5M727.9 478.1h5.0M727.9 464.5h2.5M727.9 450.9h5.0M727.9 437.2h2.5M727.9 423.6h5.0M727.9 410.0h2.5M727.9 396.4h5.0M727.9 382.7h2.5M727.9 369.1h5.0M727.9 355.5h2.5M727.9 341.8h5.0M727.9 328.2h2.5M727.9 314.6h5.0M727.9 300.9h2.5M727.9 287.3h5.0"/>
<g font-size="7.39" fill="#111"><text x="419.9" y="483.8" text-anchor="end" textLength="13.02" lengthAdjust="spacingAndGlyphs">250</text><text x="419.9" y="435.3" text-anchor="end" textLength="13.02" lengthAdjust="spacingAndGlyphs">300</text><text x="419.9" y="386.9" text-anchor="end" textLength="13.02" lengthAdjust="spacingAndGlyphs">350</text><text x="419.9" y="338.4" text-anchor="end" textLength="13.02" lengthAdjust="spacingAndGlyphs">400</text><text x="419.9" y="289.9" text-anchor="end" textLength="13.02" lengthAdjust="spacingAndGlyphs">450</text><text x="425.9" y="518.5" text-anchor="middle" textLength="13.02" lengthAdjust="spacingAndGlyphs">300</text><text x="485.0" y="518.5" text-anchor="middle" textLength="13.02" lengthAdjust="spacingAndGlyphs">350</text><text x="544.2" y="518.5" text-anchor="middle" textLength="13.02" lengthAdjust="spacingAndGlyphs">400</text><text x="603.3" y="518.5" text-anchor="middle" textLength="13.02" lengthAdjust="spacingAndGlyphs">450</text><text x="662.5" y="518.5" text-anchor="middle" textLength="13.02" lengthAdjust="spacingAndGlyphs">500</text><text x="721.6" y="518.5" text-anchor="middle" textLength="13.02" lengthAdjust="spacingAndGlyphs">550</text><text x="735.6" y="508.0" textLength="3.76" lengthAdjust="spacingAndGlyphs">0</text><text x="735.6" y="480.8" textLength="11.04" lengthAdjust="spacingAndGlyphs">0,5</text><text x="735.6" y="453.5" textLength="3.76" lengthAdjust="spacingAndGlyphs">1</text><text x="735.6" y="426.3" textLength="11.04" lengthAdjust="spacingAndGlyphs">1,5</text><text x="735.6" y="399.0" textLength="3.76" lengthAdjust="spacingAndGlyphs">2</text><text x="735.6" y="371.7" textLength="11.04" lengthAdjust="spacingAndGlyphs">2,5</text><text x="735.6" y="344.5" textLength="3.76" lengthAdjust="spacingAndGlyphs">3</text><text x="735.6" y="317.2" textLength="11.04" lengthAdjust="spacingAndGlyphs">3,5</text><text x="735.6" y="289.9" textLength="3.76" lengthAdjust="spacingAndGlyphs">4</text></g>
<text x="588.0" y="278.9" text-anchor="middle" font-weight="bold" font-size="9.7" fill="#111">d: biscuit effluent</text>
<text x="574.90" y="528.07" text-anchor="middle" font-weight="bold" font-size="6.80" fill="#111" textLength="36.0" lengthAdjust="spacingAndGlyphs">&#955;<tspan font-size="4.08" dy="1.0">em</tspan><tspan dy="-1.0"> (nm)</tspan></text>
<text transform="translate(402.46 393.00) rotate(-90)" text-anchor="middle" font-weight="bold" font-size="6.40" fill="#111" textLength="32.1" lengthAdjust="spacingAndGlyphs">&#955;<tspan font-size="3.84" dy="1.0">ex</tspan><tspan dy="-1.0"> (nm)</tspan></text>
<text transform="translate(755.07 391.50) rotate(-90)" text-anchor="middle" font-weight="bold" font-size="7.40" fill="#111" textLength="147.1" lengthAdjust="spacingAndGlyphs">Fluorescence intensity (Raman units)</text>
<text x="495.0" y="447.0" font-weight="bold" font-size="8" fill="#fff" text-anchor="middle">T<tspan font-size="5" dy="1.5">1</tspan></text>
<text x="503.0" y="501.5" font-weight="bold" font-size="8" fill="#fff" text-anchor="middle">T<tspan font-size="5" dy="1.5">2</tspan></text>
<text x="565.5" y="402.2" font-weight="bold" font-size="8" fill="#fff" text-anchor="middle">C</text>
<text x="571.2" y="503.4" font-weight="bold" font-size="8" fill="#fff" text-anchor="middle">A</text>
</svg></body></html>
